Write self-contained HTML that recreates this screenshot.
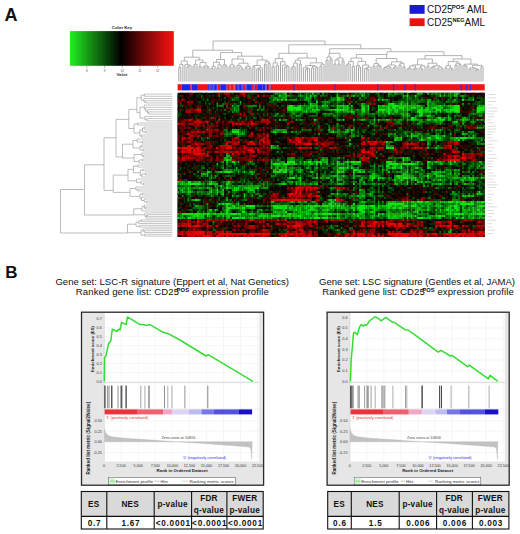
<!DOCTYPE html>
<html><head><meta charset="utf-8"><style>
html,body{margin:0;padding:0;background:#fff;}
body{width:520px;height:534px;position:relative;overflow:hidden;font-family:"Liberation Sans", sans-serif;}
</style></head><body>
<svg width="520" height="534" viewBox="0 0 520 534" style="position:absolute;left:0;top:0">
<defs>
<filter id="blur1" x="-2%" y="-2%" width="104%" height="104%" color-interpolation-filters="sRGB"><feGaussianBlur stdDeviation="0.7"/></filter>
<filter id="blur2" x="-1%" y="-20%" width="102%" height="140%" color-interpolation-filters="sRGB"><feGaussianBlur stdDeviation="0.6 0.3"/></filter>
<linearGradient id="ckey" x1="0" x2="1" y1="0" y2="0">
<stop offset="0" stop-color="#22ee22"/><stop offset="0.49" stop-color="#000"/><stop offset="1" stop-color="#ff1010"/>
</linearGradient>
</defs>
<text x="4.6" y="20.6" font-family='"Liberation Sans", sans-serif' font-weight="bold" font-size="18" fill="#111">A</text>
<rect x="70" y="31.1" width="103.8" height="34.7" fill="url(#ckey)"/>
<text x="122" y="28.6" font-family='"Liberation Sans", sans-serif' font-size="4.3" font-weight="bold" text-anchor="middle" fill="#222">Color Key</text>
<line x1="86.9" y1="66" x2="86.9" y2="68" stroke="#555" stroke-width="0.4"/>
<text x="86.9" y="72.2" font-family='"Liberation Sans", sans-serif' font-size="3.0" text-anchor="middle" fill="#555">8</text>
<line x1="104.6" y1="66" x2="104.6" y2="68" stroke="#555" stroke-width="0.4"/>
<text x="104.6" y="72.2" font-family='"Liberation Sans", sans-serif' font-size="3.0" text-anchor="middle" fill="#555">9</text>
<line x1="122.2" y1="66" x2="122.2" y2="68" stroke="#555" stroke-width="0.4"/>
<text x="122.2" y="72.2" font-family='"Liberation Sans", sans-serif' font-size="3.0" text-anchor="middle" fill="#555">10</text>
<line x1="139.9" y1="66" x2="139.9" y2="68" stroke="#555" stroke-width="0.4"/>
<text x="139.9" y="72.2" font-family='"Liberation Sans", sans-serif' font-size="3.0" text-anchor="middle" fill="#555">11</text>
<line x1="157.6" y1="66" x2="157.6" y2="68" stroke="#555" stroke-width="0.4"/>
<text x="157.6" y="72.2" font-family='"Liberation Sans", sans-serif' font-size="3.0" text-anchor="middle" fill="#555">12</text>
<text x="122" y="76.4" font-family='"Liberation Sans", sans-serif' font-size="4.2" font-weight="bold" text-anchor="middle" fill="#333">Value</text>
<path d="M178.8 67.5V81.6M180.8 67.5V81.6M182.9 64.4V81.6M186.9 66.9V81.6M189.0 66.9V81.6M191.0 65.7V81.6M184.9 64.7V81.6M193.0 66.3V81.6M195.0 66.3V81.6M197.0 64.4V81.6M199.0 66.6V81.6M201.0 66.6V81.6M203.0 66.9V81.6M205.0 66.9V81.6M207.0 67.3V81.6M209.0 67.3V81.6M211.0 68.2V81.6M213.0 68.2V81.6M215.0 66.4V81.6M217.0 67.8V81.6M219.0 67.8V81.6M221.0 64.8V81.6M225.0 65.8V81.6M227.0 65.8V81.6M223.0 64.8V81.6M229.0 67.1V81.6M231.0 67.1V81.6M233.0 66.7V81.6M235.0 66.7V81.6M241.0 68.8V81.6M243.0 68.8V81.6M239.0 67.0V81.6M237.0 65.5V81.6M245.0 67.9V81.6M247.0 67.9V81.6M249.0 68.2V81.6M251.0 68.2V81.6M252.9 66.5V81.6M254.8 66.5V81.6M258.6 69.7V81.6M260.6 69.7V81.6M256.8 68.8V81.6M262.4 67.9V81.6M264.4 64.5V81.6M266.2 64.5V81.6M268.1 63.3V81.6M270.1 63.3V81.6M272.1 66.7V81.6M274.2 66.7V81.6M276.3 65.6V81.6M278.4 65.6V81.6M284.7 67.5V81.6M286.8 67.5V81.6M288.9 66.4V81.6M282.6 65.1V81.6M280.5 61.7V81.6M291.0 67.9V81.6M293.1 67.9V81.6M295.1 66.7V81.6M297.2 63.0V81.6M299.3 64.2V81.6M301.3 64.2V81.6M305.4 69.5V81.6M307.5 69.5V81.6M309.6 68.6V81.6M303.4 67.7V81.6M311.6 68.0V81.6M313.7 68.0V81.6M315.7 67.7V81.6M317.8 67.7V81.6M319.9 66.3V81.6M321.9 66.3V81.6M324.0 64.2V81.6M326.0 60.5V81.6M328.0 60.5V81.6M330.0 59.2V81.6M332.0 59.2V81.6M334.0 64.1V81.6M336.0 64.1V81.6M338.0 64.0V81.6M340.0 64.0V81.6M342.0 60.8V81.6M344.0 60.8V81.6M346.0 65.3V81.6M348.1 65.3V81.6M350.2 64.0V81.6M352.3 66.2V81.6M354.3 66.2V81.6M358.5 67.0V81.6M360.6 67.0V81.6M356.4 65.5V81.6M366.8 69.5V81.6M368.9 69.5V81.6M364.7 68.6V81.6M371.0 67.2V81.6M362.7 65.0V81.6M373.0 66.2V81.6M375.0 66.2V81.6M379.0 66.2V81.6M381.0 66.2V81.6M377.0 65.3V81.6M383.0 68.8V81.6M385.0 68.8V81.6M387.0 67.5V81.6M389.0 67.7V81.6M391.0 67.7V81.6M393.0 67.9V81.6M395.0 67.9V81.6M397.0 66.9V81.6M399.0 65.0V81.6M401.0 65.0V81.6M403.0 67.0V81.6M405.0 67.0V81.6M407.0 69.0V81.6M409.0 69.0V81.6M411.0 68.0V81.6M413.0 69.1V81.6M415.0 69.1V81.6M417.0 68.2V81.6M421.0 69.4V81.6M423.0 69.4V81.6M419.0 67.9V81.6M425.0 65.9V81.6M427.0 66.4V81.6M429.0 66.4V81.6M431.0 67.6V81.6M433.0 67.6V81.6M435.0 66.7V81.6M437.0 68.9V81.6M439.0 68.9V81.6M441.0 68.8V81.6M443.0 68.8V81.6M445.0 68.0V81.6M447.0 68.0V81.6M451.0 69.0V81.6M453.0 69.0V81.6M449.0 68.0V81.6M455.0 65.1V81.6M457.0 65.1V81.6M459.0 64.5V81.6M461.0 64.5V81.6M465.0 66.2V81.6M467.0 66.2V81.6M463.0 65.2V81.6M469.0 68.9V81.6M471.0 68.9V81.6M475.0 70.5V81.6M477.0 70.5V81.6M479.0 69.6V81.6M473.0 68.7V81.6M481.0 66.7V81.6M483.0 66.7V81.6" stroke="#a6a6a6" stroke-width="1.0" fill="none"/>
<path d="M178.8 67.5H180.8M179.8 64.4H182.9M179.8 64.4V67.5M186.9 66.9H189.0M187.9 65.7H191.0M187.9 65.7V66.9M184.9 64.7H189.5M189.5 64.7V65.7M181.3 61.0H187.2M181.3 61.0V64.4M187.2 61.0V64.7M193.0 66.3H195.0M194.0 64.4H197.0M194.0 64.4V66.3M199.0 66.6H201.0M203.0 66.9H205.0M207.0 67.3H209.0M204.0 66.0H208.0M204.0 66.0V66.9M208.0 66.0V67.3M200.0 62.5H206.0M200.0 62.5V66.6M206.0 62.5V66.0M195.5 60.0H203.0M195.5 60.0V64.4M203.0 60.0V62.5M184.3 57.2H199.2M184.3 57.2V61.0M199.2 57.2V60.0M211.0 68.2H213.0M212.0 66.4H215.0M212.0 66.4V68.2M217.0 67.8H219.0M218.0 64.8H221.0M218.0 64.8V67.8M213.5 62.3H219.5M213.5 62.3V66.4M219.5 62.3V64.8M225.0 65.8H227.0M223.0 64.8H226.0M226.0 64.8V65.8M216.5 59.5H224.5M216.5 59.5V62.3M224.5 59.5V64.8M229.0 67.1H231.0M233.0 66.7H235.0M230.0 64.9H234.0M230.0 64.9V67.1M234.0 64.9V66.7M241.0 68.8H243.0M239.0 67.0H242.0M242.0 67.0V68.8M237.0 65.5H240.5M240.5 65.5V67.0M245.0 67.9H247.0M249.0 68.2H251.0M246.0 66.3H250.0M246.0 66.3V67.9M250.0 66.3V68.2M238.8 63.2H248.0M238.8 63.2V65.5M248.0 63.2V66.3M232.0 59.0H243.4M232.0 59.0V64.9M243.4 59.0V63.2M252.9 66.5H254.8M258.6 69.7H260.6M256.8 68.8H259.6M259.6 68.8V69.7M258.2 67.9H262.4M258.2 67.9V68.8M253.9 65.5H260.3M253.9 65.5V66.5M260.3 65.5V67.9M264.4 64.5H266.2M268.1 63.3H270.1M265.3 61.7H269.1M265.3 61.7V64.5M269.1 61.7V63.3M257.1 60.0H267.2M257.1 60.0V65.5M267.2 60.0V61.7M237.7 56.2H262.2M237.7 56.2V59.0M262.2 56.2V60.0M220.5 52.6H241.7M220.5 52.6V59.5M241.7 52.6V56.2M192.8 50.2H232.6M192.8 50.2V57.2M232.6 50.2V52.6M272.1 66.7H274.2M276.3 65.6H278.4M273.1 62.9H277.3M273.1 62.9V66.7M277.3 62.9V65.6M284.7 67.5H286.8M285.8 66.4H288.9M285.8 66.4V67.5M282.6 65.1H287.4M287.4 65.1V66.4M280.5 61.7H285.0M285.0 61.7V65.1M275.2 58.5H282.7M275.2 58.5V62.9M282.7 58.5V61.7M291.0 67.9H293.1M292.1 66.7H295.1M292.1 66.7V67.9M293.6 63.0H297.2M293.6 63.0V66.7M299.3 64.2H301.3M295.4 60.1H300.3M295.4 60.1V63.0M300.3 60.1V64.2M305.4 69.5H307.5M306.5 68.6H309.6M306.5 68.6V69.5M303.4 67.7H308.0M308.0 67.7V68.6M311.6 68.0H313.7M315.7 67.7H317.8M312.6 66.4H316.8M312.6 66.4V68.0M316.8 66.4V67.7M305.7 65.5H314.7M305.7 65.5V67.7M314.7 65.5V66.4M319.9 66.3H321.9M320.9 64.2H324.0M320.9 64.2V66.3M310.2 62.8H322.4M310.2 62.8V65.5M322.4 62.8V64.2M297.8 58.0H316.3M297.8 58.0V60.1M316.3 58.0V62.8M279.0 53.3H307.1M279.0 53.3V58.5M307.1 53.3V58.0M326.0 60.5H328.0M330.0 59.2H332.0M327.0 57.0H331.0M327.0 57.0V60.5M331.0 57.0V59.2M334.0 64.1H336.0M338.0 64.0H340.0M335.0 60.0H339.0M335.0 60.0V64.1M339.0 60.0V64.0M342.0 60.8H344.0M337.0 58.0H343.0M337.0 58.0V60.0M343.0 58.0V60.8M329.0 53.3H340.0M329.0 53.3V57.0M340.0 53.3V58.0M346.0 65.3H348.1M347.1 64.0H350.2M347.1 64.0V65.3M352.3 66.2H354.3M348.6 61.6H353.3M348.6 61.6V64.0M353.3 61.6V66.2M358.5 67.0H360.6M356.4 65.5H359.5M359.5 65.5V67.0M366.8 69.5H368.9M364.7 68.6H367.8M367.8 68.6V69.5M366.3 67.2H371.0M366.3 67.2V68.6M362.7 65.0H368.6M368.6 65.0V67.2M358.0 61.4H365.6M358.0 61.4V65.5M365.6 61.4V65.0M351.0 58.0H361.8M351.0 58.0V61.6M361.8 58.0V61.4M373.0 66.2H375.0M379.0 66.2H381.0M377.0 65.3H380.0M380.0 65.3V66.2M374.0 63.6H378.5M374.0 63.6V66.2M378.5 63.6V65.3M383.0 68.8H385.0M384.0 67.5H387.0M384.0 67.5V68.8M389.0 67.7H391.0M385.5 66.6H390.0M385.5 66.6V67.5M390.0 66.6V67.7M393.0 67.9H395.0M394.0 66.9H397.0M394.0 66.9V67.9M387.8 65.0H395.5M387.8 65.0V66.6M395.5 65.0V66.9M399.0 65.0H401.0M403.0 67.0H405.0M400.0 63.3H404.0M400.0 63.3V65.0M404.0 63.3V67.0M391.6 61.8H402.0M391.6 61.8V65.0M402.0 61.8V63.3M376.2 58.5H396.8M376.2 58.5V63.6M396.8 58.5V61.8M356.4 54.5H387.0M356.4 54.5V58.0M386.5 54.5V58.5M407.0 69.0H409.0M408.0 68.0H411.0M408.0 68.0V69.0M413.0 69.1H415.0M414.0 68.2H417.0M414.0 68.2V69.1M409.5 65.9H415.5M409.5 65.9V68.0M415.5 65.9V68.2M421.0 69.4H423.0M419.0 67.9H422.0M422.0 67.9V69.4M420.5 65.9H425.0M420.5 65.9V67.9M412.5 64.9H422.8M412.5 64.9V65.9M422.8 64.9V65.9M427.0 66.4H429.0M431.0 67.6H433.0M432.0 66.7H435.0M432.0 66.7V67.6M437.0 68.9H439.0M441.0 68.8H443.0M438.0 67.2H442.0M438.0 67.2V68.9M442.0 67.2V68.8M433.5 65.8H440.0M433.5 65.8V66.7M440.0 65.8V67.2M428.0 63.2H436.8M428.0 63.2V66.4M436.8 63.2V65.8M417.6 59.0H432.4M417.6 59.0V64.9M432.4 59.0V63.2M445.0 68.0H447.0M451.0 69.0H453.0M449.0 68.0H452.0M452.0 68.0V69.0M446.0 65.7H450.5M446.0 65.7V68.0M450.5 65.7V68.0M455.0 65.1H457.0M459.0 64.5H461.0M456.0 63.2H460.0M456.0 63.2V65.1M460.0 63.2V64.5M448.2 61.6H458.0M448.2 61.6V65.7M458.0 61.6V63.2M465.0 66.2H467.0M463.0 65.2H466.0M466.0 65.2V66.2M469.0 68.9H471.0M475.0 70.5H477.0M476.0 69.6H479.0M476.0 69.6V70.5M473.0 68.7H477.5M477.5 68.7V69.6M470.0 67.8H475.2M470.0 67.8V68.9M475.2 67.8V68.7M481.0 66.7H483.0M472.6 65.3H482.0M472.6 65.3V67.8M482.0 65.3V66.7M464.5 64.1H477.3M464.5 64.1V65.2M477.3 64.1V65.3M453.1 59.0H470.9M453.1 59.0V61.6M470.9 59.0V64.1M425.0 55.6H462.0M425.0 55.6V59.0M462.0 55.6V59.0M387.0 51.7H444.0M387.0 51.7V54.5M444.0 51.7V55.6M329.7 48.7H390.9M329.7 48.7V53.3M390.9 48.7V51.7M288.8 44.8H360.8M288.8 44.8V53.3M360.8 44.8V48.7M213.0 41.0H325.0M213.0 41.0V50.2M325.0 41.0V44.8" stroke="#9c9c9c" stroke-width="0.75" fill="none"/>
<path d="M144.3 94.1H172.3M144.3 96.3H172.3M145.2 100.7H172.3M145.2 102.9H172.3M143.9 98.5H172.3M148.6 111.9H172.3M148.6 114.1H172.3M147.6 109.6H172.3M145.7 107.4H172.3M144.3 105.1H172.3M146.8 118.6H172.3M146.8 120.9H172.3M144.9 116.4H172.3M137.5 123.0H172.3M137.5 125.0H172.3M144.1 127.0H172.3M144.1 129.0H172.3M145.3 131.0H172.3M145.3 133.0H172.3M141.3 135.0H172.3M141.3 137.0H172.3M142.3 141.0H172.3M142.3 143.0H172.3M137.2 139.0H172.3M141.7 145.0H172.3M141.7 147.0H172.3M142.9 149.0H172.3M142.9 151.0H172.3M143.6 155.0H172.3M143.6 157.0H172.3M141.8 153.0H172.3M142.3 159.0H172.3M142.3 161.0H172.3M139.0 163.0H172.3M137.8 165.0H172.3M137.8 167.0H172.3M142.6 169.0H172.3M142.6 171.0H172.3M145.3 173.0H172.3M145.3 175.0H172.3M141.8 177.0H172.3M143.6 183.0H172.3M143.6 185.0H172.3M141.0 181.0H172.3M136.6 179.0H172.3M138.1 189.0H172.3M138.1 191.0H172.3M135.9 187.0H172.3M142.1 193.0H172.3M142.1 195.0H172.3M146.6 201.0H172.3M146.6 203.0H172.3M144.2 199.0H172.3M141.6 197.0H172.3M145.3 207.0H172.3M145.3 209.0H172.3M144.3 205.0H172.3M142.0 211.0H172.3M147.4 214.6H172.3M147.4 216.4H172.3M146.4 218.1H172.3M145.0 212.9H172.3M141.2 219.9H172.3M141.2 221.7H172.3M138.8 223.5H172.3M139.6 225.3H172.3M139.6 227.1H172.3M144.5 230.7H172.3M144.5 232.5H172.3M143.1 228.9H172.3M144.5 234.3H172.3M144.5 236.1H172.3" stroke="#b8b8b8" stroke-width="0.8" fill="none"/>
<path d="M144.3 94.1V96.3M145.2 100.7V102.9M143.9 98.5V101.8M143.9 101.8H145.2M141.2 95.2V100.2M141.2 95.2H144.3M141.2 100.2H143.9M148.6 111.9V114.1M147.6 109.6V113.0M147.6 113.0H148.6M145.7 107.4V111.3M145.7 111.3H147.6M144.3 105.1V109.3M144.3 109.3H145.7M146.8 118.6V120.9M144.9 116.4V119.8M144.9 119.8H146.8M140.0 107.2V118.1M140.0 107.2H144.3M140.0 118.1H144.9M136.9 97.7V112.6M136.9 97.7H141.2M136.9 112.6H140.0M137.5 123.0V125.0M144.1 127.0V129.0M145.3 131.0V133.0M142.5 128.0V132.0M142.5 128.0H144.1M142.5 132.0H145.3M141.3 135.0V137.0M139.8 130.0V136.0M139.8 130.0H142.5M139.8 136.0H141.3M134.0 124.0V133.0M134.0 124.0H137.5M134.0 133.0H139.8M128.8 109.4V128.5M128.8 109.4H136.9M128.8 128.5H134.0M142.3 141.0V143.0M137.2 139.0V142.0M137.2 142.0H142.3M141.7 145.0V147.0M142.9 149.0V151.0M140.1 146.0V150.0M140.1 146.0H141.7M140.1 150.0H142.9M133.0 140.5V148.0M133.0 140.5H137.2M133.0 148.0H140.1M143.6 155.0V157.0M141.8 153.0V156.0M141.8 156.0H143.6M142.3 159.0V161.0M139.0 160.0V163.0M139.0 160.0H142.3M134.0 154.5V161.5M134.0 154.5H141.8M134.0 161.5H139.0M122.5 144.2V158.0M122.5 144.2H133.0M122.5 158.0H134.0M116.0 119.4V157.0M116.0 119.4H128.8M116.0 157.0H122.5M137.8 165.0V167.0M142.6 169.0V171.0M145.3 173.0V175.0M141.8 174.0V177.0M141.8 174.0H145.3M140.3 170.0V175.5M140.3 170.0H142.6M140.3 175.5H141.8M133.4 166.0V172.8M133.4 166.0H137.8M133.4 172.8H140.3M143.6 183.0V185.0M141.0 181.0V184.0M141.0 184.0H143.6M136.6 179.0V182.5M136.6 182.5H141.0M128.0 169.4V180.8M128.0 169.4H133.4M128.0 180.8H136.6M138.1 189.0V191.0M135.9 187.0V190.0M135.9 190.0H138.1M142.1 193.0V195.0M146.6 201.0V203.0M144.2 199.0V202.0M144.2 202.0H146.6M141.6 197.0V200.5M141.6 200.5H144.2M140.0 194.0V198.8M140.0 194.0H142.1M140.0 198.8H141.6M130.0 188.5V196.4M130.0 188.5H135.9M130.0 196.4H140.0M113.2 175.1V192.4M113.2 175.1H128.0M113.2 192.4H130.0M104.0 137.8V190.4M104.0 137.8H116.0M104.0 190.4H113.2M145.3 207.0V209.0M144.3 205.0V208.0M144.3 208.0H145.3M142.0 206.5V211.0M142.0 206.5H144.3M147.4 214.6V216.4M146.4 215.5V218.1M146.4 215.5H147.4M145.0 212.9V216.8M145.0 216.8H146.4M133.7 208.8V215.0M133.7 208.8H142.0M133.7 214.8H145.0M84.5 164.8V215.0M84.5 164.8H104.0M84.5 215.0H133.7M141.2 219.9V221.7M138.8 220.8V223.5M138.8 220.8H141.2M139.6 225.3V227.1M136.0 222.2V226.2M136.0 222.2H138.8M136.0 226.2H139.6M144.5 230.7V232.5M143.1 228.9V231.6M143.1 231.6H144.5M144.5 234.3V236.1M141.0 230.2V235.2M141.0 230.2H143.1M141.0 235.2H144.5M127.5 224.2V233.0M127.5 224.2H136.0M127.5 232.7H141.0M60.5 189.5V233.0M60.5 189.5H84.5M60.5 233.0H127.5" stroke="#a0a0a0" stroke-width="0.7" fill="none"/>
<g filter="url(#blur2)">
<rect x="177.60" y="84.2" width="4.10" height="6.2" fill="#f21414"/>
<rect x="181.60" y="84.2" width="8.70" height="6.2" fill="#2224e6"/>
<rect x="190.20" y="84.2" width="1.40" height="6.2" fill="#e0142e"/>
<rect x="191.55" y="84.2" width="0.50" height="6.2" fill="#2224e6"/>
<rect x="192.00" y="84.2" width="5.90" height="6.2" fill="#2224e6"/>
<rect x="197.80" y="84.2" width="10.40" height="6.2" fill="#f21414"/>
<rect x="208.10" y="84.2" width="1.40" height="6.2" fill="#2224e6"/>
<rect x="209.45" y="84.2" width="1.40" height="6.2" fill="#2224e6"/>
<rect x="210.80" y="84.2" width="1.40" height="6.2" fill="#e0142e"/>
<rect x="212.15" y="84.2" width="1.40" height="6.2" fill="#2224e6"/>
<rect x="213.50" y="84.2" width="1.40" height="6.2" fill="#2224e6"/>
<rect x="214.85" y="84.2" width="1.40" height="6.2" fill="#2224e6"/>
<rect x="216.20" y="84.2" width="1.40" height="6.2" fill="#2224e6"/>
<rect x="217.55" y="84.2" width="0.20" height="6.2" fill="#e0142e"/>
<rect x="217.70" y="84.2" width="2.70" height="6.2" fill="#f21414"/>
<rect x="220.30" y="84.2" width="6.30" height="6.2" fill="#2224e6"/>
<rect x="226.50" y="84.2" width="1.40" height="6.2" fill="#e0142e"/>
<rect x="227.85" y="84.2" width="1.40" height="6.2" fill="#e0142e"/>
<rect x="229.20" y="84.2" width="1.40" height="6.2" fill="#e0142e"/>
<rect x="230.55" y="84.2" width="1.40" height="6.2" fill="#e0142e"/>
<rect x="231.90" y="84.2" width="0.15" height="6.2" fill="#2224e6"/>
<rect x="232.00" y="84.2" width="1.40" height="6.2" fill="#e0142e"/>
<rect x="233.35" y="84.2" width="1.20" height="6.2" fill="#e0142e"/>
<rect x="234.50" y="84.2" width="1.40" height="6.2" fill="#e0142e"/>
<rect x="235.85" y="84.2" width="1.40" height="6.2" fill="#2224e6"/>
<rect x="237.20" y="84.2" width="1.40" height="6.2" fill="#2224e6"/>
<rect x="238.55" y="84.2" width="1.40" height="6.2" fill="#2224e6"/>
<rect x="239.90" y="84.2" width="1.15" height="6.2" fill="#2224e6"/>
<rect x="241.00" y="84.2" width="1.40" height="6.2" fill="#e0142e"/>
<rect x="242.35" y="84.2" width="1.40" height="6.2" fill="#2224e6"/>
<rect x="243.70" y="84.2" width="0.35" height="6.2" fill="#2224e6"/>
<rect x="244.00" y="84.2" width="1.40" height="6.2" fill="#e0142e"/>
<rect x="245.35" y="84.2" width="1.20" height="6.2" fill="#2224e6"/>
<rect x="246.50" y="84.2" width="5.40" height="6.2" fill="#2224e6"/>
<rect x="251.80" y="84.2" width="1.40" height="6.2" fill="#e0142e"/>
<rect x="253.15" y="84.2" width="1.40" height="6.2" fill="#e0142e"/>
<rect x="254.50" y="84.2" width="1.40" height="6.2" fill="#2224e6"/>
<rect x="255.85" y="84.2" width="1.40" height="6.2" fill="#e0142e"/>
<rect x="257.20" y="84.2" width="0.85" height="6.2" fill="#2224e6"/>
<rect x="258.00" y="84.2" width="4.70" height="6.2" fill="#2224e6"/>
<rect x="262.60" y="84.2" width="1.40" height="6.2" fill="#2224e6"/>
<rect x="263.95" y="84.2" width="1.40" height="6.2" fill="#2224e6"/>
<rect x="265.30" y="84.2" width="1.40" height="6.2" fill="#e0142e"/>
<rect x="266.65" y="84.2" width="1.40" height="6.2" fill="#2224e6"/>
<rect x="268.00" y="84.2" width="1.40" height="6.2" fill="#e0142e"/>
<rect x="269.35" y="84.2" width="1.40" height="6.2" fill="#e0142e"/>
<rect x="270.70" y="84.2" width="0.35" height="6.2" fill="#2224e6"/>
<rect x="271.00" y="84.2" width="213.70" height="6.2" fill="#f21414"/>
<rect x="293.20" y="84.2" width="1.40" height="6.2" fill="#4a2ad8"/>
<rect x="334.30" y="84.2" width="1.40" height="6.2" fill="#4a2ad8"/>
<rect x="377.00" y="84.2" width="1.40" height="6.2" fill="#4a2ad8"/>
<rect x="392.85" y="84.2" width="1.40" height="6.2" fill="#4a2ad8"/>
<rect x="404.20" y="84.2" width="1.40" height="6.2" fill="#4a2ad8"/>
<rect x="414.75" y="84.2" width="1.40" height="6.2" fill="#4a2ad8"/>
<rect x="460.50" y="84.2" width="1.40" height="6.2" fill="#4a2ad8"/>
<rect x="465.95" y="84.2" width="1.40" height="6.2" fill="#4a2ad8"/>
<rect x="469.55" y="84.2" width="1.40" height="6.2" fill="#4a2ad8"/>
</g>
<g filter="url(#blur1)">
<rect x="177.60" y="92.80" width="307.00" height="144.20" fill="#000"/>
<path fill="#14e414" d="M278.7 94.8h2.2v2.1h-2.2zM309.6 94.8h2.2v2.1h-2.2zM361.1 94.8h2.2v2.1h-2.2zM406.4 94.8h2.2v2.1h-2.2zM414.6 94.8h2.2v2.1h-2.2zM336.4 96.8h4.2v2.1h-4.2zM276.7 98.8h2.2v2.1h-2.2zM280.8 98.8h2.2v2.1h-2.2zM284.9 98.8h2.2v2.1h-2.2zM336.4 98.8h4.2v2.1h-4.2zM342.6 98.8h2.2v2.1h-2.2zM377.6 98.8h2.2v2.1h-2.2zM381.7 98.8h2.2v2.1h-2.2zM462.0 98.8h2.2v2.1h-2.2zM315.8 100.8h2.2v2.1h-2.2zM309.6 102.8h2.2v2.1h-2.2zM389.9 102.8h4.2v2.1h-4.2zM400.2 102.8h2.2v2.1h-2.2zM406.4 102.8h2.2v2.1h-2.2zM289.0 104.8h4.2v2.1h-4.2zM299.3 104.8h2.2v2.1h-2.2zM309.6 104.8h2.2v2.1h-2.2zM322.0 104.8h2.2v2.1h-2.2zM336.4 104.8h2.2v2.1h-2.2zM346.7 104.8h2.2v2.1h-2.2zM361.1 104.8h2.2v2.1h-2.2zM367.3 104.8h2.2v2.1h-2.2zM377.6 104.8h2.2v2.1h-2.2zM381.7 104.8h2.2v2.1h-2.2zM387.8 104.8h2.2v2.1h-2.2zM392.0 104.8h6.3v2.1h-6.3zM400.2 104.8h2.2v2.1h-2.2zM406.4 104.8h2.2v2.1h-2.2zM416.7 104.8h2.2v2.1h-2.2zM439.3 104.8h2.2v2.1h-2.2zM453.7 104.8h6.3v2.1h-6.3zM478.4 104.8h2.2v2.1h-2.2zM287.0 106.8h14.5v2.1h-14.5zM336.4 106.8h2.2v2.1h-2.2zM342.6 106.8h2.2v2.1h-2.2zM346.7 106.8h2.2v2.1h-2.2zM361.1 106.8h4.2v2.1h-4.2zM367.3 106.8h2.2v2.1h-2.2zM387.8 106.8h2.2v2.1h-2.2zM392.0 106.8h4.2v2.1h-4.2zM398.1 106.8h6.3v2.1h-6.3zM406.4 106.8h2.2v2.1h-2.2zM410.5 106.8h6.3v2.1h-6.3zM420.8 106.8h2.2v2.1h-2.2zM433.1 106.8h4.2v2.1h-4.2zM441.4 106.8h2.2v2.1h-2.2zM453.7 106.8h6.3v2.1h-6.3zM476.4 106.8h8.3v2.1h-8.3zM289.0 108.8h4.2v2.1h-4.2zM295.2 108.8h6.3v2.1h-6.3zM311.7 108.8h2.2v2.1h-2.2zM315.8 108.8h2.2v2.1h-2.2zM330.2 108.8h2.2v2.1h-2.2zM334.3 108.8h10.4v2.1h-10.4zM361.1 108.8h4.2v2.1h-4.2zM377.6 108.8h8.3v2.1h-8.3zM387.8 108.8h2.2v2.1h-2.2zM396.1 108.8h2.2v2.1h-2.2zM402.3 108.8h2.2v2.1h-2.2zM406.4 108.8h2.2v2.1h-2.2zM418.7 108.8h4.2v2.1h-4.2zM427.0 108.8h2.2v2.1h-2.2zM435.2 108.8h6.3v2.1h-6.3zM445.5 108.8h2.2v2.1h-2.2zM449.6 108.8h10.4v2.1h-10.4zM476.4 108.8h8.3v2.1h-8.3zM305.5 110.8h2.2v2.1h-2.2zM336.4 110.8h2.2v2.1h-2.2zM350.8 110.8h2.2v2.1h-2.2zM363.1 110.8h2.2v2.1h-2.2zM381.7 110.8h2.2v2.1h-2.2zM387.8 110.8h2.2v2.1h-2.2zM416.7 110.8h6.3v2.1h-6.3zM429.0 110.8h2.2v2.1h-2.2zM435.2 110.8h2.2v2.1h-2.2zM439.3 110.8h2.2v2.1h-2.2zM449.6 110.8h2.2v2.1h-2.2zM453.7 110.8h6.3v2.1h-6.3zM476.4 110.8h4.2v2.1h-4.2zM387.8 112.8h2.2v2.1h-2.2zM406.4 112.8h2.2v2.1h-2.2zM420.8 112.8h2.2v2.1h-2.2zM406.4 114.8h2.2v2.1h-2.2zM418.7 114.8h4.2v2.1h-4.2zM427.0 114.8h2.2v2.1h-2.2zM410.5 116.8h4.2v2.1h-4.2zM437.3 116.8h4.2v2.1h-4.2zM313.7 118.8h2.2v2.1h-2.2zM342.6 118.8h2.2v2.1h-2.2zM373.4 118.8h2.2v2.1h-2.2zM377.6 118.8h2.2v2.1h-2.2zM410.5 118.8h4.2v2.1h-4.2zM427.0 118.8h2.2v2.1h-2.2zM439.3 118.8h6.3v2.1h-6.3zM462.0 118.8h2.2v2.1h-2.2zM476.4 118.8h2.2v2.1h-2.2zM480.5 118.8h2.2v2.1h-2.2zM455.8 120.8h2.2v2.1h-2.2zM237.6 128.8h2.0v2.1h-2.0zM231.8 130.9h7.8v2.1h-7.8zM332.3 130.9h2.2v2.1h-2.2zM410.5 132.9h2.2v2.1h-2.2zM410.5 134.9h2.2v2.1h-2.2zM435.2 134.9h2.2v2.1h-2.2zM443.4 134.9h2.2v2.1h-2.2zM400.2 136.9h2.2v2.1h-2.2zM429.0 136.9h2.2v2.1h-2.2zM435.2 136.9h4.2v2.1h-4.2zM455.8 136.9h2.2v2.1h-2.2zM459.9 136.9h6.3v2.1h-6.3zM470.2 136.9h2.2v2.1h-2.2zM394.0 138.9h2.2v2.1h-2.2zM420.8 138.9h2.2v2.1h-2.2zM457.8 138.9h2.2v2.1h-2.2zM270.5 144.9h2.2v2.1h-2.2zM385.8 146.9h4.2v2.1h-4.2zM392.0 146.9h2.2v2.1h-2.2zM435.2 146.9h2.2v2.1h-2.2zM402.3 156.9h2.2v2.1h-2.2zM406.4 156.9h2.2v2.1h-2.2zM226.0 158.9h2.0v2.1h-2.0zM402.3 158.9h2.2v2.1h-2.2zM287.0 160.9h8.3v2.1h-8.3zM303.4 160.9h2.2v2.1h-2.2zM307.6 160.9h4.2v2.1h-4.2zM315.8 160.9h2.2v2.1h-2.2zM319.9 160.9h2.2v2.1h-2.2zM336.4 160.9h2.2v2.1h-2.2zM346.7 160.9h2.2v2.1h-2.2zM350.8 160.9h4.2v2.1h-4.2zM357.0 160.9h4.2v2.1h-4.2zM385.8 160.9h4.2v2.1h-4.2zM427.0 160.9h2.2v2.1h-2.2zM435.2 160.9h2.2v2.1h-2.2zM453.7 160.9h2.2v2.1h-2.2zM272.6 162.9h8.3v2.1h-8.3zM282.9 162.9h6.3v2.1h-6.3zM293.1 162.9h2.2v2.1h-2.2zM309.6 162.9h2.2v2.1h-2.2zM315.8 162.9h2.2v2.1h-2.2zM336.4 162.9h2.2v2.1h-2.2zM387.8 162.9h10.4v2.1h-10.4zM402.3 162.9h12.5v2.1h-12.5zM449.6 162.9h2.2v2.1h-2.2zM385.8 164.9h2.2v2.1h-2.2zM400.2 164.9h2.2v2.1h-2.2zM338.4 166.9h6.3v2.1h-6.3zM346.7 166.9h2.2v2.1h-2.2zM350.8 166.9h2.2v2.1h-2.2zM392.0 166.9h2.2v2.1h-2.2zM400.2 166.9h2.2v2.1h-2.2zM278.7 168.9h4.2v2.1h-4.2zM284.9 168.9h2.2v2.1h-2.2zM336.4 168.9h2.2v2.1h-2.2zM352.8 168.9h4.2v2.1h-4.2zM220.2 170.9h2.0v2.1h-2.0zM224.1 170.9h7.8v2.1h-7.8zM272.6 170.9h2.2v2.1h-2.2zM276.7 170.9h4.2v2.1h-4.2zM282.9 170.9h4.2v2.1h-4.2zM336.4 170.9h4.2v2.1h-4.2zM359.0 170.9h2.2v2.1h-2.2zM406.4 170.9h2.2v2.1h-2.2zM402.3 172.9h2.2v2.1h-2.2zM435.2 172.9h2.2v2.1h-2.2zM336.4 174.9h2.2v2.1h-2.2zM342.6 174.9h2.2v2.1h-2.2zM369.3 174.9h2.2v2.1h-2.2zM373.4 174.9h2.2v2.1h-2.2zM396.1 174.9h4.2v2.1h-4.2zM402.3 174.9h2.2v2.1h-2.2zM406.4 174.9h2.2v2.1h-2.2zM427.0 174.9h2.2v2.1h-2.2zM439.3 174.9h2.2v2.1h-2.2zM291.1 176.9h4.2v2.1h-4.2zM299.3 176.9h2.2v2.1h-2.2zM315.8 176.9h2.2v2.1h-2.2zM336.4 176.9h2.2v2.1h-2.2zM371.4 176.9h4.2v2.1h-4.2zM377.6 176.9h2.2v2.1h-2.2zM398.1 176.9h2.2v2.1h-2.2zM402.3 176.9h6.3v2.1h-6.3zM410.5 176.9h2.2v2.1h-2.2zM414.6 176.9h2.2v2.1h-2.2zM464.0 176.9h2.2v2.1h-2.2zM468.1 176.9h2.2v2.1h-2.2zM472.2 176.9h2.2v2.1h-2.2zM480.5 176.9h2.2v2.1h-2.2zM299.3 178.9h2.2v2.1h-2.2zM336.4 178.9h2.2v2.1h-2.2zM371.4 178.9h2.2v2.1h-2.2zM400.2 178.9h2.2v2.1h-2.2zM414.6 178.9h2.2v2.1h-2.2zM439.3 178.9h2.2v2.1h-2.2zM472.2 178.9h2.2v2.1h-2.2zM181.5 180.9h2.0v2.1h-2.0zM187.3 180.9h4.0v2.1h-4.0zM210.5 180.9h2.0v2.1h-2.0zM227.9 180.9h2.0v2.1h-2.0zM406.4 180.9h2.2v2.1h-2.2zM181.5 182.9h2.0v2.1h-2.0zM187.3 182.9h13.6v2.1h-13.6zM208.6 182.9h4.0v2.1h-4.0zM226.0 182.9h2.0v2.1h-2.0zM282.9 182.9h2.2v2.1h-2.2zM406.4 182.9h2.2v2.1h-2.2zM439.3 182.9h2.2v2.1h-2.2zM220.2 184.9h2.0v2.1h-2.0zM187.3 186.9h2.0v2.1h-2.0zM226.0 186.9h2.0v2.1h-2.0zM233.7 186.9h2.0v2.1h-2.0zM237.6 186.9h2.0v2.1h-2.0zM245.3 186.9h2.0v2.1h-2.0zM257.0 186.9h2.0v2.1h-2.0zM216.3 188.9h2.0v2.1h-2.0zM235.7 188.9h2.0v2.1h-2.0zM251.1 188.9h2.0v2.1h-2.0zM181.5 190.9h2.0v2.1h-2.0zM210.5 190.9h2.0v2.1h-2.0zM478.4 190.9h2.2v2.1h-2.2zM336.4 192.9h2.2v2.1h-2.2zM476.4 192.9h2.2v2.1h-2.2zM243.4 194.9h2.0v2.1h-2.0zM468.1 194.9h2.2v2.1h-2.2zM472.2 194.9h2.2v2.1h-2.2zM195.0 198.9h2.0v2.1h-2.0zM330.2 198.9h2.2v2.1h-2.2zM334.3 198.9h2.2v2.1h-2.2zM330.2 200.9h2.2v2.1h-2.2zM402.3 200.9h2.2v2.1h-2.2zM406.4 200.9h2.2v2.1h-2.2zM412.5 200.9h2.2v2.1h-2.2zM416.7 200.9h6.3v2.1h-6.3zM439.3 200.9h2.2v2.1h-2.2zM447.5 200.9h6.3v2.1h-6.3zM455.8 200.9h2.2v2.1h-2.2zM462.0 200.9h2.2v2.1h-2.2zM470.2 200.9h2.2v2.1h-2.2zM476.4 200.9h2.2v2.1h-2.2zM480.5 200.9h4.2v2.1h-4.2zM218.2 203.0h2.0v2.1h-2.0zM222.1 203.0h2.0v2.1h-2.0zM226.0 203.0h4.0v2.1h-4.0zM328.1 203.0h4.2v2.1h-4.2zM334.3 203.0h2.2v2.1h-2.2zM352.8 203.0h2.2v2.1h-2.2zM387.8 203.0h16.6v2.1h-16.6zM414.6 203.0h2.2v2.1h-2.2zM459.9 203.0h14.5v2.1h-14.5zM226.0 205.0h2.0v2.1h-2.0zM245.3 205.0h9.8v2.1h-9.8zM272.6 205.0h6.3v2.1h-6.3zM284.9 205.0h2.2v2.1h-2.2zM307.6 205.0h2.2v2.1h-2.2zM313.7 205.0h4.2v2.1h-4.2zM322.0 205.0h6.3v2.1h-6.3zM330.2 205.0h4.2v2.1h-4.2zM336.4 205.0h4.2v2.1h-4.2zM342.6 205.0h2.2v2.1h-2.2zM359.0 205.0h6.3v2.1h-6.3zM369.3 205.0h6.3v2.1h-6.3zM377.6 205.0h2.2v2.1h-2.2zM387.8 205.0h2.2v2.1h-2.2zM402.3 205.0h6.3v2.1h-6.3zM410.5 205.0h6.3v2.1h-6.3zM439.3 205.0h2.2v2.1h-2.2zM449.6 205.0h2.2v2.1h-2.2zM453.7 205.0h4.2v2.1h-4.2zM478.4 205.0h6.3v2.1h-6.3zM226.0 207.0h4.0v2.1h-4.0zM233.7 207.0h2.0v2.1h-2.0zM237.6 207.0h2.0v2.1h-2.0zM241.5 207.0h4.0v2.1h-4.0zM274.6 207.0h8.3v2.1h-8.3zM284.9 207.0h2.2v2.1h-2.2zM289.0 207.0h2.2v2.1h-2.2zM299.3 207.0h2.2v2.1h-2.2zM305.5 207.0h2.2v2.1h-2.2zM309.6 207.0h4.2v2.1h-4.2zM330.2 207.0h2.2v2.1h-2.2zM336.4 207.0h2.2v2.1h-2.2zM340.5 207.0h2.2v2.1h-2.2zM357.0 207.0h8.3v2.1h-8.3zM373.4 207.0h2.2v2.1h-2.2zM377.6 207.0h2.2v2.1h-2.2zM387.8 207.0h2.2v2.1h-2.2zM394.0 207.0h2.2v2.1h-2.2zM398.1 207.0h4.2v2.1h-4.2zM447.5 207.0h2.2v2.1h-2.2zM453.7 207.0h4.2v2.1h-4.2zM472.2 207.0h2.2v2.1h-2.2zM480.5 207.0h2.2v2.1h-2.2zM226.0 209.0h2.0v2.1h-2.0zM295.2 209.0h2.2v2.1h-2.2zM299.3 209.0h2.2v2.1h-2.2zM326.1 209.0h2.2v2.1h-2.2zM352.8 209.0h2.2v2.1h-2.2zM359.0 209.0h4.2v2.1h-4.2zM373.4 209.0h2.2v2.1h-2.2zM439.3 209.0h2.2v2.1h-2.2zM445.5 209.0h4.2v2.1h-4.2zM451.7 209.0h2.2v2.1h-2.2zM455.8 209.0h2.2v2.1h-2.2zM476.4 209.0h4.2v2.1h-4.2zM226.0 211.0h2.0v2.1h-2.0zM241.5 211.0h4.0v2.1h-4.0zM274.6 211.0h2.2v2.1h-2.2zM284.9 211.0h2.2v2.1h-2.2zM361.1 211.0h4.2v2.1h-4.2zM406.4 211.0h2.2v2.1h-2.2zM416.7 211.0h2.2v2.1h-2.2zM449.6 211.0h2.2v2.1h-2.2zM472.2 211.0h2.2v2.1h-2.2zM480.5 211.0h2.2v2.1h-2.2zM181.5 213.0h11.7v2.1h-11.7zM195.0 213.0h5.9v2.1h-5.9zM202.8 213.0h2.0v2.1h-2.0zM206.6 213.0h4.0v2.1h-4.0zM220.2 213.0h2.0v2.1h-2.0zM226.0 213.0h2.0v2.1h-2.0zM229.9 213.0h7.8v2.1h-7.8zM249.2 213.0h2.0v2.1h-2.0zM289.0 213.0h2.2v2.1h-2.2zM305.5 213.0h2.2v2.1h-2.2zM313.7 213.0h4.2v2.1h-4.2zM322.0 213.0h10.4v2.1h-10.4zM336.4 213.0h2.2v2.1h-2.2zM352.8 213.0h2.2v2.1h-2.2zM377.6 213.0h2.2v2.1h-2.2zM381.7 213.0h2.2v2.1h-2.2zM404.3 213.0h2.2v2.1h-2.2zM449.6 213.0h2.2v2.1h-2.2zM453.7 213.0h6.3v2.1h-6.3zM462.0 213.0h2.2v2.1h-2.2zM470.2 213.0h2.2v2.1h-2.2zM476.4 213.0h8.3v2.1h-8.3zM193.1 215.0h2.0v2.1h-2.0zM197.0 215.0h2.0v2.1h-2.0zM200.8 215.0h2.0v2.1h-2.0zM206.6 215.0h2.0v2.1h-2.0zM227.9 215.0h2.0v2.1h-2.0zM258.9 215.0h2.0v2.1h-2.0zM266.6 215.0h2.0v2.1h-2.0zM270.5 215.0h10.4v2.1h-10.4zM282.9 215.0h2.2v2.1h-2.2zM293.1 215.0h2.2v2.1h-2.2zM297.3 215.0h4.2v2.1h-4.2zM315.8 215.0h2.2v2.1h-2.2zM357.0 215.0h2.2v2.1h-2.2zM377.6 215.0h2.2v2.1h-2.2zM387.8 215.0h2.2v2.1h-2.2zM394.0 215.0h2.2v2.1h-2.2zM400.2 215.0h2.2v2.1h-2.2zM406.4 215.0h2.2v2.1h-2.2zM410.5 215.0h2.2v2.1h-2.2zM414.6 215.0h2.2v2.1h-2.2zM437.3 215.0h4.2v2.1h-4.2zM443.4 215.0h2.2v2.1h-2.2zM187.3 217.0h4.0v2.1h-4.0zM231.8 217.0h7.8v2.1h-7.8zM241.5 217.0h4.0v2.1h-4.0zM299.3 217.0h2.2v2.1h-2.2zM303.4 217.0h2.2v2.1h-2.2zM309.6 217.0h2.2v2.1h-2.2zM313.7 217.0h6.3v2.1h-6.3zM322.0 217.0h6.3v2.1h-6.3zM336.4 217.0h2.2v2.1h-2.2zM406.4 217.0h2.2v2.1h-2.2zM416.7 217.0h6.3v2.1h-6.3zM455.8 217.0h2.2v2.1h-2.2zM462.0 217.0h2.2v2.1h-2.2zM472.2 217.0h2.2v2.1h-2.2z"/>
<path fill="#12cd12" d="M311.7 92.8h2.2v2.1h-2.2zM455.8 92.8h2.2v2.1h-2.2zM313.7 94.8h2.2v2.1h-2.2zM336.4 94.8h2.2v2.1h-2.2zM352.8 94.8h2.2v2.1h-2.2zM439.3 94.8h2.2v2.1h-2.2zM453.7 94.8h2.2v2.1h-2.2zM305.5 96.8h2.2v2.1h-2.2zM453.7 98.8h2.2v2.1h-2.2zM472.2 98.8h2.2v2.1h-2.2zM239.5 100.8h2.0v2.1h-2.0zM427.0 100.8h2.2v2.1h-2.2zM387.8 102.8h2.2v2.1h-2.2zM427.0 102.8h2.2v2.1h-2.2zM297.3 104.8h2.2v2.1h-2.2zM311.7 104.8h2.2v2.1h-2.2zM315.8 104.8h2.2v2.1h-2.2zM326.1 104.8h2.2v2.1h-2.2zM338.4 104.8h6.3v2.1h-6.3zM350.8 104.8h2.2v2.1h-2.2zM398.1 104.8h2.2v2.1h-2.2zM402.3 104.8h4.2v2.1h-4.2zM410.5 104.8h2.2v2.1h-2.2zM418.7 104.8h2.2v2.1h-2.2zM437.3 104.8h2.2v2.1h-2.2zM449.6 104.8h2.2v2.1h-2.2zM482.5 104.8h2.2v2.1h-2.2zM377.6 106.8h2.2v2.1h-2.2zM427.0 106.8h2.2v2.1h-2.2zM431.1 106.8h2.2v2.1h-2.2zM439.3 106.8h2.2v2.1h-2.2zM451.7 106.8h2.2v2.1h-2.2zM287.0 108.8h2.2v2.1h-2.2zM293.1 108.8h2.2v2.1h-2.2zM332.3 108.8h2.2v2.1h-2.2zM344.6 108.8h4.2v2.1h-4.2zM367.3 108.8h2.2v2.1h-2.2zM389.9 108.8h2.2v2.1h-2.2zM394.0 108.8h2.2v2.1h-2.2zM408.4 108.8h2.2v2.1h-2.2zM416.7 108.8h2.2v2.1h-2.2zM424.9 108.8h2.2v2.1h-2.2zM443.4 108.8h2.2v2.1h-2.2zM313.7 110.8h2.2v2.1h-2.2zM377.6 110.8h2.2v2.1h-2.2zM385.8 110.8h2.2v2.1h-2.2zM394.0 110.8h4.2v2.1h-4.2zM424.9 110.8h2.2v2.1h-2.2zM445.5 110.8h4.2v2.1h-4.2zM480.5 110.8h2.2v2.1h-2.2zM418.7 112.8h2.2v2.1h-2.2zM402.3 114.8h2.2v2.1h-2.2zM429.0 114.8h2.2v2.1h-2.2zM447.5 116.8h2.2v2.1h-2.2zM278.7 118.8h2.2v2.1h-2.2zM363.1 118.8h2.2v2.1h-2.2zM385.8 118.8h2.2v2.1h-2.2zM414.6 118.8h2.2v2.1h-2.2zM429.0 118.8h2.2v2.1h-2.2zM433.1 118.8h4.2v2.1h-4.2zM453.7 120.8h2.2v2.1h-2.2zM328.1 128.8h2.2v2.1h-2.2zM346.7 128.8h2.2v2.1h-2.2zM350.8 128.8h2.2v2.1h-2.2zM272.6 130.9h4.2v2.1h-4.2zM282.9 130.9h2.2v2.1h-2.2zM330.2 130.9h2.2v2.1h-2.2zM346.7 130.9h2.2v2.1h-2.2zM237.6 132.9h2.0v2.1h-2.0zM241.5 132.9h2.0v2.1h-2.0zM462.0 132.9h2.2v2.1h-2.2zM406.4 134.9h2.2v2.1h-2.2zM437.3 134.9h2.2v2.1h-2.2zM472.2 134.9h2.2v2.1h-2.2zM396.1 136.9h2.2v2.1h-2.2zM410.5 136.9h2.2v2.1h-2.2zM427.0 136.9h2.2v2.1h-2.2zM439.3 136.9h2.2v2.1h-2.2zM466.1 136.9h2.2v2.1h-2.2zM472.2 136.9h2.2v2.1h-2.2zM348.7 138.9h2.2v2.1h-2.2zM385.8 140.9h2.2v2.1h-2.2zM348.7 142.9h2.2v2.1h-2.2zM270.5 146.9h2.2v2.1h-2.2zM389.9 146.9h2.2v2.1h-2.2zM229.9 156.9h2.0v2.1h-2.0zM227.9 158.9h2.0v2.1h-2.0zM322.0 158.9h2.2v2.1h-2.2zM226.0 160.9h2.0v2.1h-2.0zM231.8 160.9h4.0v2.1h-4.0zM270.5 160.9h2.2v2.1h-2.2zM299.3 160.9h2.2v2.1h-2.2zM354.9 160.9h2.2v2.1h-2.2zM389.9 160.9h2.2v2.1h-2.2zM416.7 160.9h2.2v2.1h-2.2zM439.3 160.9h2.2v2.1h-2.2zM449.6 160.9h2.2v2.1h-2.2zM289.0 162.9h2.2v2.1h-2.2zM338.4 162.9h2.2v2.1h-2.2zM342.6 162.9h2.2v2.1h-2.2zM400.2 162.9h2.2v2.1h-2.2zM414.6 162.9h2.2v2.1h-2.2zM336.4 164.9h2.2v2.1h-2.2zM387.8 164.9h2.2v2.1h-2.2zM394.0 164.9h2.2v2.1h-2.2zM478.4 164.9h2.2v2.1h-2.2zM235.7 166.9h2.0v2.1h-2.0zM270.5 166.9h2.2v2.1h-2.2zM276.7 166.9h2.2v2.1h-2.2zM394.0 166.9h2.2v2.1h-2.2zM414.6 166.9h4.2v2.1h-4.2zM427.0 166.9h2.2v2.1h-2.2zM274.6 168.9h2.2v2.1h-2.2zM342.6 168.9h2.2v2.1h-2.2zM206.6 170.9h4.0v2.1h-4.0zM243.4 170.9h2.0v2.1h-2.0zM274.6 170.9h2.2v2.1h-2.2zM291.1 170.9h2.2v2.1h-2.2zM299.3 170.9h2.2v2.1h-2.2zM340.5 170.9h4.2v2.1h-4.2zM352.8 170.9h2.2v2.1h-2.2zM363.1 170.9h2.2v2.1h-2.2zM387.8 170.9h2.2v2.1h-2.2zM435.2 170.9h2.2v2.1h-2.2zM439.3 170.9h2.2v2.1h-2.2zM443.4 170.9h2.2v2.1h-2.2zM202.8 172.9h2.0v2.1h-2.0zM206.6 172.9h2.0v2.1h-2.0zM336.4 172.9h2.2v2.1h-2.2zM404.3 172.9h2.2v2.1h-2.2zM449.6 172.9h2.2v2.1h-2.2zM371.4 174.9h2.2v2.1h-2.2zM400.2 174.9h2.2v2.1h-2.2zM404.3 174.9h2.2v2.1h-2.2zM435.2 174.9h4.2v2.1h-4.2zM441.4 174.9h2.2v2.1h-2.2zM289.0 176.9h2.2v2.1h-2.2zM369.3 176.9h2.2v2.1h-2.2zM381.7 176.9h2.2v2.1h-2.2zM400.2 176.9h2.2v2.1h-2.2zM412.5 176.9h2.2v2.1h-2.2zM453.7 176.9h2.2v2.1h-2.2zM394.0 178.9h2.2v2.1h-2.2zM410.5 178.9h2.2v2.1h-2.2zM462.0 178.9h2.2v2.1h-2.2zM470.2 178.9h2.2v2.1h-2.2zM177.6 180.9h2.0v2.1h-2.0zM198.9 180.9h2.0v2.1h-2.0zM416.7 180.9h2.2v2.1h-2.2zM420.8 180.9h2.2v2.1h-2.2zM179.5 182.9h2.0v2.1h-2.0zM295.2 182.9h2.2v2.1h-2.2zM299.3 182.9h2.2v2.1h-2.2zM309.6 182.9h2.2v2.1h-2.2zM315.8 182.9h2.2v2.1h-2.2zM352.8 182.9h2.2v2.1h-2.2zM449.6 182.9h2.2v2.1h-2.2zM464.0 182.9h2.2v2.1h-2.2zM206.6 186.9h2.0v2.1h-2.0zM235.7 186.9h2.0v2.1h-2.0zM247.3 186.9h4.0v2.1h-4.0zM181.5 188.9h2.0v2.1h-2.0zM187.3 188.9h2.0v2.1h-2.0zM210.5 188.9h2.0v2.1h-2.0zM222.1 188.9h2.0v2.1h-2.0zM233.7 188.9h2.0v2.1h-2.0zM249.2 188.9h2.0v2.1h-2.0zM187.3 190.9h4.0v2.1h-4.0zM216.3 190.9h2.0v2.1h-2.0zM216.3 192.9h2.0v2.1h-2.0zM222.1 192.9h2.0v2.1h-2.0zM369.3 192.9h2.2v2.1h-2.2zM363.1 194.9h2.2v2.1h-2.2zM462.0 194.9h2.2v2.1h-2.2zM197.0 198.9h2.0v2.1h-2.0zM328.1 198.9h2.2v2.1h-2.2zM332.3 200.9h2.2v2.1h-2.2zM361.1 200.9h2.2v2.1h-2.2zM410.5 200.9h2.2v2.1h-2.2zM424.9 200.9h4.2v2.1h-4.2zM443.4 200.9h2.2v2.1h-2.2zM457.8 200.9h2.2v2.1h-2.2zM464.0 200.9h2.2v2.1h-2.2zM472.2 200.9h2.2v2.1h-2.2zM478.4 200.9h2.2v2.1h-2.2zM237.6 203.0h2.0v2.1h-2.0zM338.4 203.0h2.2v2.1h-2.2zM406.4 203.0h2.2v2.1h-2.2zM455.8 203.0h2.2v2.1h-2.2zM231.8 205.0h4.0v2.1h-4.0zM278.7 205.0h6.3v2.1h-6.3zM291.1 205.0h2.2v2.1h-2.2zM297.3 205.0h2.2v2.1h-2.2zM305.5 205.0h2.2v2.1h-2.2zM309.6 205.0h4.2v2.1h-4.2zM317.8 205.0h2.2v2.1h-2.2zM328.1 205.0h2.2v2.1h-2.2zM365.2 205.0h2.2v2.1h-2.2zM381.7 205.0h2.2v2.1h-2.2zM385.8 205.0h2.2v2.1h-2.2zM389.9 205.0h2.2v2.1h-2.2zM394.0 205.0h2.2v2.1h-2.2zM400.2 205.0h2.2v2.1h-2.2zM435.2 205.0h2.2v2.1h-2.2zM476.4 205.0h2.2v2.1h-2.2zM229.9 207.0h4.0v2.1h-4.0zM235.7 207.0h2.0v2.1h-2.0zM249.2 207.0h2.0v2.1h-2.0zM272.6 207.0h2.2v2.1h-2.2zM282.9 207.0h2.2v2.1h-2.2zM295.2 207.0h2.2v2.1h-2.2zM350.8 207.0h4.2v2.1h-4.2zM365.2 207.0h2.2v2.1h-2.2zM371.4 207.0h2.2v2.1h-2.2zM392.0 207.0h2.2v2.1h-2.2zM402.3 207.0h2.2v2.1h-2.2zM418.7 207.0h2.2v2.1h-2.2zM449.6 207.0h2.2v2.1h-2.2zM462.0 207.0h2.2v2.1h-2.2zM208.6 209.0h4.0v2.1h-4.0zM214.4 209.0h2.0v2.1h-2.0zM227.9 209.0h2.0v2.1h-2.0zM282.9 209.0h2.2v2.1h-2.2zM307.6 209.0h8.3v2.1h-8.3zM322.0 209.0h2.2v2.1h-2.2zM416.7 209.0h2.2v2.1h-2.2zM427.0 209.0h2.2v2.1h-2.2zM435.2 209.0h2.2v2.1h-2.2zM449.6 209.0h2.2v2.1h-2.2zM468.1 209.0h2.2v2.1h-2.2zM472.2 209.0h2.2v2.1h-2.2zM301.4 211.0h2.2v2.1h-2.2zM369.3 211.0h6.3v2.1h-6.3zM414.6 211.0h2.2v2.1h-2.2zM478.4 211.0h2.2v2.1h-2.2zM193.1 213.0h2.0v2.1h-2.0zM200.8 213.0h2.0v2.1h-2.0zM204.7 213.0h2.0v2.1h-2.0zM212.4 213.0h4.0v2.1h-4.0zM222.1 213.0h2.0v2.1h-2.0zM227.9 213.0h2.0v2.1h-2.0zM237.6 213.0h4.0v2.1h-4.0zM251.1 213.0h2.0v2.1h-2.0zM260.8 213.0h2.0v2.1h-2.0zM266.6 213.0h2.0v2.1h-2.0zM276.7 213.0h2.2v2.1h-2.2zM287.0 213.0h2.2v2.1h-2.2zM299.3 213.0h2.2v2.1h-2.2zM307.6 213.0h2.2v2.1h-2.2zM338.4 213.0h2.2v2.1h-2.2zM373.4 213.0h2.2v2.1h-2.2zM387.8 213.0h2.2v2.1h-2.2zM400.2 213.0h4.2v2.1h-4.2zM406.4 213.0h2.2v2.1h-2.2zM447.5 213.0h2.2v2.1h-2.2zM459.9 213.0h2.2v2.1h-2.2zM472.2 213.0h4.2v2.1h-4.2zM181.5 215.0h2.0v2.1h-2.0zM195.0 215.0h2.0v2.1h-2.0zM222.1 215.0h2.0v2.1h-2.0zM260.8 215.0h5.9v2.1h-5.9zM287.0 215.0h4.2v2.1h-4.2zM295.2 215.0h2.2v2.1h-2.2zM336.4 215.0h2.2v2.1h-2.2zM402.3 215.0h2.2v2.1h-2.2zM435.2 215.0h2.2v2.1h-2.2zM441.4 215.0h2.2v2.1h-2.2zM468.1 215.0h2.2v2.1h-2.2zM177.6 217.0h2.0v2.1h-2.0zM181.5 217.0h2.0v2.1h-2.0zM239.5 217.0h2.0v2.1h-2.0zM251.1 217.0h2.0v2.1h-2.0zM262.8 217.0h2.0v2.1h-2.0zM338.4 217.0h2.2v2.1h-2.2zM359.0 217.0h2.2v2.1h-2.2zM371.4 217.0h2.2v2.1h-2.2zM387.8 217.0h2.2v2.1h-2.2zM392.0 217.0h2.2v2.1h-2.2zM396.1 217.0h2.2v2.1h-2.2zM410.5 217.0h2.2v2.1h-2.2zM429.0 217.0h2.2v2.1h-2.2zM449.6 229.0h2.2v2.1h-2.2zM449.6 231.0h2.2v2.1h-2.2z"/>
<path fill="#10b610" d="M284.9 92.8h2.2v2.1h-2.2zM416.7 92.8h2.2v2.1h-2.2zM427.0 92.8h2.2v2.1h-2.2zM453.7 92.8h2.2v2.1h-2.2zM284.9 94.8h2.2v2.1h-2.2zM299.3 94.8h2.2v2.1h-2.2zM305.5 94.8h2.2v2.1h-2.2zM346.7 94.8h2.2v2.1h-2.2zM402.3 94.8h2.2v2.1h-2.2zM443.4 94.8h2.2v2.1h-2.2zM455.8 94.8h2.2v2.1h-2.2zM274.6 96.8h2.2v2.1h-2.2zM309.6 96.8h2.2v2.1h-2.2zM406.4 96.8h2.2v2.1h-2.2zM272.6 98.8h2.2v2.1h-2.2zM307.6 98.8h2.2v2.1h-2.2zM332.3 98.8h2.2v2.1h-2.2zM340.5 98.8h2.2v2.1h-2.2zM326.1 100.8h2.2v2.1h-2.2zM406.4 100.8h2.2v2.1h-2.2zM361.1 102.8h2.2v2.1h-2.2zM431.1 102.8h2.2v2.1h-2.2zM231.8 104.8h2.0v2.1h-2.0zM287.0 104.8h2.2v2.1h-2.2zM313.7 104.8h2.2v2.1h-2.2zM344.6 104.8h2.2v2.1h-2.2zM363.1 104.8h2.2v2.1h-2.2zM383.7 104.8h2.2v2.1h-2.2zM389.9 104.8h2.2v2.1h-2.2zM408.4 104.8h2.2v2.1h-2.2zM412.5 104.8h4.2v2.1h-4.2zM427.0 104.8h2.2v2.1h-2.2zM435.2 104.8h2.2v2.1h-2.2zM447.5 104.8h2.2v2.1h-2.2zM451.7 104.8h2.2v2.1h-2.2zM480.5 104.8h2.2v2.1h-2.2zM301.4 106.8h2.2v2.1h-2.2zM307.6 106.8h4.2v2.1h-4.2zM315.8 106.8h2.2v2.1h-2.2zM344.6 106.8h2.2v2.1h-2.2zM385.8 106.8h2.2v2.1h-2.2zM404.3 106.8h2.2v2.1h-2.2zM437.3 106.8h2.2v2.1h-2.2zM449.6 106.8h2.2v2.1h-2.2zM233.7 108.8h2.0v2.1h-2.0zM301.4 108.8h2.2v2.1h-2.2zM305.5 108.8h2.2v2.1h-2.2zM313.7 108.8h2.2v2.1h-2.2zM317.8 108.8h2.2v2.1h-2.2zM350.8 108.8h2.2v2.1h-2.2zM385.8 108.8h2.2v2.1h-2.2zM422.8 108.8h2.2v2.1h-2.2zM431.1 108.8h2.2v2.1h-2.2zM447.5 108.8h2.2v2.1h-2.2zM291.1 110.8h2.2v2.1h-2.2zM303.4 110.8h2.2v2.1h-2.2zM309.6 110.8h2.2v2.1h-2.2zM342.6 110.8h2.2v2.1h-2.2zM346.7 110.8h4.2v2.1h-4.2zM352.8 110.8h2.2v2.1h-2.2zM361.1 110.8h2.2v2.1h-2.2zM406.4 110.8h2.2v2.1h-2.2zM422.8 110.8h2.2v2.1h-2.2zM427.0 110.8h2.2v2.1h-2.2zM451.7 110.8h2.2v2.1h-2.2zM276.7 112.8h2.2v2.1h-2.2zM293.1 112.8h2.2v2.1h-2.2zM400.2 112.8h4.2v2.1h-4.2zM274.6 114.8h2.2v2.1h-2.2zM295.2 114.8h2.2v2.1h-2.2zM447.5 114.8h2.2v2.1h-2.2zM480.5 114.8h2.2v2.1h-2.2zM414.6 116.8h2.2v2.1h-2.2zM443.4 116.8h2.2v2.1h-2.2zM464.0 116.8h2.2v2.1h-2.2zM295.2 118.8h2.2v2.1h-2.2zM338.4 118.8h2.2v2.1h-2.2zM352.8 118.8h2.2v2.1h-2.2zM361.1 118.8h2.2v2.1h-2.2zM387.8 118.8h2.2v2.1h-2.2zM400.2 118.8h2.2v2.1h-2.2zM406.4 118.8h2.2v2.1h-2.2zM416.7 118.8h2.2v2.1h-2.2zM437.3 118.8h2.2v2.1h-2.2zM447.5 118.8h4.2v2.1h-4.2zM464.0 118.8h4.2v2.1h-4.2zM418.7 120.8h2.2v2.1h-2.2zM435.2 120.8h2.2v2.1h-2.2zM472.2 120.8h2.2v2.1h-2.2zM416.7 122.8h2.2v2.1h-2.2zM439.3 122.8h2.2v2.1h-2.2zM367.3 124.8h2.2v2.1h-2.2zM476.4 126.8h2.2v2.1h-2.2zM231.8 128.8h5.9v2.1h-5.9zM276.7 128.8h2.2v2.1h-2.2zM439.3 128.8h2.2v2.1h-2.2zM284.9 130.9h2.2v2.1h-2.2zM336.4 130.9h2.2v2.1h-2.2zM344.6 130.9h2.2v2.1h-2.2zM449.6 132.9h2.2v2.1h-2.2zM412.5 134.9h6.3v2.1h-6.3zM394.0 136.9h2.2v2.1h-2.2zM420.8 136.9h2.2v2.1h-2.2zM453.7 136.9h2.2v2.1h-2.2zM468.1 136.9h2.2v2.1h-2.2zM396.1 138.9h2.2v2.1h-2.2zM400.2 138.9h2.2v2.1h-2.2zM453.7 138.9h2.2v2.1h-2.2zM480.5 138.9h2.2v2.1h-2.2zM427.0 142.9h2.2v2.1h-2.2zM276.7 144.9h2.2v2.1h-2.2zM385.8 144.9h2.2v2.1h-2.2zM437.3 144.9h2.2v2.1h-2.2zM427.0 146.9h2.2v2.1h-2.2zM226.0 154.9h4.0v2.1h-4.0zM224.1 156.9h4.0v2.1h-4.0zM224.1 158.9h2.0v2.1h-2.0zM229.9 158.9h2.0v2.1h-2.0zM326.1 158.9h2.2v2.1h-2.2zM406.4 158.9h2.2v2.1h-2.2zM237.6 160.9h2.0v2.1h-2.0zM313.7 160.9h2.2v2.1h-2.2zM317.8 160.9h2.2v2.1h-2.2zM324.0 160.9h4.2v2.1h-4.2zM338.4 160.9h2.2v2.1h-2.2zM344.6 160.9h2.2v2.1h-2.2zM394.0 160.9h2.2v2.1h-2.2zM402.3 160.9h2.2v2.1h-2.2zM410.5 160.9h2.2v2.1h-2.2zM429.0 160.9h2.2v2.1h-2.2zM478.4 160.9h4.2v2.1h-4.2zM216.3 162.9h2.0v2.1h-2.0zM233.7 162.9h2.0v2.1h-2.0zM270.5 162.9h2.2v2.1h-2.2zM291.1 162.9h2.2v2.1h-2.2zM295.2 162.9h2.2v2.1h-2.2zM303.4 162.9h2.2v2.1h-2.2zM311.7 162.9h2.2v2.1h-2.2zM319.9 162.9h2.2v2.1h-2.2zM326.1 162.9h2.2v2.1h-2.2zM332.3 162.9h2.2v2.1h-2.2zM340.5 162.9h2.2v2.1h-2.2zM346.7 162.9h2.2v2.1h-2.2zM352.8 162.9h4.2v2.1h-4.2zM398.1 162.9h2.2v2.1h-2.2zM416.7 162.9h2.2v2.1h-2.2zM427.0 162.9h2.2v2.1h-2.2zM431.1 162.9h2.2v2.1h-2.2zM439.3 162.9h4.2v2.1h-4.2zM480.5 162.9h2.2v2.1h-2.2zM276.7 164.9h2.2v2.1h-2.2zM284.9 164.9h2.2v2.1h-2.2zM346.7 164.9h2.2v2.1h-2.2zM373.4 164.9h2.2v2.1h-2.2zM406.4 164.9h2.2v2.1h-2.2zM427.0 164.9h2.2v2.1h-2.2zM284.9 166.9h2.2v2.1h-2.2zM315.8 166.9h2.2v2.1h-2.2zM344.6 166.9h2.2v2.1h-2.2zM387.8 166.9h2.2v2.1h-2.2zM398.1 166.9h2.2v2.1h-2.2zM429.0 166.9h2.2v2.1h-2.2zM476.4 166.9h2.2v2.1h-2.2zM272.6 168.9h2.2v2.1h-2.2zM282.9 168.9h2.2v2.1h-2.2zM299.3 168.9h2.2v2.1h-2.2zM357.0 168.9h4.2v2.1h-4.2zM381.7 168.9h2.2v2.1h-2.2zM406.4 168.9h2.2v2.1h-2.2zM410.5 168.9h2.2v2.1h-2.2zM453.7 168.9h2.2v2.1h-2.2zM237.6 170.9h2.0v2.1h-2.0zM249.2 170.9h4.0v2.1h-4.0zM289.0 170.9h2.2v2.1h-2.2zM309.6 170.9h4.2v2.1h-4.2zM357.0 170.9h2.2v2.1h-2.2zM361.1 170.9h2.2v2.1h-2.2zM400.2 170.9h2.2v2.1h-2.2zM437.3 170.9h2.2v2.1h-2.2zM200.8 172.9h2.0v2.1h-2.0zM251.1 172.9h2.0v2.1h-2.0zM352.8 172.9h2.2v2.1h-2.2zM371.4 172.9h4.2v2.1h-4.2zM406.4 172.9h2.2v2.1h-2.2zM433.1 172.9h2.2v2.1h-2.2zM453.7 172.9h2.2v2.1h-2.2zM206.6 174.9h2.0v2.1h-2.0zM332.3 174.9h4.2v2.1h-4.2zM352.8 174.9h2.2v2.1h-2.2zM377.6 174.9h2.2v2.1h-2.2zM408.4 174.9h2.2v2.1h-2.2zM443.4 174.9h2.2v2.1h-2.2zM297.3 176.9h2.2v2.1h-2.2zM326.1 176.9h4.2v2.1h-4.2zM352.8 176.9h2.2v2.1h-2.2zM361.1 176.9h2.2v2.1h-2.2zM379.6 176.9h2.2v2.1h-2.2zM396.1 176.9h2.2v2.1h-2.2zM408.4 176.9h2.2v2.1h-2.2zM427.0 176.9h2.2v2.1h-2.2zM455.8 176.9h2.2v2.1h-2.2zM470.2 176.9h2.2v2.1h-2.2zM338.4 178.9h2.2v2.1h-2.2zM377.6 178.9h2.2v2.1h-2.2zM402.3 178.9h2.2v2.1h-2.2zM406.4 178.9h2.2v2.1h-2.2zM433.1 178.9h2.2v2.1h-2.2zM437.3 178.9h2.2v2.1h-2.2zM208.6 180.9h2.0v2.1h-2.0zM291.1 180.9h2.2v2.1h-2.2zM295.2 180.9h2.2v2.1h-2.2zM299.3 180.9h2.2v2.1h-2.2zM363.1 180.9h2.2v2.1h-2.2zM424.9 180.9h2.2v2.1h-2.2zM183.4 182.9h4.0v2.1h-4.0zM202.8 182.9h2.0v2.1h-2.0zM212.4 182.9h5.9v2.1h-5.9zM227.9 182.9h2.0v2.1h-2.0zM280.8 182.9h2.2v2.1h-2.2zM303.4 182.9h2.2v2.1h-2.2zM336.4 182.9h6.3v2.1h-6.3zM363.1 182.9h2.2v2.1h-2.2zM373.4 182.9h2.2v2.1h-2.2zM394.0 182.9h4.2v2.1h-4.2zM414.6 182.9h2.2v2.1h-2.2zM435.2 182.9h2.2v2.1h-2.2zM472.2 182.9h2.2v2.1h-2.2zM214.4 184.9h2.0v2.1h-2.0zM226.0 184.9h2.0v2.1h-2.0zM247.3 184.9h2.0v2.1h-2.0zM251.1 184.9h2.0v2.1h-2.0zM183.4 186.9h2.0v2.1h-2.0zM198.9 186.9h2.0v2.1h-2.0zM208.6 186.9h2.0v2.1h-2.0zM216.3 186.9h2.0v2.1h-2.0zM227.9 186.9h2.0v2.1h-2.0zM243.4 186.9h2.0v2.1h-2.0zM251.1 186.9h5.9v2.1h-5.9zM264.7 186.9h2.0v2.1h-2.0zM330.2 186.9h2.2v2.1h-2.2zM179.5 188.9h2.0v2.1h-2.0zM231.8 188.9h2.0v2.1h-2.0zM237.6 188.9h2.0v2.1h-2.0zM241.5 188.9h2.0v2.1h-2.0zM247.3 188.9h2.0v2.1h-2.0zM253.1 188.9h2.0v2.1h-2.0zM359.0 188.9h2.2v2.1h-2.2zM208.6 190.9h2.0v2.1h-2.0zM247.3 190.9h2.0v2.1h-2.0zM253.1 190.9h2.0v2.1h-2.0zM451.7 190.9h2.2v2.1h-2.2zM187.3 192.9h2.0v2.1h-2.0zM243.4 192.9h2.0v2.1h-2.0zM478.4 192.9h4.2v2.1h-4.2zM231.8 194.9h2.0v2.1h-2.0zM357.0 194.9h2.2v2.1h-2.2zM361.1 194.9h2.2v2.1h-2.2zM464.0 194.9h2.2v2.1h-2.2zM226.0 198.9h2.0v2.1h-2.0zM270.5 200.9h4.2v2.1h-4.2zM291.1 200.9h2.2v2.1h-2.2zM363.1 200.9h2.2v2.1h-2.2zM377.6 200.9h2.2v2.1h-2.2zM387.8 200.9h2.2v2.1h-2.2zM392.0 200.9h4.2v2.1h-4.2zM435.2 200.9h2.2v2.1h-2.2zM441.4 200.9h2.2v2.1h-2.2zM445.5 200.9h2.2v2.1h-2.2zM453.7 200.9h2.2v2.1h-2.2zM459.9 200.9h2.2v2.1h-2.2zM224.1 203.0h2.0v2.1h-2.0zM229.9 203.0h2.0v2.1h-2.0zM342.6 203.0h2.2v2.1h-2.2zM412.5 203.0h2.2v2.1h-2.2zM429.0 203.0h2.2v2.1h-2.2zM476.4 203.0h2.2v2.1h-2.2zM480.5 203.0h2.2v2.1h-2.2zM195.0 205.0h2.0v2.1h-2.0zM237.6 205.0h2.0v2.1h-2.0zM241.5 205.0h2.0v2.1h-2.0zM295.2 205.0h2.2v2.1h-2.2zM303.4 205.0h2.2v2.1h-2.2zM334.3 205.0h2.2v2.1h-2.2zM340.5 205.0h2.2v2.1h-2.2zM346.7 205.0h2.2v2.1h-2.2zM350.8 205.0h2.2v2.1h-2.2zM357.0 205.0h2.2v2.1h-2.2zM367.3 205.0h2.2v2.1h-2.2zM383.7 205.0h2.2v2.1h-2.2zM396.1 205.0h2.2v2.1h-2.2zM420.8 205.0h2.2v2.1h-2.2zM427.0 205.0h2.2v2.1h-2.2zM437.3 205.0h2.2v2.1h-2.2zM447.5 205.0h2.2v2.1h-2.2zM451.7 205.0h2.2v2.1h-2.2zM462.0 205.0h2.2v2.1h-2.2zM239.5 207.0h2.0v2.1h-2.0zM251.1 207.0h4.0v2.1h-4.0zM291.1 207.0h2.2v2.1h-2.2zM303.4 207.0h2.2v2.1h-2.2zM313.7 207.0h2.2v2.1h-2.2zM326.1 207.0h2.2v2.1h-2.2zM332.3 207.0h2.2v2.1h-2.2zM342.6 207.0h4.2v2.1h-4.2zM367.3 207.0h2.2v2.1h-2.2zM385.8 207.0h2.2v2.1h-2.2zM406.4 207.0h2.2v2.1h-2.2zM416.7 207.0h2.2v2.1h-2.2zM427.0 207.0h2.2v2.1h-2.2zM437.3 207.0h2.2v2.1h-2.2zM445.5 207.0h2.2v2.1h-2.2zM457.8 207.0h2.2v2.1h-2.2zM468.1 207.0h2.2v2.1h-2.2zM476.4 207.0h4.2v2.1h-4.2zM241.5 209.0h2.0v2.1h-2.0zM260.8 209.0h2.0v2.1h-2.0zM293.1 209.0h2.2v2.1h-2.2zM305.5 209.0h2.2v2.1h-2.2zM315.8 209.0h2.2v2.1h-2.2zM324.0 209.0h2.2v2.1h-2.2zM328.1 209.0h2.2v2.1h-2.2zM344.6 209.0h4.2v2.1h-4.2zM363.1 209.0h2.2v2.1h-2.2zM375.5 209.0h2.2v2.1h-2.2zM400.2 209.0h2.2v2.1h-2.2zM414.6 209.0h2.2v2.1h-2.2zM418.7 209.0h2.2v2.1h-2.2zM443.4 209.0h2.2v2.1h-2.2zM457.8 209.0h2.2v2.1h-2.2zM462.0 209.0h4.2v2.1h-4.2zM482.5 209.0h2.2v2.1h-2.2zM272.6 211.0h2.2v2.1h-2.2zM278.7 211.0h2.2v2.1h-2.2zM282.9 211.0h2.2v2.1h-2.2zM293.1 211.0h2.2v2.1h-2.2zM297.3 211.0h4.2v2.1h-4.2zM303.4 211.0h6.3v2.1h-6.3zM315.8 211.0h2.2v2.1h-2.2zM359.0 211.0h2.2v2.1h-2.2zM387.8 211.0h2.2v2.1h-2.2zM400.2 211.0h2.2v2.1h-2.2zM412.5 211.0h2.2v2.1h-2.2zM439.3 211.0h2.2v2.1h-2.2zM447.5 211.0h2.2v2.1h-2.2zM464.0 211.0h2.2v2.1h-2.2zM474.3 211.0h2.2v2.1h-2.2zM210.5 213.0h2.0v2.1h-2.0zM216.3 213.0h4.0v2.1h-4.0zM224.1 213.0h2.0v2.1h-2.0zM245.3 213.0h2.0v2.1h-2.0zM253.1 213.0h2.0v2.1h-2.0zM262.8 213.0h2.0v2.1h-2.0zM270.5 213.0h2.2v2.1h-2.2zM278.7 213.0h2.2v2.1h-2.2zM282.9 213.0h2.2v2.1h-2.2zM291.1 213.0h6.3v2.1h-6.3zM301.4 213.0h2.2v2.1h-2.2zM309.6 213.0h2.2v2.1h-2.2zM317.8 213.0h4.2v2.1h-4.2zM332.3 213.0h4.2v2.1h-4.2zM357.0 213.0h6.3v2.1h-6.3zM392.0 213.0h2.2v2.1h-2.2zM396.1 213.0h2.2v2.1h-2.2zM416.7 213.0h2.2v2.1h-2.2zM435.2 213.0h2.2v2.1h-2.2zM445.5 213.0h2.2v2.1h-2.2zM191.1 215.0h2.0v2.1h-2.0zM198.9 215.0h2.0v2.1h-2.0zM202.8 215.0h2.0v2.1h-2.0zM208.6 215.0h2.0v2.1h-2.0zM216.3 215.0h4.0v2.1h-4.0zM226.0 215.0h2.0v2.1h-2.0zM239.5 215.0h2.0v2.1h-2.0zM284.9 215.0h2.2v2.1h-2.2zM301.4 215.0h2.2v2.1h-2.2zM307.6 215.0h2.2v2.1h-2.2zM326.1 215.0h2.2v2.1h-2.2zM363.1 215.0h2.2v2.1h-2.2zM371.4 215.0h4.2v2.1h-4.2zM392.0 215.0h2.2v2.1h-2.2zM396.1 215.0h4.2v2.1h-4.2zM408.4 215.0h2.2v2.1h-2.2zM431.1 215.0h2.2v2.1h-2.2zM449.6 215.0h2.2v2.1h-2.2zM472.2 215.0h2.2v2.1h-2.2zM179.5 217.0h2.0v2.1h-2.0zM191.1 217.0h4.0v2.1h-4.0zM197.0 217.0h7.8v2.1h-7.8zM226.0 217.0h4.0v2.1h-4.0zM249.2 217.0h2.0v2.1h-2.0zM266.6 217.0h2.0v2.1h-2.0zM270.5 217.0h2.2v2.1h-2.2zM289.0 217.0h2.2v2.1h-2.2zM305.5 217.0h2.2v2.1h-2.2zM330.2 217.0h2.2v2.1h-2.2zM389.9 217.0h2.2v2.1h-2.2zM394.0 217.0h2.2v2.1h-2.2zM400.2 217.0h2.2v2.1h-2.2zM422.8 217.0h2.2v2.1h-2.2zM427.0 217.0h2.2v2.1h-2.2zM437.3 217.0h4.2v2.1h-4.2zM449.6 217.0h2.2v2.1h-2.2zM468.1 217.0h2.2v2.1h-2.2zM478.4 217.0h2.2v2.1h-2.2zM482.5 217.0h2.2v2.1h-2.2z"/>
<path fill="#0e9f0e" d="M274.6 92.8h2.2v2.1h-2.2zM282.9 92.8h2.2v2.1h-2.2zM322.0 92.8h2.2v2.1h-2.2zM336.4 92.8h2.2v2.1h-2.2zM363.1 92.8h2.2v2.1h-2.2zM387.8 92.8h2.2v2.1h-2.2zM394.0 92.8h2.2v2.1h-2.2zM406.4 92.8h2.2v2.1h-2.2zM418.7 92.8h4.2v2.1h-4.2zM435.2 92.8h2.2v2.1h-2.2zM439.3 92.8h2.2v2.1h-2.2zM443.4 92.8h2.2v2.1h-2.2zM449.6 92.8h2.2v2.1h-2.2zM287.0 94.8h2.2v2.1h-2.2zM301.4 94.8h2.2v2.1h-2.2zM363.1 94.8h2.2v2.1h-2.2zM462.0 94.8h2.2v2.1h-2.2zM282.9 96.8h4.2v2.1h-4.2zM307.6 96.8h2.2v2.1h-2.2zM340.5 96.8h4.2v2.1h-4.2zM449.6 96.8h2.2v2.1h-2.2zM231.8 98.8h2.0v2.1h-2.0zM291.1 98.8h6.3v2.1h-6.3zM303.4 98.8h4.2v2.1h-4.2zM385.8 98.8h2.2v2.1h-2.2zM406.4 98.8h2.2v2.1h-2.2zM427.0 98.8h4.2v2.1h-4.2zM336.4 100.8h2.2v2.1h-2.2zM400.2 100.8h4.2v2.1h-4.2zM429.0 100.8h2.2v2.1h-2.2zM445.5 100.8h2.2v2.1h-2.2zM216.3 102.8h2.0v2.1h-2.0zM315.8 102.8h2.2v2.1h-2.2zM324.0 102.8h2.2v2.1h-2.2zM348.7 102.8h2.2v2.1h-2.2zM363.1 102.8h2.2v2.1h-2.2zM394.0 102.8h2.2v2.1h-2.2zM462.0 102.8h2.2v2.1h-2.2zM216.3 104.8h2.0v2.1h-2.0zM220.2 104.8h2.0v2.1h-2.0zM293.1 104.8h2.2v2.1h-2.2zM303.4 104.8h2.2v2.1h-2.2zM324.0 104.8h2.2v2.1h-2.2zM332.3 104.8h2.2v2.1h-2.2zM379.6 104.8h2.2v2.1h-2.2zM385.8 104.8h2.2v2.1h-2.2zM433.1 104.8h2.2v2.1h-2.2zM441.4 104.8h4.2v2.1h-4.2zM233.7 106.8h2.0v2.1h-2.0zM305.5 106.8h2.2v2.1h-2.2zM311.7 106.8h2.2v2.1h-2.2zM338.4 106.8h2.2v2.1h-2.2zM379.6 106.8h6.3v2.1h-6.3zM389.9 106.8h2.2v2.1h-2.2zM396.1 106.8h2.2v2.1h-2.2zM408.4 106.8h2.2v2.1h-2.2zM416.7 106.8h4.2v2.1h-4.2zM424.9 106.8h2.2v2.1h-2.2zM237.6 108.8h2.0v2.1h-2.0zM307.6 108.8h2.2v2.1h-2.2zM326.1 108.8h4.2v2.1h-4.2zM357.0 108.8h2.2v2.1h-2.2zM392.0 108.8h2.2v2.1h-2.2zM398.1 108.8h4.2v2.1h-4.2zM404.3 108.8h2.2v2.1h-2.2zM410.5 108.8h2.2v2.1h-2.2zM429.0 108.8h2.2v2.1h-2.2zM301.4 110.8h2.2v2.1h-2.2zM311.7 110.8h2.2v2.1h-2.2zM338.4 110.8h2.2v2.1h-2.2zM344.6 110.8h2.2v2.1h-2.2zM367.3 110.8h2.2v2.1h-2.2zM389.9 110.8h2.2v2.1h-2.2zM402.3 110.8h2.2v2.1h-2.2zM431.1 110.8h4.2v2.1h-4.2zM482.5 110.8h2.2v2.1h-2.2zM324.0 112.8h2.2v2.1h-2.2zM330.2 112.8h2.2v2.1h-2.2zM336.4 112.8h2.2v2.1h-2.2zM361.1 112.8h2.2v2.1h-2.2zM377.6 112.8h2.2v2.1h-2.2zM392.0 112.8h2.2v2.1h-2.2zM404.3 112.8h2.2v2.1h-2.2zM472.2 112.8h2.2v2.1h-2.2zM408.4 114.8h2.2v2.1h-2.2zM478.4 114.8h2.2v2.1h-2.2zM406.4 116.8h2.2v2.1h-2.2zM449.6 116.8h2.2v2.1h-2.2zM462.0 116.8h2.2v2.1h-2.2zM284.9 118.8h2.2v2.1h-2.2zM299.3 118.8h2.2v2.1h-2.2zM336.4 118.8h2.2v2.1h-2.2zM381.7 118.8h2.2v2.1h-2.2zM398.1 118.8h2.2v2.1h-2.2zM420.8 118.8h2.2v2.1h-2.2zM373.4 120.8h2.2v2.1h-2.2zM420.8 120.8h2.2v2.1h-2.2zM439.3 120.8h4.2v2.1h-4.2zM462.0 120.8h2.2v2.1h-2.2zM470.2 120.8h2.2v2.1h-2.2zM371.4 122.8h2.2v2.1h-2.2zM462.0 122.8h2.2v2.1h-2.2zM336.4 124.8h2.2v2.1h-2.2zM478.4 126.8h4.2v2.1h-4.2zM274.6 128.8h2.2v2.1h-2.2zM278.7 128.8h2.2v2.1h-2.2zM282.9 128.8h2.2v2.1h-2.2zM332.3 128.8h2.2v2.1h-2.2zM352.8 128.8h2.2v2.1h-2.2zM435.2 128.8h2.2v2.1h-2.2zM241.5 130.9h2.0v2.1h-2.0zM291.1 130.9h2.2v2.1h-2.2zM404.3 130.9h2.2v2.1h-2.2zM468.1 130.9h2.2v2.1h-2.2zM239.5 132.9h2.0v2.1h-2.0zM243.4 132.9h2.0v2.1h-2.0zM394.0 132.9h2.2v2.1h-2.2zM404.3 132.9h2.2v2.1h-2.2zM416.7 132.9h4.2v2.1h-4.2zM464.0 132.9h2.2v2.1h-2.2zM237.6 134.9h2.0v2.1h-2.0zM352.8 134.9h2.2v2.1h-2.2zM387.8 134.9h2.2v2.1h-2.2zM420.8 134.9h2.2v2.1h-2.2zM431.1 134.9h4.2v2.1h-4.2zM441.4 134.9h2.2v2.1h-2.2zM398.1 136.9h2.2v2.1h-2.2zM449.6 136.9h4.2v2.1h-4.2zM457.8 136.9h2.2v2.1h-2.2zM398.1 138.9h2.2v2.1h-2.2zM418.7 138.9h2.2v2.1h-2.2zM422.8 138.9h2.2v2.1h-2.2zM429.0 138.9h2.2v2.1h-2.2zM437.3 138.9h4.2v2.1h-4.2zM462.0 138.9h2.2v2.1h-2.2zM427.0 140.9h2.2v2.1h-2.2zM476.4 142.9h2.2v2.1h-2.2zM480.5 142.9h2.2v2.1h-2.2zM272.6 144.9h2.2v2.1h-2.2zM272.6 146.9h4.2v2.1h-4.2zM226.0 152.9h2.0v2.1h-2.0zM291.1 156.9h2.2v2.1h-2.2zM322.0 156.9h2.2v2.1h-2.2zM338.4 156.9h2.2v2.1h-2.2zM404.3 156.9h2.2v2.1h-2.2zM276.7 158.9h2.2v2.1h-2.2zM289.0 158.9h4.2v2.1h-4.2zM324.0 158.9h2.2v2.1h-2.2zM404.3 158.9h2.2v2.1h-2.2zM408.4 158.9h2.2v2.1h-2.2zM222.1 160.9h2.0v2.1h-2.0zM249.2 160.9h2.0v2.1h-2.0zM280.8 160.9h4.2v2.1h-4.2zM305.5 160.9h2.2v2.1h-2.2zM348.7 160.9h2.2v2.1h-2.2zM437.3 160.9h2.2v2.1h-2.2zM447.5 160.9h2.2v2.1h-2.2zM226.0 162.9h2.0v2.1h-2.0zM280.8 162.9h2.2v2.1h-2.2zM299.3 162.9h2.2v2.1h-2.2zM307.6 162.9h2.2v2.1h-2.2zM357.0 162.9h2.2v2.1h-2.2zM385.8 162.9h2.2v2.1h-2.2zM420.8 162.9h2.2v2.1h-2.2zM270.5 164.9h2.2v2.1h-2.2zM274.6 164.9h2.2v2.1h-2.2zM278.7 164.9h2.2v2.1h-2.2zM282.9 164.9h2.2v2.1h-2.2zM307.6 164.9h2.2v2.1h-2.2zM392.0 164.9h2.2v2.1h-2.2zM396.1 164.9h2.2v2.1h-2.2zM202.8 166.9h2.0v2.1h-2.0zM222.1 166.9h2.0v2.1h-2.0zM274.6 166.9h2.2v2.1h-2.2zM280.8 166.9h2.2v2.1h-2.2zM291.1 166.9h2.2v2.1h-2.2zM299.3 166.9h2.2v2.1h-2.2zM305.5 166.9h4.2v2.1h-4.2zM336.4 166.9h2.2v2.1h-2.2zM357.0 166.9h2.2v2.1h-2.2zM385.8 166.9h2.2v2.1h-2.2zM389.9 166.9h2.2v2.1h-2.2zM396.1 166.9h2.2v2.1h-2.2zM402.3 166.9h2.2v2.1h-2.2zM406.4 166.9h2.2v2.1h-2.2zM482.5 166.9h2.2v2.1h-2.2zM226.0 168.9h2.0v2.1h-2.0zM229.9 168.9h2.0v2.1h-2.0zM233.7 168.9h2.0v2.1h-2.0zM237.6 168.9h2.0v2.1h-2.0zM291.1 168.9h2.2v2.1h-2.2zM297.3 168.9h2.2v2.1h-2.2zM301.4 168.9h2.2v2.1h-2.2zM338.4 168.9h4.2v2.1h-4.2zM385.8 168.9h2.2v2.1h-2.2zM420.8 168.9h2.2v2.1h-2.2zM445.5 168.9h2.2v2.1h-2.2zM457.8 168.9h2.2v2.1h-2.2zM216.3 170.9h4.0v2.1h-4.0zM222.1 170.9h2.0v2.1h-2.0zM231.8 170.9h2.0v2.1h-2.0zM280.8 170.9h2.2v2.1h-2.2zM297.3 170.9h2.2v2.1h-2.2zM330.2 170.9h2.2v2.1h-2.2zM373.4 170.9h2.2v2.1h-2.2zM381.7 170.9h2.2v2.1h-2.2zM396.1 170.9h2.2v2.1h-2.2zM404.3 170.9h2.2v2.1h-2.2zM410.5 170.9h2.2v2.1h-2.2zM414.6 170.9h4.2v2.1h-4.2zM431.1 170.9h4.2v2.1h-4.2zM441.4 170.9h2.2v2.1h-2.2zM449.6 170.9h2.2v2.1h-2.2zM204.7 172.9h2.0v2.1h-2.0zM274.6 172.9h2.2v2.1h-2.2zM291.1 172.9h2.2v2.1h-2.2zM315.8 172.9h2.2v2.1h-2.2zM420.8 172.9h2.2v2.1h-2.2zM427.0 172.9h2.2v2.1h-2.2zM439.3 172.9h2.2v2.1h-2.2zM447.5 172.9h2.2v2.1h-2.2zM457.8 172.9h2.2v2.1h-2.2zM200.8 174.9h2.0v2.1h-2.0zM210.5 174.9h2.0v2.1h-2.0zM214.4 174.9h2.0v2.1h-2.0zM295.2 174.9h2.2v2.1h-2.2zM322.0 174.9h2.2v2.1h-2.2zM330.2 174.9h2.2v2.1h-2.2zM340.5 174.9h2.2v2.1h-2.2zM357.0 174.9h2.2v2.1h-2.2zM375.5 174.9h2.2v2.1h-2.2zM410.5 174.9h4.2v2.1h-4.2zM455.8 174.9h2.2v2.1h-2.2zM210.5 176.9h2.0v2.1h-2.0zM319.9 176.9h2.2v2.1h-2.2zM338.4 176.9h2.2v2.1h-2.2zM394.0 176.9h2.2v2.1h-2.2zM420.8 176.9h2.2v2.1h-2.2zM435.2 176.9h2.2v2.1h-2.2zM447.5 176.9h2.2v2.1h-2.2zM451.7 176.9h2.2v2.1h-2.2zM457.8 176.9h2.2v2.1h-2.2zM462.0 176.9h2.2v2.1h-2.2zM474.3 176.9h4.2v2.1h-4.2zM482.5 176.9h2.2v2.1h-2.2zM330.2 178.9h2.2v2.1h-2.2zM340.5 178.9h2.2v2.1h-2.2zM359.0 178.9h4.2v2.1h-4.2zM412.5 178.9h2.2v2.1h-2.2zM416.7 178.9h2.2v2.1h-2.2zM443.4 178.9h2.2v2.1h-2.2zM449.6 178.9h2.2v2.1h-2.2zM459.9 178.9h2.2v2.1h-2.2zM468.1 178.9h2.2v2.1h-2.2zM179.5 180.9h2.0v2.1h-2.0zM183.4 180.9h2.0v2.1h-2.0zM193.1 180.9h5.9v2.1h-5.9zM212.4 180.9h2.0v2.1h-2.0zM226.0 180.9h2.0v2.1h-2.0zM289.0 180.9h2.2v2.1h-2.2zM336.4 180.9h2.2v2.1h-2.2zM342.6 180.9h2.2v2.1h-2.2zM394.0 180.9h2.2v2.1h-2.2zM418.7 180.9h2.2v2.1h-2.2zM462.0 180.9h2.2v2.1h-2.2zM200.8 182.9h2.0v2.1h-2.0zM206.6 182.9h2.0v2.1h-2.0zM262.8 182.9h2.0v2.1h-2.0zM278.7 182.9h2.2v2.1h-2.2zM284.9 182.9h2.2v2.1h-2.2zM313.7 182.9h2.2v2.1h-2.2zM342.6 182.9h2.2v2.1h-2.2zM371.4 182.9h2.2v2.1h-2.2zM377.6 182.9h2.2v2.1h-2.2zM431.1 182.9h2.2v2.1h-2.2zM437.3 182.9h2.2v2.1h-2.2zM455.8 182.9h2.2v2.1h-2.2zM185.3 184.9h2.0v2.1h-2.0zM231.8 184.9h2.0v2.1h-2.0zM237.6 184.9h4.0v2.1h-4.0zM249.2 184.9h2.0v2.1h-2.0zM255.0 184.9h5.9v2.1h-5.9zM422.8 184.9h2.2v2.1h-2.2zM181.5 186.9h2.0v2.1h-2.0zM189.2 186.9h2.0v2.1h-2.0zM193.1 186.9h2.0v2.1h-2.0zM200.8 186.9h2.0v2.1h-2.0zM210.5 186.9h2.0v2.1h-2.0zM220.2 186.9h2.0v2.1h-2.0zM229.9 186.9h2.0v2.1h-2.0zM241.5 186.9h2.0v2.1h-2.0zM262.8 186.9h2.0v2.1h-2.0zM266.6 186.9h2.0v2.1h-2.0zM435.2 186.9h2.2v2.1h-2.2zM189.2 188.9h2.0v2.1h-2.0zM208.6 188.9h2.0v2.1h-2.0zM336.4 188.9h2.2v2.1h-2.2zM361.1 188.9h2.2v2.1h-2.2zM177.6 190.9h2.0v2.1h-2.0zM183.4 190.9h2.0v2.1h-2.0zM191.1 190.9h2.0v2.1h-2.0zM197.0 190.9h2.0v2.1h-2.0zM200.8 190.9h2.0v2.1h-2.0zM220.2 190.9h4.0v2.1h-4.0zM227.9 190.9h2.0v2.1h-2.0zM363.1 190.9h2.2v2.1h-2.2zM371.4 190.9h2.2v2.1h-2.2zM206.6 192.9h4.0v2.1h-4.0zM220.2 192.9h2.0v2.1h-2.0zM330.2 192.9h4.2v2.1h-4.2zM361.1 192.9h2.2v2.1h-2.2zM371.4 192.9h2.2v2.1h-2.2zM453.7 192.9h2.2v2.1h-2.2zM468.1 192.9h2.2v2.1h-2.2zM210.5 194.9h2.0v2.1h-2.0zM251.1 194.9h2.0v2.1h-2.0zM258.9 194.9h2.0v2.1h-2.0zM359.0 194.9h2.2v2.1h-2.2zM466.1 194.9h2.2v2.1h-2.2zM470.2 194.9h2.2v2.1h-2.2zM226.0 196.9h2.0v2.1h-2.0zM359.0 196.9h2.2v2.1h-2.2zM373.4 196.9h2.2v2.1h-2.2zM187.3 198.9h2.0v2.1h-2.0zM191.1 198.9h4.0v2.1h-4.0zM198.9 198.9h2.0v2.1h-2.0zM245.3 198.9h2.0v2.1h-2.0zM297.3 200.9h4.2v2.1h-4.2zM303.4 200.9h4.2v2.1h-4.2zM311.7 200.9h4.2v2.1h-4.2zM381.7 200.9h2.2v2.1h-2.2zM389.9 200.9h2.2v2.1h-2.2zM404.3 200.9h2.2v2.1h-2.2zM414.6 200.9h2.2v2.1h-2.2zM429.0 200.9h2.2v2.1h-2.2zM206.6 203.0h2.0v2.1h-2.0zM220.2 203.0h2.0v2.1h-2.0zM235.7 203.0h2.0v2.1h-2.0zM315.8 203.0h2.2v2.1h-2.2zM322.0 203.0h2.2v2.1h-2.2zM332.3 203.0h2.2v2.1h-2.2zM336.4 203.0h2.2v2.1h-2.2zM363.1 203.0h2.2v2.1h-2.2zM385.8 203.0h2.2v2.1h-2.2zM404.3 203.0h2.2v2.1h-2.2zM410.5 203.0h2.2v2.1h-2.2zM418.7 203.0h4.2v2.1h-4.2zM424.9 203.0h4.2v2.1h-4.2zM435.2 203.0h4.2v2.1h-4.2zM449.6 203.0h2.2v2.1h-2.2zM453.7 203.0h2.2v2.1h-2.2zM478.4 203.0h2.2v2.1h-2.2zM197.0 205.0h2.0v2.1h-2.0zM229.9 205.0h2.0v2.1h-2.0zM239.5 205.0h2.0v2.1h-2.0zM243.4 205.0h2.0v2.1h-2.0zM270.5 205.0h2.2v2.1h-2.2zM287.0 205.0h4.2v2.1h-4.2zM299.3 205.0h4.2v2.1h-4.2zM319.9 205.0h2.2v2.1h-2.2zM352.8 205.0h2.2v2.1h-2.2zM379.6 205.0h2.2v2.1h-2.2zM392.0 205.0h2.2v2.1h-2.2zM398.1 205.0h2.2v2.1h-2.2zM416.7 205.0h2.2v2.1h-2.2zM422.8 205.0h2.2v2.1h-2.2zM441.4 205.0h2.2v2.1h-2.2zM457.8 205.0h2.2v2.1h-2.2zM464.0 205.0h2.2v2.1h-2.2zM470.2 205.0h2.2v2.1h-2.2zM247.3 207.0h2.0v2.1h-2.0zM293.1 207.0h2.2v2.1h-2.2zM297.3 207.0h2.2v2.1h-2.2zM319.9 207.0h2.2v2.1h-2.2zM324.0 207.0h2.2v2.1h-2.2zM328.1 207.0h2.2v2.1h-2.2zM338.4 207.0h2.2v2.1h-2.2zM346.7 207.0h2.2v2.1h-2.2zM369.3 207.0h2.2v2.1h-2.2zM375.5 207.0h2.2v2.1h-2.2zM379.6 207.0h2.2v2.1h-2.2zM383.7 207.0h2.2v2.1h-2.2zM389.9 207.0h2.2v2.1h-2.2zM396.1 207.0h2.2v2.1h-2.2zM404.3 207.0h2.2v2.1h-2.2zM414.6 207.0h2.2v2.1h-2.2zM474.3 207.0h2.2v2.1h-2.2zM216.3 209.0h2.0v2.1h-2.0zM239.5 209.0h2.0v2.1h-2.0zM243.4 209.0h2.0v2.1h-2.0zM272.6 209.0h2.2v2.1h-2.2zM289.0 209.0h4.2v2.1h-4.2zM297.3 209.0h2.2v2.1h-2.2zM332.3 209.0h2.2v2.1h-2.2zM357.0 209.0h2.2v2.1h-2.2zM367.3 209.0h2.2v2.1h-2.2zM385.8 209.0h4.2v2.1h-4.2zM410.5 209.0h2.2v2.1h-2.2zM420.8 209.0h4.2v2.1h-4.2zM466.1 209.0h2.2v2.1h-2.2zM474.3 209.0h2.2v2.1h-2.2zM480.5 209.0h2.2v2.1h-2.2zM197.0 211.0h2.0v2.1h-2.0zM257.0 211.0h2.0v2.1h-2.0zM276.7 211.0h2.2v2.1h-2.2zM280.8 211.0h2.2v2.1h-2.2zM309.6 211.0h2.2v2.1h-2.2zM324.0 211.0h4.2v2.1h-4.2zM420.8 211.0h2.2v2.1h-2.2zM443.4 211.0h2.2v2.1h-2.2zM453.7 211.0h4.2v2.1h-4.2zM462.0 211.0h2.2v2.1h-2.2zM466.1 211.0h2.2v2.1h-2.2zM476.4 211.0h2.2v2.1h-2.2zM177.6 213.0h2.0v2.1h-2.0zM247.3 213.0h2.0v2.1h-2.0zM264.7 213.0h2.0v2.1h-2.0zM272.6 213.0h2.2v2.1h-2.2zM297.3 213.0h2.2v2.1h-2.2zM303.4 213.0h2.2v2.1h-2.2zM340.5 213.0h2.2v2.1h-2.2zM346.7 213.0h4.2v2.1h-4.2zM363.1 213.0h2.2v2.1h-2.2zM379.6 213.0h2.2v2.1h-2.2zM385.8 213.0h2.2v2.1h-2.2zM389.9 213.0h2.2v2.1h-2.2zM394.0 213.0h2.2v2.1h-2.2zM398.1 213.0h2.2v2.1h-2.2zM408.4 213.0h4.2v2.1h-4.2zM451.7 213.0h2.2v2.1h-2.2zM464.0 213.0h6.3v2.1h-6.3zM189.2 215.0h2.0v2.1h-2.0zM210.5 215.0h2.0v2.1h-2.0zM237.6 215.0h2.0v2.1h-2.0zM251.1 215.0h2.0v2.1h-2.0zM268.6 215.0h2.0v2.1h-2.0zM280.8 215.0h2.2v2.1h-2.2zM291.1 215.0h2.2v2.1h-2.2zM311.7 215.0h4.2v2.1h-4.2zM338.4 215.0h2.2v2.1h-2.2zM344.6 215.0h2.2v2.1h-2.2zM352.8 215.0h4.2v2.1h-4.2zM361.1 215.0h2.2v2.1h-2.2zM369.3 215.0h2.2v2.1h-2.2zM385.8 215.0h2.2v2.1h-2.2zM389.9 215.0h2.2v2.1h-2.2zM404.3 215.0h2.2v2.1h-2.2zM412.5 215.0h2.2v2.1h-2.2zM427.0 215.0h4.2v2.1h-4.2zM453.7 215.0h2.2v2.1h-2.2zM457.8 215.0h2.2v2.1h-2.2zM462.0 215.0h2.2v2.1h-2.2zM478.4 215.0h4.2v2.1h-4.2zM183.4 217.0h2.0v2.1h-2.0zM247.3 217.0h2.0v2.1h-2.0zM253.1 217.0h7.8v2.1h-7.8zM268.6 217.0h2.0v2.1h-2.0zM293.1 217.0h4.2v2.1h-4.2zM301.4 217.0h2.2v2.1h-2.2zM307.6 217.0h2.2v2.1h-2.2zM311.7 217.0h2.2v2.1h-2.2zM332.3 217.0h2.2v2.1h-2.2zM344.6 217.0h2.2v2.1h-2.2zM352.8 217.0h2.2v2.1h-2.2zM361.1 217.0h4.2v2.1h-4.2zM398.1 217.0h2.2v2.1h-2.2zM424.9 217.0h2.2v2.1h-2.2zM435.2 217.0h2.2v2.1h-2.2zM470.2 217.0h2.2v2.1h-2.2zM476.4 217.0h2.2v2.1h-2.2zM480.5 217.0h2.2v2.1h-2.2zM330.2 225.0h2.2v2.1h-2.2zM336.4 229.0h2.2v2.1h-2.2zM447.5 231.0h2.2v2.1h-2.2z"/>
<path fill="#0c880c" d="M278.7 92.8h2.2v2.1h-2.2zM299.3 92.8h2.2v2.1h-2.2zM305.5 92.8h2.2v2.1h-2.2zM359.0 92.8h4.2v2.1h-4.2zM396.1 92.8h2.2v2.1h-2.2zM400.2 92.8h2.2v2.1h-2.2zM431.1 92.8h2.2v2.1h-2.2zM457.8 92.8h2.2v2.1h-2.2zM218.2 94.8h2.0v2.1h-2.0zM270.5 94.8h2.2v2.1h-2.2zM280.8 94.8h4.2v2.1h-4.2zM350.8 94.8h2.2v2.1h-2.2zM357.0 94.8h2.2v2.1h-2.2zM377.6 94.8h2.2v2.1h-2.2zM387.8 94.8h2.2v2.1h-2.2zM404.3 94.8h2.2v2.1h-2.2zM447.5 94.8h4.2v2.1h-4.2zM459.9 94.8h2.2v2.1h-2.2zM235.7 96.8h2.0v2.1h-2.0zM272.6 96.8h2.2v2.1h-2.2zM280.8 96.8h2.2v2.1h-2.2zM359.0 96.8h2.2v2.1h-2.2zM402.3 96.8h2.2v2.1h-2.2zM414.6 96.8h2.2v2.1h-2.2zM472.2 96.8h2.2v2.1h-2.2zM206.6 98.8h2.0v2.1h-2.0zM274.6 98.8h2.2v2.1h-2.2zM278.7 98.8h2.2v2.1h-2.2zM282.9 98.8h2.2v2.1h-2.2zM289.0 98.8h2.2v2.1h-2.2zM330.2 98.8h2.2v2.1h-2.2zM334.3 98.8h2.2v2.1h-2.2zM383.7 98.8h2.2v2.1h-2.2zM420.8 98.8h2.2v2.1h-2.2zM447.5 98.8h2.2v2.1h-2.2zM468.1 98.8h2.2v2.1h-2.2zM307.6 100.8h2.2v2.1h-2.2zM322.0 100.8h4.2v2.1h-4.2zM328.1 100.8h2.2v2.1h-2.2zM338.4 100.8h2.2v2.1h-2.2zM410.5 100.8h2.2v2.1h-2.2zM416.7 100.8h4.2v2.1h-4.2zM433.1 100.8h2.2v2.1h-2.2zM437.3 100.8h2.2v2.1h-2.2zM451.7 100.8h4.2v2.1h-4.2zM233.7 102.8h2.0v2.1h-2.0zM239.5 102.8h2.0v2.1h-2.0zM311.7 102.8h4.2v2.1h-4.2zM336.4 102.8h2.2v2.1h-2.2zM342.6 102.8h2.2v2.1h-2.2zM398.1 102.8h2.2v2.1h-2.2zM402.3 102.8h4.2v2.1h-4.2zM410.5 102.8h6.3v2.1h-6.3zM433.1 102.8h2.2v2.1h-2.2zM443.4 102.8h2.2v2.1h-2.2zM235.7 104.8h4.0v2.1h-4.0zM247.3 104.8h7.8v2.1h-7.8zM258.9 104.8h2.0v2.1h-2.0zM301.4 104.8h2.2v2.1h-2.2zM305.5 104.8h4.2v2.1h-4.2zM365.2 104.8h2.2v2.1h-2.2zM420.8 104.8h2.2v2.1h-2.2zM429.0 104.8h4.2v2.1h-4.2zM445.5 104.8h2.2v2.1h-2.2zM237.6 106.8h2.0v2.1h-2.0zM324.0 106.8h2.2v2.1h-2.2zM350.8 106.8h2.2v2.1h-2.2zM429.0 106.8h2.2v2.1h-2.2zM447.5 106.8h2.2v2.1h-2.2zM208.6 108.8h2.0v2.1h-2.0zM235.7 108.8h2.0v2.1h-2.0zM257.0 108.8h2.0v2.1h-2.0zM260.8 108.8h2.0v2.1h-2.0zM303.4 108.8h2.2v2.1h-2.2zM309.6 108.8h2.2v2.1h-2.2zM365.2 108.8h2.2v2.1h-2.2zM441.4 108.8h2.2v2.1h-2.2zM231.8 110.8h2.0v2.1h-2.0zM235.7 110.8h2.0v2.1h-2.0zM293.1 110.8h4.2v2.1h-4.2zM379.6 110.8h2.2v2.1h-2.2zM383.7 110.8h2.2v2.1h-2.2zM400.2 110.8h2.2v2.1h-2.2zM410.5 110.8h2.2v2.1h-2.2zM443.4 110.8h2.2v2.1h-2.2zM299.3 112.8h2.2v2.1h-2.2zM315.8 112.8h2.2v2.1h-2.2zM326.1 112.8h4.2v2.1h-4.2zM352.8 112.8h2.2v2.1h-2.2zM367.3 112.8h2.2v2.1h-2.2zM371.4 112.8h4.2v2.1h-4.2zM381.7 112.8h4.2v2.1h-4.2zM389.9 112.8h2.2v2.1h-2.2zM396.1 112.8h2.2v2.1h-2.2zM429.0 112.8h2.2v2.1h-2.2zM435.2 112.8h2.2v2.1h-2.2zM474.3 112.8h2.2v2.1h-2.2zM480.5 112.8h2.2v2.1h-2.2zM297.3 114.8h4.2v2.1h-4.2zM332.3 114.8h4.2v2.1h-4.2zM377.6 114.8h2.2v2.1h-2.2zM383.7 114.8h2.2v2.1h-2.2zM404.3 114.8h2.2v2.1h-2.2zM414.6 114.8h4.2v2.1h-4.2zM424.9 114.8h2.2v2.1h-2.2zM453.7 114.8h2.2v2.1h-2.2zM402.3 116.8h2.2v2.1h-2.2zM431.1 116.8h2.2v2.1h-2.2zM435.2 116.8h2.2v2.1h-2.2zM218.2 118.8h2.0v2.1h-2.0zM282.9 118.8h2.2v2.1h-2.2zM315.8 118.8h2.2v2.1h-2.2zM359.0 118.8h2.2v2.1h-2.2zM379.6 118.8h2.2v2.1h-2.2zM383.7 118.8h2.2v2.1h-2.2zM394.0 118.8h2.2v2.1h-2.2zM408.4 118.8h2.2v2.1h-2.2zM418.7 118.8h2.2v2.1h-2.2zM431.1 118.8h2.2v2.1h-2.2zM459.9 118.8h2.2v2.1h-2.2zM468.1 118.8h2.2v2.1h-2.2zM472.2 118.8h2.2v2.1h-2.2zM369.3 120.8h2.2v2.1h-2.2zM396.1 120.8h4.2v2.1h-4.2zM437.3 120.8h2.2v2.1h-2.2zM451.7 120.8h2.2v2.1h-2.2zM336.4 122.8h2.2v2.1h-2.2zM373.4 122.8h2.2v2.1h-2.2zM418.7 122.8h2.2v2.1h-2.2zM453.7 122.8h2.2v2.1h-2.2zM472.2 122.8h2.2v2.1h-2.2zM373.4 124.8h2.2v2.1h-2.2zM328.1 126.8h2.2v2.1h-2.2zM352.8 126.8h2.2v2.1h-2.2zM280.8 128.8h2.2v2.1h-2.2zM284.9 128.8h2.2v2.1h-2.2zM301.4 128.8h2.2v2.1h-2.2zM336.4 128.8h4.2v2.1h-4.2zM344.6 128.8h2.2v2.1h-2.2zM373.4 128.8h2.2v2.1h-2.2zM239.5 130.9h2.0v2.1h-2.0zM243.4 130.9h2.0v2.1h-2.0zM270.5 130.9h2.2v2.1h-2.2zM276.7 130.9h2.2v2.1h-2.2zM280.8 130.9h2.2v2.1h-2.2zM295.2 130.9h2.2v2.1h-2.2zM334.3 130.9h2.2v2.1h-2.2zM338.4 130.9h2.2v2.1h-2.2zM342.6 130.9h2.2v2.1h-2.2zM350.8 130.9h2.2v2.1h-2.2zM462.0 130.9h2.2v2.1h-2.2zM470.2 130.9h4.2v2.1h-4.2zM226.0 132.9h2.0v2.1h-2.0zM229.9 132.9h2.0v2.1h-2.0zM235.7 132.9h2.0v2.1h-2.0zM317.8 132.9h2.2v2.1h-2.2zM338.4 132.9h2.2v2.1h-2.2zM350.8 132.9h2.2v2.1h-2.2zM387.8 132.9h4.2v2.1h-4.2zM412.5 132.9h2.2v2.1h-2.2zM427.0 132.9h2.2v2.1h-2.2zM437.3 132.9h2.2v2.1h-2.2zM466.1 132.9h2.2v2.1h-2.2zM350.8 134.9h2.2v2.1h-2.2zM357.0 134.9h2.2v2.1h-2.2zM394.0 134.9h2.2v2.1h-2.2zM439.3 134.9h2.2v2.1h-2.2zM468.1 134.9h2.2v2.1h-2.2zM206.6 136.9h2.0v2.1h-2.0zM416.7 136.9h2.2v2.1h-2.2zM433.1 136.9h2.2v2.1h-2.2zM441.4 136.9h2.2v2.1h-2.2zM474.3 136.9h2.2v2.1h-2.2zM480.5 136.9h2.2v2.1h-2.2zM427.0 138.9h2.2v2.1h-2.2zM435.2 138.9h2.2v2.1h-2.2zM441.4 138.9h2.2v2.1h-2.2zM455.8 138.9h2.2v2.1h-2.2zM387.8 140.9h4.2v2.1h-4.2zM435.2 140.9h2.2v2.1h-2.2zM476.4 140.9h2.2v2.1h-2.2zM482.5 142.9h2.2v2.1h-2.2zM389.9 144.9h2.2v2.1h-2.2zM276.7 146.9h2.2v2.1h-2.2zM437.3 146.9h2.2v2.1h-2.2zM276.7 150.9h2.2v2.1h-2.2zM289.0 156.9h2.2v2.1h-2.2zM293.1 156.9h2.2v2.1h-2.2zM326.1 156.9h2.2v2.1h-2.2zM336.4 156.9h2.2v2.1h-2.2zM375.5 156.9h2.2v2.1h-2.2zM387.8 156.9h4.2v2.1h-4.2zM400.2 156.9h2.2v2.1h-2.2zM408.4 156.9h2.2v2.1h-2.2zM270.5 158.9h2.2v2.1h-2.2zM287.0 158.9h2.2v2.1h-2.2zM293.1 158.9h2.2v2.1h-2.2zM309.6 158.9h2.2v2.1h-2.2zM274.6 160.9h2.2v2.1h-2.2zM278.7 160.9h2.2v2.1h-2.2zM311.7 160.9h2.2v2.1h-2.2zM322.0 160.9h2.2v2.1h-2.2zM342.6 160.9h2.2v2.1h-2.2zM392.0 160.9h2.2v2.1h-2.2zM418.7 160.9h2.2v2.1h-2.2zM431.1 160.9h4.2v2.1h-4.2zM441.4 160.9h2.2v2.1h-2.2zM305.5 162.9h2.2v2.1h-2.2zM350.8 162.9h2.2v2.1h-2.2zM359.0 162.9h2.2v2.1h-2.2zM437.3 162.9h2.2v2.1h-2.2zM462.0 162.9h2.2v2.1h-2.2zM472.2 162.9h2.2v2.1h-2.2zM476.4 162.9h2.2v2.1h-2.2zM280.8 164.9h2.2v2.1h-2.2zM315.8 164.9h2.2v2.1h-2.2zM342.6 164.9h2.2v2.1h-2.2zM350.8 164.9h2.2v2.1h-2.2zM377.6 164.9h2.2v2.1h-2.2zM398.1 164.9h2.2v2.1h-2.2zM470.2 164.9h2.2v2.1h-2.2zM476.4 164.9h2.2v2.1h-2.2zM482.5 164.9h2.2v2.1h-2.2zM282.9 166.9h2.2v2.1h-2.2zM289.0 166.9h2.2v2.1h-2.2zM293.1 166.9h2.2v2.1h-2.2zM313.7 166.9h2.2v2.1h-2.2zM322.0 166.9h2.2v2.1h-2.2zM352.8 166.9h2.2v2.1h-2.2zM373.4 166.9h2.2v2.1h-2.2zM381.7 166.9h2.2v2.1h-2.2zM410.5 166.9h2.2v2.1h-2.2zM468.1 166.9h2.2v2.1h-2.2zM480.5 166.9h2.2v2.1h-2.2zM224.1 168.9h2.0v2.1h-2.0zM235.7 168.9h2.0v2.1h-2.0zM287.0 168.9h4.2v2.1h-4.2zM295.2 168.9h2.2v2.1h-2.2zM344.6 168.9h2.2v2.1h-2.2zM361.1 168.9h4.2v2.1h-4.2zM373.4 168.9h2.2v2.1h-2.2zM400.2 168.9h2.2v2.1h-2.2zM447.5 168.9h4.2v2.1h-4.2zM455.8 168.9h2.2v2.1h-2.2zM197.0 170.9h2.0v2.1h-2.0zM253.1 170.9h2.0v2.1h-2.0zM398.1 170.9h2.2v2.1h-2.2zM453.7 170.9h2.2v2.1h-2.2zM468.1 170.9h2.2v2.1h-2.2zM472.2 170.9h2.2v2.1h-2.2zM410.5 172.9h2.2v2.1h-2.2zM418.7 172.9h2.2v2.1h-2.2zM429.0 172.9h2.2v2.1h-2.2zM437.3 172.9h2.2v2.1h-2.2zM445.5 172.9h2.2v2.1h-2.2zM480.5 172.9h2.2v2.1h-2.2zM272.6 174.9h2.2v2.1h-2.2zM299.3 174.9h2.2v2.1h-2.2zM309.6 174.9h2.2v2.1h-2.2zM315.8 174.9h2.2v2.1h-2.2zM338.4 174.9h2.2v2.1h-2.2zM344.6 174.9h2.2v2.1h-2.2zM359.0 174.9h2.2v2.1h-2.2zM394.0 174.9h2.2v2.1h-2.2zM418.7 174.9h2.2v2.1h-2.2zM422.8 174.9h4.2v2.1h-4.2zM429.0 174.9h4.2v2.1h-4.2zM453.7 174.9h2.2v2.1h-2.2zM462.0 174.9h2.2v2.1h-2.2zM472.2 174.9h2.2v2.1h-2.2zM287.0 176.9h2.2v2.1h-2.2zM311.7 176.9h4.2v2.1h-4.2zM322.0 176.9h2.2v2.1h-2.2zM340.5 176.9h2.2v2.1h-2.2zM383.7 176.9h2.2v2.1h-2.2zM387.8 176.9h2.2v2.1h-2.2zM439.3 176.9h2.2v2.1h-2.2zM443.4 176.9h2.2v2.1h-2.2zM449.6 176.9h2.2v2.1h-2.2zM459.9 176.9h2.2v2.1h-2.2zM396.1 178.9h4.2v2.1h-4.2zM420.8 178.9h2.2v2.1h-2.2zM435.2 178.9h2.2v2.1h-2.2zM441.4 178.9h2.2v2.1h-2.2zM464.0 178.9h4.2v2.1h-4.2zM474.3 178.9h2.2v2.1h-2.2zM214.4 180.9h2.0v2.1h-2.0zM231.8 180.9h2.0v2.1h-2.0zM237.6 180.9h2.0v2.1h-2.0zM243.4 180.9h2.0v2.1h-2.0zM266.6 180.9h2.0v2.1h-2.0zM287.0 180.9h2.2v2.1h-2.2zM297.3 180.9h2.2v2.1h-2.2zM313.7 180.9h2.2v2.1h-2.2zM330.2 180.9h2.2v2.1h-2.2zM352.8 180.9h2.2v2.1h-2.2zM359.0 180.9h2.2v2.1h-2.2zM398.1 180.9h4.2v2.1h-4.2zM427.0 180.9h4.2v2.1h-4.2zM441.4 180.9h2.2v2.1h-2.2zM449.6 180.9h2.2v2.1h-2.2zM455.8 180.9h2.2v2.1h-2.2zM470.2 180.9h2.2v2.1h-2.2zM177.6 182.9h2.0v2.1h-2.0zM229.9 182.9h2.0v2.1h-2.0zM251.1 182.9h2.0v2.1h-2.0zM266.6 182.9h2.0v2.1h-2.0zM301.4 182.9h2.2v2.1h-2.2zM383.7 182.9h2.2v2.1h-2.2zM410.5 182.9h2.2v2.1h-2.2zM422.8 182.9h2.2v2.1h-2.2zM433.1 182.9h2.2v2.1h-2.2zM441.4 182.9h2.2v2.1h-2.2zM466.1 182.9h4.2v2.1h-4.2zM189.2 184.9h2.0v2.1h-2.0zM216.3 184.9h2.0v2.1h-2.0zM227.9 184.9h2.0v2.1h-2.0zM241.5 184.9h5.9v2.1h-5.9zM253.1 184.9h2.0v2.1h-2.0zM262.8 184.9h2.0v2.1h-2.0zM266.6 184.9h2.0v2.1h-2.0zM381.7 184.9h2.2v2.1h-2.2zM177.6 186.9h4.0v2.1h-4.0zM195.0 186.9h4.0v2.1h-4.0zM202.8 186.9h2.0v2.1h-2.0zM231.8 186.9h2.0v2.1h-2.0zM239.5 186.9h2.0v2.1h-2.0zM260.8 186.9h2.0v2.1h-2.0zM332.3 186.9h2.2v2.1h-2.2zM371.4 186.9h2.2v2.1h-2.2zM447.5 186.9h2.2v2.1h-2.2zM470.2 186.9h4.2v2.1h-4.2zM183.4 188.9h2.0v2.1h-2.0zM214.4 188.9h2.0v2.1h-2.0zM245.3 188.9h2.0v2.1h-2.0zM185.3 190.9h2.0v2.1h-2.0zM214.4 190.9h2.0v2.1h-2.0zM218.2 190.9h2.0v2.1h-2.0zM233.7 190.9h2.0v2.1h-2.0zM336.4 190.9h2.2v2.1h-2.2zM359.0 190.9h2.2v2.1h-2.2zM377.6 190.9h2.2v2.1h-2.2zM476.4 190.9h2.2v2.1h-2.2zM189.2 192.9h2.0v2.1h-2.0zM200.8 192.9h2.0v2.1h-2.0zM210.5 192.9h2.0v2.1h-2.0zM338.4 192.9h2.2v2.1h-2.2zM342.6 192.9h4.2v2.1h-4.2zM352.8 192.9h2.2v2.1h-2.2zM359.0 192.9h2.2v2.1h-2.2zM363.1 192.9h2.2v2.1h-2.2zM367.3 192.9h2.2v2.1h-2.2zM451.7 192.9h2.2v2.1h-2.2zM455.8 192.9h2.2v2.1h-2.2zM181.5 194.9h2.0v2.1h-2.0zM235.7 194.9h4.0v2.1h-4.0zM260.8 194.9h2.0v2.1h-2.0zM328.1 194.9h2.2v2.1h-2.2zM336.4 194.9h2.2v2.1h-2.2zM350.8 194.9h2.2v2.1h-2.2zM369.3 194.9h4.2v2.1h-4.2zM243.4 196.9h2.0v2.1h-2.0zM332.3 198.9h2.2v2.1h-2.2zM367.3 198.9h2.2v2.1h-2.2zM373.4 198.9h2.2v2.1h-2.2zM451.7 198.9h6.3v2.1h-6.3zM289.0 200.9h2.2v2.1h-2.2zM293.1 200.9h2.2v2.1h-2.2zM324.0 200.9h2.2v2.1h-2.2zM336.4 200.9h2.2v2.1h-2.2zM359.0 200.9h2.2v2.1h-2.2zM365.2 200.9h2.2v2.1h-2.2zM373.4 200.9h2.2v2.1h-2.2zM396.1 200.9h6.3v2.1h-6.3zM408.4 200.9h2.2v2.1h-2.2zM422.8 200.9h2.2v2.1h-2.2zM431.1 200.9h4.2v2.1h-4.2zM437.3 200.9h2.2v2.1h-2.2zM466.1 200.9h4.2v2.1h-4.2zM231.8 203.0h2.0v2.1h-2.0zM307.6 203.0h2.2v2.1h-2.2zM324.0 203.0h2.2v2.1h-2.2zM344.6 203.0h2.2v2.1h-2.2zM359.0 203.0h2.2v2.1h-2.2zM377.6 203.0h2.2v2.1h-2.2zM422.8 203.0h2.2v2.1h-2.2zM431.1 203.0h2.2v2.1h-2.2zM439.3 203.0h2.2v2.1h-2.2zM443.4 203.0h2.2v2.1h-2.2zM447.5 203.0h2.2v2.1h-2.2zM474.3 203.0h2.2v2.1h-2.2zM216.3 205.0h2.0v2.1h-2.0zM257.0 205.0h2.0v2.1h-2.0zM260.8 205.0h2.0v2.1h-2.0zM266.6 205.0h2.0v2.1h-2.0zM354.9 205.0h2.2v2.1h-2.2zM408.4 205.0h2.2v2.1h-2.2zM431.1 205.0h2.2v2.1h-2.2zM445.5 205.0h2.2v2.1h-2.2zM468.1 205.0h2.2v2.1h-2.2zM472.2 205.0h2.2v2.1h-2.2zM198.9 207.0h2.0v2.1h-2.0zM245.3 207.0h2.0v2.1h-2.0zM287.0 207.0h2.2v2.1h-2.2zM301.4 207.0h2.2v2.1h-2.2zM315.8 207.0h2.2v2.1h-2.2zM334.3 207.0h2.2v2.1h-2.2zM348.7 207.0h2.2v2.1h-2.2zM381.7 207.0h2.2v2.1h-2.2zM410.5 207.0h4.2v2.1h-4.2zM420.8 207.0h2.2v2.1h-2.2zM429.0 207.0h2.2v2.1h-2.2zM439.3 207.0h2.2v2.1h-2.2zM443.4 207.0h2.2v2.1h-2.2zM470.2 207.0h2.2v2.1h-2.2zM198.9 209.0h2.0v2.1h-2.0zM224.1 209.0h2.0v2.1h-2.0zM257.0 209.0h4.0v2.1h-4.0zM270.5 209.0h2.2v2.1h-2.2zM274.6 209.0h4.2v2.1h-4.2zM280.8 209.0h2.2v2.1h-2.2zM303.4 209.0h2.2v2.1h-2.2zM330.2 209.0h2.2v2.1h-2.2zM336.4 209.0h2.2v2.1h-2.2zM371.4 209.0h2.2v2.1h-2.2zM377.6 209.0h2.2v2.1h-2.2zM392.0 209.0h2.2v2.1h-2.2zM398.1 209.0h2.2v2.1h-2.2zM406.4 209.0h2.2v2.1h-2.2zM424.9 209.0h2.2v2.1h-2.2zM429.0 209.0h2.2v2.1h-2.2zM453.7 209.0h2.2v2.1h-2.2zM470.2 209.0h2.2v2.1h-2.2zM202.8 211.0h2.0v2.1h-2.0zM206.6 211.0h5.9v2.1h-5.9zM220.2 211.0h2.0v2.1h-2.0zM224.1 211.0h2.0v2.1h-2.0zM227.9 211.0h2.0v2.1h-2.0zM245.3 211.0h2.0v2.1h-2.0zM251.1 211.0h2.0v2.1h-2.0zM313.7 211.0h2.2v2.1h-2.2zM322.0 211.0h2.2v2.1h-2.2zM367.3 211.0h2.2v2.1h-2.2zM385.8 211.0h2.2v2.1h-2.2zM389.9 211.0h2.2v2.1h-2.2zM396.1 211.0h2.2v2.1h-2.2zM402.3 211.0h4.2v2.1h-4.2zM408.4 211.0h2.2v2.1h-2.2zM451.7 211.0h2.2v2.1h-2.2zM457.8 211.0h2.2v2.1h-2.2zM482.5 211.0h2.2v2.1h-2.2zM179.5 213.0h2.0v2.1h-2.0zM241.5 213.0h4.0v2.1h-4.0zM257.0 213.0h4.0v2.1h-4.0zM274.6 213.0h2.2v2.1h-2.2zM280.8 213.0h2.2v2.1h-2.2zM284.9 213.0h2.2v2.1h-2.2zM311.7 213.0h2.2v2.1h-2.2zM342.6 213.0h4.2v2.1h-4.2zM350.8 213.0h2.2v2.1h-2.2zM354.9 213.0h2.2v2.1h-2.2zM367.3 213.0h2.2v2.1h-2.2zM418.7 213.0h6.3v2.1h-6.3zM427.0 213.0h2.2v2.1h-2.2zM179.5 215.0h2.0v2.1h-2.0zM187.3 215.0h2.0v2.1h-2.0zM233.7 215.0h2.0v2.1h-2.0zM241.5 215.0h5.9v2.1h-5.9zM249.2 215.0h2.0v2.1h-2.0zM257.0 215.0h2.0v2.1h-2.0zM303.4 215.0h4.2v2.1h-4.2zM324.0 215.0h2.2v2.1h-2.2zM330.2 215.0h2.2v2.1h-2.2zM346.7 215.0h2.2v2.1h-2.2zM350.8 215.0h2.2v2.1h-2.2zM359.0 215.0h2.2v2.1h-2.2zM375.5 215.0h2.2v2.1h-2.2zM381.7 215.0h2.2v2.1h-2.2zM433.1 215.0h2.2v2.1h-2.2zM470.2 215.0h2.2v2.1h-2.2zM195.0 217.0h2.0v2.1h-2.0zM208.6 217.0h2.0v2.1h-2.0zM222.1 217.0h2.0v2.1h-2.0zM245.3 217.0h2.0v2.1h-2.0zM264.7 217.0h2.0v2.1h-2.0zM284.9 217.0h2.2v2.1h-2.2zM319.9 217.0h2.2v2.1h-2.2zM328.1 217.0h2.2v2.1h-2.2zM334.3 217.0h2.2v2.1h-2.2zM369.3 217.0h2.2v2.1h-2.2zM373.4 217.0h2.2v2.1h-2.2zM402.3 217.0h2.2v2.1h-2.2zM457.8 217.0h4.2v2.1h-4.2zM212.4 221.0h2.0v2.1h-2.0zM336.4 225.0h2.2v2.1h-2.2z"/>
<path fill="#0a720a" d="M276.7 92.8h2.2v2.1h-2.2zM280.8 92.8h2.2v2.1h-2.2zM354.9 92.8h2.2v2.1h-2.2zM367.3 92.8h2.2v2.1h-2.2zM377.6 92.8h2.2v2.1h-2.2zM389.9 92.8h2.2v2.1h-2.2zM402.3 92.8h2.2v2.1h-2.2zM433.1 92.8h2.2v2.1h-2.2zM437.3 92.8h2.2v2.1h-2.2zM447.5 92.8h2.2v2.1h-2.2zM200.8 94.8h2.0v2.1h-2.0zM272.6 94.8h2.2v2.1h-2.2zM289.0 94.8h2.2v2.1h-2.2zM297.3 94.8h2.2v2.1h-2.2zM311.7 94.8h2.2v2.1h-2.2zM315.8 94.8h2.2v2.1h-2.2zM319.9 94.8h2.2v2.1h-2.2zM342.6 94.8h2.2v2.1h-2.2zM392.0 94.8h2.2v2.1h-2.2zM437.3 94.8h2.2v2.1h-2.2zM441.4 94.8h2.2v2.1h-2.2zM451.7 94.8h2.2v2.1h-2.2zM464.0 94.8h2.2v2.1h-2.2zM276.7 96.8h4.2v2.1h-4.2zM303.4 96.8h2.2v2.1h-2.2zM313.7 96.8h2.2v2.1h-2.2zM330.2 96.8h6.3v2.1h-6.3zM408.4 96.8h4.2v2.1h-4.2zM462.0 96.8h2.2v2.1h-2.2zM468.1 96.8h2.2v2.1h-2.2zM233.7 98.8h2.0v2.1h-2.0zM253.1 98.8h2.0v2.1h-2.0zM287.0 98.8h2.2v2.1h-2.2zM299.3 98.8h2.2v2.1h-2.2zM309.6 98.8h2.2v2.1h-2.2zM315.8 98.8h2.2v2.1h-2.2zM359.0 98.8h2.2v2.1h-2.2zM410.5 98.8h2.2v2.1h-2.2zM416.7 98.8h2.2v2.1h-2.2zM437.3 98.8h2.2v2.1h-2.2zM470.2 98.8h2.2v2.1h-2.2zM309.6 100.8h2.2v2.1h-2.2zM350.8 100.8h2.2v2.1h-2.2zM354.9 100.8h2.2v2.1h-2.2zM398.1 100.8h2.2v2.1h-2.2zM412.5 100.8h2.2v2.1h-2.2zM431.1 100.8h2.2v2.1h-2.2zM447.5 100.8h2.2v2.1h-2.2zM478.4 100.8h2.2v2.1h-2.2zM208.6 102.8h2.0v2.1h-2.0zM222.1 102.8h2.0v2.1h-2.0zM303.4 102.8h2.2v2.1h-2.2zM435.2 102.8h2.2v2.1h-2.2zM468.1 102.8h2.2v2.1h-2.2zM181.5 104.8h2.0v2.1h-2.0zM218.2 104.8h2.0v2.1h-2.0zM222.1 104.8h2.0v2.1h-2.0zM226.0 104.8h2.0v2.1h-2.0zM255.0 104.8h2.0v2.1h-2.0zM295.2 104.8h2.2v2.1h-2.2zM330.2 104.8h2.2v2.1h-2.2zM422.8 104.8h2.2v2.1h-2.2zM476.4 104.8h2.2v2.1h-2.2zM235.7 106.8h2.0v2.1h-2.0zM258.9 106.8h2.0v2.1h-2.0zM262.8 106.8h2.0v2.1h-2.0zM303.4 106.8h2.2v2.1h-2.2zM313.7 106.8h2.2v2.1h-2.2zM319.9 106.8h4.2v2.1h-4.2zM326.1 106.8h2.2v2.1h-2.2zM340.5 106.8h2.2v2.1h-2.2zM348.7 106.8h2.2v2.1h-2.2zM365.2 106.8h2.2v2.1h-2.2zM445.5 106.8h2.2v2.1h-2.2zM224.1 108.8h2.0v2.1h-2.0zM262.8 108.8h2.0v2.1h-2.0zM324.0 108.8h2.2v2.1h-2.2zM348.7 108.8h2.2v2.1h-2.2zM354.9 108.8h2.2v2.1h-2.2zM412.5 108.8h4.2v2.1h-4.2zM472.2 108.8h2.2v2.1h-2.2zM237.6 110.8h2.0v2.1h-2.0zM287.0 110.8h4.2v2.1h-4.2zM297.3 110.8h2.2v2.1h-2.2zM307.6 110.8h2.2v2.1h-2.2zM315.8 110.8h2.2v2.1h-2.2zM334.3 110.8h2.2v2.1h-2.2zM365.2 110.8h2.2v2.1h-2.2zM375.5 110.8h2.2v2.1h-2.2zM392.0 110.8h2.2v2.1h-2.2zM398.1 110.8h2.2v2.1h-2.2zM404.3 110.8h2.2v2.1h-2.2zM414.6 110.8h2.2v2.1h-2.2zM437.3 110.8h2.2v2.1h-2.2zM441.4 110.8h2.2v2.1h-2.2zM266.6 112.8h2.0v2.1h-2.0zM274.6 112.8h2.2v2.1h-2.2zM291.1 112.8h2.2v2.1h-2.2zM301.4 112.8h2.2v2.1h-2.2zM322.0 112.8h2.2v2.1h-2.2zM332.3 112.8h2.2v2.1h-2.2zM350.8 112.8h2.2v2.1h-2.2zM359.0 112.8h2.2v2.1h-2.2zM363.1 112.8h2.2v2.1h-2.2zM369.3 112.8h2.2v2.1h-2.2zM379.6 112.8h2.2v2.1h-2.2zM394.0 112.8h2.2v2.1h-2.2zM398.1 112.8h2.2v2.1h-2.2zM408.4 112.8h2.2v2.1h-2.2zM422.8 112.8h4.2v2.1h-4.2zM470.2 112.8h2.2v2.1h-2.2zM476.4 112.8h4.2v2.1h-4.2zM280.8 114.8h2.2v2.1h-2.2zM291.1 114.8h2.2v2.1h-2.2zM311.7 114.8h2.2v2.1h-2.2zM324.0 114.8h2.2v2.1h-2.2zM328.1 114.8h2.2v2.1h-2.2zM336.4 114.8h2.2v2.1h-2.2zM361.1 114.8h2.2v2.1h-2.2zM371.4 114.8h2.2v2.1h-2.2zM431.1 114.8h4.2v2.1h-4.2zM457.8 114.8h2.2v2.1h-2.2zM468.1 114.8h2.2v2.1h-2.2zM210.5 116.8h2.0v2.1h-2.0zM239.5 116.8h2.0v2.1h-2.0zM253.1 116.8h2.0v2.1h-2.0zM336.4 116.8h2.2v2.1h-2.2zM373.4 116.8h2.2v2.1h-2.2zM427.0 116.8h2.2v2.1h-2.2zM441.4 116.8h2.2v2.1h-2.2zM445.5 116.8h2.2v2.1h-2.2zM466.1 116.8h2.2v2.1h-2.2zM237.6 118.8h2.0v2.1h-2.0zM274.6 118.8h2.2v2.1h-2.2zM301.4 118.8h2.2v2.1h-2.2zM340.5 118.8h2.2v2.1h-2.2zM365.2 118.8h2.2v2.1h-2.2zM402.3 118.8h2.2v2.1h-2.2zM424.9 118.8h2.2v2.1h-2.2zM455.8 118.8h2.2v2.1h-2.2zM478.4 118.8h2.2v2.1h-2.2zM482.5 118.8h2.2v2.1h-2.2zM377.6 120.8h2.2v2.1h-2.2zM406.4 120.8h2.2v2.1h-2.2zM412.5 120.8h2.2v2.1h-2.2zM431.1 120.8h4.2v2.1h-4.2zM464.0 120.8h2.2v2.1h-2.2zM474.3 120.8h2.2v2.1h-2.2zM210.5 122.8h2.0v2.1h-2.0zM398.1 122.8h4.2v2.1h-4.2zM451.7 122.8h2.2v2.1h-2.2zM455.8 122.8h2.2v2.1h-2.2zM247.3 124.8h2.0v2.1h-2.0zM317.8 124.8h2.2v2.1h-2.2zM328.1 124.8h2.2v2.1h-2.2zM340.5 124.8h2.2v2.1h-2.2zM375.5 124.8h2.2v2.1h-2.2zM455.8 124.8h2.2v2.1h-2.2zM482.5 124.8h2.2v2.1h-2.2zM317.8 126.8h2.2v2.1h-2.2zM336.4 126.8h2.2v2.1h-2.2zM348.7 126.8h2.2v2.1h-2.2zM400.2 126.8h2.2v2.1h-2.2zM441.4 126.8h2.2v2.1h-2.2zM482.5 126.8h2.2v2.1h-2.2zM224.1 128.8h4.0v2.1h-4.0zM243.4 128.8h2.0v2.1h-2.0zM272.6 128.8h2.2v2.1h-2.2zM307.6 128.8h4.2v2.1h-4.2zM348.7 128.8h2.2v2.1h-2.2zM394.0 128.8h2.2v2.1h-2.2zM431.1 128.8h2.2v2.1h-2.2zM437.3 128.8h2.2v2.1h-2.2zM455.8 128.8h2.2v2.1h-2.2zM226.0 130.9h2.0v2.1h-2.0zM229.9 130.9h2.0v2.1h-2.0zM278.7 130.9h2.2v2.1h-2.2zM299.3 130.9h2.2v2.1h-2.2zM328.1 130.9h2.2v2.1h-2.2zM340.5 130.9h2.2v2.1h-2.2zM357.0 130.9h2.2v2.1h-2.2zM363.1 130.9h2.2v2.1h-2.2zM406.4 130.9h2.2v2.1h-2.2zM414.6 130.9h2.2v2.1h-2.2zM435.2 130.9h2.2v2.1h-2.2zM439.3 130.9h2.2v2.1h-2.2zM224.1 132.9h2.0v2.1h-2.0zM227.9 132.9h2.0v2.1h-2.0zM233.7 132.9h2.0v2.1h-2.0zM336.4 132.9h2.2v2.1h-2.2zM352.8 132.9h2.2v2.1h-2.2zM373.4 132.9h2.2v2.1h-2.2zM406.4 132.9h2.2v2.1h-2.2zM414.6 132.9h2.2v2.1h-2.2zM435.2 132.9h2.2v2.1h-2.2zM470.2 132.9h2.2v2.1h-2.2zM226.0 134.9h2.0v2.1h-2.0zM336.4 134.9h2.2v2.1h-2.2zM361.1 134.9h2.2v2.1h-2.2zM396.1 134.9h2.2v2.1h-2.2zM400.2 134.9h2.2v2.1h-2.2zM429.0 134.9h2.2v2.1h-2.2zM474.3 134.9h2.2v2.1h-2.2zM200.8 136.9h2.0v2.1h-2.0zM344.6 136.9h2.2v2.1h-2.2zM424.9 136.9h2.2v2.1h-2.2zM431.1 136.9h2.2v2.1h-2.2zM476.4 136.9h4.2v2.1h-4.2zM408.4 138.9h2.2v2.1h-2.2zM424.9 138.9h2.2v2.1h-2.2zM431.1 138.9h2.2v2.1h-2.2zM449.6 138.9h4.2v2.1h-4.2zM478.4 140.9h2.2v2.1h-2.2zM385.8 142.9h4.2v2.1h-4.2zM429.0 142.9h2.2v2.1h-2.2zM478.4 142.9h2.2v2.1h-2.2zM348.7 144.9h2.2v2.1h-2.2zM387.8 144.9h2.2v2.1h-2.2zM392.0 144.9h2.2v2.1h-2.2zM427.0 144.9h2.2v2.1h-2.2zM315.8 146.9h2.2v2.1h-2.2zM439.3 146.9h4.2v2.1h-4.2zM476.4 146.9h2.2v2.1h-2.2zM375.5 150.9h2.2v2.1h-2.2zM379.6 152.9h2.2v2.1h-2.2zM287.0 156.9h2.2v2.1h-2.2zM301.4 156.9h2.2v2.1h-2.2zM324.0 156.9h2.2v2.1h-2.2zM342.6 156.9h2.2v2.1h-2.2zM394.0 156.9h2.2v2.1h-2.2zM398.1 156.9h2.2v2.1h-2.2zM278.7 158.9h2.2v2.1h-2.2zM299.3 158.9h2.2v2.1h-2.2zM307.6 158.9h2.2v2.1h-2.2zM315.8 158.9h2.2v2.1h-2.2zM319.9 158.9h2.2v2.1h-2.2zM332.3 158.9h2.2v2.1h-2.2zM336.4 158.9h2.2v2.1h-2.2zM346.7 158.9h2.2v2.1h-2.2zM394.0 158.9h2.2v2.1h-2.2zM229.9 160.9h2.0v2.1h-2.0zM251.1 160.9h2.0v2.1h-2.0zM276.7 160.9h2.2v2.1h-2.2zM332.3 160.9h2.2v2.1h-2.2zM406.4 160.9h2.2v2.1h-2.2zM414.6 160.9h2.2v2.1h-2.2zM443.4 160.9h2.2v2.1h-2.2zM472.2 160.9h2.2v2.1h-2.2zM247.3 162.9h2.0v2.1h-2.0zM251.1 162.9h4.0v2.1h-4.0zM297.3 162.9h2.2v2.1h-2.2zM301.4 162.9h2.2v2.1h-2.2zM313.7 162.9h2.2v2.1h-2.2zM330.2 162.9h2.2v2.1h-2.2zM373.4 162.9h2.2v2.1h-2.2zM447.5 162.9h2.2v2.1h-2.2zM451.7 162.9h2.2v2.1h-2.2zM455.8 162.9h2.2v2.1h-2.2zM464.0 162.9h2.2v2.1h-2.2zM478.4 162.9h2.2v2.1h-2.2zM222.1 164.9h2.0v2.1h-2.0zM243.4 164.9h2.0v2.1h-2.0zM291.1 164.9h2.2v2.1h-2.2zM338.4 164.9h4.2v2.1h-4.2zM348.7 164.9h2.2v2.1h-2.2zM359.0 164.9h2.2v2.1h-2.2zM369.3 164.9h2.2v2.1h-2.2zM379.6 164.9h4.2v2.1h-4.2zM410.5 164.9h8.3v2.1h-8.3zM429.0 164.9h2.2v2.1h-2.2zM472.2 164.9h2.2v2.1h-2.2zM241.5 166.9h2.0v2.1h-2.0zM309.6 166.9h2.2v2.1h-2.2zM332.3 166.9h4.2v2.1h-4.2zM412.5 166.9h2.2v2.1h-2.2zM418.7 166.9h4.2v2.1h-4.2zM445.5 166.9h2.2v2.1h-2.2zM206.6 168.9h2.0v2.1h-2.0zM227.9 168.9h2.0v2.1h-2.0zM276.7 168.9h2.2v2.1h-2.2zM309.6 168.9h2.2v2.1h-2.2zM313.7 168.9h2.2v2.1h-2.2zM377.6 168.9h2.2v2.1h-2.2zM402.3 168.9h4.2v2.1h-4.2zM412.5 168.9h2.2v2.1h-2.2zM435.2 168.9h2.2v2.1h-2.2zM439.3 168.9h2.2v2.1h-2.2zM468.1 168.9h2.2v2.1h-2.2zM210.5 170.9h2.0v2.1h-2.0zM214.4 170.9h2.0v2.1h-2.0zM233.7 170.9h2.0v2.1h-2.0zM241.5 170.9h2.0v2.1h-2.0zM245.3 170.9h2.0v2.1h-2.0zM324.0 170.9h2.2v2.1h-2.2zM332.3 170.9h2.2v2.1h-2.2zM367.3 170.9h6.3v2.1h-6.3zM392.0 170.9h2.2v2.1h-2.2zM402.3 170.9h2.2v2.1h-2.2zM412.5 170.9h2.2v2.1h-2.2zM447.5 170.9h2.2v2.1h-2.2zM462.0 170.9h2.2v2.1h-2.2zM289.0 172.9h2.2v2.1h-2.2zM311.7 172.9h2.2v2.1h-2.2zM375.5 172.9h2.2v2.1h-2.2zM381.7 172.9h2.2v2.1h-2.2zM408.4 172.9h2.2v2.1h-2.2zM431.1 172.9h2.2v2.1h-2.2zM455.8 172.9h2.2v2.1h-2.2zM204.7 174.9h2.0v2.1h-2.0zM216.3 174.9h2.0v2.1h-2.0zM226.0 174.9h2.0v2.1h-2.0zM270.5 174.9h2.2v2.1h-2.2zM274.6 174.9h2.2v2.1h-2.2zM289.0 174.9h2.2v2.1h-2.2zM307.6 174.9h2.2v2.1h-2.2zM324.0 174.9h2.2v2.1h-2.2zM328.1 174.9h2.2v2.1h-2.2zM354.9 174.9h2.2v2.1h-2.2zM363.1 174.9h2.2v2.1h-2.2zM420.8 174.9h2.2v2.1h-2.2zM445.5 174.9h8.3v2.1h-8.3zM466.1 174.9h4.2v2.1h-4.2zM480.5 174.9h2.2v2.1h-2.2zM208.6 176.9h2.0v2.1h-2.0zM214.4 176.9h2.0v2.1h-2.0zM295.2 176.9h2.2v2.1h-2.2zM324.0 176.9h2.2v2.1h-2.2zM332.3 176.9h2.2v2.1h-2.2zM342.6 176.9h2.2v2.1h-2.2zM363.1 176.9h4.2v2.1h-4.2zM375.5 176.9h2.2v2.1h-2.2zM418.7 176.9h2.2v2.1h-2.2zM429.0 176.9h2.2v2.1h-2.2zM437.3 176.9h2.2v2.1h-2.2zM466.1 176.9h2.2v2.1h-2.2zM243.4 178.9h2.0v2.1h-2.0zM297.3 178.9h2.2v2.1h-2.2zM342.6 178.9h2.2v2.1h-2.2zM367.3 178.9h4.2v2.1h-4.2zM381.7 178.9h2.2v2.1h-2.2zM387.8 178.9h2.2v2.1h-2.2zM392.0 178.9h2.2v2.1h-2.2zM431.1 178.9h2.2v2.1h-2.2zM445.5 178.9h2.2v2.1h-2.2zM453.7 178.9h2.2v2.1h-2.2zM185.3 180.9h2.0v2.1h-2.0zM191.1 180.9h2.0v2.1h-2.0zM202.8 180.9h2.0v2.1h-2.0zM206.6 180.9h2.0v2.1h-2.0zM222.1 180.9h2.0v2.1h-2.0zM229.9 180.9h2.0v2.1h-2.0zM239.5 180.9h2.0v2.1h-2.0zM247.3 180.9h2.0v2.1h-2.0zM258.9 180.9h2.0v2.1h-2.0zM262.8 180.9h2.0v2.1h-2.0zM282.9 180.9h2.2v2.1h-2.2zM315.8 180.9h2.2v2.1h-2.2zM332.3 180.9h2.2v2.1h-2.2zM354.9 180.9h2.2v2.1h-2.2zM361.1 180.9h2.2v2.1h-2.2zM410.5 180.9h2.2v2.1h-2.2zM437.3 180.9h2.2v2.1h-2.2zM443.4 180.9h2.2v2.1h-2.2zM453.7 180.9h2.2v2.1h-2.2zM241.5 182.9h2.0v2.1h-2.0zM249.2 182.9h2.0v2.1h-2.0zM260.8 182.9h2.0v2.1h-2.0zM276.7 182.9h2.2v2.1h-2.2zM289.0 182.9h4.2v2.1h-4.2zM297.3 182.9h2.2v2.1h-2.2zM305.5 182.9h4.2v2.1h-4.2zM311.7 182.9h2.2v2.1h-2.2zM330.2 182.9h2.2v2.1h-2.2zM334.3 182.9h2.2v2.1h-2.2zM359.0 182.9h2.2v2.1h-2.2zM365.2 182.9h2.2v2.1h-2.2zM369.3 182.9h2.2v2.1h-2.2zM379.6 182.9h2.2v2.1h-2.2zM400.2 182.9h6.3v2.1h-6.3zM443.4 182.9h2.2v2.1h-2.2zM453.7 182.9h2.2v2.1h-2.2zM462.0 182.9h2.2v2.1h-2.2zM470.2 182.9h2.2v2.1h-2.2zM183.4 184.9h2.0v2.1h-2.0zM187.3 184.9h2.0v2.1h-2.0zM195.0 184.9h4.0v2.1h-4.0zM202.8 184.9h2.0v2.1h-2.0zM218.2 184.9h2.0v2.1h-2.0zM222.1 184.9h2.0v2.1h-2.0zM229.9 184.9h2.0v2.1h-2.0zM233.7 184.9h2.0v2.1h-2.0zM359.0 184.9h2.2v2.1h-2.2zM427.0 184.9h2.2v2.1h-2.2zM431.1 184.9h2.2v2.1h-2.2zM478.4 184.9h2.2v2.1h-2.2zM185.3 186.9h2.0v2.1h-2.0zM191.1 186.9h2.0v2.1h-2.0zM204.7 186.9h2.0v2.1h-2.0zM222.1 186.9h4.0v2.1h-4.0zM334.3 186.9h2.2v2.1h-2.2zM352.8 186.9h2.2v2.1h-2.2zM437.3 186.9h2.2v2.1h-2.2zM480.5 186.9h2.2v2.1h-2.2zM212.4 188.9h2.0v2.1h-2.0zM220.2 188.9h2.0v2.1h-2.0zM226.0 188.9h2.0v2.1h-2.0zM239.5 188.9h2.0v2.1h-2.0zM257.0 188.9h2.0v2.1h-2.0zM330.2 188.9h2.2v2.1h-2.2zM338.4 188.9h2.2v2.1h-2.2zM352.8 188.9h2.2v2.1h-2.2zM363.1 188.9h2.2v2.1h-2.2zM373.4 188.9h2.2v2.1h-2.2zM377.6 188.9h2.2v2.1h-2.2zM198.9 190.9h2.0v2.1h-2.0zM202.8 190.9h2.0v2.1h-2.0zM206.6 190.9h2.0v2.1h-2.0zM212.4 190.9h2.0v2.1h-2.0zM249.2 190.9h4.0v2.1h-4.0zM317.8 190.9h2.2v2.1h-2.2zM361.1 190.9h2.2v2.1h-2.2zM369.3 190.9h2.2v2.1h-2.2zM373.4 190.9h2.2v2.1h-2.2zM381.7 190.9h2.2v2.1h-2.2zM453.7 190.9h2.2v2.1h-2.2zM457.8 190.9h2.2v2.1h-2.2zM197.0 192.9h2.0v2.1h-2.0zM214.4 192.9h2.0v2.1h-2.0zM233.7 192.9h2.0v2.1h-2.0zM251.1 192.9h2.0v2.1h-2.0zM255.0 192.9h4.0v2.1h-4.0zM334.3 192.9h2.2v2.1h-2.2zM406.4 192.9h2.2v2.1h-2.2zM462.0 192.9h2.2v2.1h-2.2zM472.2 192.9h2.2v2.1h-2.2zM189.2 194.9h2.0v2.1h-2.0zM212.4 194.9h2.0v2.1h-2.0zM222.1 194.9h2.0v2.1h-2.0zM334.3 194.9h2.2v2.1h-2.2zM340.5 194.9h2.2v2.1h-2.2zM344.6 194.9h2.2v2.1h-2.2zM352.8 194.9h4.2v2.1h-4.2zM373.4 194.9h2.2v2.1h-2.2zM377.6 194.9h6.3v2.1h-6.3zM453.7 194.9h2.2v2.1h-2.2zM457.8 194.9h2.2v2.1h-2.2zM476.4 194.9h2.2v2.1h-2.2zM187.3 196.9h2.0v2.1h-2.0zM348.7 196.9h2.2v2.1h-2.2zM361.1 196.9h4.2v2.1h-4.2zM412.5 196.9h2.2v2.1h-2.2zM429.0 196.9h2.2v2.1h-2.2zM441.4 196.9h2.2v2.1h-2.2zM453.7 196.9h2.2v2.1h-2.2zM457.8 196.9h2.2v2.1h-2.2zM208.6 198.9h2.0v2.1h-2.0zM229.9 198.9h2.0v2.1h-2.0zM352.8 198.9h2.2v2.1h-2.2zM361.1 198.9h2.2v2.1h-2.2zM416.7 198.9h2.2v2.1h-2.2zM457.8 198.9h2.2v2.1h-2.2zM237.6 200.9h2.0v2.1h-2.0zM301.4 200.9h2.2v2.1h-2.2zM309.6 200.9h2.2v2.1h-2.2zM328.1 200.9h2.2v2.1h-2.2zM334.3 200.9h2.2v2.1h-2.2zM338.4 200.9h2.2v2.1h-2.2zM371.4 200.9h2.2v2.1h-2.2zM385.8 200.9h2.2v2.1h-2.2zM474.3 200.9h2.2v2.1h-2.2zM243.4 203.0h2.0v2.1h-2.0zM270.5 203.0h2.2v2.1h-2.2zM276.7 203.0h4.2v2.1h-4.2zM287.0 203.0h2.2v2.1h-2.2zM299.3 203.0h4.2v2.1h-4.2zM326.1 203.0h2.2v2.1h-2.2zM361.1 203.0h2.2v2.1h-2.2zM373.4 203.0h2.2v2.1h-2.2zM408.4 203.0h2.2v2.1h-2.2zM416.7 203.0h2.2v2.1h-2.2zM445.5 203.0h2.2v2.1h-2.2zM457.8 203.0h2.2v2.1h-2.2zM482.5 203.0h2.2v2.1h-2.2zM198.9 205.0h4.0v2.1h-4.0zM206.6 205.0h2.0v2.1h-2.0zM224.1 205.0h2.0v2.1h-2.0zM227.9 205.0h2.0v2.1h-2.0zM235.7 205.0h2.0v2.1h-2.0zM344.6 205.0h2.2v2.1h-2.2zM418.7 205.0h2.2v2.1h-2.2zM424.9 205.0h2.2v2.1h-2.2zM429.0 205.0h2.2v2.1h-2.2zM433.1 205.0h2.2v2.1h-2.2zM443.4 205.0h2.2v2.1h-2.2zM474.3 205.0h2.2v2.1h-2.2zM193.1 207.0h2.0v2.1h-2.0zM197.0 207.0h2.0v2.1h-2.0zM200.8 207.0h2.0v2.1h-2.0zM206.6 207.0h2.0v2.1h-2.0zM222.1 207.0h2.0v2.1h-2.0zM270.5 207.0h2.2v2.1h-2.2zM307.6 207.0h2.2v2.1h-2.2zM322.0 207.0h2.2v2.1h-2.2zM354.9 207.0h2.2v2.1h-2.2zM408.4 207.0h2.2v2.1h-2.2zM464.0 207.0h4.2v2.1h-4.2zM189.2 209.0h2.0v2.1h-2.0zM206.6 209.0h2.0v2.1h-2.0zM222.1 209.0h2.0v2.1h-2.0zM251.1 209.0h2.0v2.1h-2.0zM278.7 209.0h2.2v2.1h-2.2zM284.9 209.0h4.2v2.1h-4.2zM301.4 209.0h2.2v2.1h-2.2zM317.8 209.0h2.2v2.1h-2.2zM338.4 209.0h4.2v2.1h-4.2zM383.7 209.0h2.2v2.1h-2.2zM394.0 209.0h2.2v2.1h-2.2zM441.4 209.0h2.2v2.1h-2.2zM214.4 211.0h2.0v2.1h-2.0zM229.9 211.0h2.0v2.1h-2.0zM295.2 211.0h2.2v2.1h-2.2zM319.9 211.0h2.2v2.1h-2.2zM336.4 211.0h2.2v2.1h-2.2zM346.7 211.0h2.2v2.1h-2.2zM365.2 211.0h2.2v2.1h-2.2zM394.0 211.0h2.2v2.1h-2.2zM398.1 211.0h2.2v2.1h-2.2zM410.5 211.0h2.2v2.1h-2.2zM435.2 211.0h4.2v2.1h-4.2zM441.4 211.0h2.2v2.1h-2.2zM468.1 211.0h4.2v2.1h-4.2zM255.0 213.0h2.0v2.1h-2.0zM268.6 213.0h2.0v2.1h-2.0zM371.4 213.0h2.2v2.1h-2.2zM383.7 213.0h2.2v2.1h-2.2zM412.5 213.0h2.2v2.1h-2.2zM424.9 213.0h2.2v2.1h-2.2zM441.4 213.0h2.2v2.1h-2.2zM185.3 215.0h2.0v2.1h-2.0zM220.2 215.0h2.0v2.1h-2.0zM224.1 215.0h2.0v2.1h-2.0zM229.9 215.0h4.0v2.1h-4.0zM235.7 215.0h2.0v2.1h-2.0zM247.3 215.0h2.0v2.1h-2.0zM253.1 215.0h2.0v2.1h-2.0zM309.6 215.0h2.2v2.1h-2.2zM319.9 215.0h4.2v2.1h-4.2zM383.7 215.0h2.2v2.1h-2.2zM416.7 215.0h2.2v2.1h-2.2zM420.8 215.0h4.2v2.1h-4.2zM447.5 215.0h2.2v2.1h-2.2zM451.7 215.0h2.2v2.1h-2.2zM464.0 215.0h2.2v2.1h-2.2zM474.3 215.0h2.2v2.1h-2.2zM185.3 217.0h2.0v2.1h-2.0zM206.6 217.0h2.0v2.1h-2.0zM216.3 217.0h2.0v2.1h-2.0zM260.8 217.0h2.0v2.1h-2.0zM297.3 217.0h2.2v2.1h-2.2zM340.5 217.0h4.2v2.1h-4.2zM346.7 217.0h2.2v2.1h-2.2zM350.8 217.0h2.2v2.1h-2.2zM357.0 217.0h2.2v2.1h-2.2zM365.2 217.0h2.2v2.1h-2.2zM379.6 217.0h4.2v2.1h-4.2zM385.8 217.0h2.2v2.1h-2.2zM412.5 217.0h2.2v2.1h-2.2zM433.1 217.0h2.2v2.1h-2.2zM445.5 217.0h4.2v2.1h-4.2zM464.0 217.0h2.2v2.1h-2.2zM474.3 217.0h2.2v2.1h-2.2zM330.2 227.0h4.2v2.1h-4.2zM340.5 227.0h2.2v2.1h-2.2zM348.7 227.0h2.2v2.1h-2.2zM429.0 227.0h2.2v2.1h-2.2zM338.4 229.0h2.2v2.1h-2.2zM439.3 231.0h2.2v2.1h-2.2zM443.4 231.0h2.2v2.1h-2.2z"/>
<path fill="#085b08" d="M289.0 92.8h2.2v2.1h-2.2zM303.4 92.8h2.2v2.1h-2.2zM307.6 92.8h4.2v2.1h-4.2zM315.8 92.8h4.2v2.1h-4.2zM346.7 92.8h2.2v2.1h-2.2zM375.5 92.8h2.2v2.1h-2.2zM398.1 92.8h2.2v2.1h-2.2zM451.7 92.8h2.2v2.1h-2.2zM235.7 94.8h2.0v2.1h-2.0zM247.3 94.8h2.0v2.1h-2.0zM276.7 94.8h2.2v2.1h-2.2zM291.1 94.8h2.2v2.1h-2.2zM303.4 94.8h2.2v2.1h-2.2zM307.6 94.8h2.2v2.1h-2.2zM322.0 94.8h4.2v2.1h-4.2zM344.6 94.8h2.2v2.1h-2.2zM354.9 94.8h2.2v2.1h-2.2zM367.3 94.8h2.2v2.1h-2.2zM408.4 94.8h2.2v2.1h-2.2zM412.5 94.8h2.2v2.1h-2.2zM416.7 94.8h4.2v2.1h-4.2zM435.2 94.8h2.2v2.1h-2.2zM445.5 94.8h2.2v2.1h-2.2zM224.1 96.8h2.0v2.1h-2.0zM233.7 96.8h2.0v2.1h-2.0zM237.6 96.8h2.0v2.1h-2.0zM268.6 96.8h4.1v2.1h-4.1zM295.2 96.8h2.2v2.1h-2.2zM363.1 96.8h4.2v2.1h-4.2zM377.6 96.8h4.2v2.1h-4.2zM416.7 96.8h2.2v2.1h-2.2zM420.8 96.8h2.2v2.1h-2.2zM435.2 96.8h2.2v2.1h-2.2zM455.8 96.8h2.2v2.1h-2.2zM470.2 96.8h2.2v2.1h-2.2zM476.4 96.8h2.2v2.1h-2.2zM480.5 96.8h2.2v2.1h-2.2zM202.8 98.8h2.0v2.1h-2.0zM237.6 98.8h2.0v2.1h-2.0zM270.5 98.8h2.2v2.1h-2.2zM324.0 98.8h2.2v2.1h-2.2zM328.1 98.8h2.2v2.1h-2.2zM361.1 98.8h2.2v2.1h-2.2zM379.6 98.8h2.2v2.1h-2.2zM387.8 98.8h2.2v2.1h-2.2zM404.3 98.8h2.2v2.1h-2.2zM408.4 98.8h2.2v2.1h-2.2zM412.5 98.8h4.2v2.1h-4.2zM418.7 98.8h2.2v2.1h-2.2zM422.8 98.8h2.2v2.1h-2.2zM451.7 98.8h2.2v2.1h-2.2zM455.8 98.8h2.2v2.1h-2.2zM464.0 98.8h4.2v2.1h-4.2zM480.5 98.8h2.2v2.1h-2.2zM268.6 100.8h6.2v2.1h-6.2zM330.2 100.8h4.2v2.1h-4.2zM340.5 100.8h2.2v2.1h-2.2zM385.8 100.8h4.2v2.1h-4.2zM392.0 100.8h2.2v2.1h-2.2zM404.3 100.8h2.2v2.1h-2.2zM414.6 100.8h2.2v2.1h-2.2zM420.8 100.8h4.2v2.1h-4.2zM435.2 100.8h2.2v2.1h-2.2zM439.3 100.8h2.2v2.1h-2.2zM449.6 100.8h2.2v2.1h-2.2zM455.8 100.8h2.2v2.1h-2.2zM476.4 100.8h2.2v2.1h-2.2zM480.5 100.8h2.2v2.1h-2.2zM179.5 102.8h2.0v2.1h-2.0zM204.7 102.8h2.0v2.1h-2.0zM224.1 102.8h2.0v2.1h-2.0zM307.6 102.8h2.2v2.1h-2.2zM322.0 102.8h2.2v2.1h-2.2zM326.1 102.8h4.2v2.1h-4.2zM367.3 102.8h2.2v2.1h-2.2zM396.1 102.8h2.2v2.1h-2.2zM416.7 102.8h2.2v2.1h-2.2zM429.0 102.8h2.2v2.1h-2.2zM476.4 102.8h4.2v2.1h-4.2zM233.7 104.8h2.0v2.1h-2.0zM245.3 104.8h2.0v2.1h-2.0zM276.7 104.8h2.2v2.1h-2.2zM317.8 104.8h4.2v2.1h-4.2zM334.3 104.8h2.2v2.1h-2.2zM197.0 106.8h2.0v2.1h-2.0zM212.4 106.8h2.0v2.1h-2.0zM231.8 106.8h2.0v2.1h-2.0zM317.8 106.8h2.2v2.1h-2.2zM328.1 106.8h2.2v2.1h-2.2zM216.3 108.8h2.0v2.1h-2.0zM229.9 108.8h4.0v2.1h-4.0zM319.9 108.8h4.2v2.1h-4.2zM352.8 108.8h2.2v2.1h-2.2zM359.0 108.8h2.2v2.1h-2.2zM371.4 108.8h2.2v2.1h-2.2zM433.1 108.8h2.2v2.1h-2.2zM227.9 110.8h2.0v2.1h-2.0zM233.7 110.8h2.0v2.1h-2.0zM299.3 110.8h2.2v2.1h-2.2zM317.8 110.8h2.2v2.1h-2.2zM340.5 110.8h2.2v2.1h-2.2zM357.0 110.8h4.2v2.1h-4.2zM472.2 110.8h2.2v2.1h-2.2zM224.1 112.8h2.0v2.1h-2.0zM262.8 112.8h2.0v2.1h-2.0zM305.5 112.8h2.2v2.1h-2.2zM338.4 112.8h4.2v2.1h-4.2zM357.0 112.8h2.2v2.1h-2.2zM365.2 112.8h2.2v2.1h-2.2zM375.5 112.8h2.2v2.1h-2.2zM385.8 112.8h2.2v2.1h-2.2zM416.7 112.8h2.2v2.1h-2.2zM427.0 112.8h2.2v2.1h-2.2zM447.5 112.8h4.2v2.1h-4.2zM455.8 112.8h2.2v2.1h-2.2zM468.1 112.8h2.2v2.1h-2.2zM177.6 114.8h2.0v2.1h-2.0zM272.6 114.8h2.2v2.1h-2.2zM289.0 114.8h2.2v2.1h-2.2zM309.6 114.8h2.2v2.1h-2.2zM313.7 114.8h4.2v2.1h-4.2zM326.1 114.8h2.2v2.1h-2.2zM338.4 114.8h2.2v2.1h-2.2zM342.6 114.8h2.2v2.1h-2.2zM359.0 114.8h2.2v2.1h-2.2zM367.3 114.8h2.2v2.1h-2.2zM373.4 114.8h2.2v2.1h-2.2zM379.6 114.8h2.2v2.1h-2.2zM400.2 114.8h2.2v2.1h-2.2zM422.8 114.8h2.2v2.1h-2.2zM455.8 114.8h2.2v2.1h-2.2zM245.3 116.8h2.0v2.1h-2.0zM291.1 116.8h4.2v2.1h-4.2zM404.3 116.8h2.2v2.1h-2.2zM429.0 116.8h2.2v2.1h-2.2zM453.7 116.8h2.2v2.1h-2.2zM468.1 116.8h2.2v2.1h-2.2zM472.2 116.8h2.2v2.1h-2.2zM245.3 118.8h2.0v2.1h-2.0zM260.8 118.8h2.0v2.1h-2.0zM297.3 118.8h2.2v2.1h-2.2zM357.0 118.8h2.2v2.1h-2.2zM369.3 118.8h4.2v2.1h-4.2zM389.9 118.8h2.2v2.1h-2.2zM396.1 118.8h2.2v2.1h-2.2zM457.8 118.8h2.2v2.1h-2.2zM313.7 120.8h2.2v2.1h-2.2zM400.2 120.8h2.2v2.1h-2.2zM422.8 120.8h8.3v2.1h-8.3zM299.3 122.8h2.2v2.1h-2.2zM326.1 122.8h2.2v2.1h-2.2zM369.3 122.8h2.2v2.1h-2.2zM394.0 122.8h4.2v2.1h-4.2zM420.8 122.8h2.2v2.1h-2.2zM427.0 122.8h2.2v2.1h-2.2zM435.2 122.8h4.2v2.1h-4.2zM457.8 122.8h2.2v2.1h-2.2zM379.6 124.8h2.2v2.1h-2.2zM459.9 124.8h2.2v2.1h-2.2zM464.0 124.8h2.2v2.1h-2.2zM476.4 124.8h2.2v2.1h-2.2zM195.0 126.8h2.0v2.1h-2.0zM208.6 126.8h2.0v2.1h-2.0zM287.0 126.8h2.2v2.1h-2.2zM291.1 126.8h2.2v2.1h-2.2zM342.6 126.8h2.2v2.1h-2.2zM383.7 126.8h2.2v2.1h-2.2zM398.1 126.8h2.2v2.1h-2.2zM420.8 126.8h2.2v2.1h-2.2zM239.5 128.8h2.0v2.1h-2.0zM303.4 128.8h4.2v2.1h-4.2zM319.9 128.8h2.2v2.1h-2.2zM330.2 128.8h2.2v2.1h-2.2zM363.1 128.8h2.2v2.1h-2.2zM400.2 128.8h2.2v2.1h-2.2zM410.5 128.8h2.2v2.1h-2.2zM441.4 128.8h2.2v2.1h-2.2zM453.7 128.8h2.2v2.1h-2.2zM457.8 128.8h2.2v2.1h-2.2zM293.1 130.9h2.2v2.1h-2.2zM396.1 130.9h2.2v2.1h-2.2zM402.3 130.9h2.2v2.1h-2.2zM408.4 130.9h4.2v2.1h-4.2zM416.7 130.9h2.2v2.1h-2.2zM443.4 130.9h2.2v2.1h-2.2zM449.6 130.9h2.2v2.1h-2.2zM453.7 130.9h2.2v2.1h-2.2zM231.8 132.9h2.0v2.1h-2.0zM274.6 132.9h2.2v2.1h-2.2zM297.3 132.9h2.2v2.1h-2.2zM342.6 132.9h4.2v2.1h-4.2zM371.4 132.9h2.2v2.1h-2.2zM392.0 132.9h2.2v2.1h-2.2zM400.2 132.9h2.2v2.1h-2.2zM420.8 132.9h2.2v2.1h-2.2zM424.9 132.9h2.2v2.1h-2.2zM443.4 132.9h2.2v2.1h-2.2zM472.2 132.9h4.2v2.1h-4.2zM224.1 134.9h2.0v2.1h-2.0zM239.5 134.9h2.0v2.1h-2.0zM338.4 134.9h4.2v2.1h-4.2zM348.7 134.9h2.2v2.1h-2.2zM404.3 134.9h2.2v2.1h-2.2zM408.4 134.9h2.2v2.1h-2.2zM418.7 134.9h2.2v2.1h-2.2zM424.9 134.9h4.2v2.1h-4.2zM449.6 134.9h2.2v2.1h-2.2zM464.0 134.9h2.2v2.1h-2.2zM208.6 136.9h2.0v2.1h-2.0zM350.8 136.9h2.2v2.1h-2.2zM418.7 136.9h2.2v2.1h-2.2zM422.8 136.9h2.2v2.1h-2.2zM443.4 136.9h2.2v2.1h-2.2zM202.8 138.9h2.0v2.1h-2.0zM224.1 138.9h2.0v2.1h-2.0zM433.1 138.9h2.2v2.1h-2.2zM474.3 138.9h4.2v2.1h-4.2zM276.7 140.9h2.2v2.1h-2.2zM392.0 140.9h2.2v2.1h-2.2zM429.0 140.9h2.2v2.1h-2.2zM350.8 142.9h2.2v2.1h-2.2zM274.6 144.9h2.2v2.1h-2.2zM278.7 146.9h2.2v2.1h-2.2zM282.9 146.9h2.2v2.1h-2.2zM433.1 146.9h2.2v2.1h-2.2zM455.8 146.9h2.2v2.1h-2.2zM319.9 148.9h2.2v2.1h-2.2zM435.2 148.9h2.2v2.1h-2.2zM478.4 148.9h2.2v2.1h-2.2zM280.8 150.9h2.2v2.1h-2.2zM480.5 150.9h2.2v2.1h-2.2zM227.9 152.9h2.0v2.1h-2.0zM412.5 154.9h2.2v2.1h-2.2zM227.9 156.9h2.0v2.1h-2.0zM332.3 156.9h4.2v2.1h-4.2zM359.0 156.9h2.2v2.1h-2.2zM392.0 156.9h2.2v2.1h-2.2zM396.1 156.9h2.2v2.1h-2.2zM431.1 156.9h2.2v2.1h-2.2zM272.6 158.9h2.2v2.1h-2.2zM295.2 158.9h4.2v2.1h-4.2zM301.4 158.9h2.2v2.1h-2.2zM305.5 158.9h2.2v2.1h-2.2zM313.7 158.9h2.2v2.1h-2.2zM334.3 158.9h2.2v2.1h-2.2zM220.2 160.9h2.0v2.1h-2.0zM235.7 160.9h2.0v2.1h-2.0zM295.2 160.9h2.2v2.1h-2.2zM301.4 160.9h2.2v2.1h-2.2zM330.2 160.9h2.2v2.1h-2.2zM400.2 160.9h2.2v2.1h-2.2zM412.5 160.9h2.2v2.1h-2.2zM451.7 160.9h2.2v2.1h-2.2zM455.8 160.9h4.2v2.1h-4.2zM462.0 160.9h2.2v2.1h-2.2zM470.2 160.9h2.2v2.1h-2.2zM476.4 160.9h2.2v2.1h-2.2zM222.1 162.9h2.0v2.1h-2.0zM322.0 162.9h4.2v2.1h-4.2zM344.6 162.9h2.2v2.1h-2.2zM429.0 162.9h2.2v2.1h-2.2zM445.5 162.9h2.2v2.1h-2.2zM453.7 162.9h2.2v2.1h-2.2zM482.5 162.9h2.2v2.1h-2.2zM216.3 164.9h2.0v2.1h-2.0zM226.0 164.9h5.9v2.1h-5.9zM272.6 164.9h2.2v2.1h-2.2zM303.4 164.9h2.2v2.1h-2.2zM319.9 164.9h2.2v2.1h-2.2zM326.1 164.9h4.2v2.1h-4.2zM334.3 164.9h2.2v2.1h-2.2zM344.6 164.9h2.2v2.1h-2.2zM371.4 164.9h2.2v2.1h-2.2zM389.9 164.9h2.2v2.1h-2.2zM404.3 164.9h2.2v2.1h-2.2zM468.1 164.9h2.2v2.1h-2.2zM179.5 166.9h2.0v2.1h-2.0zM200.8 166.9h2.0v2.1h-2.0zM208.6 166.9h2.0v2.1h-2.0zM220.2 166.9h2.0v2.1h-2.0zM226.0 166.9h2.0v2.1h-2.0zM243.4 166.9h2.0v2.1h-2.0zM287.0 166.9h2.2v2.1h-2.2zM295.2 166.9h4.2v2.1h-4.2zM324.0 166.9h4.2v2.1h-4.2zM348.7 166.9h2.2v2.1h-2.2zM354.9 166.9h2.2v2.1h-2.2zM377.6 166.9h2.2v2.1h-2.2zM462.0 166.9h2.2v2.1h-2.2zM470.2 166.9h2.2v2.1h-2.2zM478.4 166.9h2.2v2.1h-2.2zM222.1 168.9h2.0v2.1h-2.0zM231.8 168.9h2.0v2.1h-2.0zM239.5 168.9h2.0v2.1h-2.0zM243.4 168.9h2.0v2.1h-2.0zM249.2 168.9h2.0v2.1h-2.0zM315.8 168.9h2.2v2.1h-2.2zM332.3 168.9h4.2v2.1h-4.2zM369.3 168.9h4.2v2.1h-4.2zM383.7 168.9h2.2v2.1h-2.2zM392.0 168.9h2.2v2.1h-2.2zM418.7 168.9h2.2v2.1h-2.2zM422.8 168.9h2.2v2.1h-2.2zM443.4 168.9h2.2v2.1h-2.2zM474.3 168.9h2.2v2.1h-2.2zM189.2 170.9h2.0v2.1h-2.0zM202.8 170.9h2.0v2.1h-2.0zM266.6 170.9h2.0v2.1h-2.0zM301.4 170.9h2.2v2.1h-2.2zM313.7 170.9h2.2v2.1h-2.2zM334.3 170.9h2.2v2.1h-2.2zM354.9 170.9h2.2v2.1h-2.2zM385.8 170.9h2.2v2.1h-2.2zM394.0 170.9h2.2v2.1h-2.2zM418.7 170.9h6.3v2.1h-6.3zM445.5 170.9h2.2v2.1h-2.2zM455.8 170.9h4.2v2.1h-4.2zM466.1 170.9h2.2v2.1h-2.2zM183.4 172.9h2.0v2.1h-2.0zM193.1 172.9h2.0v2.1h-2.0zM210.5 172.9h2.0v2.1h-2.0zM216.3 172.9h2.0v2.1h-2.0zM233.7 172.9h2.0v2.1h-2.0zM237.6 172.9h2.0v2.1h-2.0zM247.3 172.9h4.0v2.1h-4.0zM253.1 172.9h2.0v2.1h-2.0zM257.0 172.9h2.0v2.1h-2.0zM276.7 172.9h2.2v2.1h-2.2zM295.2 172.9h2.2v2.1h-2.2zM303.4 172.9h2.2v2.1h-2.2zM322.0 172.9h4.2v2.1h-4.2zM338.4 172.9h2.2v2.1h-2.2zM342.6 172.9h2.2v2.1h-2.2zM377.6 172.9h2.2v2.1h-2.2zM400.2 172.9h2.2v2.1h-2.2zM414.6 172.9h2.2v2.1h-2.2zM441.4 172.9h2.2v2.1h-2.2zM470.2 172.9h2.2v2.1h-2.2zM197.0 174.9h2.0v2.1h-2.0zM202.8 174.9h2.0v2.1h-2.0zM227.9 174.9h4.0v2.1h-4.0zM284.9 174.9h2.2v2.1h-2.2zM293.1 174.9h2.2v2.1h-2.2zM311.7 174.9h2.2v2.1h-2.2zM326.1 174.9h2.2v2.1h-2.2zM361.1 174.9h2.2v2.1h-2.2zM379.6 174.9h2.2v2.1h-2.2zM464.0 174.9h2.2v2.1h-2.2zM482.5 174.9h2.2v2.1h-2.2zM198.9 176.9h2.0v2.1h-2.0zM212.4 176.9h2.0v2.1h-2.0zM344.6 176.9h4.2v2.1h-4.2zM350.8 176.9h2.2v2.1h-2.2zM359.0 176.9h2.2v2.1h-2.2zM389.9 176.9h2.2v2.1h-2.2zM416.7 176.9h2.2v2.1h-2.2zM422.8 176.9h2.2v2.1h-2.2zM431.1 176.9h4.2v2.1h-4.2zM441.4 176.9h2.2v2.1h-2.2zM445.5 176.9h2.2v2.1h-2.2zM478.4 176.9h2.2v2.1h-2.2zM185.3 178.9h2.0v2.1h-2.0zM204.7 178.9h2.0v2.1h-2.0zM208.6 178.9h4.0v2.1h-4.0zM247.3 178.9h2.0v2.1h-2.0zM276.7 178.9h2.2v2.1h-2.2zM287.0 178.9h2.2v2.1h-2.2zM305.5 178.9h2.2v2.1h-2.2zM322.0 178.9h2.2v2.1h-2.2zM418.7 178.9h2.2v2.1h-2.2zM427.0 178.9h2.2v2.1h-2.2zM451.7 178.9h2.2v2.1h-2.2zM478.4 178.9h2.2v2.1h-2.2zM216.3 180.9h2.0v2.1h-2.0zM224.1 180.9h2.0v2.1h-2.0zM233.7 180.9h2.0v2.1h-2.0zM249.2 180.9h2.0v2.1h-2.0zM264.7 180.9h2.0v2.1h-2.0zM280.8 180.9h2.2v2.1h-2.2zM301.4 180.9h4.2v2.1h-4.2zM311.7 180.9h2.2v2.1h-2.2zM319.9 180.9h2.2v2.1h-2.2zM344.6 180.9h2.2v2.1h-2.2zM371.4 180.9h2.2v2.1h-2.2zM385.8 180.9h2.2v2.1h-2.2zM396.1 180.9h2.2v2.1h-2.2zM404.3 180.9h2.2v2.1h-2.2zM412.5 180.9h2.2v2.1h-2.2zM422.8 180.9h2.2v2.1h-2.2zM433.1 180.9h2.2v2.1h-2.2zM457.8 180.9h2.2v2.1h-2.2zM478.4 180.9h4.2v2.1h-4.2zM222.1 182.9h2.0v2.1h-2.0zM245.3 182.9h4.0v2.1h-4.0zM257.0 182.9h4.0v2.1h-4.0zM268.6 182.9h4.1v2.1h-4.1zM274.6 182.9h2.2v2.1h-2.2zM322.0 182.9h2.2v2.1h-2.2zM328.1 182.9h2.2v2.1h-2.2zM346.7 182.9h2.2v2.1h-2.2zM357.0 182.9h2.2v2.1h-2.2zM361.1 182.9h2.2v2.1h-2.2zM367.3 182.9h2.2v2.1h-2.2zM375.5 182.9h2.2v2.1h-2.2zM381.7 182.9h2.2v2.1h-2.2zM398.1 182.9h2.2v2.1h-2.2zM416.7 182.9h2.2v2.1h-2.2zM445.5 182.9h4.2v2.1h-4.2zM478.4 182.9h2.2v2.1h-2.2zM179.5 184.9h4.0v2.1h-4.0zM206.6 184.9h2.0v2.1h-2.0zM235.7 184.9h2.0v2.1h-2.0zM373.4 184.9h2.2v2.1h-2.2zM377.6 184.9h2.2v2.1h-2.2zM476.4 184.9h2.2v2.1h-2.2zM214.4 186.9h2.0v2.1h-2.0zM359.0 186.9h2.2v2.1h-2.2zM369.3 186.9h2.2v2.1h-2.2zM377.6 186.9h2.2v2.1h-2.2zM387.8 186.9h4.2v2.1h-4.2zM408.4 186.9h2.2v2.1h-2.2zM441.4 186.9h2.2v2.1h-2.2zM449.6 186.9h2.2v2.1h-2.2zM462.0 186.9h2.2v2.1h-2.2zM478.4 186.9h2.2v2.1h-2.2zM185.3 188.9h2.0v2.1h-2.0zM191.1 188.9h2.0v2.1h-2.0zM198.9 188.9h2.0v2.1h-2.0zM218.2 188.9h2.0v2.1h-2.0zM243.4 188.9h2.0v2.1h-2.0zM340.5 188.9h2.2v2.1h-2.2zM367.3 188.9h2.2v2.1h-2.2zM179.5 190.9h2.0v2.1h-2.0zM193.1 190.9h2.0v2.1h-2.0zM204.7 190.9h2.0v2.1h-2.0zM231.8 190.9h2.0v2.1h-2.0zM235.7 190.9h2.0v2.1h-2.0zM424.9 190.9h2.2v2.1h-2.2zM179.5 192.9h2.0v2.1h-2.0zM185.3 192.9h2.0v2.1h-2.0zM202.8 192.9h4.0v2.1h-4.0zM212.4 192.9h2.0v2.1h-2.0zM231.8 192.9h2.0v2.1h-2.0zM245.3 192.9h2.0v2.1h-2.0zM249.2 192.9h2.0v2.1h-2.0zM258.9 192.9h2.0v2.1h-2.0zM340.5 192.9h2.2v2.1h-2.2zM346.7 192.9h2.2v2.1h-2.2zM365.2 192.9h2.2v2.1h-2.2zM449.6 192.9h2.2v2.1h-2.2zM482.5 192.9h2.2v2.1h-2.2zM216.3 194.9h2.0v2.1h-2.0zM233.7 194.9h2.0v2.1h-2.0zM245.3 194.9h2.0v2.1h-2.0zM330.2 194.9h2.2v2.1h-2.2zM338.4 194.9h2.2v2.1h-2.2zM348.7 194.9h2.2v2.1h-2.2zM367.3 194.9h2.2v2.1h-2.2zM177.6 196.9h2.0v2.1h-2.0zM218.2 196.9h2.0v2.1h-2.0zM235.7 196.9h2.0v2.1h-2.0zM257.0 196.9h2.0v2.1h-2.0zM319.9 196.9h2.2v2.1h-2.2zM352.8 196.9h2.2v2.1h-2.2zM383.7 196.9h2.2v2.1h-2.2zM427.0 196.9h2.2v2.1h-2.2zM443.4 196.9h2.2v2.1h-2.2zM451.7 196.9h2.2v2.1h-2.2zM464.0 196.9h2.2v2.1h-2.2zM218.2 198.9h2.0v2.1h-2.0zM241.5 198.9h4.0v2.1h-4.0zM354.9 198.9h4.2v2.1h-4.2zM369.3 198.9h2.2v2.1h-2.2zM437.3 198.9h2.2v2.1h-2.2zM472.2 198.9h2.2v2.1h-2.2zM216.3 200.9h2.0v2.1h-2.0zM222.1 200.9h2.0v2.1h-2.0zM231.8 200.9h2.0v2.1h-2.0zM280.8 200.9h2.2v2.1h-2.2zM287.0 200.9h2.2v2.1h-2.2zM315.8 200.9h2.2v2.1h-2.2zM326.1 200.9h2.2v2.1h-2.2zM344.6 200.9h2.2v2.1h-2.2zM367.3 200.9h4.2v2.1h-4.2zM193.1 203.0h2.0v2.1h-2.0zM216.3 203.0h2.0v2.1h-2.0zM233.7 203.0h2.0v2.1h-2.0zM274.6 203.0h2.2v2.1h-2.2zM282.9 203.0h4.2v2.1h-4.2zM309.6 203.0h2.2v2.1h-2.2zM313.7 203.0h2.2v2.1h-2.2zM340.5 203.0h2.2v2.1h-2.2zM357.0 203.0h2.2v2.1h-2.2zM381.7 203.0h2.2v2.1h-2.2zM451.7 203.0h2.2v2.1h-2.2zM189.2 205.0h2.0v2.1h-2.0zM202.8 205.0h2.0v2.1h-2.0zM255.0 205.0h2.0v2.1h-2.0zM258.9 205.0h2.0v2.1h-2.0zM293.1 205.0h2.2v2.1h-2.2zM348.7 205.0h2.2v2.1h-2.2zM375.5 205.0h2.2v2.1h-2.2zM195.0 207.0h2.0v2.1h-2.0zM202.8 207.0h2.0v2.1h-2.0zM224.1 207.0h2.0v2.1h-2.0zM317.8 207.0h2.2v2.1h-2.2zM422.8 207.0h4.2v2.1h-4.2zM431.1 207.0h2.2v2.1h-2.2zM435.2 207.0h2.2v2.1h-2.2zM451.7 207.0h2.2v2.1h-2.2zM482.5 207.0h2.2v2.1h-2.2zM191.1 209.0h2.0v2.1h-2.0zM229.9 209.0h2.0v2.1h-2.0zM237.6 209.0h2.0v2.1h-2.0zM264.7 209.0h4.0v2.1h-4.0zM319.9 209.0h2.2v2.1h-2.2zM342.6 209.0h2.2v2.1h-2.2zM348.7 209.0h2.2v2.1h-2.2zM354.9 209.0h2.2v2.1h-2.2zM365.2 209.0h2.2v2.1h-2.2zM379.6 209.0h4.2v2.1h-4.2zM389.9 209.0h2.2v2.1h-2.2zM402.3 209.0h4.2v2.1h-4.2zM431.1 209.0h2.2v2.1h-2.2zM437.3 209.0h2.2v2.1h-2.2zM198.9 211.0h2.0v2.1h-2.0zM212.4 211.0h2.0v2.1h-2.0zM237.6 211.0h4.0v2.1h-4.0zM249.2 211.0h2.0v2.1h-2.0zM260.8 211.0h2.0v2.1h-2.0zM311.7 211.0h2.2v2.1h-2.2zM328.1 211.0h6.3v2.1h-6.3zM344.6 211.0h2.2v2.1h-2.2zM350.8 211.0h4.2v2.1h-4.2zM392.0 211.0h2.2v2.1h-2.2zM427.0 211.0h2.2v2.1h-2.2zM431.1 211.0h2.2v2.1h-2.2zM445.5 211.0h2.2v2.1h-2.2zM369.3 213.0h2.2v2.1h-2.2zM437.3 213.0h4.2v2.1h-4.2zM443.4 213.0h2.2v2.1h-2.2zM177.6 215.0h2.0v2.1h-2.0zM214.4 215.0h2.0v2.1h-2.0zM340.5 215.0h2.2v2.1h-2.2zM348.7 215.0h2.2v2.1h-2.2zM379.6 215.0h2.2v2.1h-2.2zM445.5 215.0h2.2v2.1h-2.2zM455.8 215.0h2.2v2.1h-2.2zM466.1 215.0h2.2v2.1h-2.2zM476.4 215.0h2.2v2.1h-2.2zM204.7 217.0h2.0v2.1h-2.0zM210.5 217.0h2.0v2.1h-2.0zM214.4 217.0h2.0v2.1h-2.0zM272.6 217.0h6.3v2.1h-6.3zM280.8 217.0h2.2v2.1h-2.2zM287.0 217.0h2.2v2.1h-2.2zM354.9 217.0h2.2v2.1h-2.2zM367.3 217.0h2.2v2.1h-2.2zM377.6 217.0h2.2v2.1h-2.2zM414.6 217.0h2.2v2.1h-2.2zM431.1 217.0h2.2v2.1h-2.2zM453.7 217.0h2.2v2.1h-2.2zM466.1 217.0h2.2v2.1h-2.2zM348.7 219.0h2.2v2.1h-2.2zM350.8 221.0h2.2v2.1h-2.2zM212.4 223.0h2.0v2.1h-2.0zM270.5 225.0h2.2v2.1h-2.2zM334.3 225.0h2.2v2.1h-2.2zM472.2 225.0h2.2v2.1h-2.2zM212.4 227.0h2.0v2.1h-2.0zM328.1 227.0h2.2v2.1h-2.2zM350.8 227.0h2.2v2.1h-2.2zM416.7 227.0h2.2v2.1h-2.2zM424.9 227.0h2.2v2.1h-2.2zM435.2 227.0h2.2v2.1h-2.2zM212.4 229.0h4.0v2.1h-4.0zM326.1 229.0h2.2v2.1h-2.2zM334.3 229.0h2.2v2.1h-2.2zM338.4 231.0h2.2v2.1h-2.2zM342.6 231.0h4.2v2.1h-4.2zM365.2 231.0h2.2v2.1h-2.2zM272.6 233.0h2.2v2.1h-2.2zM334.3 235.0h2.2v2.1h-2.2z"/>
<path fill="#064406" d="M231.8 92.8h2.0v2.1h-2.0zM251.1 92.8h2.0v2.1h-2.0zM272.6 92.8h2.2v2.1h-2.2zM297.3 92.8h2.2v2.1h-2.2zM313.7 92.8h2.2v2.1h-2.2zM326.1 92.8h2.2v2.1h-2.2zM350.8 92.8h4.2v2.1h-4.2zM357.0 92.8h2.2v2.1h-2.2zM365.2 92.8h2.2v2.1h-2.2zM392.0 92.8h2.2v2.1h-2.2zM429.0 92.8h2.2v2.1h-2.2zM445.5 92.8h2.2v2.1h-2.2zM464.0 92.8h2.2v2.1h-2.2zM179.5 94.8h2.0v2.1h-2.0zM208.6 94.8h2.0v2.1h-2.0zM212.4 94.8h2.0v2.1h-2.0zM249.2 94.8h2.0v2.1h-2.0zM293.1 94.8h2.2v2.1h-2.2zM326.1 94.8h2.2v2.1h-2.2zM330.2 94.8h2.2v2.1h-2.2zM338.4 94.8h4.2v2.1h-4.2zM348.7 94.8h2.2v2.1h-2.2zM365.2 94.8h2.2v2.1h-2.2zM389.9 94.8h2.2v2.1h-2.2zM394.0 94.8h2.2v2.1h-2.2zM410.5 94.8h2.2v2.1h-2.2zM431.1 94.8h2.2v2.1h-2.2zM466.1 94.8h2.2v2.1h-2.2zM472.2 94.8h2.2v2.1h-2.2zM200.8 96.8h2.0v2.1h-2.0zM231.8 96.8h2.0v2.1h-2.0zM249.2 96.8h2.0v2.1h-2.0zM255.0 96.8h2.0v2.1h-2.0zM289.0 96.8h2.2v2.1h-2.2zM299.3 96.8h4.2v2.1h-4.2zM381.7 96.8h2.2v2.1h-2.2zM404.3 96.8h2.2v2.1h-2.2zM478.4 96.8h2.2v2.1h-2.2zM229.9 98.8h2.0v2.1h-2.0zM235.7 98.8h2.0v2.1h-2.0zM297.3 98.8h2.2v2.1h-2.2zM301.4 98.8h2.2v2.1h-2.2zM313.7 98.8h2.2v2.1h-2.2zM352.8 98.8h2.2v2.1h-2.2zM363.1 98.8h2.2v2.1h-2.2zM400.2 98.8h4.2v2.1h-4.2zM424.9 98.8h2.2v2.1h-2.2zM433.1 98.8h4.2v2.1h-4.2zM441.4 98.8h2.2v2.1h-2.2zM449.6 98.8h2.2v2.1h-2.2zM482.5 98.8h2.2v2.1h-2.2zM198.9 100.8h2.0v2.1h-2.0zM204.7 100.8h2.0v2.1h-2.0zM224.1 100.8h2.0v2.1h-2.0zM227.9 100.8h2.0v2.1h-2.0zM276.7 100.8h4.2v2.1h-4.2zM319.9 100.8h2.2v2.1h-2.2zM342.6 100.8h2.2v2.1h-2.2zM346.7 100.8h2.2v2.1h-2.2zM369.3 100.8h2.2v2.1h-2.2zM394.0 100.8h4.2v2.1h-4.2zM408.4 100.8h2.2v2.1h-2.2zM441.4 100.8h2.2v2.1h-2.2zM457.8 100.8h2.2v2.1h-2.2zM474.3 100.8h2.2v2.1h-2.2zM482.5 100.8h2.2v2.1h-2.2zM243.4 102.8h2.0v2.1h-2.0zM266.6 102.8h2.0v2.1h-2.0zM272.6 102.8h4.2v2.1h-4.2zM299.3 102.8h2.2v2.1h-2.2zM332.3 102.8h4.2v2.1h-4.2zM357.0 102.8h4.2v2.1h-4.2zM365.2 102.8h2.2v2.1h-2.2zM385.8 102.8h2.2v2.1h-2.2zM408.4 102.8h2.2v2.1h-2.2zM437.3 102.8h6.3v2.1h-6.3zM449.6 102.8h2.2v2.1h-2.2zM455.8 102.8h2.2v2.1h-2.2zM472.2 102.8h4.2v2.1h-4.2zM480.5 102.8h2.2v2.1h-2.2zM179.5 104.8h2.0v2.1h-2.0zM189.2 104.8h2.0v2.1h-2.0zM206.6 104.8h2.0v2.1h-2.0zM262.8 104.8h2.0v2.1h-2.0zM268.6 104.8h2.0v2.1h-2.0zM280.8 104.8h4.2v2.1h-4.2zM328.1 104.8h2.2v2.1h-2.2zM348.7 104.8h2.2v2.1h-2.2zM359.0 104.8h2.2v2.1h-2.2zM462.0 104.8h2.2v2.1h-2.2zM472.2 104.8h2.2v2.1h-2.2zM216.3 106.8h2.0v2.1h-2.0zM247.3 106.8h5.9v2.1h-5.9zM278.7 106.8h2.2v2.1h-2.2zM371.4 106.8h4.2v2.1h-4.2zM422.8 106.8h2.2v2.1h-2.2zM443.4 106.8h2.2v2.1h-2.2zM181.5 108.8h2.0v2.1h-2.0zM220.2 108.8h2.0v2.1h-2.0zM247.3 108.8h2.0v2.1h-2.0zM251.1 108.8h2.0v2.1h-2.0zM258.9 108.8h2.0v2.1h-2.0zM266.6 108.8h2.0v2.1h-2.0zM272.6 108.8h2.2v2.1h-2.2zM474.3 108.8h2.2v2.1h-2.2zM179.5 110.8h2.0v2.1h-2.0zM206.6 110.8h2.0v2.1h-2.0zM214.4 110.8h2.0v2.1h-2.0zM247.3 110.8h4.0v2.1h-4.0zM264.7 110.8h2.0v2.1h-2.0zM330.2 110.8h2.2v2.1h-2.2zM354.9 110.8h2.2v2.1h-2.2zM412.5 110.8h2.2v2.1h-2.2zM470.2 110.8h2.2v2.1h-2.2zM177.6 112.8h4.0v2.1h-4.0zM208.6 112.8h2.0v2.1h-2.0zM253.1 112.8h2.0v2.1h-2.0zM257.0 112.8h2.0v2.1h-2.0zM270.5 112.8h2.2v2.1h-2.2zM282.9 112.8h2.2v2.1h-2.2zM289.0 112.8h2.2v2.1h-2.2zM295.2 112.8h2.2v2.1h-2.2zM334.3 112.8h2.2v2.1h-2.2zM342.6 112.8h6.3v2.1h-6.3zM482.5 112.8h2.2v2.1h-2.2zM251.1 114.8h2.0v2.1h-2.0zM258.9 114.8h2.0v2.1h-2.0zM262.8 114.8h2.0v2.1h-2.0zM276.7 114.8h4.2v2.1h-4.2zM282.9 114.8h2.2v2.1h-2.2zM301.4 114.8h2.2v2.1h-2.2zM307.6 114.8h2.2v2.1h-2.2zM363.1 114.8h2.2v2.1h-2.2zM369.3 114.8h2.2v2.1h-2.2zM381.7 114.8h2.2v2.1h-2.2zM385.8 114.8h4.2v2.1h-4.2zM394.0 114.8h2.2v2.1h-2.2zM437.3 114.8h4.2v2.1h-4.2zM459.9 114.8h2.2v2.1h-2.2zM472.2 114.8h2.2v2.1h-2.2zM476.4 114.8h2.2v2.1h-2.2zM195.0 116.8h2.0v2.1h-2.0zM224.1 116.8h2.0v2.1h-2.0zM255.0 116.8h2.0v2.1h-2.0zM268.6 116.8h2.0v2.1h-2.0zM297.3 116.8h2.2v2.1h-2.2zM334.3 116.8h2.2v2.1h-2.2zM357.0 116.8h2.2v2.1h-2.2zM361.1 116.8h4.2v2.1h-4.2zM381.7 116.8h2.2v2.1h-2.2zM400.2 116.8h2.2v2.1h-2.2zM416.7 116.8h4.2v2.1h-4.2zM433.1 116.8h2.2v2.1h-2.2zM214.4 118.8h2.0v2.1h-2.0zM229.9 118.8h2.0v2.1h-2.0zM280.8 118.8h2.2v2.1h-2.2zM303.4 118.8h2.2v2.1h-2.2zM367.3 118.8h2.2v2.1h-2.2zM375.5 118.8h2.2v2.1h-2.2zM392.0 118.8h2.2v2.1h-2.2zM445.5 118.8h2.2v2.1h-2.2zM453.7 118.8h2.2v2.1h-2.2zM470.2 118.8h2.2v2.1h-2.2zM274.6 120.8h2.2v2.1h-2.2zM301.4 120.8h2.2v2.1h-2.2zM352.8 120.8h2.2v2.1h-2.2zM371.4 120.8h2.2v2.1h-2.2zM394.0 120.8h2.2v2.1h-2.2zM416.7 120.8h2.2v2.1h-2.2zM309.6 122.8h2.2v2.1h-2.2zM361.1 122.8h2.2v2.1h-2.2zM410.5 122.8h6.3v2.1h-6.3zM424.9 122.8h2.2v2.1h-2.2zM441.4 122.8h4.2v2.1h-4.2zM470.2 122.8h2.2v2.1h-2.2zM480.5 122.8h2.2v2.1h-2.2zM274.6 124.8h2.2v2.1h-2.2zM307.6 124.8h2.2v2.1h-2.2zM311.7 124.8h2.2v2.1h-2.2zM332.3 124.8h2.2v2.1h-2.2zM338.4 124.8h2.2v2.1h-2.2zM342.6 124.8h2.2v2.1h-2.2zM352.8 124.8h2.2v2.1h-2.2zM389.9 124.8h2.2v2.1h-2.2zM408.4 124.8h2.2v2.1h-2.2zM418.7 124.8h4.2v2.1h-4.2zM457.8 124.8h2.2v2.1h-2.2zM478.4 124.8h4.2v2.1h-4.2zM239.5 126.8h2.0v2.1h-2.0zM255.0 126.8h2.0v2.1h-2.0zM270.5 126.8h2.2v2.1h-2.2zM274.6 126.8h2.2v2.1h-2.2zM301.4 126.8h2.2v2.1h-2.2zM330.2 126.8h2.2v2.1h-2.2zM334.3 126.8h2.2v2.1h-2.2zM338.4 126.8h2.2v2.1h-2.2zM346.7 126.8h2.2v2.1h-2.2zM404.3 126.8h2.2v2.1h-2.2zM416.7 126.8h2.2v2.1h-2.2zM455.8 126.8h2.2v2.1h-2.2zM464.0 126.8h2.2v2.1h-2.2zM241.5 128.8h2.0v2.1h-2.0zM245.3 128.8h2.0v2.1h-2.0zM270.5 128.8h2.2v2.1h-2.2zM295.2 128.8h2.2v2.1h-2.2zM313.7 128.8h2.2v2.1h-2.2zM322.0 128.8h2.2v2.1h-2.2zM357.0 128.8h2.2v2.1h-2.2zM361.1 128.8h2.2v2.1h-2.2zM365.2 128.8h2.2v2.1h-2.2zM371.4 128.8h2.2v2.1h-2.2zM377.6 128.8h6.3v2.1h-6.3zM387.8 128.8h2.2v2.1h-2.2zM398.1 128.8h2.2v2.1h-2.2zM406.4 128.8h2.2v2.1h-2.2zM427.0 128.8h2.2v2.1h-2.2zM443.4 128.8h2.2v2.1h-2.2zM447.5 128.8h4.2v2.1h-4.2zM224.1 130.9h2.0v2.1h-2.0zM227.9 130.9h2.0v2.1h-2.0zM245.3 130.9h2.0v2.1h-2.0zM297.3 130.9h2.2v2.1h-2.2zM348.7 130.9h2.2v2.1h-2.2zM352.8 130.9h2.2v2.1h-2.2zM361.1 130.9h2.2v2.1h-2.2zM418.7 130.9h4.2v2.1h-4.2zM427.0 130.9h2.2v2.1h-2.2zM431.1 130.9h2.2v2.1h-2.2zM313.7 132.9h2.2v2.1h-2.2zM326.1 132.9h2.2v2.1h-2.2zM340.5 132.9h2.2v2.1h-2.2zM357.0 132.9h4.2v2.1h-4.2zM385.8 132.9h2.2v2.1h-2.2zM398.1 132.9h2.2v2.1h-2.2zM402.3 132.9h2.2v2.1h-2.2zM422.8 132.9h2.2v2.1h-2.2zM429.0 132.9h2.2v2.1h-2.2zM439.3 132.9h2.2v2.1h-2.2zM468.1 132.9h2.2v2.1h-2.2zM476.4 132.9h2.2v2.1h-2.2zM227.9 134.9h4.0v2.1h-4.0zM235.7 134.9h2.0v2.1h-2.0zM344.6 134.9h2.2v2.1h-2.2zM354.9 134.9h2.2v2.1h-2.2zM371.4 134.9h2.2v2.1h-2.2zM392.0 134.9h2.2v2.1h-2.2zM402.3 134.9h2.2v2.1h-2.2zM422.8 134.9h2.2v2.1h-2.2zM445.5 134.9h4.2v2.1h-4.2zM197.0 136.9h2.0v2.1h-2.0zM377.6 136.9h2.2v2.1h-2.2zM445.5 136.9h4.2v2.1h-4.2zM482.5 136.9h2.2v2.1h-2.2zM200.8 138.9h2.0v2.1h-2.0zM239.5 138.9h2.0v2.1h-2.0zM245.3 138.9h2.0v2.1h-2.0zM255.0 138.9h2.0v2.1h-2.0zM365.2 138.9h2.2v2.1h-2.2zM406.4 138.9h2.2v2.1h-2.2zM410.5 138.9h2.2v2.1h-2.2zM414.6 138.9h2.2v2.1h-2.2zM443.4 138.9h4.2v2.1h-4.2zM464.0 138.9h2.2v2.1h-2.2zM472.2 138.9h2.2v2.1h-2.2zM478.4 138.9h2.2v2.1h-2.2zM346.7 140.9h2.2v2.1h-2.2zM474.3 140.9h2.2v2.1h-2.2zM480.5 140.9h2.2v2.1h-2.2zM212.4 142.9h2.0v2.1h-2.0zM224.1 142.9h2.0v2.1h-2.0zM336.4 142.9h2.2v2.1h-2.2zM435.2 142.9h2.2v2.1h-2.2zM472.2 142.9h2.2v2.1h-2.2zM317.8 144.9h2.2v2.1h-2.2zM344.6 144.9h4.2v2.1h-4.2zM352.8 144.9h2.2v2.1h-2.2zM357.0 144.9h2.2v2.1h-2.2zM435.2 144.9h2.2v2.1h-2.2zM439.3 144.9h2.2v2.1h-2.2zM453.7 144.9h2.2v2.1h-2.2zM284.9 146.9h2.2v2.1h-2.2zM313.7 146.9h2.2v2.1h-2.2zM352.8 146.9h2.2v2.1h-2.2zM429.0 146.9h4.2v2.1h-4.2zM478.4 146.9h2.2v2.1h-2.2zM270.5 148.9h2.2v2.1h-2.2zM332.3 148.9h2.2v2.1h-2.2zM336.4 148.9h2.2v2.1h-2.2zM392.0 148.9h2.2v2.1h-2.2zM402.3 148.9h2.2v2.1h-2.2zM410.5 148.9h2.2v2.1h-2.2zM470.2 148.9h2.2v2.1h-2.2zM295.2 150.9h2.2v2.1h-2.2zM301.4 150.9h2.2v2.1h-2.2zM462.0 150.9h2.2v2.1h-2.2zM470.2 150.9h4.2v2.1h-4.2zM482.5 150.9h2.2v2.1h-2.2zM317.8 152.9h2.2v2.1h-2.2zM396.1 152.9h2.2v2.1h-2.2zM229.9 154.9h2.0v2.1h-2.0zM233.7 154.9h2.0v2.1h-2.0zM311.7 154.9h2.2v2.1h-2.2zM392.0 154.9h2.2v2.1h-2.2zM264.7 156.9h2.0v2.1h-2.0zM272.6 156.9h2.2v2.1h-2.2zM276.7 156.9h4.2v2.1h-4.2zM297.3 156.9h4.2v2.1h-4.2zM319.9 156.9h2.2v2.1h-2.2zM330.2 156.9h2.2v2.1h-2.2zM340.5 156.9h2.2v2.1h-2.2zM422.8 156.9h2.2v2.1h-2.2zM427.0 156.9h2.2v2.1h-2.2zM274.6 158.9h2.2v2.1h-2.2zM330.2 158.9h2.2v2.1h-2.2zM342.6 158.9h2.2v2.1h-2.2zM352.8 158.9h2.2v2.1h-2.2zM359.0 158.9h2.2v2.1h-2.2zM387.8 158.9h2.2v2.1h-2.2zM392.0 158.9h2.2v2.1h-2.2zM202.8 160.9h2.0v2.1h-2.0zM208.6 160.9h2.0v2.1h-2.0zM227.9 160.9h2.0v2.1h-2.0zM247.3 160.9h2.0v2.1h-2.0zM264.7 160.9h4.0v2.1h-4.0zM272.6 160.9h2.2v2.1h-2.2zM297.3 160.9h2.2v2.1h-2.2zM334.3 160.9h2.2v2.1h-2.2zM381.7 160.9h2.2v2.1h-2.2zM396.1 160.9h4.2v2.1h-4.2zM404.3 160.9h2.2v2.1h-2.2zM420.8 160.9h2.2v2.1h-2.2zM459.9 160.9h2.2v2.1h-2.2zM466.1 160.9h2.2v2.1h-2.2zM474.3 160.9h2.2v2.1h-2.2zM482.5 160.9h2.2v2.1h-2.2zM206.6 162.9h2.0v2.1h-2.0zM227.9 162.9h2.0v2.1h-2.0zM237.6 162.9h2.0v2.1h-2.0zM249.2 162.9h2.0v2.1h-2.0zM264.7 162.9h2.0v2.1h-2.0zM328.1 162.9h2.2v2.1h-2.2zM334.3 162.9h2.2v2.1h-2.2zM381.7 162.9h2.2v2.1h-2.2zM418.7 162.9h2.2v2.1h-2.2zM433.1 162.9h4.2v2.1h-4.2zM443.4 162.9h2.2v2.1h-2.2zM468.1 162.9h4.2v2.1h-4.2zM474.3 162.9h2.2v2.1h-2.2zM200.8 164.9h4.0v2.1h-4.0zM220.2 164.9h2.0v2.1h-2.0zM233.7 164.9h2.0v2.1h-2.0zM241.5 164.9h2.0v2.1h-2.0zM255.0 164.9h2.0v2.1h-2.0zM287.0 164.9h4.2v2.1h-4.2zM297.3 164.9h2.2v2.1h-2.2zM305.5 164.9h2.2v2.1h-2.2zM309.6 164.9h2.2v2.1h-2.2zM313.7 164.9h2.2v2.1h-2.2zM322.0 164.9h4.2v2.1h-4.2zM330.2 164.9h2.2v2.1h-2.2zM357.0 164.9h2.2v2.1h-2.2zM402.3 164.9h2.2v2.1h-2.2zM408.4 164.9h2.2v2.1h-2.2zM431.1 164.9h2.2v2.1h-2.2zM449.6 164.9h2.2v2.1h-2.2zM455.8 164.9h4.2v2.1h-4.2zM462.0 164.9h2.2v2.1h-2.2zM474.3 164.9h2.2v2.1h-2.2zM216.3 166.9h2.0v2.1h-2.0zM272.6 166.9h2.2v2.1h-2.2zM303.4 166.9h2.2v2.1h-2.2zM319.9 166.9h2.2v2.1h-2.2zM371.4 166.9h2.2v2.1h-2.2zM404.3 166.9h2.2v2.1h-2.2zM431.1 166.9h2.2v2.1h-2.2zM435.2 166.9h2.2v2.1h-2.2zM447.5 166.9h4.2v2.1h-4.2zM472.2 166.9h2.2v2.1h-2.2zM200.8 168.9h2.0v2.1h-2.0zM210.5 168.9h2.0v2.1h-2.0zM241.5 168.9h2.0v2.1h-2.0zM251.1 168.9h5.9v2.1h-5.9zM262.8 168.9h2.0v2.1h-2.0zM293.1 168.9h2.2v2.1h-2.2zM305.5 168.9h2.2v2.1h-2.2zM319.9 168.9h2.2v2.1h-2.2zM346.7 168.9h2.2v2.1h-2.2zM350.8 168.9h2.2v2.1h-2.2zM365.2 168.9h2.2v2.1h-2.2zM379.6 168.9h2.2v2.1h-2.2zM387.8 168.9h2.2v2.1h-2.2zM394.0 168.9h4.2v2.1h-4.2zM414.6 168.9h2.2v2.1h-2.2zM431.1 168.9h2.2v2.1h-2.2zM437.3 168.9h2.2v2.1h-2.2zM451.7 168.9h2.2v2.1h-2.2zM200.8 170.9h2.0v2.1h-2.0zM204.7 170.9h2.0v2.1h-2.0zM235.7 170.9h2.0v2.1h-2.0zM239.5 170.9h2.0v2.1h-2.0zM247.3 170.9h2.0v2.1h-2.0zM287.0 170.9h2.2v2.1h-2.2zM295.2 170.9h2.2v2.1h-2.2zM305.5 170.9h4.2v2.1h-4.2zM315.8 170.9h2.2v2.1h-2.2zM344.6 170.9h4.2v2.1h-4.2zM350.8 170.9h2.2v2.1h-2.2zM377.6 170.9h4.2v2.1h-4.2zM427.0 170.9h2.2v2.1h-2.2zM464.0 170.9h2.2v2.1h-2.2zM476.4 170.9h2.2v2.1h-2.2zM177.6 172.9h2.0v2.1h-2.0zM227.9 172.9h2.0v2.1h-2.0zM243.4 172.9h2.0v2.1h-2.0zM264.7 172.9h2.0v2.1h-2.0zM270.5 172.9h2.2v2.1h-2.2zM278.7 172.9h6.3v2.1h-6.3zM299.3 172.9h4.2v2.1h-4.2zM307.6 172.9h2.2v2.1h-2.2zM319.9 172.9h2.2v2.1h-2.2zM328.1 172.9h4.2v2.1h-4.2zM334.3 172.9h2.2v2.1h-2.2zM340.5 172.9h2.2v2.1h-2.2zM369.3 172.9h2.2v2.1h-2.2zM379.6 172.9h2.2v2.1h-2.2zM412.5 172.9h2.2v2.1h-2.2zM422.8 172.9h4.2v2.1h-4.2zM443.4 172.9h2.2v2.1h-2.2zM472.2 172.9h2.2v2.1h-2.2zM478.4 172.9h2.2v2.1h-2.2zM179.5 174.9h2.0v2.1h-2.0zM208.6 174.9h2.0v2.1h-2.0zM224.1 174.9h2.0v2.1h-2.0zM231.8 174.9h4.0v2.1h-4.0zM245.3 174.9h2.0v2.1h-2.0zM255.0 174.9h2.0v2.1h-2.0zM291.1 174.9h2.2v2.1h-2.2zM301.4 174.9h2.2v2.1h-2.2zM305.5 174.9h2.2v2.1h-2.2zM319.9 174.9h2.2v2.1h-2.2zM346.7 174.9h2.2v2.1h-2.2zM350.8 174.9h2.2v2.1h-2.2zM365.2 174.9h4.2v2.1h-4.2zM387.8 174.9h2.2v2.1h-2.2zM414.6 174.9h4.2v2.1h-4.2zM457.8 174.9h2.2v2.1h-2.2zM476.4 174.9h2.2v2.1h-2.2zM239.5 176.9h2.0v2.1h-2.0zM255.0 176.9h2.0v2.1h-2.0zM270.5 176.9h2.2v2.1h-2.2zM282.9 176.9h2.2v2.1h-2.2zM301.4 176.9h2.2v2.1h-2.2zM330.2 176.9h2.2v2.1h-2.2zM367.3 176.9h2.2v2.1h-2.2zM385.8 176.9h2.2v2.1h-2.2zM183.4 178.9h2.0v2.1h-2.0zM227.9 178.9h2.0v2.1h-2.0zM239.5 178.9h4.0v2.1h-4.0zM260.8 178.9h2.0v2.1h-2.0zM272.6 178.9h2.2v2.1h-2.2zM284.9 178.9h2.2v2.1h-2.2zM289.0 178.9h2.2v2.1h-2.2zM332.3 178.9h2.2v2.1h-2.2zM346.7 178.9h2.2v2.1h-2.2zM352.8 178.9h2.2v2.1h-2.2zM363.1 178.9h2.2v2.1h-2.2zM383.7 178.9h2.2v2.1h-2.2zM389.9 178.9h2.2v2.1h-2.2zM404.3 178.9h2.2v2.1h-2.2zM422.8 178.9h2.2v2.1h-2.2zM455.8 178.9h4.2v2.1h-4.2zM476.4 178.9h2.2v2.1h-2.2zM200.8 180.9h2.0v2.1h-2.0zM204.7 180.9h2.0v2.1h-2.0zM220.2 180.9h2.0v2.1h-2.0zM241.5 180.9h2.0v2.1h-2.0zM251.1 180.9h2.0v2.1h-2.0zM293.1 180.9h2.2v2.1h-2.2zM305.5 180.9h2.2v2.1h-2.2zM309.6 180.9h2.2v2.1h-2.2zM328.1 180.9h2.2v2.1h-2.2zM338.4 180.9h2.2v2.1h-2.2zM350.8 180.9h2.2v2.1h-2.2zM402.3 180.9h2.2v2.1h-2.2zM408.4 180.9h2.2v2.1h-2.2zM431.1 180.9h2.2v2.1h-2.2zM459.9 180.9h2.2v2.1h-2.2zM468.1 180.9h2.2v2.1h-2.2zM472.2 180.9h2.2v2.1h-2.2zM204.7 182.9h2.0v2.1h-2.0zM224.1 182.9h2.0v2.1h-2.0zM235.7 182.9h2.0v2.1h-2.0zM264.7 182.9h2.0v2.1h-2.0zM324.0 182.9h4.2v2.1h-4.2zM332.3 182.9h2.2v2.1h-2.2zM344.6 182.9h2.2v2.1h-2.2zM387.8 182.9h2.2v2.1h-2.2zM427.0 182.9h2.2v2.1h-2.2zM474.3 182.9h2.2v2.1h-2.2zM480.5 182.9h4.2v2.1h-4.2zM177.6 184.9h2.0v2.1h-2.0zM198.9 184.9h4.0v2.1h-4.0zM208.6 184.9h2.0v2.1h-2.0zM224.1 184.9h2.0v2.1h-2.0zM260.8 184.9h2.0v2.1h-2.0zM264.7 184.9h2.0v2.1h-2.0zM268.6 184.9h2.0v2.1h-2.0zM278.7 184.9h2.2v2.1h-2.2zM322.0 184.9h2.2v2.1h-2.2zM354.9 184.9h2.2v2.1h-2.2zM371.4 184.9h2.2v2.1h-2.2zM387.8 184.9h2.2v2.1h-2.2zM396.1 184.9h2.2v2.1h-2.2zM404.3 184.9h2.2v2.1h-2.2zM424.9 184.9h2.2v2.1h-2.2zM437.3 184.9h4.2v2.1h-4.2zM468.1 184.9h6.3v2.1h-6.3zM212.4 186.9h2.0v2.1h-2.0zM258.9 186.9h2.0v2.1h-2.0zM322.0 186.9h2.2v2.1h-2.2zM328.1 186.9h2.2v2.1h-2.2zM354.9 186.9h2.2v2.1h-2.2zM453.7 186.9h2.2v2.1h-2.2zM466.1 186.9h4.2v2.1h-4.2zM197.0 188.9h2.0v2.1h-2.0zM200.8 188.9h4.0v2.1h-4.0zM346.7 188.9h2.2v2.1h-2.2zM369.3 188.9h4.2v2.1h-4.2zM392.0 188.9h2.2v2.1h-2.2zM464.0 188.9h2.2v2.1h-2.2zM478.4 188.9h2.2v2.1h-2.2zM482.5 188.9h2.2v2.1h-2.2zM195.0 190.9h2.0v2.1h-2.0zM257.0 190.9h2.0v2.1h-2.0zM268.6 190.9h2.0v2.1h-2.0zM338.4 190.9h2.2v2.1h-2.2zM387.8 190.9h2.2v2.1h-2.2zM429.0 190.9h2.2v2.1h-2.2zM462.0 190.9h2.2v2.1h-2.2zM466.1 190.9h2.2v2.1h-2.2zM470.2 190.9h2.2v2.1h-2.2zM480.5 190.9h4.2v2.1h-4.2zM177.6 192.9h2.0v2.1h-2.0zM193.1 192.9h2.0v2.1h-2.0zM198.9 192.9h2.0v2.1h-2.0zM226.0 192.9h2.0v2.1h-2.0zM262.8 192.9h4.0v2.1h-4.0zM350.8 192.9h2.2v2.1h-2.2zM457.8 192.9h2.2v2.1h-2.2zM464.0 192.9h2.2v2.1h-2.2zM474.3 192.9h2.2v2.1h-2.2zM187.3 194.9h2.0v2.1h-2.0zM191.1 194.9h2.0v2.1h-2.0zM198.9 194.9h2.0v2.1h-2.0zM206.6 194.9h4.0v2.1h-4.0zM220.2 194.9h2.0v2.1h-2.0zM239.5 194.9h2.0v2.1h-2.0zM249.2 194.9h2.0v2.1h-2.0zM253.1 194.9h2.0v2.1h-2.0zM342.6 194.9h2.2v2.1h-2.2zM365.2 194.9h2.2v2.1h-2.2zM451.7 194.9h2.2v2.1h-2.2zM455.8 194.9h2.2v2.1h-2.2zM478.4 194.9h2.2v2.1h-2.2zM183.4 196.9h2.0v2.1h-2.0zM189.2 196.9h2.0v2.1h-2.0zM245.3 196.9h2.0v2.1h-2.0zM258.9 196.9h2.0v2.1h-2.0zM340.5 196.9h2.2v2.1h-2.2zM344.6 196.9h2.2v2.1h-2.2zM379.6 196.9h2.2v2.1h-2.2zM189.2 198.9h2.0v2.1h-2.0zM202.8 198.9h2.0v2.1h-2.0zM210.5 198.9h2.0v2.1h-2.0zM224.1 198.9h2.0v2.1h-2.0zM227.9 198.9h2.0v2.1h-2.0zM319.9 198.9h2.2v2.1h-2.2zM326.1 198.9h2.2v2.1h-2.2zM359.0 198.9h2.2v2.1h-2.2zM377.6 198.9h2.2v2.1h-2.2zM396.1 198.9h2.2v2.1h-2.2zM410.5 198.9h2.2v2.1h-2.2zM433.1 198.9h4.2v2.1h-4.2zM183.4 200.9h2.0v2.1h-2.0zM187.3 200.9h2.0v2.1h-2.0zM202.8 200.9h2.0v2.1h-2.0zM212.4 200.9h2.0v2.1h-2.0zM220.2 200.9h2.0v2.1h-2.0zM224.1 200.9h7.8v2.1h-7.8zM235.7 200.9h2.0v2.1h-2.0zM262.8 200.9h2.0v2.1h-2.0zM274.6 200.9h2.2v2.1h-2.2zM278.7 200.9h2.2v2.1h-2.2zM282.9 200.9h4.2v2.1h-4.2zM295.2 200.9h2.2v2.1h-2.2zM340.5 200.9h2.2v2.1h-2.2zM346.7 200.9h2.2v2.1h-2.2zM179.5 203.0h2.0v2.1h-2.0zM189.2 203.0h2.0v2.1h-2.0zM204.7 203.0h2.0v2.1h-2.0zM272.6 203.0h2.2v2.1h-2.2zM280.8 203.0h2.2v2.1h-2.2zM305.5 203.0h2.2v2.1h-2.2zM311.7 203.0h2.2v2.1h-2.2zM350.8 203.0h2.2v2.1h-2.2zM367.3 203.0h2.2v2.1h-2.2zM375.5 203.0h2.2v2.1h-2.2zM379.6 203.0h2.2v2.1h-2.2zM193.1 205.0h2.0v2.1h-2.0zM218.2 205.0h2.0v2.1h-2.0zM222.1 205.0h2.0v2.1h-2.0zM262.8 205.0h4.0v2.1h-4.0zM268.6 205.0h2.0v2.1h-2.0zM459.9 205.0h2.2v2.1h-2.2zM179.5 207.0h2.0v2.1h-2.0zM216.3 207.0h2.0v2.1h-2.0zM258.9 207.0h2.0v2.1h-2.0zM433.1 207.0h2.2v2.1h-2.2zM441.4 207.0h2.2v2.1h-2.2zM459.9 207.0h2.2v2.1h-2.2zM181.5 209.0h2.0v2.1h-2.0zM187.3 209.0h2.0v2.1h-2.0zM202.8 209.0h2.0v2.1h-2.0zM212.4 209.0h2.0v2.1h-2.0zM350.8 209.0h2.2v2.1h-2.2zM369.3 209.0h2.2v2.1h-2.2zM396.1 209.0h2.2v2.1h-2.2zM408.4 209.0h2.2v2.1h-2.2zM412.5 209.0h2.2v2.1h-2.2zM433.1 209.0h2.2v2.1h-2.2zM191.1 211.0h2.0v2.1h-2.0zM200.8 211.0h2.0v2.1h-2.0zM222.1 211.0h2.0v2.1h-2.0zM235.7 211.0h2.0v2.1h-2.0zM255.0 211.0h2.0v2.1h-2.0zM258.9 211.0h2.0v2.1h-2.0zM291.1 211.0h2.2v2.1h-2.2zM317.8 211.0h2.2v2.1h-2.2zM338.4 211.0h2.2v2.1h-2.2zM357.0 211.0h2.2v2.1h-2.2zM377.6 211.0h2.2v2.1h-2.2zM433.1 211.0h2.2v2.1h-2.2zM459.9 211.0h2.2v2.1h-2.2zM414.6 213.0h2.2v2.1h-2.2zM183.4 215.0h2.0v2.1h-2.0zM255.0 215.0h2.0v2.1h-2.0zM317.8 215.0h2.2v2.1h-2.2zM328.1 215.0h2.2v2.1h-2.2zM332.3 215.0h2.2v2.1h-2.2zM342.6 215.0h2.2v2.1h-2.2zM365.2 215.0h4.2v2.1h-4.2zM418.7 215.0h2.2v2.1h-2.2zM424.9 215.0h2.2v2.1h-2.2zM482.5 215.0h2.2v2.1h-2.2zM218.2 217.0h4.0v2.1h-4.0zM282.9 217.0h2.2v2.1h-2.2zM291.1 217.0h2.2v2.1h-2.2zM375.5 217.0h2.2v2.1h-2.2zM404.3 217.0h2.2v2.1h-2.2zM408.4 217.0h2.2v2.1h-2.2zM443.4 217.0h2.2v2.1h-2.2zM214.4 221.0h2.0v2.1h-2.0zM348.7 221.0h2.2v2.1h-2.2zM404.3 221.0h2.2v2.1h-2.2zM412.5 221.0h2.2v2.1h-2.2zM459.9 221.0h2.2v2.1h-2.2zM326.1 225.0h2.2v2.1h-2.2zM332.3 225.0h2.2v2.1h-2.2zM354.9 225.0h2.2v2.1h-2.2zM474.3 225.0h2.2v2.1h-2.2zM185.3 227.0h2.0v2.1h-2.0zM224.1 227.0h2.0v2.1h-2.0zM270.5 227.0h2.2v2.1h-2.2zM322.0 227.0h2.2v2.1h-2.2zM422.8 227.0h2.2v2.1h-2.2zM431.1 227.0h2.2v2.1h-2.2zM472.2 227.0h2.2v2.1h-2.2zM278.7 229.0h2.2v2.1h-2.2zM282.9 229.0h4.2v2.1h-4.2zM322.0 229.0h2.2v2.1h-2.2zM332.3 229.0h2.2v2.1h-2.2zM342.6 229.0h4.2v2.1h-4.2zM396.1 229.0h2.2v2.1h-2.2zM431.1 229.0h2.2v2.1h-2.2zM447.5 229.0h2.2v2.1h-2.2zM280.8 231.0h2.2v2.1h-2.2zM284.9 231.0h2.2v2.1h-2.2zM324.0 231.0h2.2v2.1h-2.2zM336.4 231.0h2.2v2.1h-2.2zM340.5 231.0h2.2v2.1h-2.2zM424.9 231.0h2.2v2.1h-2.2z"/>
<path fill="#042d04" d="M198.9 92.8h2.0v2.1h-2.0zM206.6 92.8h2.0v2.1h-2.0zM220.2 92.8h2.0v2.1h-2.0zM247.3 92.8h4.0v2.1h-4.0zM253.1 92.8h2.0v2.1h-2.0zM291.1 92.8h2.2v2.1h-2.2zM301.4 92.8h2.2v2.1h-2.2zM324.0 92.8h2.2v2.1h-2.2zM334.3 92.8h2.2v2.1h-2.2zM338.4 92.8h2.2v2.1h-2.2zM342.6 92.8h2.2v2.1h-2.2zM369.3 92.8h2.2v2.1h-2.2zM373.4 92.8h2.2v2.1h-2.2zM381.7 92.8h2.2v2.1h-2.2zM410.5 92.8h2.2v2.1h-2.2zM414.6 92.8h2.2v2.1h-2.2zM422.8 92.8h2.2v2.1h-2.2zM441.4 92.8h2.2v2.1h-2.2zM177.6 94.8h2.0v2.1h-2.0zM197.0 94.8h2.0v2.1h-2.0zM233.7 94.8h2.0v2.1h-2.0zM274.6 94.8h2.2v2.1h-2.2zM295.2 94.8h2.2v2.1h-2.2zM359.0 94.8h2.2v2.1h-2.2zM379.6 94.8h4.2v2.1h-4.2zM385.8 94.8h2.2v2.1h-2.2zM396.1 94.8h2.2v2.1h-2.2zM400.2 94.8h2.2v2.1h-2.2zM429.0 94.8h2.2v2.1h-2.2zM457.8 94.8h2.2v2.1h-2.2zM468.1 94.8h2.2v2.1h-2.2zM478.4 94.8h2.2v2.1h-2.2zM202.8 96.8h2.0v2.1h-2.0zM206.6 96.8h2.0v2.1h-2.0zM260.8 96.8h2.0v2.1h-2.0zM291.1 96.8h4.2v2.1h-4.2zM315.8 96.8h2.2v2.1h-2.2zM361.1 96.8h2.2v2.1h-2.2zM367.3 96.8h2.2v2.1h-2.2zM387.8 96.8h2.2v2.1h-2.2zM412.5 96.8h2.2v2.1h-2.2zM422.8 96.8h2.2v2.1h-2.2zM427.0 96.8h2.2v2.1h-2.2zM447.5 96.8h2.2v2.1h-2.2zM453.7 96.8h2.2v2.1h-2.2zM464.0 96.8h2.2v2.1h-2.2zM482.5 96.8h2.2v2.1h-2.2zM189.2 98.8h2.0v2.1h-2.0zM218.2 98.8h4.0v2.1h-4.0zM243.4 98.8h2.0v2.1h-2.0zM264.7 98.8h2.0v2.1h-2.0zM268.6 98.8h2.0v2.1h-2.0zM357.0 98.8h2.2v2.1h-2.2zM367.3 98.8h2.2v2.1h-2.2zM392.0 98.8h2.2v2.1h-2.2zM398.1 98.8h2.2v2.1h-2.2zM457.8 98.8h4.2v2.1h-4.2zM197.0 100.8h2.0v2.1h-2.0zM210.5 100.8h2.0v2.1h-2.0zM216.3 100.8h2.0v2.1h-2.0zM237.6 100.8h2.0v2.1h-2.0zM257.0 100.8h2.0v2.1h-2.0zM274.6 100.8h2.2v2.1h-2.2zM293.1 100.8h2.2v2.1h-2.2zM311.7 100.8h2.2v2.1h-2.2zM317.8 100.8h2.2v2.1h-2.2zM334.3 100.8h2.2v2.1h-2.2zM371.4 100.8h2.2v2.1h-2.2zM383.7 100.8h2.2v2.1h-2.2zM424.9 100.8h2.2v2.1h-2.2zM198.9 102.8h2.0v2.1h-2.0zM212.4 102.8h2.0v2.1h-2.0zM231.8 102.8h2.0v2.1h-2.0zM235.7 102.8h4.0v2.1h-4.0zM255.0 102.8h2.0v2.1h-2.0zM270.5 102.8h2.2v2.1h-2.2zM287.0 102.8h2.2v2.1h-2.2zM330.2 102.8h2.2v2.1h-2.2zM338.4 102.8h4.2v2.1h-4.2zM346.7 102.8h2.2v2.1h-2.2zM352.8 102.8h2.2v2.1h-2.2zM466.1 102.8h2.2v2.1h-2.2zM482.5 102.8h2.2v2.1h-2.2zM185.3 104.8h2.0v2.1h-2.0zM229.9 104.8h2.0v2.1h-2.0zM369.3 104.8h2.2v2.1h-2.2zM185.3 106.8h2.0v2.1h-2.0zM189.2 106.8h2.0v2.1h-2.0zM208.6 106.8h2.0v2.1h-2.0zM222.1 106.8h2.0v2.1h-2.0zM334.3 106.8h2.2v2.1h-2.2zM459.9 106.8h2.2v2.1h-2.2zM470.2 106.8h2.2v2.1h-2.2zM206.6 108.8h2.0v2.1h-2.0zM255.0 108.8h2.0v2.1h-2.0zM274.6 108.8h2.2v2.1h-2.2zM373.4 108.8h2.2v2.1h-2.2zM260.8 110.8h2.0v2.1h-2.0zM284.9 110.8h2.2v2.1h-2.2zM462.0 110.8h2.2v2.1h-2.2zM189.2 112.8h2.0v2.1h-2.0zM202.8 112.8h2.0v2.1h-2.0zM210.5 112.8h2.0v2.1h-2.0zM216.3 112.8h2.0v2.1h-2.0zM222.1 112.8h2.0v2.1h-2.0zM237.6 112.8h2.0v2.1h-2.0zM280.8 112.8h2.2v2.1h-2.2zM297.3 112.8h2.2v2.1h-2.2zM410.5 112.8h2.2v2.1h-2.2zM431.1 112.8h2.2v2.1h-2.2zM439.3 112.8h2.2v2.1h-2.2zM443.4 112.8h2.2v2.1h-2.2zM459.9 112.8h2.2v2.1h-2.2zM179.5 114.8h2.0v2.1h-2.0zM195.0 114.8h4.0v2.1h-4.0zM218.2 114.8h2.0v2.1h-2.0zM237.6 114.8h2.0v2.1h-2.0zM247.3 114.8h2.0v2.1h-2.0zM253.1 114.8h2.0v2.1h-2.0zM264.7 114.8h2.0v2.1h-2.0zM270.5 114.8h2.2v2.1h-2.2zM284.9 114.8h2.2v2.1h-2.2zM293.1 114.8h2.2v2.1h-2.2zM322.0 114.8h2.2v2.1h-2.2zM330.2 114.8h2.2v2.1h-2.2zM396.1 114.8h4.2v2.1h-4.2zM410.5 114.8h4.2v2.1h-4.2zM445.5 114.8h2.2v2.1h-2.2zM449.6 114.8h2.2v2.1h-2.2zM470.2 114.8h2.2v2.1h-2.2zM474.3 114.8h2.2v2.1h-2.2zM482.5 114.8h2.2v2.1h-2.2zM177.6 116.8h2.0v2.1h-2.0zM200.8 116.8h4.0v2.1h-4.0zM214.4 116.8h2.0v2.1h-2.0zM231.8 116.8h2.0v2.1h-2.0zM249.2 116.8h2.0v2.1h-2.0zM276.7 116.8h4.2v2.1h-4.2zM295.2 116.8h2.2v2.1h-2.2zM299.3 116.8h2.2v2.1h-2.2zM307.6 116.8h2.2v2.1h-2.2zM324.0 116.8h2.2v2.1h-2.2zM332.3 116.8h2.2v2.1h-2.2zM342.6 116.8h2.2v2.1h-2.2zM352.8 116.8h2.2v2.1h-2.2zM359.0 116.8h2.2v2.1h-2.2zM367.3 116.8h2.2v2.1h-2.2zM383.7 116.8h2.2v2.1h-2.2zM408.4 116.8h2.2v2.1h-2.2zM459.9 116.8h2.2v2.1h-2.2zM204.7 118.8h2.0v2.1h-2.0zM233.7 118.8h2.0v2.1h-2.0zM239.5 118.8h2.0v2.1h-2.0zM287.0 118.8h2.2v2.1h-2.2zM322.0 118.8h2.2v2.1h-2.2zM328.1 118.8h4.2v2.1h-4.2zM354.9 118.8h2.2v2.1h-2.2zM404.3 118.8h2.2v2.1h-2.2zM422.8 118.8h2.2v2.1h-2.2zM474.3 118.8h2.2v2.1h-2.2zM208.6 120.8h2.0v2.1h-2.0zM284.9 120.8h2.2v2.1h-2.2zM317.8 120.8h2.2v2.1h-2.2zM328.1 120.8h2.2v2.1h-2.2zM367.3 120.8h2.2v2.1h-2.2zM383.7 120.8h2.2v2.1h-2.2zM410.5 120.8h2.2v2.1h-2.2zM414.6 120.8h2.2v2.1h-2.2zM457.8 120.8h2.2v2.1h-2.2zM468.1 120.8h2.2v2.1h-2.2zM480.5 120.8h2.2v2.1h-2.2zM289.0 122.8h2.2v2.1h-2.2zM301.4 122.8h4.2v2.1h-4.2zM311.7 122.8h2.2v2.1h-2.2zM315.8 122.8h4.2v2.1h-4.2zM324.0 122.8h2.2v2.1h-2.2zM352.8 122.8h2.2v2.1h-2.2zM402.3 122.8h2.2v2.1h-2.2zM429.0 122.8h6.3v2.1h-6.3zM447.5 122.8h2.2v2.1h-2.2zM464.0 122.8h2.2v2.1h-2.2zM468.1 122.8h2.2v2.1h-2.2zM476.4 122.8h2.2v2.1h-2.2zM245.3 124.8h2.0v2.1h-2.0zM264.7 124.8h2.0v2.1h-2.0zM278.7 124.8h2.2v2.1h-2.2zM287.0 124.8h2.2v2.1h-2.2zM315.8 124.8h2.2v2.1h-2.2zM334.3 124.8h2.2v2.1h-2.2zM359.0 124.8h2.2v2.1h-2.2zM377.6 124.8h2.2v2.1h-2.2zM406.4 124.8h2.2v2.1h-2.2zM414.6 124.8h4.2v2.1h-4.2zM433.1 124.8h2.2v2.1h-2.2zM451.7 124.8h2.2v2.1h-2.2zM202.8 126.8h4.0v2.1h-4.0zM257.0 126.8h2.0v2.1h-2.0zM309.6 126.8h2.2v2.1h-2.2zM313.7 126.8h4.2v2.1h-4.2zM324.0 126.8h2.2v2.1h-2.2zM357.0 126.8h4.2v2.1h-4.2zM365.2 126.8h4.2v2.1h-4.2zM373.4 126.8h2.2v2.1h-2.2zM410.5 126.8h2.2v2.1h-2.2zM418.7 126.8h2.2v2.1h-2.2zM445.5 126.8h4.2v2.1h-4.2zM466.1 126.8h2.2v2.1h-2.2zM179.5 128.8h2.0v2.1h-2.0zM229.9 128.8h2.0v2.1h-2.0zM255.0 128.8h2.0v2.1h-2.0zM299.3 128.8h2.2v2.1h-2.2zM326.1 128.8h2.2v2.1h-2.2zM334.3 128.8h2.2v2.1h-2.2zM340.5 128.8h4.2v2.1h-4.2zM375.5 128.8h2.2v2.1h-2.2zM389.9 128.8h4.2v2.1h-4.2zM402.3 128.8h2.2v2.1h-2.2zM433.1 128.8h2.2v2.1h-2.2zM472.2 128.8h2.2v2.1h-2.2zM476.4 128.8h2.2v2.1h-2.2zM480.5 128.8h2.2v2.1h-2.2zM247.3 130.9h2.0v2.1h-2.0zM287.0 130.9h4.2v2.1h-4.2zM301.4 130.9h2.2v2.1h-2.2zM309.6 130.9h2.2v2.1h-2.2zM354.9 130.9h2.2v2.1h-2.2zM367.3 130.9h8.3v2.1h-8.3zM387.8 130.9h2.2v2.1h-2.2zM394.0 130.9h2.2v2.1h-2.2zM398.1 130.9h4.2v2.1h-4.2zM412.5 130.9h2.2v2.1h-2.2zM437.3 130.9h2.2v2.1h-2.2zM455.8 130.9h6.3v2.1h-6.3zM464.0 130.9h4.2v2.1h-4.2zM474.3 130.9h2.2v2.1h-2.2zM200.8 132.9h4.0v2.1h-4.0zM245.3 132.9h2.0v2.1h-2.0zM284.9 132.9h2.2v2.1h-2.2zM295.2 132.9h2.2v2.1h-2.2zM322.0 132.9h2.2v2.1h-2.2zM332.3 132.9h2.2v2.1h-2.2zM354.9 132.9h2.2v2.1h-2.2zM369.3 132.9h2.2v2.1h-2.2zM381.7 132.9h2.2v2.1h-2.2zM447.5 132.9h2.2v2.1h-2.2zM459.9 132.9h2.2v2.1h-2.2zM231.8 134.9h2.0v2.1h-2.0zM241.5 134.9h5.9v2.1h-5.9zM282.9 134.9h2.2v2.1h-2.2zM295.2 134.9h2.2v2.1h-2.2zM311.7 134.9h2.2v2.1h-2.2zM342.6 134.9h2.2v2.1h-2.2zM379.6 134.9h2.2v2.1h-2.2zM389.9 134.9h2.2v2.1h-2.2zM398.1 134.9h2.2v2.1h-2.2zM457.8 134.9h2.2v2.1h-2.2zM462.0 134.9h2.2v2.1h-2.2zM470.2 134.9h2.2v2.1h-2.2zM202.8 136.9h4.0v2.1h-4.0zM212.4 136.9h2.0v2.1h-2.0zM278.7 136.9h2.2v2.1h-2.2zM338.4 136.9h4.2v2.1h-4.2zM346.7 136.9h2.2v2.1h-2.2zM369.3 136.9h2.2v2.1h-2.2zM389.9 136.9h2.2v2.1h-2.2zM406.4 136.9h4.2v2.1h-4.2zM414.6 136.9h2.2v2.1h-2.2zM206.6 138.9h2.0v2.1h-2.0zM210.5 138.9h2.0v2.1h-2.0zM220.2 138.9h2.0v2.1h-2.0zM241.5 138.9h2.0v2.1h-2.0zM412.5 138.9h2.2v2.1h-2.2zM416.7 138.9h2.2v2.1h-2.2zM447.5 138.9h2.2v2.1h-2.2zM459.9 138.9h2.2v2.1h-2.2zM216.3 140.9h2.0v2.1h-2.0zM274.6 140.9h2.2v2.1h-2.2zM344.6 140.9h2.2v2.1h-2.2zM348.7 140.9h2.2v2.1h-2.2zM394.0 140.9h2.2v2.1h-2.2zM431.1 140.9h2.2v2.1h-2.2zM441.4 140.9h2.2v2.1h-2.2zM468.1 140.9h2.2v2.1h-2.2zM472.2 140.9h2.2v2.1h-2.2zM482.5 140.9h2.2v2.1h-2.2zM179.5 142.9h2.0v2.1h-2.0zM183.4 142.9h2.0v2.1h-2.0zM204.7 142.9h2.0v2.1h-2.0zM222.1 142.9h2.0v2.1h-2.0zM287.0 142.9h2.2v2.1h-2.2zM354.9 142.9h2.2v2.1h-2.2zM396.1 142.9h2.2v2.1h-2.2zM439.3 142.9h4.2v2.1h-4.2zM268.6 144.9h2.0v2.1h-2.0zM340.5 144.9h2.2v2.1h-2.2zM365.2 144.9h2.2v2.1h-2.2zM429.0 144.9h2.2v2.1h-2.2zM433.1 144.9h2.2v2.1h-2.2zM441.4 144.9h2.2v2.1h-2.2zM468.1 144.9h2.2v2.1h-2.2zM474.3 144.9h2.2v2.1h-2.2zM287.0 146.9h4.2v2.1h-4.2zM317.8 146.9h2.2v2.1h-2.2zM346.7 146.9h2.2v2.1h-2.2zM204.7 148.9h2.0v2.1h-2.0zM276.7 148.9h2.2v2.1h-2.2zM305.5 148.9h2.2v2.1h-2.2zM322.0 148.9h2.2v2.1h-2.2zM389.9 148.9h2.2v2.1h-2.2zM422.8 148.9h2.2v2.1h-2.2zM443.4 148.9h2.2v2.1h-2.2zM464.0 148.9h4.2v2.1h-4.2zM204.7 150.9h2.0v2.1h-2.0zM274.6 150.9h2.2v2.1h-2.2zM319.9 150.9h2.2v2.1h-2.2zM332.3 150.9h2.2v2.1h-2.2zM340.5 150.9h2.2v2.1h-2.2zM346.7 150.9h4.2v2.1h-4.2zM357.0 150.9h2.2v2.1h-2.2zM383.7 150.9h2.2v2.1h-2.2zM389.9 150.9h4.2v2.1h-4.2zM402.3 150.9h2.2v2.1h-2.2zM408.4 150.9h2.2v2.1h-2.2zM418.7 150.9h2.2v2.1h-2.2zM435.2 150.9h4.2v2.1h-4.2zM274.6 152.9h2.2v2.1h-2.2zM278.7 152.9h2.2v2.1h-2.2zM322.0 152.9h2.2v2.1h-2.2zM375.5 152.9h2.2v2.1h-2.2zM404.3 152.9h2.2v2.1h-2.2zM418.7 152.9h2.2v2.1h-2.2zM424.9 152.9h2.2v2.1h-2.2zM280.8 154.9h2.2v2.1h-2.2zM299.3 154.9h2.2v2.1h-2.2zM315.8 154.9h6.3v2.1h-6.3zM330.2 154.9h2.2v2.1h-2.2zM204.7 156.9h2.0v2.1h-2.0zM280.8 156.9h4.2v2.1h-4.2zM309.6 156.9h2.2v2.1h-2.2zM313.7 156.9h2.2v2.1h-2.2zM350.8 156.9h4.2v2.1h-4.2zM412.5 156.9h2.2v2.1h-2.2zM478.4 156.9h2.2v2.1h-2.2zM282.9 158.9h2.2v2.1h-2.2zM350.8 158.9h2.2v2.1h-2.2zM371.4 158.9h2.2v2.1h-2.2zM385.8 158.9h2.2v2.1h-2.2zM396.1 158.9h2.2v2.1h-2.2zM412.5 158.9h2.2v2.1h-2.2zM431.1 158.9h2.2v2.1h-2.2zM459.9 158.9h2.2v2.1h-2.2zM476.4 158.9h2.2v2.1h-2.2zM177.6 160.9h2.0v2.1h-2.0zM210.5 160.9h2.0v2.1h-2.0zM216.3 160.9h4.0v2.1h-4.0zM245.3 160.9h2.0v2.1h-2.0zM253.1 160.9h2.0v2.1h-2.0zM257.0 160.9h2.0v2.1h-2.0zM340.5 160.9h2.2v2.1h-2.2zM369.3 160.9h2.2v2.1h-2.2zM373.4 160.9h2.2v2.1h-2.2zM445.5 160.9h2.2v2.1h-2.2zM468.1 160.9h2.2v2.1h-2.2zM185.3 162.9h2.0v2.1h-2.0zM193.1 162.9h2.0v2.1h-2.0zM220.2 162.9h2.0v2.1h-2.0zM229.9 162.9h4.0v2.1h-4.0zM235.7 162.9h2.0v2.1h-2.0zM317.8 162.9h2.2v2.1h-2.2zM369.3 162.9h2.2v2.1h-2.2zM379.6 162.9h2.2v2.1h-2.2zM383.7 162.9h2.2v2.1h-2.2zM422.8 162.9h2.2v2.1h-2.2zM457.8 162.9h2.2v2.1h-2.2zM187.3 164.9h2.0v2.1h-2.0zM195.0 164.9h4.0v2.1h-4.0zM206.6 164.9h2.0v2.1h-2.0zM212.4 164.9h4.0v2.1h-4.0zM218.2 164.9h2.0v2.1h-2.0zM237.6 164.9h4.0v2.1h-4.0zM245.3 164.9h2.0v2.1h-2.0zM293.1 164.9h2.2v2.1h-2.2zM299.3 164.9h2.2v2.1h-2.2zM332.3 164.9h2.2v2.1h-2.2zM352.8 164.9h2.2v2.1h-2.2zM418.7 164.9h4.2v2.1h-4.2zM433.1 164.9h4.2v2.1h-4.2zM447.5 164.9h2.2v2.1h-2.2zM453.7 164.9h2.2v2.1h-2.2zM480.5 164.9h2.2v2.1h-2.2zM183.4 166.9h2.0v2.1h-2.0zM191.1 166.9h4.0v2.1h-4.0zM227.9 166.9h4.0v2.1h-4.0zM233.7 166.9h2.0v2.1h-2.0zM239.5 166.9h2.0v2.1h-2.0zM249.2 166.9h2.0v2.1h-2.0zM278.7 166.9h2.2v2.1h-2.2zM317.8 166.9h2.2v2.1h-2.2zM330.2 166.9h2.2v2.1h-2.2zM375.5 166.9h2.2v2.1h-2.2zM383.7 166.9h2.2v2.1h-2.2zM408.4 166.9h2.2v2.1h-2.2zM433.1 166.9h2.2v2.1h-2.2zM439.3 166.9h2.2v2.1h-2.2zM466.1 166.9h2.2v2.1h-2.2zM474.3 166.9h2.2v2.1h-2.2zM179.5 168.9h2.0v2.1h-2.0zM187.3 168.9h2.0v2.1h-2.0zM197.0 168.9h4.0v2.1h-4.0zM214.4 168.9h2.0v2.1h-2.0zM247.3 168.9h2.0v2.1h-2.0zM270.5 168.9h2.2v2.1h-2.2zM303.4 168.9h2.2v2.1h-2.2zM307.6 168.9h2.2v2.1h-2.2zM311.7 168.9h2.2v2.1h-2.2zM324.0 168.9h6.3v2.1h-6.3zM348.7 168.9h2.2v2.1h-2.2zM367.3 168.9h2.2v2.1h-2.2zM375.5 168.9h2.2v2.1h-2.2zM416.7 168.9h2.2v2.1h-2.2zM462.0 168.9h2.2v2.1h-2.2zM260.8 170.9h2.0v2.1h-2.0zM270.5 170.9h2.2v2.1h-2.2zM293.1 170.9h2.2v2.1h-2.2zM319.9 170.9h2.2v2.1h-2.2zM365.2 170.9h2.2v2.1h-2.2zM389.9 170.9h2.2v2.1h-2.2zM408.4 170.9h2.2v2.1h-2.2zM474.3 170.9h2.2v2.1h-2.2zM482.5 170.9h2.2v2.1h-2.2zM195.0 172.9h2.0v2.1h-2.0zM208.6 172.9h2.0v2.1h-2.0zM218.2 172.9h2.0v2.1h-2.0zM222.1 172.9h2.0v2.1h-2.0zM231.8 172.9h2.0v2.1h-2.0zM239.5 172.9h2.0v2.1h-2.0zM245.3 172.9h2.0v2.1h-2.0zM272.6 172.9h2.2v2.1h-2.2zM284.9 172.9h4.2v2.1h-4.2zM305.5 172.9h2.2v2.1h-2.2zM326.1 172.9h2.2v2.1h-2.2zM387.8 172.9h2.2v2.1h-2.2zM394.0 172.9h4.2v2.1h-4.2zM451.7 172.9h2.2v2.1h-2.2zM464.0 172.9h2.2v2.1h-2.2zM468.1 172.9h2.2v2.1h-2.2zM195.0 174.9h2.0v2.1h-2.0zM222.1 174.9h2.0v2.1h-2.0zM243.4 174.9h2.0v2.1h-2.0zM249.2 174.9h2.0v2.1h-2.0zM264.7 174.9h2.0v2.1h-2.0zM276.7 174.9h6.3v2.1h-6.3zM297.3 174.9h2.2v2.1h-2.2zM313.7 174.9h2.2v2.1h-2.2zM348.7 174.9h2.2v2.1h-2.2zM381.7 174.9h2.2v2.1h-2.2zM433.1 174.9h2.2v2.1h-2.2zM478.4 174.9h2.2v2.1h-2.2zM202.8 176.9h2.0v2.1h-2.0zM241.5 176.9h5.9v2.1h-5.9zM249.2 176.9h2.0v2.1h-2.0zM257.0 176.9h2.0v2.1h-2.0zM272.6 176.9h2.2v2.1h-2.2zM276.7 176.9h2.2v2.1h-2.2zM280.8 176.9h2.2v2.1h-2.2zM284.9 176.9h2.2v2.1h-2.2zM305.5 176.9h2.2v2.1h-2.2zM317.8 176.9h2.2v2.1h-2.2zM334.3 176.9h2.2v2.1h-2.2zM348.7 176.9h2.2v2.1h-2.2zM354.9 176.9h4.2v2.1h-4.2zM181.5 178.9h2.0v2.1h-2.0zM206.6 178.9h2.0v2.1h-2.0zM218.2 178.9h2.0v2.1h-2.0zM226.0 178.9h2.0v2.1h-2.0zM231.8 178.9h2.0v2.1h-2.0zM278.7 178.9h2.2v2.1h-2.2zM282.9 178.9h2.2v2.1h-2.2zM307.6 178.9h2.2v2.1h-2.2zM315.8 178.9h4.2v2.1h-4.2zM324.0 178.9h2.2v2.1h-2.2zM344.6 178.9h2.2v2.1h-2.2zM408.4 178.9h2.2v2.1h-2.2zM424.9 178.9h2.2v2.1h-2.2zM447.5 178.9h2.2v2.1h-2.2zM480.5 178.9h2.2v2.1h-2.2zM235.7 180.9h2.0v2.1h-2.0zM245.3 180.9h2.0v2.1h-2.0zM253.1 180.9h2.0v2.1h-2.0zM268.6 180.9h4.1v2.1h-4.1zM284.9 180.9h2.2v2.1h-2.2zM307.6 180.9h2.2v2.1h-2.2zM334.3 180.9h2.2v2.1h-2.2zM340.5 180.9h2.2v2.1h-2.2zM346.7 180.9h4.2v2.1h-4.2zM367.3 180.9h4.2v2.1h-4.2zM373.4 180.9h2.2v2.1h-2.2zM377.6 180.9h2.2v2.1h-2.2zM435.2 180.9h2.2v2.1h-2.2zM439.3 180.9h2.2v2.1h-2.2zM447.5 180.9h2.2v2.1h-2.2zM451.7 180.9h2.2v2.1h-2.2zM464.0 180.9h2.2v2.1h-2.2zM476.4 180.9h2.2v2.1h-2.2zM220.2 182.9h2.0v2.1h-2.0zM231.8 182.9h2.0v2.1h-2.0zM255.0 182.9h2.0v2.1h-2.0zM272.6 182.9h2.2v2.1h-2.2zM350.8 182.9h2.2v2.1h-2.2zM389.9 182.9h2.2v2.1h-2.2zM412.5 182.9h2.2v2.1h-2.2zM418.7 182.9h4.2v2.1h-4.2zM459.9 182.9h2.2v2.1h-2.2zM193.1 184.9h2.0v2.1h-2.0zM204.7 184.9h2.0v2.1h-2.0zM210.5 184.9h2.0v2.1h-2.0zM272.6 184.9h2.2v2.1h-2.2zM317.8 184.9h2.2v2.1h-2.2zM340.5 184.9h2.2v2.1h-2.2zM375.5 184.9h2.2v2.1h-2.2zM385.8 184.9h2.2v2.1h-2.2zM398.1 184.9h2.2v2.1h-2.2zM441.4 184.9h4.2v2.1h-4.2zM480.5 184.9h4.2v2.1h-4.2zM319.9 186.9h2.2v2.1h-2.2zM357.0 186.9h2.2v2.1h-2.2zM381.7 186.9h2.2v2.1h-2.2zM392.0 186.9h2.2v2.1h-2.2zM406.4 186.9h2.2v2.1h-2.2zM422.8 186.9h2.2v2.1h-2.2zM429.0 186.9h2.2v2.1h-2.2zM439.3 186.9h2.2v2.1h-2.2zM443.4 186.9h2.2v2.1h-2.2zM193.1 188.9h2.0v2.1h-2.0zM266.6 188.9h2.0v2.1h-2.0zM332.3 188.9h2.2v2.1h-2.2zM342.6 188.9h2.2v2.1h-2.2zM350.8 188.9h2.2v2.1h-2.2zM381.7 188.9h2.2v2.1h-2.2zM389.9 188.9h2.2v2.1h-2.2zM402.3 188.9h2.2v2.1h-2.2zM431.1 188.9h2.2v2.1h-2.2zM437.3 188.9h2.2v2.1h-2.2zM455.8 188.9h2.2v2.1h-2.2zM462.0 188.9h2.2v2.1h-2.2zM468.1 188.9h4.2v2.1h-4.2zM480.5 188.9h2.2v2.1h-2.2zM229.9 190.9h2.0v2.1h-2.0zM237.6 190.9h2.0v2.1h-2.0zM245.3 190.9h2.0v2.1h-2.0zM270.5 190.9h2.2v2.1h-2.2zM278.7 190.9h2.2v2.1h-2.2zM311.7 190.9h2.2v2.1h-2.2zM330.2 190.9h2.2v2.1h-2.2zM375.5 190.9h2.2v2.1h-2.2zM379.6 190.9h2.2v2.1h-2.2zM389.9 190.9h2.2v2.1h-2.2zM398.1 190.9h2.2v2.1h-2.2zM441.4 190.9h2.2v2.1h-2.2zM464.0 190.9h2.2v2.1h-2.2zM468.1 190.9h2.2v2.1h-2.2zM472.2 190.9h2.2v2.1h-2.2zM181.5 192.9h4.0v2.1h-4.0zM195.0 192.9h2.0v2.1h-2.0zM237.6 192.9h4.0v2.1h-4.0zM253.1 192.9h2.0v2.1h-2.0zM354.9 192.9h4.2v2.1h-4.2zM377.6 192.9h6.3v2.1h-6.3zM392.0 192.9h2.2v2.1h-2.2zM433.1 192.9h2.2v2.1h-2.2zM437.3 192.9h2.2v2.1h-2.2zM459.9 192.9h2.2v2.1h-2.2zM470.2 192.9h2.2v2.1h-2.2zM185.3 194.9h2.0v2.1h-2.0zM197.0 194.9h2.0v2.1h-2.0zM200.8 194.9h2.0v2.1h-2.0zM204.7 194.9h2.0v2.1h-2.0zM214.4 194.9h2.0v2.1h-2.0zM226.0 194.9h2.0v2.1h-2.0zM247.3 194.9h2.0v2.1h-2.0zM257.0 194.9h2.0v2.1h-2.0zM262.8 194.9h2.0v2.1h-2.0zM266.6 194.9h2.0v2.1h-2.0zM280.8 194.9h4.2v2.1h-4.2zM319.9 194.9h2.2v2.1h-2.2zM326.1 194.9h2.2v2.1h-2.2zM346.7 194.9h2.2v2.1h-2.2zM375.5 194.9h2.2v2.1h-2.2zM385.8 194.9h2.2v2.1h-2.2zM408.4 194.9h2.2v2.1h-2.2zM429.0 194.9h2.2v2.1h-2.2zM441.4 194.9h2.2v2.1h-2.2zM459.9 194.9h2.2v2.1h-2.2zM474.3 194.9h2.2v2.1h-2.2zM480.5 194.9h4.2v2.1h-4.2zM210.5 196.9h2.0v2.1h-2.0zM231.8 196.9h2.0v2.1h-2.0zM251.1 196.9h2.0v2.1h-2.0zM303.4 196.9h2.2v2.1h-2.2zM322.0 196.9h2.2v2.1h-2.2zM330.2 196.9h2.2v2.1h-2.2zM334.3 196.9h2.2v2.1h-2.2zM357.0 196.9h2.2v2.1h-2.2zM371.4 196.9h2.2v2.1h-2.2zM389.9 196.9h2.2v2.1h-2.2zM433.1 196.9h2.2v2.1h-2.2zM462.0 196.9h2.2v2.1h-2.2zM466.1 196.9h2.2v2.1h-2.2zM470.2 196.9h2.2v2.1h-2.2zM474.3 196.9h2.2v2.1h-2.2zM478.4 196.9h2.2v2.1h-2.2zM482.5 196.9h2.2v2.1h-2.2zM183.4 198.9h2.0v2.1h-2.0zM222.1 198.9h2.0v2.1h-2.0zM239.5 198.9h2.0v2.1h-2.0zM322.0 198.9h2.2v2.1h-2.2zM350.8 198.9h2.2v2.1h-2.2zM363.1 198.9h2.2v2.1h-2.2zM371.4 198.9h2.2v2.1h-2.2zM400.2 198.9h2.2v2.1h-2.2zM443.4 198.9h2.2v2.1h-2.2zM447.5 198.9h2.2v2.1h-2.2zM476.4 198.9h4.2v2.1h-4.2zM482.5 198.9h2.2v2.1h-2.2zM177.6 200.9h2.0v2.1h-2.0zM189.2 200.9h2.0v2.1h-2.0zM197.0 200.9h2.0v2.1h-2.0zM210.5 200.9h2.0v2.1h-2.0zM251.1 200.9h2.0v2.1h-2.0zM276.7 200.9h2.2v2.1h-2.2zM322.0 200.9h2.2v2.1h-2.2zM342.6 200.9h2.2v2.1h-2.2zM352.8 200.9h2.2v2.1h-2.2zM181.5 203.0h2.0v2.1h-2.0zM195.0 203.0h4.0v2.1h-4.0zM247.3 203.0h2.0v2.1h-2.0zM257.0 203.0h2.0v2.1h-2.0zM289.0 203.0h2.2v2.1h-2.2zM293.1 203.0h2.2v2.1h-2.2zM303.4 203.0h2.2v2.1h-2.2zM317.8 203.0h2.2v2.1h-2.2zM346.7 203.0h2.2v2.1h-2.2zM369.3 203.0h4.2v2.1h-4.2zM383.7 203.0h2.2v2.1h-2.2zM433.1 203.0h2.2v2.1h-2.2zM441.4 203.0h2.2v2.1h-2.2zM204.7 205.0h2.0v2.1h-2.0zM210.5 205.0h2.0v2.1h-2.0zM466.1 205.0h2.2v2.1h-2.2zM177.6 207.0h2.0v2.1h-2.0zM191.1 207.0h2.0v2.1h-2.0zM204.7 207.0h2.0v2.1h-2.0zM266.6 207.0h2.0v2.1h-2.0zM185.3 209.0h2.0v2.1h-2.0zM195.0 209.0h4.0v2.1h-4.0zM200.8 209.0h2.0v2.1h-2.0zM231.8 209.0h5.9v2.1h-5.9zM245.3 209.0h2.0v2.1h-2.0zM262.8 209.0h2.0v2.1h-2.0zM268.6 209.0h2.0v2.1h-2.0zM459.9 209.0h2.2v2.1h-2.2zM189.2 211.0h2.0v2.1h-2.0zM247.3 211.0h2.0v2.1h-2.0zM253.1 211.0h2.0v2.1h-2.0zM262.8 211.0h2.0v2.1h-2.0zM270.5 211.0h2.2v2.1h-2.2zM287.0 211.0h4.2v2.1h-4.2zM334.3 211.0h2.2v2.1h-2.2zM340.5 211.0h2.2v2.1h-2.2zM375.5 211.0h2.2v2.1h-2.2zM418.7 211.0h2.2v2.1h-2.2zM422.8 211.0h4.2v2.1h-4.2zM429.0 211.0h2.2v2.1h-2.2zM365.2 213.0h2.2v2.1h-2.2zM375.5 213.0h2.2v2.1h-2.2zM429.0 213.0h2.2v2.1h-2.2zM204.7 215.0h2.0v2.1h-2.0zM334.3 215.0h2.2v2.1h-2.2zM459.9 215.0h2.2v2.1h-2.2zM212.4 217.0h2.0v2.1h-2.0zM224.1 217.0h2.0v2.1h-2.0zM229.9 217.0h2.0v2.1h-2.0zM348.7 217.0h2.2v2.1h-2.2zM383.7 217.0h2.2v2.1h-2.2zM441.4 217.0h2.2v2.1h-2.2zM451.7 217.0h2.2v2.1h-2.2zM289.0 219.0h2.2v2.1h-2.2zM429.0 219.0h2.2v2.1h-2.2zM443.4 219.0h2.2v2.1h-2.2zM336.4 221.0h2.2v2.1h-2.2zM354.9 221.0h2.2v2.1h-2.2zM422.8 221.0h2.2v2.1h-2.2zM433.1 221.0h2.2v2.1h-2.2zM227.9 223.0h2.0v2.1h-2.0zM332.3 223.0h2.2v2.1h-2.2zM340.5 223.0h2.2v2.1h-2.2zM429.0 223.0h6.3v2.1h-6.3zM274.6 225.0h2.2v2.1h-2.2zM328.1 225.0h2.2v2.1h-2.2zM468.1 225.0h2.2v2.1h-2.2zM278.7 227.0h2.2v2.1h-2.2zM313.7 227.0h2.2v2.1h-2.2zM317.8 227.0h2.2v2.1h-2.2zM375.5 227.0h2.2v2.1h-2.2zM441.4 227.0h2.2v2.1h-2.2zM459.9 227.0h2.2v2.1h-2.2zM224.1 229.0h2.0v2.1h-2.0zM324.0 229.0h2.2v2.1h-2.2zM365.2 229.0h2.2v2.1h-2.2zM427.0 229.0h4.2v2.1h-4.2zM443.4 229.0h4.2v2.1h-4.2zM451.7 229.0h4.2v2.1h-4.2zM274.6 231.0h2.2v2.1h-2.2zM326.1 231.0h2.2v2.1h-2.2zM334.3 231.0h2.2v2.1h-2.2zM346.7 231.0h2.2v2.1h-2.2zM350.8 231.0h2.2v2.1h-2.2zM406.4 231.0h2.2v2.1h-2.2zM455.8 231.0h2.2v2.1h-2.2zM270.5 233.0h2.2v2.1h-2.2zM326.1 233.0h2.2v2.1h-2.2zM340.5 233.0h2.2v2.1h-2.2zM274.6 235.0h2.2v2.1h-2.2z"/>
<path fill="#021602" d="M195.0 92.8h4.0v2.1h-4.0zM200.8 92.8h2.0v2.1h-2.0zM204.7 92.8h2.0v2.1h-2.0zM212.4 92.8h2.0v2.1h-2.0zM262.8 92.8h4.0v2.1h-4.0zM268.6 92.8h2.0v2.1h-2.0zM319.9 92.8h2.2v2.1h-2.2zM332.3 92.8h2.2v2.1h-2.2zM385.8 92.8h2.2v2.1h-2.2zM404.3 92.8h2.2v2.1h-2.2zM412.5 92.8h2.2v2.1h-2.2zM459.9 92.8h2.2v2.1h-2.2zM478.4 92.8h2.2v2.1h-2.2zM191.1 94.8h2.0v2.1h-2.0zM195.0 94.8h2.0v2.1h-2.0zM198.9 94.8h2.0v2.1h-2.0zM206.6 94.8h2.0v2.1h-2.0zM253.1 94.8h2.0v2.1h-2.0zM328.1 94.8h2.2v2.1h-2.2zM373.4 94.8h2.2v2.1h-2.2zM420.8 94.8h2.2v2.1h-2.2zM474.3 94.8h2.2v2.1h-2.2zM191.1 96.8h2.0v2.1h-2.0zM195.0 96.8h4.0v2.1h-4.0zM208.6 96.8h4.0v2.1h-4.0zM220.2 96.8h2.0v2.1h-2.0zM239.5 96.8h2.0v2.1h-2.0zM257.0 96.8h2.0v2.1h-2.0zM311.7 96.8h2.2v2.1h-2.2zM324.0 96.8h2.2v2.1h-2.2zM328.1 96.8h2.2v2.1h-2.2zM352.8 96.8h6.3v2.1h-6.3zM375.5 96.8h2.2v2.1h-2.2zM389.9 96.8h4.2v2.1h-4.2zM398.1 96.8h4.2v2.1h-4.2zM418.7 96.8h2.2v2.1h-2.2zM437.3 96.8h2.2v2.1h-2.2zM443.4 96.8h4.2v2.1h-4.2zM195.0 98.8h2.0v2.1h-2.0zM200.8 98.8h2.0v2.1h-2.0zM204.7 98.8h2.0v2.1h-2.0zM216.3 98.8h2.0v2.1h-2.0zM226.0 98.8h2.0v2.1h-2.0zM241.5 98.8h2.0v2.1h-2.0zM311.7 98.8h2.2v2.1h-2.2zM317.8 98.8h2.2v2.1h-2.2zM322.0 98.8h2.2v2.1h-2.2zM326.1 98.8h2.2v2.1h-2.2zM439.3 98.8h2.2v2.1h-2.2zM443.4 98.8h2.2v2.1h-2.2zM474.3 98.8h2.2v2.1h-2.2zM206.6 100.8h4.0v2.1h-4.0zM220.2 100.8h2.0v2.1h-2.0zM233.7 100.8h4.0v2.1h-4.0zM243.4 100.8h2.0v2.1h-2.0zM266.6 100.8h2.0v2.1h-2.0zM282.9 100.8h2.2v2.1h-2.2zM289.0 100.8h4.2v2.1h-4.2zM344.6 100.8h2.2v2.1h-2.2zM375.5 100.8h2.2v2.1h-2.2zM381.7 100.8h2.2v2.1h-2.2zM389.9 100.8h2.2v2.1h-2.2zM443.4 100.8h2.2v2.1h-2.2zM472.2 100.8h2.2v2.1h-2.2zM245.3 102.8h4.0v2.1h-4.0zM251.1 102.8h2.0v2.1h-2.0zM262.8 102.8h4.0v2.1h-4.0zM282.9 102.8h2.2v2.1h-2.2zM305.5 102.8h2.2v2.1h-2.2zM317.8 102.8h4.2v2.1h-4.2zM354.9 102.8h2.2v2.1h-2.2zM377.6 102.8h2.2v2.1h-2.2zM381.7 102.8h2.2v2.1h-2.2zM418.7 102.8h2.2v2.1h-2.2zM464.0 102.8h2.2v2.1h-2.2zM208.6 104.8h2.0v2.1h-2.0zM212.4 104.8h2.0v2.1h-2.0zM241.5 104.8h2.0v2.1h-2.0zM260.8 104.8h2.0v2.1h-2.0zM284.9 104.8h2.2v2.1h-2.2zM352.8 104.8h2.2v2.1h-2.2zM371.4 104.8h6.3v2.1h-6.3zM424.9 104.8h2.2v2.1h-2.2zM464.0 104.8h2.2v2.1h-2.2zM468.1 104.8h2.2v2.1h-2.2zM179.5 106.8h2.0v2.1h-2.0zM195.0 106.8h2.0v2.1h-2.0zM210.5 106.8h2.0v2.1h-2.0zM214.4 106.8h2.0v2.1h-2.0zM241.5 106.8h2.0v2.1h-2.0zM274.6 106.8h2.2v2.1h-2.2zM280.8 106.8h4.2v2.1h-4.2zM354.9 106.8h6.3v2.1h-6.3zM464.0 106.8h6.3v2.1h-6.3zM200.8 108.8h2.0v2.1h-2.0zM239.5 108.8h2.0v2.1h-2.0zM243.4 108.8h2.0v2.1h-2.0zM253.1 108.8h2.0v2.1h-2.0zM464.0 108.8h2.2v2.1h-2.2zM204.7 110.8h2.0v2.1h-2.0zM253.1 110.8h2.0v2.1h-2.0zM257.0 110.8h2.0v2.1h-2.0zM266.6 110.8h2.0v2.1h-2.0zM272.6 110.8h2.2v2.1h-2.2zM332.3 110.8h2.2v2.1h-2.2zM181.5 112.8h2.0v2.1h-2.0zM193.1 112.8h4.0v2.1h-4.0zM200.8 112.8h2.0v2.1h-2.0zM204.7 112.8h2.0v2.1h-2.0zM212.4 112.8h2.0v2.1h-2.0zM218.2 112.8h2.0v2.1h-2.0zM226.0 112.8h4.0v2.1h-4.0zM272.6 112.8h2.2v2.1h-2.2zM278.7 112.8h2.2v2.1h-2.2zM287.0 112.8h2.2v2.1h-2.2zM303.4 112.8h2.2v2.1h-2.2zM307.6 112.8h4.2v2.1h-4.2zM313.7 112.8h2.2v2.1h-2.2zM412.5 112.8h2.2v2.1h-2.2zM433.1 112.8h2.2v2.1h-2.2zM437.3 112.8h2.2v2.1h-2.2zM451.7 112.8h4.2v2.1h-4.2zM464.0 112.8h2.2v2.1h-2.2zM183.4 114.8h4.0v2.1h-4.0zM193.1 114.8h2.0v2.1h-2.0zM198.9 114.8h4.0v2.1h-4.0zM212.4 114.8h2.0v2.1h-2.0zM220.2 114.8h2.0v2.1h-2.0zM224.1 114.8h2.0v2.1h-2.0zM227.9 114.8h4.0v2.1h-4.0zM249.2 114.8h2.0v2.1h-2.0zM287.0 114.8h2.2v2.1h-2.2zM319.9 114.8h2.2v2.1h-2.2zM340.5 114.8h2.2v2.1h-2.2zM352.8 114.8h2.2v2.1h-2.2zM451.7 114.8h2.2v2.1h-2.2zM179.5 116.8h2.0v2.1h-2.0zM198.9 116.8h2.0v2.1h-2.0zM235.7 116.8h2.0v2.1h-2.0zM243.4 116.8h2.0v2.1h-2.0zM272.6 116.8h4.2v2.1h-4.2zM315.8 116.8h2.2v2.1h-2.2zM338.4 116.8h4.2v2.1h-4.2zM371.4 116.8h2.2v2.1h-2.2zM377.6 116.8h2.2v2.1h-2.2zM385.8 116.8h4.2v2.1h-4.2zM420.8 116.8h2.2v2.1h-2.2zM451.7 116.8h2.2v2.1h-2.2zM455.8 116.8h2.2v2.1h-2.2zM470.2 116.8h2.2v2.1h-2.2zM478.4 116.8h2.2v2.1h-2.2zM241.5 118.8h2.0v2.1h-2.0zM253.1 118.8h4.0v2.1h-4.0zM270.5 118.8h2.2v2.1h-2.2zM307.6 118.8h2.2v2.1h-2.2zM319.9 118.8h2.2v2.1h-2.2zM344.6 118.8h2.2v2.1h-2.2zM348.7 118.8h2.2v2.1h-2.2zM451.7 118.8h2.2v2.1h-2.2zM210.5 120.8h2.0v2.1h-2.0zM295.2 120.8h4.2v2.1h-4.2zM309.6 120.8h2.2v2.1h-2.2zM319.9 120.8h4.2v2.1h-4.2zM332.3 120.8h2.2v2.1h-2.2zM340.5 120.8h2.2v2.1h-2.2zM346.7 120.8h2.2v2.1h-2.2zM350.8 120.8h2.2v2.1h-2.2zM363.1 120.8h4.2v2.1h-4.2zM375.5 120.8h2.2v2.1h-2.2zM408.4 120.8h2.2v2.1h-2.2zM443.4 120.8h2.2v2.1h-2.2zM466.1 120.8h2.2v2.1h-2.2zM476.4 120.8h2.2v2.1h-2.2zM278.7 122.8h2.2v2.1h-2.2zM282.9 122.8h2.2v2.1h-2.2zM322.0 122.8h2.2v2.1h-2.2zM363.1 122.8h2.2v2.1h-2.2zM381.7 122.8h2.2v2.1h-2.2zM404.3 122.8h2.2v2.1h-2.2zM445.5 122.8h2.2v2.1h-2.2zM449.6 122.8h2.2v2.1h-2.2zM466.1 122.8h2.2v2.1h-2.2zM482.5 122.8h2.2v2.1h-2.2zM191.1 124.8h2.0v2.1h-2.0zM224.1 124.8h2.0v2.1h-2.0zM239.5 124.8h2.0v2.1h-2.0zM249.2 124.8h2.0v2.1h-2.0zM255.0 124.8h2.0v2.1h-2.0zM262.8 124.8h2.0v2.1h-2.0zM270.5 124.8h2.2v2.1h-2.2zM284.9 124.8h2.2v2.1h-2.2zM291.1 124.8h2.2v2.1h-2.2zM303.4 124.8h2.2v2.1h-2.2zM324.0 124.8h2.2v2.1h-2.2zM330.2 124.8h2.2v2.1h-2.2zM354.9 124.8h2.2v2.1h-2.2zM369.3 124.8h4.2v2.1h-4.2zM427.0 124.8h2.2v2.1h-2.2zM453.7 124.8h2.2v2.1h-2.2zM197.0 126.8h4.0v2.1h-4.0zM224.1 126.8h2.0v2.1h-2.0zM233.7 126.8h2.0v2.1h-2.0zM241.5 126.8h4.0v2.1h-4.0zM272.6 126.8h2.2v2.1h-2.2zM305.5 126.8h2.2v2.1h-2.2zM363.1 126.8h2.2v2.1h-2.2zM435.2 126.8h2.2v2.1h-2.2zM439.3 126.8h2.2v2.1h-2.2zM287.0 128.8h2.2v2.1h-2.2zM291.1 128.8h2.2v2.1h-2.2zM354.9 128.8h2.2v2.1h-2.2zM359.0 128.8h2.2v2.1h-2.2zM369.3 128.8h2.2v2.1h-2.2zM385.8 128.8h2.2v2.1h-2.2zM396.1 128.8h2.2v2.1h-2.2zM404.3 128.8h2.2v2.1h-2.2zM416.7 128.8h2.2v2.1h-2.2zM420.8 128.8h2.2v2.1h-2.2zM459.9 128.8h2.2v2.1h-2.2zM464.0 128.8h2.2v2.1h-2.2zM470.2 128.8h2.2v2.1h-2.2zM185.3 130.9h2.0v2.1h-2.0zM305.5 130.9h2.2v2.1h-2.2zM324.0 130.9h2.2v2.1h-2.2zM359.0 130.9h2.2v2.1h-2.2zM377.6 130.9h8.3v2.1h-8.3zM392.0 130.9h2.2v2.1h-2.2zM441.4 130.9h2.2v2.1h-2.2zM451.7 130.9h2.2v2.1h-2.2zM478.4 130.9h2.2v2.1h-2.2zM214.4 132.9h2.0v2.1h-2.0zM255.0 132.9h2.0v2.1h-2.0zM272.6 132.9h2.2v2.1h-2.2zM307.6 132.9h4.2v2.1h-4.2zM328.1 132.9h2.2v2.1h-2.2zM346.7 132.9h2.2v2.1h-2.2zM363.1 132.9h2.2v2.1h-2.2zM377.6 132.9h2.2v2.1h-2.2zM396.1 132.9h2.2v2.1h-2.2zM408.4 132.9h2.2v2.1h-2.2zM431.1 132.9h2.2v2.1h-2.2zM445.5 132.9h2.2v2.1h-2.2zM482.5 132.9h2.2v2.1h-2.2zM202.8 134.9h2.0v2.1h-2.0zM270.5 134.9h2.2v2.1h-2.2zM274.6 134.9h2.2v2.1h-2.2zM291.1 134.9h4.2v2.1h-4.2zM299.3 134.9h2.2v2.1h-2.2zM305.5 134.9h2.2v2.1h-2.2zM309.6 134.9h2.2v2.1h-2.2zM324.0 134.9h2.2v2.1h-2.2zM346.7 134.9h2.2v2.1h-2.2zM365.2 134.9h2.2v2.1h-2.2zM373.4 134.9h2.2v2.1h-2.2zM451.7 134.9h2.2v2.1h-2.2zM459.9 134.9h2.2v2.1h-2.2zM480.5 134.9h4.2v2.1h-4.2zM224.1 136.9h4.0v2.1h-4.0zM229.9 136.9h2.0v2.1h-2.0zM243.4 136.9h2.0v2.1h-2.0zM270.5 136.9h2.2v2.1h-2.2zM276.7 136.9h2.2v2.1h-2.2zM280.8 136.9h2.2v2.1h-2.2zM284.9 136.9h2.2v2.1h-2.2zM352.8 136.9h2.2v2.1h-2.2zM371.4 136.9h2.2v2.1h-2.2zM381.7 136.9h2.2v2.1h-2.2zM385.8 136.9h2.2v2.1h-2.2zM392.0 136.9h2.2v2.1h-2.2zM412.5 136.9h2.2v2.1h-2.2zM197.0 138.9h2.0v2.1h-2.0zM208.6 138.9h2.0v2.1h-2.0zM216.3 138.9h2.0v2.1h-2.0zM227.9 138.9h2.0v2.1h-2.0zM251.1 138.9h2.0v2.1h-2.0zM280.8 138.9h2.2v2.1h-2.2zM344.6 138.9h2.2v2.1h-2.2zM354.9 138.9h6.3v2.1h-6.3zM377.6 138.9h2.2v2.1h-2.2zM402.3 138.9h2.2v2.1h-2.2zM466.1 138.9h2.2v2.1h-2.2zM470.2 138.9h2.2v2.1h-2.2zM220.2 140.9h4.0v2.1h-4.0zM278.7 140.9h2.2v2.1h-2.2zM338.4 140.9h2.2v2.1h-2.2zM352.8 140.9h2.2v2.1h-2.2zM396.1 140.9h4.2v2.1h-4.2zM439.3 140.9h2.2v2.1h-2.2zM459.9 140.9h2.2v2.1h-2.2zM470.2 140.9h2.2v2.1h-2.2zM177.6 142.9h2.0v2.1h-2.0zM216.3 142.9h2.0v2.1h-2.0zM220.2 142.9h2.0v2.1h-2.0zM227.9 142.9h2.0v2.1h-2.0zM280.8 142.9h2.2v2.1h-2.2zM398.1 142.9h2.2v2.1h-2.2zM185.3 144.9h2.0v2.1h-2.0zM284.9 144.9h2.2v2.1h-2.2zM291.1 144.9h4.2v2.1h-4.2zM303.4 144.9h2.2v2.1h-2.2zM338.4 144.9h2.2v2.1h-2.2zM359.0 144.9h2.2v2.1h-2.2zM451.7 144.9h2.2v2.1h-2.2zM455.8 144.9h2.2v2.1h-2.2zM470.2 144.9h2.2v2.1h-2.2zM280.8 146.9h2.2v2.1h-2.2zM293.1 146.9h2.2v2.1h-2.2zM350.8 146.9h2.2v2.1h-2.2zM357.0 146.9h2.2v2.1h-2.2zM398.1 146.9h2.2v2.1h-2.2zM451.7 146.9h2.2v2.1h-2.2zM468.1 146.9h2.2v2.1h-2.2zM474.3 146.9h2.2v2.1h-2.2zM280.8 148.9h2.2v2.1h-2.2zM287.0 148.9h2.2v2.1h-2.2zM293.1 148.9h2.2v2.1h-2.2zM297.3 148.9h2.2v2.1h-2.2zM303.4 148.9h2.2v2.1h-2.2zM315.8 148.9h2.2v2.1h-2.2zM324.0 148.9h2.2v2.1h-2.2zM330.2 148.9h2.2v2.1h-2.2zM338.4 148.9h6.3v2.1h-6.3zM346.7 148.9h6.3v2.1h-6.3zM354.9 148.9h2.2v2.1h-2.2zM398.1 148.9h2.2v2.1h-2.2zM406.4 148.9h4.2v2.1h-4.2zM414.6 148.9h2.2v2.1h-2.2zM445.5 148.9h2.2v2.1h-2.2zM482.5 148.9h2.2v2.1h-2.2zM278.7 150.9h2.2v2.1h-2.2zM284.9 150.9h4.2v2.1h-4.2zM293.1 150.9h2.2v2.1h-2.2zM297.3 150.9h2.2v2.1h-2.2zM313.7 150.9h2.2v2.1h-2.2zM317.8 150.9h2.2v2.1h-2.2zM326.1 150.9h4.2v2.1h-4.2zM350.8 150.9h2.2v2.1h-2.2zM385.8 150.9h2.2v2.1h-2.2zM412.5 150.9h2.2v2.1h-2.2zM468.1 150.9h2.2v2.1h-2.2zM218.2 152.9h2.0v2.1h-2.0zM224.1 152.9h2.0v2.1h-2.0zM280.8 152.9h2.2v2.1h-2.2zM284.9 152.9h2.2v2.1h-2.2zM299.3 152.9h2.2v2.1h-2.2zM311.7 152.9h4.2v2.1h-4.2zM385.8 152.9h2.2v2.1h-2.2zM408.4 152.9h4.2v2.1h-4.2zM416.7 152.9h2.2v2.1h-2.2zM420.8 152.9h2.2v2.1h-2.2zM437.3 152.9h4.2v2.1h-4.2zM179.5 154.9h2.0v2.1h-2.0zM214.4 154.9h2.0v2.1h-2.0zM224.1 154.9h2.0v2.1h-2.0zM241.5 154.9h2.0v2.1h-2.0zM260.8 154.9h2.0v2.1h-2.0zM264.7 154.9h2.0v2.1h-2.0zM270.5 154.9h2.2v2.1h-2.2zM301.4 154.9h2.2v2.1h-2.2zM313.7 154.9h2.2v2.1h-2.2zM328.1 154.9h2.2v2.1h-2.2zM387.8 154.9h2.2v2.1h-2.2zM408.4 154.9h2.2v2.1h-2.2zM422.8 154.9h2.2v2.1h-2.2zM429.0 154.9h2.2v2.1h-2.2zM437.3 154.9h2.2v2.1h-2.2zM270.5 156.9h2.2v2.1h-2.2zM303.4 156.9h2.2v2.1h-2.2zM315.8 156.9h2.2v2.1h-2.2zM354.9 156.9h4.2v2.1h-4.2zM476.4 156.9h2.2v2.1h-2.2zM280.8 158.9h2.2v2.1h-2.2zM284.9 158.9h2.2v2.1h-2.2zM338.4 158.9h4.2v2.1h-4.2zM381.7 158.9h2.2v2.1h-2.2zM429.0 158.9h2.2v2.1h-2.2zM480.5 158.9h2.2v2.1h-2.2zM187.3 160.9h2.0v2.1h-2.0zM195.0 160.9h2.0v2.1h-2.0zM198.9 160.9h4.0v2.1h-4.0zM204.7 160.9h4.0v2.1h-4.0zM224.1 160.9h2.0v2.1h-2.0zM255.0 160.9h2.0v2.1h-2.0zM258.9 160.9h2.0v2.1h-2.0zM328.1 160.9h2.2v2.1h-2.2zM464.0 160.9h2.2v2.1h-2.2zM218.2 162.9h2.0v2.1h-2.0zM224.1 162.9h2.0v2.1h-2.0zM239.5 162.9h2.0v2.1h-2.0zM255.0 162.9h4.0v2.1h-4.0zM268.6 162.9h2.0v2.1h-2.0zM365.2 162.9h4.2v2.1h-4.2zM377.6 162.9h2.2v2.1h-2.2zM466.1 162.9h2.2v2.1h-2.2zM198.9 164.9h2.0v2.1h-2.0zM251.1 164.9h4.0v2.1h-4.0zM257.0 164.9h2.0v2.1h-2.0zM264.7 164.9h2.0v2.1h-2.0zM301.4 164.9h2.2v2.1h-2.2zM311.7 164.9h2.2v2.1h-2.2zM365.2 164.9h2.2v2.1h-2.2zM437.3 164.9h4.2v2.1h-4.2zM464.0 164.9h4.2v2.1h-4.2zM181.5 166.9h2.0v2.1h-2.0zM185.3 166.9h4.0v2.1h-4.0zM197.0 166.9h2.0v2.1h-2.0zM204.7 166.9h2.0v2.1h-2.0zM218.2 166.9h2.0v2.1h-2.0zM224.1 166.9h2.0v2.1h-2.0zM231.8 166.9h2.0v2.1h-2.0zM237.6 166.9h2.0v2.1h-2.0zM245.3 166.9h2.0v2.1h-2.0zM257.0 166.9h2.0v2.1h-2.0zM266.6 166.9h2.0v2.1h-2.0zM311.7 166.9h2.2v2.1h-2.2zM359.0 166.9h4.2v2.1h-4.2zM367.3 166.9h4.2v2.1h-4.2zM424.9 166.9h2.2v2.1h-2.2zM441.4 166.9h2.2v2.1h-2.2zM453.7 166.9h2.2v2.1h-2.2zM464.0 166.9h2.2v2.1h-2.2zM181.5 168.9h2.0v2.1h-2.0zM193.1 168.9h4.0v2.1h-4.0zM208.6 168.9h2.0v2.1h-2.0zM220.2 168.9h2.0v2.1h-2.0zM245.3 168.9h2.0v2.1h-2.0zM257.0 168.9h2.0v2.1h-2.0zM322.0 168.9h2.2v2.1h-2.2zM389.9 168.9h2.2v2.1h-2.2zM398.1 168.9h2.2v2.1h-2.2zM427.0 168.9h2.2v2.1h-2.2zM472.2 168.9h2.2v2.1h-2.2zM478.4 168.9h2.2v2.1h-2.2zM177.6 170.9h2.0v2.1h-2.0zM181.5 170.9h2.0v2.1h-2.0zM212.4 170.9h2.0v2.1h-2.0zM255.0 170.9h2.0v2.1h-2.0zM262.8 170.9h4.0v2.1h-4.0zM322.0 170.9h2.2v2.1h-2.2zM326.1 170.9h4.2v2.1h-4.2zM375.5 170.9h2.2v2.1h-2.2zM383.7 170.9h2.2v2.1h-2.2zM429.0 170.9h2.2v2.1h-2.2zM181.5 172.9h2.0v2.1h-2.0zM197.0 172.9h4.0v2.1h-4.0zM226.0 172.9h2.0v2.1h-2.0zM235.7 172.9h2.0v2.1h-2.0zM293.1 172.9h2.2v2.1h-2.2zM297.3 172.9h2.2v2.1h-2.2zM309.6 172.9h2.2v2.1h-2.2zM313.7 172.9h2.2v2.1h-2.2zM332.3 172.9h2.2v2.1h-2.2zM350.8 172.9h2.2v2.1h-2.2zM354.9 172.9h8.3v2.1h-8.3zM383.7 172.9h2.2v2.1h-2.2zM398.1 172.9h2.2v2.1h-2.2zM466.1 172.9h2.2v2.1h-2.2zM177.6 174.9h2.0v2.1h-2.0zM187.3 174.9h2.0v2.1h-2.0zM247.3 174.9h2.0v2.1h-2.0zM251.1 174.9h2.0v2.1h-2.0zM282.9 174.9h2.2v2.1h-2.2zM303.4 174.9h2.2v2.1h-2.2zM389.9 174.9h2.2v2.1h-2.2zM189.2 176.9h2.0v2.1h-2.0zM195.0 176.9h2.0v2.1h-2.0zM206.6 176.9h2.0v2.1h-2.0zM247.3 176.9h2.0v2.1h-2.0zM260.8 176.9h2.0v2.1h-2.0zM278.7 176.9h2.2v2.1h-2.2zM193.1 178.9h2.0v2.1h-2.0zM197.0 178.9h2.0v2.1h-2.0zM220.2 178.9h4.0v2.1h-4.0zM251.1 178.9h2.0v2.1h-2.0zM255.0 178.9h2.0v2.1h-2.0zM291.1 178.9h6.3v2.1h-6.3zM301.4 178.9h2.2v2.1h-2.2zM326.1 178.9h2.2v2.1h-2.2zM334.3 178.9h2.2v2.1h-2.2zM350.8 178.9h2.2v2.1h-2.2zM357.0 178.9h2.2v2.1h-2.2zM373.4 178.9h2.2v2.1h-2.2zM379.6 178.9h2.2v2.1h-2.2zM385.8 178.9h2.2v2.1h-2.2zM255.0 180.9h4.0v2.1h-4.0zM260.8 180.9h2.0v2.1h-2.0zM276.7 180.9h2.2v2.1h-2.2zM324.0 180.9h4.2v2.1h-4.2zM381.7 180.9h4.2v2.1h-4.2zM392.0 180.9h2.2v2.1h-2.2zM466.1 180.9h2.2v2.1h-2.2zM233.7 182.9h2.0v2.1h-2.0zM237.6 182.9h4.0v2.1h-4.0zM243.4 182.9h2.0v2.1h-2.0zM253.1 182.9h2.0v2.1h-2.0zM287.0 182.9h2.2v2.1h-2.2zM293.1 182.9h2.2v2.1h-2.2zM348.7 182.9h2.2v2.1h-2.2zM354.9 182.9h2.2v2.1h-2.2zM385.8 182.9h2.2v2.1h-2.2zM408.4 182.9h2.2v2.1h-2.2zM429.0 182.9h2.2v2.1h-2.2zM476.4 182.9h2.2v2.1h-2.2zM191.1 184.9h2.0v2.1h-2.0zM276.7 184.9h2.2v2.1h-2.2zM330.2 184.9h2.2v2.1h-2.2zM348.7 184.9h2.2v2.1h-2.2zM352.8 184.9h2.2v2.1h-2.2zM369.3 184.9h2.2v2.1h-2.2zM453.7 184.9h4.2v2.1h-4.2zM462.0 184.9h2.2v2.1h-2.2zM466.1 184.9h2.2v2.1h-2.2zM474.3 184.9h2.2v2.1h-2.2zM268.6 186.9h2.0v2.1h-2.0zM272.6 186.9h2.2v2.1h-2.2zM348.7 186.9h2.2v2.1h-2.2zM367.3 186.9h2.2v2.1h-2.2zM373.4 186.9h2.2v2.1h-2.2zM396.1 186.9h2.2v2.1h-2.2zM414.6 186.9h4.2v2.1h-4.2zM424.9 186.9h4.2v2.1h-4.2zM445.5 186.9h2.2v2.1h-2.2zM457.8 186.9h4.2v2.1h-4.2zM464.0 186.9h2.2v2.1h-2.2zM195.0 188.9h2.0v2.1h-2.0zM206.6 188.9h2.0v2.1h-2.0zM224.1 188.9h2.0v2.1h-2.0zM255.0 188.9h2.0v2.1h-2.0zM258.9 188.9h7.8v2.1h-7.8zM268.6 188.9h2.0v2.1h-2.0zM274.6 188.9h2.2v2.1h-2.2zM278.7 188.9h2.2v2.1h-2.2zM387.8 188.9h2.2v2.1h-2.2zM400.2 188.9h2.2v2.1h-2.2zM408.4 188.9h2.2v2.1h-2.2zM439.3 188.9h2.2v2.1h-2.2zM453.7 188.9h2.2v2.1h-2.2zM466.1 188.9h2.2v2.1h-2.2zM472.2 188.9h2.2v2.1h-2.2zM476.4 188.9h2.2v2.1h-2.2zM226.0 190.9h2.0v2.1h-2.0zM258.9 190.9h7.8v2.1h-7.8zM274.6 190.9h2.2v2.1h-2.2zM328.1 190.9h2.2v2.1h-2.2zM344.6 190.9h2.2v2.1h-2.2zM352.8 190.9h2.2v2.1h-2.2zM365.2 190.9h4.2v2.1h-4.2zM383.7 190.9h2.2v2.1h-2.2zM394.0 190.9h2.2v2.1h-2.2zM418.7 190.9h2.2v2.1h-2.2zM427.0 190.9h2.2v2.1h-2.2zM431.1 190.9h2.2v2.1h-2.2zM443.4 190.9h2.2v2.1h-2.2zM447.5 190.9h2.2v2.1h-2.2zM455.8 190.9h2.2v2.1h-2.2zM474.3 190.9h2.2v2.1h-2.2zM191.1 192.9h2.0v2.1h-2.0zM235.7 192.9h2.0v2.1h-2.0zM241.5 192.9h2.0v2.1h-2.0zM260.8 192.9h2.0v2.1h-2.0zM266.6 192.9h2.0v2.1h-2.0zM319.9 192.9h2.2v2.1h-2.2zM348.7 192.9h2.2v2.1h-2.2zM373.4 192.9h2.2v2.1h-2.2zM385.8 192.9h2.2v2.1h-2.2zM412.5 192.9h2.2v2.1h-2.2zM416.7 192.9h2.2v2.1h-2.2zM422.8 192.9h2.2v2.1h-2.2zM429.0 192.9h2.2v2.1h-2.2zM439.3 192.9h2.2v2.1h-2.2zM443.4 192.9h4.2v2.1h-4.2zM466.1 192.9h2.2v2.1h-2.2zM218.2 194.9h2.0v2.1h-2.0zM227.9 194.9h2.0v2.1h-2.0zM241.5 194.9h2.0v2.1h-2.0zM255.0 194.9h2.0v2.1h-2.0zM268.6 194.9h2.0v2.1h-2.0zM383.7 194.9h2.2v2.1h-2.2zM402.3 194.9h2.2v2.1h-2.2zM416.7 194.9h2.2v2.1h-2.2zM422.8 194.9h2.2v2.1h-2.2zM427.0 194.9h2.2v2.1h-2.2zM197.0 196.9h2.0v2.1h-2.0zM202.8 196.9h2.0v2.1h-2.0zM216.3 196.9h2.0v2.1h-2.0zM220.2 196.9h2.0v2.1h-2.0zM227.9 196.9h2.0v2.1h-2.0zM239.5 196.9h4.0v2.1h-4.0zM249.2 196.9h2.0v2.1h-2.0zM260.8 196.9h4.0v2.1h-4.0zM328.1 196.9h2.2v2.1h-2.2zM385.8 196.9h4.2v2.1h-4.2zM394.0 196.9h2.2v2.1h-2.2zM410.5 196.9h2.2v2.1h-2.2zM455.8 196.9h2.2v2.1h-2.2zM185.3 198.9h2.0v2.1h-2.0zM200.8 198.9h2.0v2.1h-2.0zM212.4 198.9h2.0v2.1h-2.0zM235.7 198.9h2.0v2.1h-2.0zM247.3 198.9h4.0v2.1h-4.0zM260.8 198.9h2.0v2.1h-2.0zM264.7 198.9h2.0v2.1h-2.0zM385.8 198.9h2.2v2.1h-2.2zM394.0 198.9h2.2v2.1h-2.2zM441.4 198.9h2.2v2.1h-2.2zM470.2 198.9h2.2v2.1h-2.2zM185.3 200.9h2.0v2.1h-2.0zM195.0 200.9h2.0v2.1h-2.0zM200.8 200.9h2.0v2.1h-2.0zM214.4 200.9h2.0v2.1h-2.0zM239.5 200.9h5.9v2.1h-5.9zM258.9 200.9h2.0v2.1h-2.0zM264.7 200.9h2.0v2.1h-2.0zM307.6 200.9h2.2v2.1h-2.2zM350.8 200.9h2.2v2.1h-2.2zM354.9 200.9h4.2v2.1h-4.2zM375.5 200.9h2.2v2.1h-2.2zM379.6 200.9h2.2v2.1h-2.2zM383.7 200.9h2.2v2.1h-2.2zM185.3 203.0h2.0v2.1h-2.0zM191.1 203.0h2.0v2.1h-2.0zM212.4 203.0h4.0v2.1h-4.0zM239.5 203.0h4.0v2.1h-4.0zM251.1 203.0h4.0v2.1h-4.0zM258.9 203.0h2.0v2.1h-2.0zM268.6 203.0h2.0v2.1h-2.0zM291.1 203.0h2.2v2.1h-2.2zM297.3 203.0h2.2v2.1h-2.2zM354.9 203.0h2.2v2.1h-2.2zM365.2 203.0h2.2v2.1h-2.2zM257.0 207.0h2.0v2.1h-2.0zM262.8 207.0h2.0v2.1h-2.0zM177.6 209.0h2.0v2.1h-2.0zM183.4 209.0h2.0v2.1h-2.0zM193.1 209.0h2.0v2.1h-2.0zM204.7 209.0h2.0v2.1h-2.0zM247.3 209.0h4.0v2.1h-4.0zM253.1 209.0h4.0v2.1h-4.0zM195.0 211.0h2.0v2.1h-2.0zM218.2 211.0h2.0v2.1h-2.0zM231.8 211.0h2.0v2.1h-2.0zM342.6 211.0h2.2v2.1h-2.2zM354.9 211.0h2.2v2.1h-2.2zM431.1 213.0h4.2v2.1h-4.2zM212.4 215.0h2.0v2.1h-2.0zM278.7 217.0h2.2v2.1h-2.2zM287.0 219.0h2.2v2.1h-2.2zM375.5 219.0h2.2v2.1h-2.2zM418.7 219.0h2.2v2.1h-2.2zM422.8 219.0h4.2v2.1h-4.2zM433.1 219.0h2.2v2.1h-2.2zM437.3 219.0h2.2v2.1h-2.2zM441.4 219.0h2.2v2.1h-2.2zM227.9 221.0h2.0v2.1h-2.0zM317.8 221.0h2.2v2.1h-2.2zM342.6 221.0h4.2v2.1h-4.2zM408.4 221.0h2.2v2.1h-2.2zM453.7 221.0h2.2v2.1h-2.2zM470.2 221.0h4.2v2.1h-4.2zM208.6 223.0h2.0v2.1h-2.0zM224.1 223.0h2.0v2.1h-2.0zM229.9 223.0h2.0v2.1h-2.0zM247.3 223.0h2.0v2.1h-2.0zM330.2 223.0h2.2v2.1h-2.2zM342.6 223.0h2.2v2.1h-2.2zM348.7 223.0h2.2v2.1h-2.2zM414.6 223.0h2.2v2.1h-2.2zM468.1 223.0h4.2v2.1h-4.2zM218.2 225.0h2.0v2.1h-2.0zM317.8 225.0h4.2v2.1h-4.2zM340.5 225.0h2.2v2.1h-2.2zM431.1 225.0h2.2v2.1h-2.2zM470.2 225.0h2.2v2.1h-2.2zM177.6 227.0h2.0v2.1h-2.0zM200.8 227.0h2.0v2.1h-2.0zM204.7 227.0h2.0v2.1h-2.0zM214.4 227.0h4.0v2.1h-4.0zM220.2 227.0h2.0v2.1h-2.0zM227.9 227.0h4.0v2.1h-4.0zM239.5 227.0h2.0v2.1h-2.0zM260.8 227.0h2.0v2.1h-2.0zM334.3 227.0h2.2v2.1h-2.2zM338.4 227.0h2.2v2.1h-2.2zM354.9 227.0h4.2v2.1h-4.2zM367.3 227.0h2.2v2.1h-2.2zM414.6 227.0h2.2v2.1h-2.2zM418.7 227.0h4.2v2.1h-4.2zM451.7 227.0h2.2v2.1h-2.2zM185.3 229.0h2.0v2.1h-2.0zM280.8 229.0h2.2v2.1h-2.2zM317.8 229.0h2.2v2.1h-2.2zM330.2 229.0h2.2v2.1h-2.2zM398.1 229.0h2.2v2.1h-2.2zM402.3 229.0h2.2v2.1h-2.2zM435.2 229.0h2.2v2.1h-2.2zM455.8 229.0h2.2v2.1h-2.2zM270.5 231.0h2.2v2.1h-2.2zM278.7 231.0h2.2v2.1h-2.2zM282.9 231.0h2.2v2.1h-2.2zM322.0 231.0h2.2v2.1h-2.2zM328.1 231.0h2.2v2.1h-2.2zM404.3 231.0h2.2v2.1h-2.2zM435.2 231.0h2.2v2.1h-2.2zM445.5 231.0h2.2v2.1h-2.2zM330.2 235.0h2.2v2.1h-2.2z"/>
<path fill="#170000" d="M179.5 92.8h4.0v2.1h-4.0zM187.3 92.8h2.0v2.1h-2.0zM214.4 92.8h2.0v2.1h-2.0zM233.7 92.8h2.0v2.1h-2.0zM237.6 92.8h2.0v2.1h-2.0zM257.0 92.8h4.0v2.1h-4.0zM266.6 92.8h2.0v2.1h-2.0zM270.5 92.8h2.2v2.1h-2.2zM293.1 92.8h2.2v2.1h-2.2zM379.6 92.8h2.2v2.1h-2.2zM470.2 92.8h2.2v2.1h-2.2zM185.3 94.8h4.0v2.1h-4.0zM202.8 94.8h2.0v2.1h-2.0zM214.4 94.8h2.0v2.1h-2.0zM229.9 94.8h2.0v2.1h-2.0zM332.3 94.8h2.2v2.1h-2.2zM422.8 94.8h6.3v2.1h-6.3zM482.5 94.8h2.2v2.1h-2.2zM179.5 96.8h2.0v2.1h-2.0zM183.4 96.8h2.0v2.1h-2.0zM189.2 96.8h2.0v2.1h-2.0zM222.1 96.8h2.0v2.1h-2.0zM226.0 96.8h2.0v2.1h-2.0zM245.3 96.8h2.0v2.1h-2.0zM262.8 96.8h5.9v2.1h-5.9zM287.0 96.8h2.2v2.1h-2.2zM322.0 96.8h2.2v2.1h-2.2zM394.0 96.8h4.2v2.1h-4.2zM451.7 96.8h2.2v2.1h-2.2zM474.3 96.8h2.2v2.1h-2.2zM179.5 98.8h2.0v2.1h-2.0zM187.3 98.8h2.0v2.1h-2.0zM197.0 98.8h2.0v2.1h-2.0zM239.5 98.8h2.0v2.1h-2.0zM245.3 98.8h2.0v2.1h-2.0zM257.0 98.8h2.0v2.1h-2.0zM350.8 98.8h2.2v2.1h-2.2zM354.9 98.8h2.2v2.1h-2.2zM195.0 100.8h2.0v2.1h-2.0zM202.8 100.8h2.0v2.1h-2.0zM218.2 100.8h2.0v2.1h-2.0zM222.1 100.8h2.0v2.1h-2.0zM226.0 100.8h2.0v2.1h-2.0zM241.5 100.8h2.0v2.1h-2.0zM284.9 100.8h4.2v2.1h-4.2zM303.4 100.8h2.2v2.1h-2.2zM313.7 100.8h2.2v2.1h-2.2zM352.8 100.8h2.2v2.1h-2.2zM459.9 100.8h2.2v2.1h-2.2zM464.0 100.8h2.2v2.1h-2.2zM185.3 102.8h2.0v2.1h-2.0zM202.8 102.8h2.0v2.1h-2.0zM214.4 102.8h2.0v2.1h-2.0zM257.0 102.8h2.0v2.1h-2.0zM260.8 102.8h2.0v2.1h-2.0zM291.1 102.8h6.3v2.1h-6.3zM301.4 102.8h2.2v2.1h-2.2zM344.6 102.8h2.2v2.1h-2.2zM350.8 102.8h2.2v2.1h-2.2zM379.6 102.8h2.2v2.1h-2.2zM445.5 102.8h2.2v2.1h-2.2zM457.8 102.8h2.2v2.1h-2.2zM193.1 104.8h2.0v2.1h-2.0zM202.8 104.8h4.0v2.1h-4.0zM210.5 104.8h2.0v2.1h-2.0zM214.4 104.8h2.0v2.1h-2.0zM224.1 104.8h2.0v2.1h-2.0zM278.7 104.8h2.2v2.1h-2.2zM459.9 104.8h2.2v2.1h-2.2zM177.6 106.8h2.0v2.1h-2.0zM181.5 106.8h2.0v2.1h-2.0zM187.3 106.8h2.0v2.1h-2.0zM218.2 106.8h2.0v2.1h-2.0zM239.5 106.8h2.0v2.1h-2.0zM257.0 106.8h2.0v2.1h-2.0zM264.7 106.8h2.0v2.1h-2.0zM268.6 106.8h2.0v2.1h-2.0zM276.7 106.8h2.2v2.1h-2.2zM330.2 106.8h2.2v2.1h-2.2zM177.6 108.8h2.0v2.1h-2.0zM183.4 108.8h2.0v2.1h-2.0zM214.4 108.8h2.0v2.1h-2.0zM218.2 108.8h2.0v2.1h-2.0zM227.9 108.8h2.0v2.1h-2.0zM268.6 108.8h4.1v2.1h-4.1zM278.7 108.8h2.2v2.1h-2.2zM284.9 108.8h2.2v2.1h-2.2zM369.3 108.8h2.2v2.1h-2.2zM466.1 108.8h2.2v2.1h-2.2zM181.5 110.8h4.0v2.1h-4.0zM200.8 110.8h4.0v2.1h-4.0zM222.1 110.8h2.0v2.1h-2.0zM239.5 110.8h2.0v2.1h-2.0zM255.0 110.8h2.0v2.1h-2.0zM258.9 110.8h2.0v2.1h-2.0zM280.8 110.8h2.2v2.1h-2.2zM319.9 110.8h2.2v2.1h-2.2zM369.3 110.8h2.2v2.1h-2.2zM408.4 110.8h2.2v2.1h-2.2zM198.9 112.8h2.0v2.1h-2.0zM229.9 112.8h2.0v2.1h-2.0zM260.8 112.8h2.0v2.1h-2.0zM268.6 112.8h2.0v2.1h-2.0zM284.9 112.8h2.2v2.1h-2.2zM317.8 112.8h2.2v2.1h-2.2zM348.7 112.8h2.2v2.1h-2.2zM445.5 112.8h2.2v2.1h-2.2zM462.0 112.8h2.2v2.1h-2.2zM466.1 112.8h2.2v2.1h-2.2zM303.4 114.8h2.2v2.1h-2.2zM375.5 114.8h2.2v2.1h-2.2zM466.1 114.8h2.2v2.1h-2.2zM183.4 116.8h2.0v2.1h-2.0zM193.1 116.8h2.0v2.1h-2.0zM197.0 116.8h2.0v2.1h-2.0zM206.6 116.8h2.0v2.1h-2.0zM222.1 116.8h2.0v2.1h-2.0zM233.7 116.8h2.0v2.1h-2.0zM266.6 116.8h2.0v2.1h-2.0zM284.9 116.8h2.2v2.1h-2.2zM301.4 116.8h2.2v2.1h-2.2zM328.1 116.8h4.2v2.1h-4.2zM379.6 116.8h2.2v2.1h-2.2zM216.3 118.8h2.0v2.1h-2.0zM222.1 118.8h2.0v2.1h-2.0zM276.7 118.8h2.2v2.1h-2.2zM293.1 118.8h2.2v2.1h-2.2zM317.8 118.8h2.2v2.1h-2.2zM326.1 118.8h2.2v2.1h-2.2zM253.1 120.8h2.0v2.1h-2.0zM270.5 120.8h4.2v2.1h-4.2zM307.6 120.8h2.2v2.1h-2.2zM326.1 120.8h2.2v2.1h-2.2zM334.3 120.8h2.2v2.1h-2.2zM342.6 120.8h2.2v2.1h-2.2zM348.7 120.8h2.2v2.1h-2.2zM359.0 120.8h2.2v2.1h-2.2zM381.7 120.8h2.2v2.1h-2.2zM208.6 122.8h2.0v2.1h-2.0zM214.4 122.8h2.0v2.1h-2.0zM218.2 122.8h4.0v2.1h-4.0zM260.8 122.8h4.0v2.1h-4.0zM270.5 122.8h2.2v2.1h-2.2zM280.8 122.8h2.2v2.1h-2.2zM284.9 122.8h2.2v2.1h-2.2zM291.1 122.8h2.2v2.1h-2.2zM297.3 122.8h2.2v2.1h-2.2zM330.2 122.8h2.2v2.1h-2.2zM340.5 122.8h2.2v2.1h-2.2zM346.7 122.8h4.2v2.1h-4.2zM385.8 122.8h2.2v2.1h-2.2zM179.5 124.8h2.0v2.1h-2.0zM218.2 124.8h2.0v2.1h-2.0zM241.5 124.8h4.0v2.1h-4.0zM253.1 124.8h2.0v2.1h-2.0zM268.6 124.8h2.0v2.1h-2.0zM272.6 124.8h2.2v2.1h-2.2zM282.9 124.8h2.2v2.1h-2.2zM289.0 124.8h2.2v2.1h-2.2zM297.3 124.8h4.2v2.1h-4.2zM309.6 124.8h2.2v2.1h-2.2zM313.7 124.8h2.2v2.1h-2.2zM344.6 124.8h2.2v2.1h-2.2zM361.1 124.8h6.3v2.1h-6.3zM381.7 124.8h4.2v2.1h-4.2zM387.8 124.8h2.2v2.1h-2.2zM394.0 124.8h2.2v2.1h-2.2zM398.1 124.8h2.2v2.1h-2.2zM404.3 124.8h2.2v2.1h-2.2zM410.5 124.8h2.2v2.1h-2.2zM424.9 124.8h2.2v2.1h-2.2zM181.5 126.8h2.0v2.1h-2.0zM191.1 126.8h2.0v2.1h-2.0zM214.4 126.8h4.0v2.1h-4.0zM227.9 126.8h4.0v2.1h-4.0zM235.7 126.8h4.0v2.1h-4.0zM251.1 126.8h4.0v2.1h-4.0zM264.7 126.8h2.0v2.1h-2.0zM278.7 126.8h6.3v2.1h-6.3zM311.7 126.8h2.2v2.1h-2.2zM326.1 126.8h2.2v2.1h-2.2zM350.8 126.8h2.2v2.1h-2.2zM369.3 126.8h2.2v2.1h-2.2zM392.0 126.8h4.2v2.1h-4.2zM402.3 126.8h2.2v2.1h-2.2zM422.8 126.8h2.2v2.1h-2.2zM453.7 126.8h2.2v2.1h-2.2zM177.6 128.8h2.0v2.1h-2.0zM187.3 128.8h2.0v2.1h-2.0zM220.2 128.8h2.0v2.1h-2.0zM227.9 128.8h2.0v2.1h-2.0zM249.2 128.8h4.0v2.1h-4.0zM266.6 128.8h2.0v2.1h-2.0zM311.7 128.8h2.2v2.1h-2.2zM367.3 128.8h2.2v2.1h-2.2zM451.7 128.8h2.2v2.1h-2.2zM466.1 128.8h4.2v2.1h-4.2zM482.5 128.8h2.2v2.1h-2.2zM249.2 130.9h2.0v2.1h-2.0zM264.7 130.9h2.0v2.1h-2.0zM268.6 130.9h2.0v2.1h-2.0zM311.7 130.9h2.2v2.1h-2.2zM322.0 130.9h2.2v2.1h-2.2zM385.8 130.9h2.2v2.1h-2.2zM422.8 130.9h2.2v2.1h-2.2zM447.5 130.9h2.2v2.1h-2.2zM206.6 132.9h2.0v2.1h-2.0zM212.4 132.9h2.0v2.1h-2.0zM218.2 132.9h2.0v2.1h-2.0zM247.3 132.9h2.0v2.1h-2.0zM253.1 132.9h2.0v2.1h-2.0zM270.5 132.9h2.2v2.1h-2.2zM278.7 132.9h2.2v2.1h-2.2zM287.0 132.9h6.3v2.1h-6.3zM301.4 132.9h2.2v2.1h-2.2zM311.7 132.9h2.2v2.1h-2.2zM348.7 132.9h2.2v2.1h-2.2zM375.5 132.9h2.2v2.1h-2.2zM451.7 132.9h2.2v2.1h-2.2zM455.8 132.9h2.2v2.1h-2.2zM480.5 132.9h2.2v2.1h-2.2zM185.3 134.9h2.0v2.1h-2.0zM272.6 134.9h2.2v2.1h-2.2zM280.8 134.9h2.2v2.1h-2.2zM289.0 134.9h2.2v2.1h-2.2zM313.7 134.9h4.2v2.1h-4.2zM319.9 134.9h2.2v2.1h-2.2zM326.1 134.9h4.2v2.1h-4.2zM332.3 134.9h2.2v2.1h-2.2zM367.3 134.9h2.2v2.1h-2.2zM375.5 134.9h2.2v2.1h-2.2zM385.8 134.9h2.2v2.1h-2.2zM193.1 136.9h2.0v2.1h-2.0zM198.9 136.9h2.0v2.1h-2.0zM210.5 136.9h2.0v2.1h-2.0zM214.4 136.9h4.0v2.1h-4.0zM239.5 136.9h2.0v2.1h-2.0zM245.3 136.9h2.0v2.1h-2.0zM253.1 136.9h2.0v2.1h-2.0zM268.6 136.9h2.0v2.1h-2.0zM272.6 136.9h4.2v2.1h-4.2zM324.0 136.9h4.2v2.1h-4.2zM354.9 136.9h2.2v2.1h-2.2zM365.2 136.9h2.2v2.1h-2.2zM383.7 136.9h2.2v2.1h-2.2zM179.5 138.9h2.0v2.1h-2.0zM193.1 138.9h2.0v2.1h-2.0zM198.9 138.9h2.0v2.1h-2.0zM204.7 138.9h2.0v2.1h-2.0zM212.4 138.9h4.0v2.1h-4.0zM218.2 138.9h2.0v2.1h-2.0zM257.0 138.9h2.0v2.1h-2.0zM276.7 138.9h2.2v2.1h-2.2zM319.9 138.9h2.2v2.1h-2.2zM324.0 138.9h2.2v2.1h-2.2zM328.1 138.9h2.2v2.1h-2.2zM336.4 138.9h2.2v2.1h-2.2zM350.8 138.9h4.2v2.1h-4.2zM363.1 138.9h2.2v2.1h-2.2zM369.3 138.9h2.2v2.1h-2.2zM387.8 138.9h2.2v2.1h-2.2zM392.0 138.9h2.2v2.1h-2.2zM468.1 138.9h2.2v2.1h-2.2zM200.8 140.9h2.0v2.1h-2.0zM218.2 140.9h2.0v2.1h-2.0zM239.5 140.9h2.0v2.1h-2.0zM311.7 140.9h2.2v2.1h-2.2zM334.3 140.9h2.2v2.1h-2.2zM357.0 140.9h2.2v2.1h-2.2zM400.2 140.9h2.2v2.1h-2.2zM422.8 140.9h2.2v2.1h-2.2zM437.3 140.9h2.2v2.1h-2.2zM239.5 142.9h2.0v2.1h-2.0zM243.4 142.9h2.0v2.1h-2.0zM272.6 142.9h4.2v2.1h-4.2zM284.9 142.9h2.2v2.1h-2.2zM293.1 142.9h2.2v2.1h-2.2zM346.7 142.9h2.2v2.1h-2.2zM352.8 142.9h2.2v2.1h-2.2zM400.2 142.9h2.2v2.1h-2.2zM424.9 142.9h2.2v2.1h-2.2zM431.1 142.9h4.2v2.1h-4.2zM437.3 142.9h2.2v2.1h-2.2zM459.9 142.9h6.3v2.1h-6.3zM468.1 142.9h2.2v2.1h-2.2zM179.5 144.9h2.0v2.1h-2.0zM253.1 144.9h2.0v2.1h-2.0zM278.7 144.9h2.2v2.1h-2.2zM289.0 144.9h2.2v2.1h-2.2zM297.3 144.9h2.2v2.1h-2.2zM301.4 144.9h2.2v2.1h-2.2zM307.6 144.9h2.2v2.1h-2.2zM350.8 144.9h2.2v2.1h-2.2zM363.1 144.9h2.2v2.1h-2.2zM367.3 144.9h2.2v2.1h-2.2zM379.6 144.9h2.2v2.1h-2.2zM400.2 144.9h2.2v2.1h-2.2zM408.4 144.9h2.2v2.1h-2.2zM422.8 144.9h4.2v2.1h-4.2zM457.8 144.9h2.2v2.1h-2.2zM462.0 144.9h2.2v2.1h-2.2zM476.4 144.9h2.2v2.1h-2.2zM324.0 146.9h2.2v2.1h-2.2zM342.6 146.9h2.2v2.1h-2.2zM365.2 146.9h4.2v2.1h-4.2zM457.8 146.9h4.2v2.1h-4.2zM255.0 148.9h2.0v2.1h-2.0zM274.6 148.9h2.2v2.1h-2.2zM307.6 148.9h4.2v2.1h-4.2zM313.7 148.9h2.2v2.1h-2.2zM328.1 148.9h2.2v2.1h-2.2zM344.6 148.9h2.2v2.1h-2.2zM352.8 148.9h2.2v2.1h-2.2zM357.0 148.9h2.2v2.1h-2.2zM404.3 148.9h2.2v2.1h-2.2zM427.0 148.9h8.3v2.1h-8.3zM457.8 148.9h2.2v2.1h-2.2zM474.3 148.9h2.2v2.1h-2.2zM255.0 150.9h2.0v2.1h-2.0zM270.5 150.9h2.2v2.1h-2.2zM289.0 150.9h2.2v2.1h-2.2zM303.4 150.9h2.2v2.1h-2.2zM307.6 150.9h2.2v2.1h-2.2zM324.0 150.9h2.2v2.1h-2.2zM338.4 150.9h2.2v2.1h-2.2zM342.6 150.9h4.2v2.1h-4.2zM354.9 150.9h2.2v2.1h-2.2zM379.6 150.9h4.2v2.1h-4.2zM404.3 150.9h2.2v2.1h-2.2zM416.7 150.9h2.2v2.1h-2.2zM429.0 150.9h2.2v2.1h-2.2zM441.4 150.9h2.2v2.1h-2.2zM459.9 150.9h2.2v2.1h-2.2zM464.0 150.9h2.2v2.1h-2.2zM474.3 150.9h2.2v2.1h-2.2zM177.6 152.9h2.0v2.1h-2.0zM208.6 152.9h7.8v2.1h-7.8zM229.9 152.9h2.0v2.1h-2.0zM241.5 152.9h2.0v2.1h-2.0zM245.3 152.9h2.0v2.1h-2.0zM253.1 152.9h2.0v2.1h-2.0zM260.8 152.9h2.0v2.1h-2.0zM268.6 152.9h2.0v2.1h-2.0zM272.6 152.9h2.2v2.1h-2.2zM276.7 152.9h2.2v2.1h-2.2zM295.2 152.9h4.2v2.1h-4.2zM326.1 152.9h2.2v2.1h-2.2zM334.3 152.9h2.2v2.1h-2.2zM338.4 152.9h2.2v2.1h-2.2zM350.8 152.9h2.2v2.1h-2.2zM354.9 152.9h2.2v2.1h-2.2zM377.6 152.9h2.2v2.1h-2.2zM414.6 152.9h2.2v2.1h-2.2zM429.0 152.9h2.2v2.1h-2.2zM441.4 152.9h2.2v2.1h-2.2zM239.5 154.9h2.0v2.1h-2.0zM258.9 154.9h2.0v2.1h-2.0zM262.8 154.9h2.0v2.1h-2.0zM284.9 154.9h4.2v2.1h-4.2zM309.6 154.9h2.2v2.1h-2.2zM322.0 154.9h2.2v2.1h-2.2zM332.3 154.9h4.2v2.1h-4.2zM340.5 154.9h2.2v2.1h-2.2zM350.8 154.9h2.2v2.1h-2.2zM354.9 154.9h2.2v2.1h-2.2zM375.5 154.9h2.2v2.1h-2.2zM379.6 154.9h2.2v2.1h-2.2zM394.0 154.9h2.2v2.1h-2.2zM398.1 154.9h2.2v2.1h-2.2zM402.3 154.9h2.2v2.1h-2.2zM410.5 154.9h2.2v2.1h-2.2zM418.7 154.9h2.2v2.1h-2.2zM427.0 154.9h2.2v2.1h-2.2zM433.1 154.9h4.2v2.1h-4.2zM459.9 154.9h2.2v2.1h-2.2zM476.4 154.9h2.2v2.1h-2.2zM482.5 154.9h2.2v2.1h-2.2zM214.4 156.9h2.0v2.1h-2.0zM220.2 156.9h2.0v2.1h-2.0zM257.0 156.9h2.0v2.1h-2.0zM328.1 156.9h2.2v2.1h-2.2zM369.3 156.9h2.2v2.1h-2.2zM379.6 156.9h8.3v2.1h-8.3zM410.5 156.9h2.2v2.1h-2.2zM414.6 156.9h4.2v2.1h-4.2zM424.9 156.9h2.2v2.1h-2.2zM433.1 156.9h2.2v2.1h-2.2zM480.5 156.9h4.2v2.1h-4.2zM193.1 158.9h2.0v2.1h-2.0zM212.4 158.9h2.0v2.1h-2.0zM235.7 158.9h2.0v2.1h-2.0zM255.0 158.9h2.0v2.1h-2.0zM373.4 158.9h2.2v2.1h-2.2zM414.6 158.9h6.3v2.1h-6.3zM466.1 158.9h4.2v2.1h-4.2zM482.5 158.9h2.2v2.1h-2.2zM191.1 160.9h2.0v2.1h-2.0zM212.4 160.9h2.0v2.1h-2.0zM260.8 160.9h2.0v2.1h-2.0zM268.6 160.9h2.0v2.1h-2.0zM371.4 160.9h2.2v2.1h-2.2zM375.5 160.9h2.2v2.1h-2.2zM383.7 160.9h2.2v2.1h-2.2zM408.4 160.9h2.2v2.1h-2.2zM424.9 160.9h2.2v2.1h-2.2zM177.6 162.9h2.0v2.1h-2.0zM198.9 162.9h2.0v2.1h-2.0zM214.4 162.9h2.0v2.1h-2.0zM262.8 162.9h2.0v2.1h-2.0zM371.4 162.9h2.2v2.1h-2.2zM424.9 162.9h2.2v2.1h-2.2zM208.6 164.9h2.0v2.1h-2.0zM224.1 164.9h2.0v2.1h-2.0zM235.7 164.9h2.0v2.1h-2.0zM317.8 164.9h2.2v2.1h-2.2zM367.3 164.9h2.2v2.1h-2.2zM375.5 164.9h2.2v2.1h-2.2zM422.8 164.9h4.2v2.1h-4.2zM214.4 166.9h2.0v2.1h-2.0zM251.1 166.9h2.0v2.1h-2.0zM260.8 166.9h4.0v2.1h-4.0zM301.4 166.9h2.2v2.1h-2.2zM328.1 166.9h2.2v2.1h-2.2zM363.1 166.9h2.2v2.1h-2.2zM379.6 166.9h2.2v2.1h-2.2zM422.8 166.9h2.2v2.1h-2.2zM437.3 166.9h2.2v2.1h-2.2zM185.3 168.9h2.0v2.1h-2.0zM191.1 168.9h2.0v2.1h-2.0zM204.7 168.9h2.0v2.1h-2.0zM216.3 168.9h2.0v2.1h-2.0zM258.9 168.9h2.0v2.1h-2.0zM268.6 168.9h2.0v2.1h-2.0zM433.1 168.9h2.2v2.1h-2.2zM441.4 168.9h2.2v2.1h-2.2zM476.4 168.9h2.2v2.1h-2.2zM185.3 170.9h2.0v2.1h-2.0zM195.0 170.9h2.0v2.1h-2.0zM257.0 170.9h2.0v2.1h-2.0zM348.7 170.9h2.2v2.1h-2.2zM363.1 172.9h2.2v2.1h-2.2zM462.0 172.9h2.2v2.1h-2.2zM482.5 172.9h2.2v2.1h-2.2zM183.4 174.9h4.0v2.1h-4.0zM235.7 174.9h4.0v2.1h-4.0zM257.0 174.9h4.0v2.1h-4.0zM385.8 174.9h2.2v2.1h-2.2zM181.5 176.9h2.0v2.1h-2.0zM187.3 176.9h2.0v2.1h-2.0zM216.3 176.9h2.0v2.1h-2.0zM220.2 176.9h2.0v2.1h-2.0zM226.0 176.9h2.0v2.1h-2.0zM231.8 176.9h2.0v2.1h-2.0zM235.7 176.9h2.0v2.1h-2.0zM262.8 176.9h2.0v2.1h-2.0zM191.1 178.9h2.0v2.1h-2.0zM202.8 178.9h2.0v2.1h-2.0zM212.4 178.9h4.0v2.1h-4.0zM233.7 178.9h2.0v2.1h-2.0zM249.2 178.9h2.0v2.1h-2.0zM253.1 178.9h2.0v2.1h-2.0zM270.5 178.9h2.2v2.1h-2.2zM274.6 178.9h2.2v2.1h-2.2zM280.8 178.9h2.2v2.1h-2.2zM354.9 178.9h2.2v2.1h-2.2zM365.2 178.9h2.2v2.1h-2.2zM218.2 180.9h2.0v2.1h-2.0zM414.6 180.9h2.2v2.1h-2.2zM482.5 180.9h2.2v2.1h-2.2zM274.6 184.9h2.2v2.1h-2.2zM282.9 184.9h2.2v2.1h-2.2zM338.4 184.9h2.2v2.1h-2.2zM342.6 184.9h4.2v2.1h-4.2zM361.1 184.9h6.3v2.1h-6.3zM379.6 184.9h2.2v2.1h-2.2zM383.7 184.9h2.2v2.1h-2.2zM392.0 184.9h4.2v2.1h-4.2zM412.5 184.9h6.3v2.1h-6.3zM435.2 184.9h2.2v2.1h-2.2zM218.2 186.9h2.0v2.1h-2.0zM270.5 186.9h2.2v2.1h-2.2zM278.7 186.9h2.2v2.1h-2.2zM284.9 186.9h2.2v2.1h-2.2zM350.8 186.9h2.2v2.1h-2.2zM383.7 186.9h2.2v2.1h-2.2zM402.3 186.9h2.2v2.1h-2.2zM433.1 186.9h2.2v2.1h-2.2zM482.5 186.9h2.2v2.1h-2.2zM227.9 188.9h2.0v2.1h-2.0zM270.5 188.9h4.2v2.1h-4.2zM319.9 188.9h4.2v2.1h-4.2zM344.6 188.9h2.2v2.1h-2.2zM379.6 188.9h2.2v2.1h-2.2zM404.3 188.9h2.2v2.1h-2.2zM416.7 188.9h6.3v2.1h-6.3zM427.0 188.9h4.2v2.1h-4.2zM435.2 188.9h2.2v2.1h-2.2zM441.4 188.9h2.2v2.1h-2.2zM447.5 188.9h2.2v2.1h-2.2zM239.5 190.9h2.0v2.1h-2.0zM243.4 190.9h2.0v2.1h-2.0zM266.6 190.9h2.0v2.1h-2.0zM280.8 190.9h2.2v2.1h-2.2zM284.9 190.9h6.3v2.1h-6.3zM319.9 190.9h2.2v2.1h-2.2zM334.3 190.9h2.2v2.1h-2.2zM392.0 190.9h2.2v2.1h-2.2zM396.1 190.9h2.2v2.1h-2.2zM404.3 190.9h2.2v2.1h-2.2zM420.8 190.9h2.2v2.1h-2.2zM439.3 190.9h2.2v2.1h-2.2zM449.6 190.9h2.2v2.1h-2.2zM459.9 190.9h2.2v2.1h-2.2zM218.2 192.9h2.0v2.1h-2.0zM282.9 192.9h4.2v2.1h-4.2zM317.8 192.9h2.2v2.1h-2.2zM328.1 192.9h2.2v2.1h-2.2zM389.9 192.9h2.2v2.1h-2.2zM398.1 192.9h2.2v2.1h-2.2zM408.4 192.9h2.2v2.1h-2.2zM420.8 192.9h2.2v2.1h-2.2zM441.4 192.9h2.2v2.1h-2.2zM179.5 194.9h2.0v2.1h-2.0zM224.1 194.9h2.0v2.1h-2.0zM332.3 194.9h2.2v2.1h-2.2zM400.2 194.9h2.2v2.1h-2.2zM404.3 194.9h2.2v2.1h-2.2zM410.5 194.9h2.2v2.1h-2.2zM433.1 194.9h2.2v2.1h-2.2zM437.3 194.9h2.2v2.1h-2.2zM443.4 194.9h2.2v2.1h-2.2zM200.8 196.9h2.0v2.1h-2.0zM206.6 196.9h4.0v2.1h-4.0zM233.7 196.9h2.0v2.1h-2.0zM266.6 196.9h2.0v2.1h-2.0zM313.7 196.9h2.2v2.1h-2.2zM324.0 196.9h2.2v2.1h-2.2zM332.3 196.9h2.2v2.1h-2.2zM342.6 196.9h2.2v2.1h-2.2zM381.7 196.9h2.2v2.1h-2.2zM396.1 196.9h2.2v2.1h-2.2zM414.6 196.9h6.3v2.1h-6.3zM431.1 196.9h2.2v2.1h-2.2zM439.3 196.9h2.2v2.1h-2.2zM449.6 196.9h2.2v2.1h-2.2zM476.4 196.9h2.2v2.1h-2.2zM181.5 198.9h2.0v2.1h-2.0zM220.2 198.9h2.0v2.1h-2.0zM255.0 198.9h4.0v2.1h-4.0zM268.6 198.9h2.0v2.1h-2.0zM311.7 198.9h2.2v2.1h-2.2zM324.0 198.9h2.2v2.1h-2.2zM344.6 198.9h4.2v2.1h-4.2zM379.6 198.9h2.2v2.1h-2.2zM387.8 198.9h4.2v2.1h-4.2zM424.9 198.9h2.2v2.1h-2.2zM466.1 198.9h4.2v2.1h-4.2zM480.5 198.9h2.2v2.1h-2.2zM181.5 200.9h2.0v2.1h-2.0zM257.0 200.9h2.0v2.1h-2.0zM260.8 200.9h2.0v2.1h-2.0zM319.9 200.9h2.2v2.1h-2.2zM348.7 200.9h2.2v2.1h-2.2zM255.0 203.0h2.0v2.1h-2.0zM177.6 205.0h2.0v2.1h-2.0zM183.4 205.0h2.0v2.1h-2.0zM212.4 205.0h2.0v2.1h-2.0zM220.2 205.0h2.0v2.1h-2.0zM185.3 207.0h4.0v2.1h-4.0zM210.5 207.0h4.0v2.1h-4.0zM218.2 207.0h2.0v2.1h-2.0zM260.8 207.0h2.0v2.1h-2.0zM268.6 207.0h2.0v2.1h-2.0zM179.5 209.0h2.0v2.1h-2.0zM220.2 209.0h2.0v2.1h-2.0zM181.5 211.0h2.0v2.1h-2.0zM187.3 211.0h2.0v2.1h-2.0zM193.1 211.0h2.0v2.1h-2.0zM216.3 211.0h2.0v2.1h-2.0zM266.6 211.0h2.0v2.1h-2.0zM381.7 211.0h2.2v2.1h-2.2zM177.6 219.0h2.0v2.1h-2.0zM191.1 219.0h2.0v2.1h-2.0zM195.0 219.0h2.0v2.1h-2.0zM235.7 219.0h2.0v2.1h-2.0zM301.4 219.0h2.2v2.1h-2.2zM344.6 219.0h2.2v2.1h-2.2zM365.2 219.0h2.2v2.1h-2.2zM377.6 219.0h4.2v2.1h-4.2zM224.1 221.0h2.0v2.1h-2.0zM229.9 221.0h2.0v2.1h-2.0zM253.1 221.0h2.0v2.1h-2.0zM272.6 221.0h2.2v2.1h-2.2zM340.5 221.0h2.2v2.1h-2.2zM352.8 221.0h2.2v2.1h-2.2zM394.0 221.0h2.2v2.1h-2.2zM455.8 221.0h4.2v2.1h-4.2zM466.1 221.0h4.2v2.1h-4.2zM474.3 221.0h2.2v2.1h-2.2zM191.1 223.0h2.0v2.1h-2.0zM253.1 223.0h4.0v2.1h-4.0zM264.7 223.0h2.0v2.1h-2.0zM272.6 223.0h2.2v2.1h-2.2zM311.7 223.0h2.2v2.1h-2.2zM319.9 223.0h6.3v2.1h-6.3zM344.6 223.0h2.2v2.1h-2.2zM350.8 223.0h2.2v2.1h-2.2zM422.8 223.0h2.2v2.1h-2.2zM445.5 223.0h2.2v2.1h-2.2zM455.8 223.0h2.2v2.1h-2.2zM464.0 223.0h4.2v2.1h-4.2zM229.9 225.0h2.0v2.1h-2.0zM241.5 225.0h2.0v2.1h-2.0zM350.8 225.0h2.2v2.1h-2.2zM357.0 225.0h2.2v2.1h-2.2zM433.1 225.0h2.2v2.1h-2.2zM459.9 225.0h2.2v2.1h-2.2zM241.5 227.0h2.0v2.1h-2.0zM268.6 227.0h2.0v2.1h-2.0zM276.7 227.0h2.2v2.1h-2.2zM280.8 227.0h2.2v2.1h-2.2zM303.4 227.0h2.2v2.1h-2.2zM307.6 227.0h4.2v2.1h-4.2zM324.0 227.0h2.2v2.1h-2.2zM346.7 227.0h2.2v2.1h-2.2zM387.8 227.0h2.2v2.1h-2.2zM410.5 227.0h4.2v2.1h-4.2zM443.4 227.0h2.2v2.1h-2.2zM464.0 227.0h2.2v2.1h-2.2zM470.2 227.0h2.2v2.1h-2.2zM239.5 229.0h2.0v2.1h-2.0zM311.7 229.0h4.2v2.1h-4.2zM354.9 229.0h4.2v2.1h-4.2zM375.5 229.0h2.2v2.1h-2.2zM379.6 229.0h2.2v2.1h-2.2zM389.9 229.0h4.2v2.1h-4.2zM404.3 229.0h4.2v2.1h-4.2zM474.3 229.0h2.2v2.1h-2.2zM231.8 231.0h2.0v2.1h-2.0zM235.7 231.0h4.0v2.1h-4.0zM241.5 231.0h2.0v2.1h-2.0zM247.3 231.0h2.0v2.1h-2.0zM276.7 231.0h2.2v2.1h-2.2zM317.8 231.0h2.2v2.1h-2.2zM330.2 231.0h2.2v2.1h-2.2zM379.6 231.0h4.2v2.1h-4.2zM427.0 231.0h4.2v2.1h-4.2zM441.4 231.0h2.2v2.1h-2.2zM451.7 231.0h2.2v2.1h-2.2zM319.9 233.0h2.2v2.1h-2.2zM272.6 235.0h2.2v2.1h-2.2zM276.7 235.0h2.2v2.1h-2.2zM317.8 235.0h6.3v2.1h-6.3zM326.1 235.0h2.2v2.1h-2.2z"/>
<path fill="#2f0101" d="M185.3 92.8h2.0v2.1h-2.0zM235.7 92.8h2.0v2.1h-2.0zM287.0 92.8h2.2v2.1h-2.2zM328.1 92.8h2.2v2.1h-2.2zM462.0 92.8h2.2v2.1h-2.2zM466.1 92.8h2.2v2.1h-2.2zM474.3 92.8h2.2v2.1h-2.2zM480.5 92.8h4.2v2.1h-4.2zM204.7 94.8h2.0v2.1h-2.0zM210.5 94.8h2.0v2.1h-2.0zM220.2 94.8h2.0v2.1h-2.0zM231.8 94.8h2.0v2.1h-2.0zM239.5 94.8h2.0v2.1h-2.0zM251.1 94.8h2.0v2.1h-2.0zM260.8 94.8h2.0v2.1h-2.0zM371.4 94.8h2.2v2.1h-2.2zM433.1 94.8h2.2v2.1h-2.2zM470.2 94.8h2.2v2.1h-2.2zM476.4 94.8h2.2v2.1h-2.2zM480.5 94.8h2.2v2.1h-2.2zM177.6 96.8h2.0v2.1h-2.0zM198.9 96.8h2.0v2.1h-2.0zM212.4 96.8h2.0v2.1h-2.0zM218.2 96.8h2.0v2.1h-2.0zM243.4 96.8h2.0v2.1h-2.0zM317.8 96.8h2.2v2.1h-2.2zM383.7 96.8h2.2v2.1h-2.2zM193.1 98.8h2.0v2.1h-2.0zM210.5 98.8h2.0v2.1h-2.0zM224.1 98.8h2.0v2.1h-2.0zM227.9 98.8h2.0v2.1h-2.0zM249.2 98.8h4.0v2.1h-4.0zM255.0 98.8h2.0v2.1h-2.0zM260.8 98.8h4.0v2.1h-4.0zM319.9 98.8h2.2v2.1h-2.2zM346.7 98.8h2.2v2.1h-2.2zM389.9 98.8h2.2v2.1h-2.2zM183.4 100.8h2.0v2.1h-2.0zM231.8 100.8h2.0v2.1h-2.0zM247.3 100.8h4.0v2.1h-4.0zM253.1 100.8h2.0v2.1h-2.0zM262.8 100.8h4.0v2.1h-4.0zM297.3 100.8h2.2v2.1h-2.2zM357.0 100.8h6.3v2.1h-6.3zM377.6 100.8h2.2v2.1h-2.2zM468.1 100.8h2.2v2.1h-2.2zM177.6 102.8h2.0v2.1h-2.0zM183.4 102.8h2.0v2.1h-2.0zM193.1 102.8h2.0v2.1h-2.0zM197.0 102.8h2.0v2.1h-2.0zM200.8 102.8h2.0v2.1h-2.0zM241.5 102.8h2.0v2.1h-2.0zM249.2 102.8h2.0v2.1h-2.0zM297.3 102.8h2.2v2.1h-2.2zM375.5 102.8h2.2v2.1h-2.2zM453.7 102.8h2.2v2.1h-2.2zM459.9 102.8h2.2v2.1h-2.2zM200.8 104.8h2.0v2.1h-2.0zM257.0 104.8h2.0v2.1h-2.0zM466.1 104.8h2.2v2.1h-2.2zM245.3 106.8h2.0v2.1h-2.0zM266.6 106.8h2.0v2.1h-2.0zM270.5 106.8h4.2v2.1h-4.2zM369.3 106.8h2.2v2.1h-2.2zM375.5 106.8h2.2v2.1h-2.2zM474.3 106.8h2.2v2.1h-2.2zM204.7 108.8h2.0v2.1h-2.0zM212.4 108.8h2.0v2.1h-2.0zM222.1 108.8h2.0v2.1h-2.0zM226.0 108.8h2.0v2.1h-2.0zM264.7 108.8h2.0v2.1h-2.0zM276.7 108.8h2.2v2.1h-2.2zM280.8 108.8h2.2v2.1h-2.2zM468.1 108.8h2.2v2.1h-2.2zM210.5 110.8h2.0v2.1h-2.0zM218.2 110.8h4.0v2.1h-4.0zM226.0 110.8h2.0v2.1h-2.0zM229.9 110.8h2.0v2.1h-2.0zM241.5 110.8h5.9v2.1h-5.9zM262.8 110.8h2.0v2.1h-2.0zM274.6 110.8h2.2v2.1h-2.2zM278.7 110.8h2.2v2.1h-2.2zM326.1 110.8h2.2v2.1h-2.2zM459.9 110.8h2.2v2.1h-2.2zM464.0 110.8h2.2v2.1h-2.2zM187.3 112.8h2.0v2.1h-2.0zM206.6 112.8h2.0v2.1h-2.0zM255.0 112.8h2.0v2.1h-2.0zM258.9 112.8h2.0v2.1h-2.0zM264.7 112.8h2.0v2.1h-2.0zM311.7 112.8h2.2v2.1h-2.2zM441.4 112.8h2.2v2.1h-2.2zM187.3 114.8h2.0v2.1h-2.0zM202.8 114.8h2.0v2.1h-2.0zM206.6 114.8h4.0v2.1h-4.0zM235.7 114.8h2.0v2.1h-2.0zM255.0 114.8h2.0v2.1h-2.0zM268.6 114.8h2.0v2.1h-2.0zM346.7 114.8h2.2v2.1h-2.2zM350.8 114.8h2.2v2.1h-2.2zM365.2 114.8h2.2v2.1h-2.2zM441.4 114.8h2.2v2.1h-2.2zM181.5 116.8h2.0v2.1h-2.0zM187.3 116.8h2.0v2.1h-2.0zM229.9 116.8h2.0v2.1h-2.0zM262.8 116.8h2.0v2.1h-2.0zM287.0 116.8h2.2v2.1h-2.2zM322.0 116.8h2.2v2.1h-2.2zM326.1 116.8h2.2v2.1h-2.2zM344.6 116.8h2.2v2.1h-2.2zM392.0 116.8h2.2v2.1h-2.2zM422.8 116.8h4.2v2.1h-4.2zM476.4 116.8h2.2v2.1h-2.2zM480.5 116.8h2.2v2.1h-2.2zM177.6 118.8h2.0v2.1h-2.0zM212.4 118.8h2.0v2.1h-2.0zM224.1 118.8h4.0v2.1h-4.0zM258.9 118.8h2.0v2.1h-2.0zM185.3 120.8h2.0v2.1h-2.0zM220.2 120.8h2.0v2.1h-2.0zM224.1 120.8h4.0v2.1h-4.0zM239.5 120.8h2.0v2.1h-2.0zM305.5 120.8h2.2v2.1h-2.2zM354.9 120.8h4.2v2.1h-4.2zM402.3 120.8h4.2v2.1h-4.2zM224.1 122.8h2.0v2.1h-2.0zM258.9 122.8h2.0v2.1h-2.0zM264.7 122.8h2.0v2.1h-2.0zM274.6 122.8h4.2v2.1h-4.2zM295.2 122.8h2.2v2.1h-2.2zM305.5 122.8h4.2v2.1h-4.2zM357.0 122.8h2.2v2.1h-2.2zM377.6 122.8h2.2v2.1h-2.2zM389.9 122.8h2.2v2.1h-2.2zM177.6 124.8h2.0v2.1h-2.0zM214.4 124.8h2.0v2.1h-2.0zM226.0 124.8h2.0v2.1h-2.0zM280.8 124.8h2.2v2.1h-2.2zM293.1 124.8h4.2v2.1h-4.2zM305.5 124.8h2.2v2.1h-2.2zM319.9 124.8h4.2v2.1h-4.2zM402.3 124.8h2.2v2.1h-2.2zM422.8 124.8h2.2v2.1h-2.2zM431.1 124.8h2.2v2.1h-2.2zM439.3 124.8h4.2v2.1h-4.2zM468.1 124.8h2.2v2.1h-2.2zM220.2 126.8h2.0v2.1h-2.0zM258.9 126.8h2.0v2.1h-2.0zM276.7 126.8h2.2v2.1h-2.2zM289.0 126.8h2.2v2.1h-2.2zM295.2 126.8h4.2v2.1h-4.2zM307.6 126.8h2.2v2.1h-2.2zM344.6 126.8h2.2v2.1h-2.2zM354.9 126.8h2.2v2.1h-2.2zM361.1 126.8h2.2v2.1h-2.2zM387.8 126.8h4.2v2.1h-4.2zM406.4 126.8h4.2v2.1h-4.2zM424.9 126.8h2.2v2.1h-2.2zM449.6 126.8h4.2v2.1h-4.2zM189.2 128.8h2.0v2.1h-2.0zM200.8 128.8h2.0v2.1h-2.0zM297.3 128.8h2.2v2.1h-2.2zM414.6 128.8h2.2v2.1h-2.2zM418.7 128.8h2.2v2.1h-2.2zM478.4 128.8h2.2v2.1h-2.2zM177.6 130.9h2.0v2.1h-2.0zM218.2 130.9h2.0v2.1h-2.0zM253.1 130.9h2.0v2.1h-2.0zM258.9 130.9h2.0v2.1h-2.0zM266.6 130.9h2.0v2.1h-2.0zM313.7 130.9h2.2v2.1h-2.2zM424.9 130.9h2.2v2.1h-2.2zM429.0 130.9h2.2v2.1h-2.2zM433.1 130.9h2.2v2.1h-2.2zM197.0 132.9h4.0v2.1h-4.0zM280.8 132.9h2.2v2.1h-2.2zM324.0 132.9h2.2v2.1h-2.2zM334.3 132.9h2.2v2.1h-2.2zM365.2 132.9h2.2v2.1h-2.2zM183.4 134.9h2.0v2.1h-2.0zM187.3 134.9h2.0v2.1h-2.0zM206.6 134.9h2.0v2.1h-2.0zM220.2 134.9h4.0v2.1h-4.0zM253.1 134.9h4.0v2.1h-4.0zM284.9 134.9h4.2v2.1h-4.2zM303.4 134.9h2.2v2.1h-2.2zM478.4 134.9h2.2v2.1h-2.2zM179.5 136.9h2.0v2.1h-2.0zM220.2 136.9h2.0v2.1h-2.0zM249.2 136.9h2.0v2.1h-2.0zM291.1 136.9h2.2v2.1h-2.2zM387.8 136.9h2.2v2.1h-2.2zM183.4 138.9h2.0v2.1h-2.0zM195.0 138.9h2.0v2.1h-2.0zM226.0 138.9h2.0v2.1h-2.0zM235.7 138.9h2.0v2.1h-2.0zM247.3 138.9h2.0v2.1h-2.0zM253.1 138.9h2.0v2.1h-2.0zM264.7 138.9h2.0v2.1h-2.0zM317.8 138.9h2.2v2.1h-2.2zM332.3 138.9h2.2v2.1h-2.2zM404.3 138.9h2.2v2.1h-2.2zM272.6 140.9h2.2v2.1h-2.2zM336.4 140.9h2.2v2.1h-2.2zM340.5 140.9h4.2v2.1h-4.2zM424.9 140.9h2.2v2.1h-2.2zM433.1 140.9h2.2v2.1h-2.2zM462.0 140.9h2.2v2.1h-2.2zM189.2 142.9h2.0v2.1h-2.0zM210.5 142.9h2.0v2.1h-2.0zM214.4 142.9h2.0v2.1h-2.0zM229.9 142.9h2.0v2.1h-2.0zM241.5 142.9h2.0v2.1h-2.0zM245.3 142.9h2.0v2.1h-2.0zM282.9 142.9h2.2v2.1h-2.2zM338.4 142.9h2.2v2.1h-2.2zM357.0 142.9h4.2v2.1h-4.2zM377.6 142.9h2.2v2.1h-2.2zM394.0 142.9h2.2v2.1h-2.2zM445.5 142.9h2.2v2.1h-2.2zM474.3 142.9h2.2v2.1h-2.2zM195.0 144.9h2.0v2.1h-2.0zM214.4 144.9h2.0v2.1h-2.0zM247.3 144.9h2.0v2.1h-2.0zM251.1 144.9h2.0v2.1h-2.0zM264.7 144.9h2.0v2.1h-2.0zM319.9 144.9h2.2v2.1h-2.2zM342.6 144.9h2.2v2.1h-2.2zM369.3 144.9h2.2v2.1h-2.2zM375.5 144.9h2.2v2.1h-2.2zM394.0 144.9h2.2v2.1h-2.2zM398.1 144.9h2.2v2.1h-2.2zM410.5 144.9h2.2v2.1h-2.2zM418.7 144.9h2.2v2.1h-2.2zM464.0 144.9h4.2v2.1h-4.2zM482.5 144.9h2.2v2.1h-2.2zM214.4 146.9h2.0v2.1h-2.0zM235.7 146.9h2.0v2.1h-2.0zM340.5 146.9h2.2v2.1h-2.2zM344.6 146.9h2.2v2.1h-2.2zM348.7 146.9h2.2v2.1h-2.2zM359.0 146.9h2.2v2.1h-2.2zM408.4 146.9h2.2v2.1h-2.2zM464.0 146.9h4.2v2.1h-4.2zM470.2 146.9h4.2v2.1h-4.2zM482.5 146.9h2.2v2.1h-2.2zM179.5 148.9h2.0v2.1h-2.0zM206.6 148.9h2.0v2.1h-2.0zM212.4 148.9h4.0v2.1h-4.0zM264.7 148.9h2.0v2.1h-2.0zM291.1 148.9h2.2v2.1h-2.2zM326.1 148.9h2.2v2.1h-2.2zM365.2 148.9h2.2v2.1h-2.2zM379.6 148.9h2.2v2.1h-2.2zM383.7 148.9h2.2v2.1h-2.2zM412.5 148.9h2.2v2.1h-2.2zM437.3 148.9h4.2v2.1h-4.2zM472.2 148.9h2.2v2.1h-2.2zM212.4 150.9h2.0v2.1h-2.0zM245.3 150.9h2.0v2.1h-2.0zM282.9 150.9h2.2v2.1h-2.2zM359.0 150.9h2.2v2.1h-2.2zM406.4 150.9h2.2v2.1h-2.2zM422.8 150.9h6.3v2.1h-6.3zM433.1 150.9h2.2v2.1h-2.2zM443.4 150.9h8.3v2.1h-8.3zM183.4 152.9h2.0v2.1h-2.0zM216.3 152.9h2.0v2.1h-2.0zM222.1 152.9h2.0v2.1h-2.0zM255.0 152.9h2.0v2.1h-2.0zM264.7 152.9h2.0v2.1h-2.0zM270.5 152.9h2.2v2.1h-2.2zM301.4 152.9h2.2v2.1h-2.2zM319.9 152.9h2.2v2.1h-2.2zM332.3 152.9h2.2v2.1h-2.2zM336.4 152.9h2.2v2.1h-2.2zM344.6 152.9h2.2v2.1h-2.2zM392.0 152.9h2.2v2.1h-2.2zM398.1 152.9h4.2v2.1h-4.2zM433.1 152.9h2.2v2.1h-2.2zM445.5 152.9h2.2v2.1h-2.2zM453.7 152.9h2.2v2.1h-2.2zM459.9 152.9h2.2v2.1h-2.2zM218.2 154.9h2.0v2.1h-2.0zM243.4 154.9h2.0v2.1h-2.0zM247.3 154.9h2.0v2.1h-2.0zM257.0 154.9h2.0v2.1h-2.0zM276.7 154.9h2.2v2.1h-2.2zM289.0 154.9h2.2v2.1h-2.2zM293.1 154.9h6.3v2.1h-6.3zM303.4 154.9h2.2v2.1h-2.2zM336.4 154.9h2.2v2.1h-2.2zM400.2 154.9h2.2v2.1h-2.2zM439.3 154.9h2.2v2.1h-2.2zM206.6 156.9h4.0v2.1h-4.0zM212.4 156.9h2.0v2.1h-2.0zM260.8 156.9h2.0v2.1h-2.0zM268.6 156.9h2.0v2.1h-2.0zM348.7 156.9h2.2v2.1h-2.2zM435.2 156.9h4.2v2.1h-4.2zM441.4 156.9h2.2v2.1h-2.2zM445.5 156.9h2.2v2.1h-2.2zM451.7 156.9h2.2v2.1h-2.2zM204.7 158.9h2.0v2.1h-2.0zM303.4 158.9h2.2v2.1h-2.2zM344.6 158.9h2.2v2.1h-2.2zM348.7 158.9h2.2v2.1h-2.2zM354.9 158.9h2.2v2.1h-2.2zM369.3 158.9h2.2v2.1h-2.2zM375.5 158.9h2.2v2.1h-2.2zM422.8 158.9h2.2v2.1h-2.2zM427.0 158.9h2.2v2.1h-2.2zM433.1 158.9h4.2v2.1h-4.2zM478.4 158.9h2.2v2.1h-2.2zM181.5 160.9h2.0v2.1h-2.0zM185.3 160.9h2.0v2.1h-2.0zM189.2 160.9h2.0v2.1h-2.0zM214.4 160.9h2.0v2.1h-2.0zM239.5 160.9h4.0v2.1h-4.0zM262.8 160.9h2.0v2.1h-2.0zM363.1 160.9h2.2v2.1h-2.2zM379.6 160.9h2.2v2.1h-2.2zM422.8 160.9h2.2v2.1h-2.2zM189.2 162.9h2.0v2.1h-2.0zM197.0 162.9h2.0v2.1h-2.0zM200.8 162.9h2.0v2.1h-2.0zM204.7 162.9h2.0v2.1h-2.0zM241.5 162.9h4.0v2.1h-4.0zM258.9 162.9h2.0v2.1h-2.0zM459.9 162.9h2.2v2.1h-2.2zM179.5 164.9h2.0v2.1h-2.0zM183.4 164.9h2.0v2.1h-2.0zM260.8 164.9h2.0v2.1h-2.0zM295.2 164.9h2.2v2.1h-2.2zM361.1 164.9h2.2v2.1h-2.2zM441.4 164.9h4.2v2.1h-4.2zM177.6 166.9h2.0v2.1h-2.0zM210.5 166.9h2.0v2.1h-2.0zM253.1 166.9h2.0v2.1h-2.0zM451.7 166.9h2.2v2.1h-2.2zM457.8 166.9h2.2v2.1h-2.2zM189.2 168.9h2.0v2.1h-2.0zM317.8 168.9h2.2v2.1h-2.2zM459.9 168.9h2.2v2.1h-2.2zM482.5 168.9h2.2v2.1h-2.2zM183.4 170.9h2.0v2.1h-2.0zM478.4 170.9h2.2v2.1h-2.2zM185.3 172.9h2.0v2.1h-2.0zM189.2 172.9h2.0v2.1h-2.0zM214.4 172.9h2.0v2.1h-2.0zM220.2 172.9h2.0v2.1h-2.0zM224.1 172.9h2.0v2.1h-2.0zM241.5 172.9h2.0v2.1h-2.0zM260.8 172.9h2.0v2.1h-2.0zM459.9 172.9h2.2v2.1h-2.2zM476.4 172.9h2.2v2.1h-2.2zM189.2 174.9h4.0v2.1h-4.0zM239.5 174.9h2.0v2.1h-2.0zM253.1 174.9h2.0v2.1h-2.0zM260.8 174.9h2.0v2.1h-2.0zM197.0 176.9h2.0v2.1h-2.0zM204.7 176.9h2.0v2.1h-2.0zM237.6 176.9h2.0v2.1h-2.0zM264.7 176.9h2.0v2.1h-2.0zM268.6 176.9h2.0v2.1h-2.0zM200.8 178.9h2.0v2.1h-2.0zM303.4 178.9h2.2v2.1h-2.2zM309.6 178.9h2.2v2.1h-2.2zM319.9 178.9h2.2v2.1h-2.2zM322.0 180.9h2.2v2.1h-2.2zM287.0 184.9h8.3v2.1h-8.3zM324.0 184.9h2.2v2.1h-2.2zM332.3 184.9h2.2v2.1h-2.2zM350.8 184.9h2.2v2.1h-2.2zM400.2 184.9h2.2v2.1h-2.2zM420.8 184.9h2.2v2.1h-2.2zM429.0 184.9h2.2v2.1h-2.2zM433.1 184.9h2.2v2.1h-2.2zM445.5 184.9h6.3v2.1h-6.3zM459.9 184.9h2.2v2.1h-2.2zM276.7 186.9h2.2v2.1h-2.2zM293.1 186.9h2.2v2.1h-2.2zM326.1 186.9h2.2v2.1h-2.2zM361.1 186.9h4.2v2.1h-4.2zM418.7 186.9h4.2v2.1h-4.2zM431.1 186.9h2.2v2.1h-2.2zM451.7 186.9h2.2v2.1h-2.2zM455.8 186.9h2.2v2.1h-2.2zM204.7 188.9h2.0v2.1h-2.0zM303.4 188.9h2.2v2.1h-2.2zM375.5 188.9h2.2v2.1h-2.2zM406.4 188.9h2.2v2.1h-2.2zM412.5 188.9h2.2v2.1h-2.2zM424.9 188.9h2.2v2.1h-2.2zM433.1 188.9h2.2v2.1h-2.2zM445.5 188.9h2.2v2.1h-2.2zM457.8 188.9h2.2v2.1h-2.2zM301.4 190.9h4.2v2.1h-4.2zM313.7 190.9h2.2v2.1h-2.2zM322.0 190.9h2.2v2.1h-2.2zM326.1 190.9h2.2v2.1h-2.2zM350.8 190.9h2.2v2.1h-2.2zM357.0 190.9h2.2v2.1h-2.2zM406.4 190.9h4.2v2.1h-4.2zM416.7 190.9h2.2v2.1h-2.2zM433.1 190.9h2.2v2.1h-2.2zM229.9 192.9h2.0v2.1h-2.0zM278.7 192.9h2.2v2.1h-2.2zM324.0 192.9h2.2v2.1h-2.2zM394.0 192.9h4.2v2.1h-4.2zM400.2 192.9h2.2v2.1h-2.2zM396.1 194.9h2.2v2.1h-2.2zM414.6 194.9h2.2v2.1h-2.2zM431.1 194.9h2.2v2.1h-2.2zM445.5 194.9h2.2v2.1h-2.2zM198.9 196.9h2.0v2.1h-2.0zM237.6 196.9h2.0v2.1h-2.0zM278.7 196.9h2.2v2.1h-2.2zM305.5 196.9h2.2v2.1h-2.2zM326.1 196.9h2.2v2.1h-2.2zM346.7 196.9h2.2v2.1h-2.2zM375.5 196.9h4.2v2.1h-4.2zM392.0 196.9h2.2v2.1h-2.2zM424.9 196.9h2.2v2.1h-2.2zM204.7 198.9h4.0v2.1h-4.0zM214.4 198.9h2.0v2.1h-2.0zM266.6 198.9h2.0v2.1h-2.0zM348.7 198.9h2.2v2.1h-2.2zM375.5 198.9h2.2v2.1h-2.2zM381.7 198.9h2.2v2.1h-2.2zM398.1 198.9h2.2v2.1h-2.2zM412.5 198.9h2.2v2.1h-2.2zM422.8 198.9h2.2v2.1h-2.2zM179.5 200.9h2.0v2.1h-2.0zM198.9 200.9h2.0v2.1h-2.0zM233.7 200.9h2.0v2.1h-2.0zM247.3 200.9h2.0v2.1h-2.0zM317.8 200.9h2.2v2.1h-2.2zM177.6 203.0h2.0v2.1h-2.0zM187.3 203.0h2.0v2.1h-2.0zM208.6 203.0h4.0v2.1h-4.0zM249.2 203.0h2.0v2.1h-2.0zM260.8 203.0h4.0v2.1h-4.0zM348.7 203.0h2.2v2.1h-2.2zM183.4 207.0h2.0v2.1h-2.0zM264.7 211.0h2.0v2.1h-2.0zM383.7 211.0h2.2v2.1h-2.2zM231.8 219.0h2.0v2.1h-2.0zM241.5 219.0h2.0v2.1h-2.0zM297.3 219.0h2.2v2.1h-2.2zM311.7 219.0h2.2v2.1h-2.2zM319.9 219.0h4.2v2.1h-4.2zM328.1 219.0h2.2v2.1h-2.2zM350.8 219.0h2.2v2.1h-2.2zM404.3 219.0h2.2v2.1h-2.2zM427.0 219.0h2.2v2.1h-2.2zM445.5 219.0h2.2v2.1h-2.2zM451.7 219.0h2.2v2.1h-2.2zM457.8 219.0h2.2v2.1h-2.2zM476.4 219.0h2.2v2.1h-2.2zM177.6 221.0h2.0v2.1h-2.0zM185.3 221.0h2.0v2.1h-2.0zM202.8 221.0h2.0v2.1h-2.0zM218.2 221.0h2.0v2.1h-2.0zM226.0 221.0h2.0v2.1h-2.0zM231.8 221.0h2.0v2.1h-2.0zM239.5 221.0h5.9v2.1h-5.9zM264.7 221.0h2.0v2.1h-2.0zM268.6 221.0h2.0v2.1h-2.0zM280.8 221.0h4.2v2.1h-4.2zM319.9 221.0h2.2v2.1h-2.2zM330.2 221.0h4.2v2.1h-4.2zM357.0 221.0h4.2v2.1h-4.2zM402.3 221.0h2.2v2.1h-2.2zM414.6 221.0h2.2v2.1h-2.2zM424.9 221.0h2.2v2.1h-2.2zM431.1 221.0h2.2v2.1h-2.2zM464.0 221.0h2.2v2.1h-2.2zM193.1 223.0h2.0v2.1h-2.0zM214.4 223.0h2.0v2.1h-2.0zM222.1 223.0h2.0v2.1h-2.0zM226.0 223.0h2.0v2.1h-2.0zM243.4 223.0h2.0v2.1h-2.0zM268.6 223.0h4.1v2.1h-4.1zM334.3 223.0h4.2v2.1h-4.2zM346.7 223.0h2.2v2.1h-2.2zM352.8 223.0h2.2v2.1h-2.2zM359.0 223.0h2.2v2.1h-2.2zM365.2 223.0h2.2v2.1h-2.2zM453.7 223.0h2.2v2.1h-2.2zM459.9 223.0h4.2v2.1h-4.2zM472.2 223.0h2.2v2.1h-2.2zM231.8 225.0h2.0v2.1h-2.0zM258.9 225.0h2.0v2.1h-2.0zM278.7 225.0h2.2v2.1h-2.2zM284.9 225.0h2.2v2.1h-2.2zM305.5 225.0h2.2v2.1h-2.2zM324.0 225.0h2.2v2.1h-2.2zM338.4 225.0h2.2v2.1h-2.2zM383.7 225.0h2.2v2.1h-2.2zM187.3 227.0h2.0v2.1h-2.0zM202.8 227.0h2.0v2.1h-2.0zM210.5 227.0h2.0v2.1h-2.0zM231.8 227.0h2.0v2.1h-2.0zM235.7 227.0h2.0v2.1h-2.0zM258.9 227.0h2.0v2.1h-2.0zM274.6 227.0h2.2v2.1h-2.2zM282.9 227.0h2.2v2.1h-2.2zM311.7 227.0h2.2v2.1h-2.2zM336.4 227.0h2.2v2.1h-2.2zM359.0 227.0h2.2v2.1h-2.2zM365.2 227.0h2.2v2.1h-2.2zM377.6 227.0h2.2v2.1h-2.2zM381.7 227.0h2.2v2.1h-2.2zM392.0 227.0h2.2v2.1h-2.2zM400.2 227.0h2.2v2.1h-2.2zM404.3 227.0h2.2v2.1h-2.2zM408.4 227.0h2.2v2.1h-2.2zM427.0 227.0h2.2v2.1h-2.2zM433.1 227.0h2.2v2.1h-2.2zM462.0 227.0h2.2v2.1h-2.2zM202.8 229.0h2.0v2.1h-2.0zM208.6 229.0h2.0v2.1h-2.0zM226.0 229.0h4.0v2.1h-4.0zM245.3 229.0h2.0v2.1h-2.0zM249.2 229.0h2.0v2.1h-2.0zM258.9 229.0h2.0v2.1h-2.0zM303.4 229.0h2.2v2.1h-2.2zM315.8 229.0h2.2v2.1h-2.2zM328.1 229.0h2.2v2.1h-2.2zM340.5 229.0h2.2v2.1h-2.2zM367.3 229.0h2.2v2.1h-2.2zM377.6 229.0h2.2v2.1h-2.2zM381.7 229.0h2.2v2.1h-2.2zM387.8 229.0h2.2v2.1h-2.2zM394.0 229.0h2.2v2.1h-2.2zM408.4 229.0h2.2v2.1h-2.2zM437.3 229.0h2.2v2.1h-2.2zM457.8 229.0h2.2v2.1h-2.2zM470.2 229.0h2.2v2.1h-2.2zM482.5 229.0h2.2v2.1h-2.2zM255.0 231.0h2.0v2.1h-2.0zM311.7 231.0h2.2v2.1h-2.2zM332.3 231.0h2.2v2.1h-2.2zM348.7 231.0h2.2v2.1h-2.2zM377.6 231.0h2.2v2.1h-2.2zM402.3 231.0h2.2v2.1h-2.2zM416.7 231.0h2.2v2.1h-2.2zM422.8 231.0h2.2v2.1h-2.2zM431.1 231.0h2.2v2.1h-2.2zM453.7 231.0h2.2v2.1h-2.2zM459.9 231.0h2.2v2.1h-2.2zM311.7 233.0h2.2v2.1h-2.2zM322.0 233.0h4.2v2.1h-4.2zM330.2 233.0h6.3v2.1h-6.3zM379.6 233.0h2.2v2.1h-2.2zM177.6 235.0h2.0v2.1h-2.0zM241.5 235.0h2.0v2.1h-2.0zM332.3 235.0h2.2v2.1h-2.2zM342.6 235.0h2.2v2.1h-2.2zM482.5 235.0h2.2v2.1h-2.2z"/>
<path fill="#460101" d="M216.3 92.8h2.0v2.1h-2.0zM222.1 92.8h2.0v2.1h-2.0zM229.9 92.8h2.0v2.1h-2.0zM245.3 92.8h2.0v2.1h-2.0zM255.0 92.8h2.0v2.1h-2.0zM348.7 92.8h2.2v2.1h-2.2zM472.2 92.8h2.2v2.1h-2.2zM216.3 94.8h2.0v2.1h-2.0zM241.5 94.8h2.0v2.1h-2.0zM245.3 94.8h2.0v2.1h-2.0zM258.9 94.8h2.0v2.1h-2.0zM375.5 94.8h2.2v2.1h-2.2zM181.5 96.8h2.0v2.1h-2.0zM187.3 96.8h2.0v2.1h-2.0zM227.9 96.8h2.0v2.1h-2.0zM251.1 96.8h4.0v2.1h-4.0zM319.9 96.8h2.2v2.1h-2.2zM326.1 96.8h2.2v2.1h-2.2zM344.6 96.8h2.2v2.1h-2.2zM424.9 96.8h2.2v2.1h-2.2zM214.4 98.8h2.0v2.1h-2.0zM344.6 98.8h2.2v2.1h-2.2zM348.7 98.8h2.2v2.1h-2.2zM369.3 98.8h2.2v2.1h-2.2zM185.3 100.8h2.0v2.1h-2.0zM260.8 100.8h2.0v2.1h-2.0zM280.8 100.8h2.2v2.1h-2.2zM365.2 100.8h2.2v2.1h-2.2zM379.6 100.8h2.2v2.1h-2.2zM210.5 102.8h2.0v2.1h-2.0zM218.2 102.8h2.0v2.1h-2.0zM227.9 102.8h2.0v2.1h-2.0zM289.0 102.8h2.2v2.1h-2.2zM451.7 102.8h2.2v2.1h-2.2zM183.4 104.8h2.0v2.1h-2.0zM187.3 104.8h2.0v2.1h-2.0zM195.0 104.8h2.0v2.1h-2.0zM266.6 104.8h2.0v2.1h-2.0zM270.5 104.8h6.3v2.1h-6.3zM470.2 104.8h2.2v2.1h-2.2zM284.9 106.8h2.2v2.1h-2.2zM352.8 106.8h2.2v2.1h-2.2zM202.8 108.8h2.0v2.1h-2.0zM210.5 108.8h2.0v2.1h-2.0zM245.3 108.8h2.0v2.1h-2.0zM375.5 108.8h2.2v2.1h-2.2zM470.2 108.8h2.2v2.1h-2.2zM282.9 110.8h2.2v2.1h-2.2zM466.1 110.8h4.2v2.1h-4.2zM197.0 112.8h2.0v2.1h-2.0zM214.4 112.8h2.0v2.1h-2.0zM233.7 112.8h4.0v2.1h-4.0zM189.2 114.8h2.0v2.1h-2.0zM204.7 114.8h2.0v2.1h-2.0zM214.4 114.8h4.0v2.1h-4.0zM239.5 114.8h4.0v2.1h-4.0zM389.9 114.8h2.2v2.1h-2.2zM258.9 116.8h2.0v2.1h-2.0zM289.0 116.8h2.2v2.1h-2.2zM303.4 116.8h2.2v2.1h-2.2zM311.7 116.8h2.2v2.1h-2.2zM319.9 116.8h2.2v2.1h-2.2zM346.7 116.8h2.2v2.1h-2.2zM457.8 116.8h2.2v2.1h-2.2zM179.5 118.8h4.0v2.1h-4.0zM193.1 118.8h2.0v2.1h-2.0zM200.8 118.8h2.0v2.1h-2.0zM206.6 118.8h4.0v2.1h-4.0zM268.6 118.8h2.0v2.1h-2.0zM346.7 118.8h2.2v2.1h-2.2zM177.6 120.8h2.0v2.1h-2.0zM189.2 120.8h4.0v2.1h-4.0zM214.4 120.8h2.0v2.1h-2.0zM218.2 120.8h2.0v2.1h-2.0zM233.7 120.8h4.0v2.1h-4.0zM245.3 120.8h4.0v2.1h-4.0zM276.7 120.8h2.2v2.1h-2.2zM287.0 120.8h2.2v2.1h-2.2zM293.1 120.8h2.2v2.1h-2.2zM303.4 120.8h2.2v2.1h-2.2zM311.7 120.8h2.2v2.1h-2.2zM336.4 120.8h2.2v2.1h-2.2zM379.6 120.8h2.2v2.1h-2.2zM392.0 120.8h2.2v2.1h-2.2zM449.6 120.8h2.2v2.1h-2.2zM185.3 122.8h2.0v2.1h-2.0zM212.4 122.8h2.0v2.1h-2.0zM226.0 122.8h4.0v2.1h-4.0zM272.6 122.8h2.2v2.1h-2.2zM344.6 122.8h2.2v2.1h-2.2zM359.0 122.8h2.2v2.1h-2.2zM365.2 122.8h2.2v2.1h-2.2zM187.3 124.8h2.0v2.1h-2.0zM200.8 124.8h2.0v2.1h-2.0zM222.1 124.8h2.0v2.1h-2.0zM227.9 124.8h2.0v2.1h-2.0zM237.6 124.8h2.0v2.1h-2.0zM276.7 124.8h2.2v2.1h-2.2zM396.1 124.8h2.2v2.1h-2.2zM412.5 124.8h2.2v2.1h-2.2zM429.0 124.8h2.2v2.1h-2.2zM447.5 124.8h2.2v2.1h-2.2zM472.2 124.8h2.2v2.1h-2.2zM177.6 126.8h2.0v2.1h-2.0zM185.3 126.8h2.0v2.1h-2.0zM210.5 126.8h2.0v2.1h-2.0zM222.1 126.8h2.0v2.1h-2.0zM245.3 126.8h2.0v2.1h-2.0zM260.8 126.8h2.0v2.1h-2.0zM268.6 126.8h2.0v2.1h-2.0zM284.9 126.8h2.2v2.1h-2.2zM293.1 126.8h2.2v2.1h-2.2zM319.9 126.8h2.2v2.1h-2.2zM340.5 126.8h2.2v2.1h-2.2zM375.5 126.8h2.2v2.1h-2.2zM381.7 126.8h2.2v2.1h-2.2zM412.5 126.8h2.2v2.1h-2.2zM427.0 126.8h4.2v2.1h-4.2zM437.3 126.8h2.2v2.1h-2.2zM457.8 126.8h2.2v2.1h-2.2zM470.2 126.8h2.2v2.1h-2.2zM195.0 128.8h2.0v2.1h-2.0zM202.8 128.8h2.0v2.1h-2.0zM218.2 128.8h2.0v2.1h-2.0zM257.0 128.8h2.0v2.1h-2.0zM260.8 128.8h2.0v2.1h-2.0zM293.1 128.8h2.2v2.1h-2.2zM315.8 128.8h2.2v2.1h-2.2zM422.8 128.8h2.2v2.1h-2.2zM179.5 130.9h2.0v2.1h-2.0zM183.4 130.9h2.0v2.1h-2.0zM212.4 130.9h4.0v2.1h-4.0zM262.8 130.9h2.0v2.1h-2.0zM303.4 130.9h2.2v2.1h-2.2zM307.6 130.9h2.2v2.1h-2.2zM389.9 130.9h2.2v2.1h-2.2zM480.5 130.9h4.2v2.1h-4.2zM181.5 132.9h2.0v2.1h-2.0zM258.9 132.9h4.0v2.1h-4.0zM264.7 132.9h2.0v2.1h-2.0zM268.6 132.9h2.0v2.1h-2.0zM299.3 132.9h2.2v2.1h-2.2zM379.6 132.9h2.2v2.1h-2.2zM383.7 132.9h2.2v2.1h-2.2zM179.5 134.9h2.0v2.1h-2.0zM204.7 134.9h2.0v2.1h-2.0zM212.4 134.9h2.0v2.1h-2.0zM218.2 134.9h2.0v2.1h-2.0zM247.3 134.9h2.0v2.1h-2.0zM268.6 134.9h2.0v2.1h-2.0zM317.8 134.9h2.2v2.1h-2.2zM363.1 134.9h2.2v2.1h-2.2zM185.3 136.9h2.0v2.1h-2.0zM191.1 136.9h2.0v2.1h-2.0zM222.1 136.9h2.0v2.1h-2.0zM251.1 136.9h2.0v2.1h-2.0zM255.0 136.9h2.0v2.1h-2.0zM282.9 136.9h2.2v2.1h-2.2zM289.0 136.9h2.2v2.1h-2.2zM319.9 136.9h4.2v2.1h-4.2zM342.6 136.9h2.2v2.1h-2.2zM373.4 136.9h4.2v2.1h-4.2zM187.3 138.9h2.0v2.1h-2.0zM243.4 138.9h2.0v2.1h-2.0zM274.6 138.9h2.2v2.1h-2.2zM322.0 138.9h2.2v2.1h-2.2zM383.7 138.9h2.2v2.1h-2.2zM183.4 140.9h2.0v2.1h-2.0zM191.1 140.9h2.0v2.1h-2.0zM197.0 140.9h2.0v2.1h-2.0zM202.8 140.9h2.0v2.1h-2.0zM210.5 140.9h2.0v2.1h-2.0zM214.4 140.9h2.0v2.1h-2.0zM241.5 140.9h2.0v2.1h-2.0zM257.0 140.9h2.0v2.1h-2.0zM287.0 140.9h2.2v2.1h-2.2zM313.7 140.9h2.2v2.1h-2.2zM322.0 140.9h2.2v2.1h-2.2zM365.2 140.9h2.2v2.1h-2.2zM402.3 140.9h2.2v2.1h-2.2zM412.5 140.9h2.2v2.1h-2.2zM420.8 140.9h2.2v2.1h-2.2zM443.4 140.9h4.2v2.1h-4.2zM185.3 142.9h2.0v2.1h-2.0zM278.7 142.9h2.2v2.1h-2.2zM289.0 142.9h2.2v2.1h-2.2zM317.8 142.9h2.2v2.1h-2.2zM334.3 142.9h2.2v2.1h-2.2zM470.2 142.9h2.2v2.1h-2.2zM191.1 144.9h2.0v2.1h-2.0zM200.8 144.9h2.0v2.1h-2.0zM216.3 144.9h2.0v2.1h-2.0zM235.7 144.9h2.0v2.1h-2.0zM241.5 144.9h2.0v2.1h-2.0zM258.9 144.9h4.0v2.1h-4.0zM295.2 144.9h2.2v2.1h-2.2zM305.5 144.9h2.2v2.1h-2.2zM313.7 144.9h2.2v2.1h-2.2zM328.1 144.9h2.2v2.1h-2.2zM332.3 144.9h2.2v2.1h-2.2zM336.4 144.9h2.2v2.1h-2.2zM354.9 144.9h2.2v2.1h-2.2zM361.1 144.9h2.2v2.1h-2.2zM371.4 144.9h2.2v2.1h-2.2zM383.7 144.9h2.2v2.1h-2.2zM412.5 144.9h2.2v2.1h-2.2zM420.8 144.9h2.2v2.1h-2.2zM459.9 144.9h2.2v2.1h-2.2zM200.8 146.9h2.0v2.1h-2.0zM206.6 146.9h2.0v2.1h-2.0zM212.4 146.9h2.0v2.1h-2.0zM218.2 146.9h2.0v2.1h-2.0zM241.5 146.9h2.0v2.1h-2.0zM291.1 146.9h2.2v2.1h-2.2zM326.1 146.9h2.2v2.1h-2.2zM361.1 146.9h2.2v2.1h-2.2zM383.7 146.9h2.2v2.1h-2.2zM396.1 146.9h2.2v2.1h-2.2zM462.0 146.9h2.2v2.1h-2.2zM177.6 148.9h2.0v2.1h-2.0zM210.5 148.9h2.0v2.1h-2.0zM216.3 148.9h2.0v2.1h-2.0zM229.9 148.9h4.0v2.1h-4.0zM262.8 148.9h2.0v2.1h-2.0zM278.7 148.9h2.2v2.1h-2.2zM289.0 148.9h2.2v2.1h-2.2zM317.8 148.9h2.2v2.1h-2.2zM359.0 148.9h2.2v2.1h-2.2zM387.8 148.9h2.2v2.1h-2.2zM416.7 148.9h2.2v2.1h-2.2zM420.8 148.9h2.2v2.1h-2.2zM476.4 148.9h2.2v2.1h-2.2zM480.5 148.9h2.2v2.1h-2.2zM268.6 150.9h2.0v2.1h-2.0zM291.1 150.9h2.2v2.1h-2.2zM299.3 150.9h2.2v2.1h-2.2zM322.0 150.9h2.2v2.1h-2.2zM330.2 150.9h2.2v2.1h-2.2zM352.8 150.9h2.2v2.1h-2.2zM398.1 150.9h2.2v2.1h-2.2zM410.5 150.9h2.2v2.1h-2.2zM420.8 150.9h2.2v2.1h-2.2zM439.3 150.9h2.2v2.1h-2.2zM476.4 150.9h4.2v2.1h-4.2zM185.3 152.9h2.0v2.1h-2.0zM235.7 152.9h2.0v2.1h-2.0zM239.5 152.9h2.0v2.1h-2.0zM257.0 152.9h4.0v2.1h-4.0zM289.0 152.9h2.2v2.1h-2.2zM305.5 152.9h4.2v2.1h-4.2zM324.0 152.9h2.2v2.1h-2.2zM348.7 152.9h2.2v2.1h-2.2zM363.1 152.9h2.2v2.1h-2.2zM394.0 152.9h2.2v2.1h-2.2zM406.4 152.9h2.2v2.1h-2.2zM412.5 152.9h2.2v2.1h-2.2zM422.8 152.9h2.2v2.1h-2.2zM447.5 152.9h2.2v2.1h-2.2zM455.8 152.9h2.2v2.1h-2.2zM482.5 152.9h2.2v2.1h-2.2zM210.5 154.9h2.0v2.1h-2.0zM237.6 154.9h2.0v2.1h-2.0zM305.5 154.9h2.2v2.1h-2.2zM338.4 154.9h2.2v2.1h-2.2zM342.6 154.9h4.2v2.1h-4.2zM377.6 154.9h2.2v2.1h-2.2zM383.7 154.9h2.2v2.1h-2.2zM420.8 154.9h2.2v2.1h-2.2zM441.4 154.9h2.2v2.1h-2.2zM474.3 154.9h2.2v2.1h-2.2zM179.5 156.9h2.0v2.1h-2.0zM218.2 156.9h2.0v2.1h-2.0zM233.7 156.9h2.0v2.1h-2.0zM247.3 156.9h2.0v2.1h-2.0zM251.1 156.9h4.0v2.1h-4.0zM266.6 156.9h2.0v2.1h-2.0zM429.0 156.9h2.2v2.1h-2.2zM457.8 156.9h2.2v2.1h-2.2zM214.4 158.9h2.0v2.1h-2.0zM258.9 158.9h2.0v2.1h-2.0zM268.6 158.9h2.0v2.1h-2.0zM383.7 158.9h2.2v2.1h-2.2zM389.9 158.9h2.2v2.1h-2.2zM424.9 158.9h2.2v2.1h-2.2zM439.3 158.9h2.2v2.1h-2.2zM197.0 160.9h2.0v2.1h-2.0zM361.1 160.9h2.2v2.1h-2.2zM179.5 162.9h2.0v2.1h-2.0zM212.4 162.9h2.0v2.1h-2.0zM266.6 162.9h2.0v2.1h-2.0zM177.6 164.9h2.0v2.1h-2.0zM189.2 164.9h2.0v2.1h-2.0zM193.1 164.9h2.0v2.1h-2.0zM247.3 164.9h2.0v2.1h-2.0zM459.9 164.9h2.2v2.1h-2.2zM365.2 166.9h2.2v2.1h-2.2zM212.4 168.9h2.0v2.1h-2.0zM260.8 168.9h2.0v2.1h-2.0zM264.7 168.9h2.0v2.1h-2.0zM466.1 168.9h2.2v2.1h-2.2zM187.3 170.9h2.0v2.1h-2.0zM191.1 170.9h2.0v2.1h-2.0zM198.9 170.9h2.0v2.1h-2.0zM258.9 170.9h2.0v2.1h-2.0zM212.4 172.9h2.0v2.1h-2.0zM258.9 172.9h2.0v2.1h-2.0zM262.8 172.9h2.0v2.1h-2.0zM268.6 172.9h2.0v2.1h-2.0zM389.9 172.9h2.2v2.1h-2.2zM198.9 174.9h2.0v2.1h-2.0zM241.5 174.9h2.0v2.1h-2.0zM262.8 174.9h2.0v2.1h-2.0zM266.6 176.9h2.0v2.1h-2.0zM266.6 178.9h4.0v2.1h-4.0zM482.5 178.9h2.2v2.1h-2.2zM272.6 180.9h2.2v2.1h-2.2zM317.8 180.9h2.2v2.1h-2.2zM387.8 180.9h2.2v2.1h-2.2zM270.5 184.9h2.2v2.1h-2.2zM311.7 184.9h2.2v2.1h-2.2zM410.5 184.9h2.2v2.1h-2.2zM418.7 184.9h2.2v2.1h-2.2zM344.6 186.9h2.2v2.1h-2.2zM400.2 186.9h2.2v2.1h-2.2zM410.5 186.9h2.2v2.1h-2.2zM289.0 188.9h2.2v2.1h-2.2zM307.6 188.9h2.2v2.1h-2.2zM315.8 188.9h2.2v2.1h-2.2zM334.3 188.9h2.2v2.1h-2.2zM348.7 188.9h2.2v2.1h-2.2zM354.9 188.9h2.2v2.1h-2.2zM422.8 188.9h2.2v2.1h-2.2zM449.6 188.9h2.2v2.1h-2.2zM241.5 190.9h2.0v2.1h-2.0zM272.6 190.9h2.2v2.1h-2.2zM348.7 190.9h2.2v2.1h-2.2zM354.9 190.9h2.2v2.1h-2.2zM412.5 190.9h2.2v2.1h-2.2zM435.2 190.9h2.2v2.1h-2.2zM227.9 192.9h2.0v2.1h-2.0zM270.5 192.9h2.2v2.1h-2.2zM383.7 192.9h2.2v2.1h-2.2zM181.5 196.9h2.0v2.1h-2.0zM195.0 196.9h2.0v2.1h-2.0zM204.7 196.9h2.0v2.1h-2.0zM224.1 196.9h2.0v2.1h-2.0zM253.1 196.9h4.0v2.1h-4.0zM272.6 196.9h2.2v2.1h-2.2zM284.9 196.9h2.2v2.1h-2.2zM398.1 196.9h4.2v2.1h-4.2zM445.5 196.9h2.2v2.1h-2.2zM177.6 198.9h2.0v2.1h-2.0zM237.6 198.9h2.0v2.1h-2.0zM251.1 198.9h2.0v2.1h-2.0zM313.7 198.9h2.2v2.1h-2.2zM392.0 198.9h2.2v2.1h-2.2zM404.3 198.9h2.2v2.1h-2.2zM427.0 198.9h2.2v2.1h-2.2zM449.6 198.9h2.2v2.1h-2.2zM459.9 198.9h2.2v2.1h-2.2zM464.0 198.9h2.2v2.1h-2.2zM191.1 200.9h2.0v2.1h-2.0zM204.7 200.9h2.0v2.1h-2.0zM208.6 200.9h2.0v2.1h-2.0zM249.2 200.9h2.0v2.1h-2.0zM268.6 200.9h2.0v2.1h-2.0zM198.9 203.0h2.0v2.1h-2.0zM202.8 203.0h2.0v2.1h-2.0zM179.5 205.0h2.0v2.1h-2.0zM185.3 205.0h4.0v2.1h-4.0zM208.6 205.0h2.0v2.1h-2.0zM214.4 205.0h2.0v2.1h-2.0zM208.6 207.0h2.0v2.1h-2.0zM177.6 211.0h2.0v2.1h-2.0zM268.6 211.0h2.0v2.1h-2.0zM181.5 219.0h2.0v2.1h-2.0zM193.1 219.0h2.0v2.1h-2.0zM237.6 219.0h2.0v2.1h-2.0zM291.1 219.0h2.2v2.1h-2.2zM346.7 219.0h2.2v2.1h-2.2zM357.0 219.0h2.2v2.1h-2.2zM369.3 219.0h2.2v2.1h-2.2zM381.7 219.0h2.2v2.1h-2.2zM385.8 219.0h2.2v2.1h-2.2zM431.1 219.0h2.2v2.1h-2.2zM459.9 219.0h2.2v2.1h-2.2zM179.5 221.0h2.0v2.1h-2.0zM222.1 221.0h2.0v2.1h-2.0zM237.6 221.0h2.0v2.1h-2.0zM247.3 221.0h4.0v2.1h-4.0zM257.0 221.0h2.0v2.1h-2.0zM276.7 221.0h4.2v2.1h-4.2zM284.9 221.0h2.2v2.1h-2.2zM322.0 221.0h2.2v2.1h-2.2zM334.3 221.0h2.2v2.1h-2.2zM346.7 221.0h2.2v2.1h-2.2zM396.1 221.0h2.2v2.1h-2.2zM198.9 223.0h2.0v2.1h-2.0zM216.3 223.0h2.0v2.1h-2.0zM220.2 223.0h2.0v2.1h-2.0zM235.7 223.0h2.0v2.1h-2.0zM239.5 223.0h2.0v2.1h-2.0zM257.0 223.0h5.9v2.1h-5.9zM280.8 223.0h2.2v2.1h-2.2zM287.0 223.0h2.2v2.1h-2.2zM354.9 223.0h4.2v2.1h-4.2zM383.7 223.0h2.2v2.1h-2.2zM404.3 223.0h2.2v2.1h-2.2zM451.7 223.0h2.2v2.1h-2.2zM478.4 223.0h2.2v2.1h-2.2zM204.7 225.0h2.0v2.1h-2.0zM212.4 225.0h2.0v2.1h-2.0zM226.0 225.0h2.0v2.1h-2.0zM235.7 225.0h2.0v2.1h-2.0zM260.8 225.0h2.0v2.1h-2.0zM264.7 225.0h2.0v2.1h-2.0zM276.7 225.0h2.2v2.1h-2.2zM282.9 225.0h2.2v2.1h-2.2zM303.4 225.0h2.2v2.1h-2.2zM313.7 225.0h2.2v2.1h-2.2zM344.6 225.0h2.2v2.1h-2.2zM365.2 225.0h2.2v2.1h-2.2zM375.5 225.0h2.2v2.1h-2.2zM410.5 225.0h2.2v2.1h-2.2zM424.9 225.0h2.2v2.1h-2.2zM451.7 225.0h2.2v2.1h-2.2zM198.9 227.0h2.0v2.1h-2.0zM218.2 227.0h2.0v2.1h-2.0zM233.7 227.0h2.0v2.1h-2.0zM237.6 227.0h2.0v2.1h-2.0zM243.4 227.0h2.0v2.1h-2.0zM257.0 227.0h2.0v2.1h-2.0zM272.6 227.0h2.2v2.1h-2.2zM284.9 227.0h2.2v2.1h-2.2zM297.3 227.0h2.2v2.1h-2.2zM326.1 227.0h2.2v2.1h-2.2zM342.6 227.0h2.2v2.1h-2.2zM361.1 227.0h4.2v2.1h-4.2zM389.9 227.0h2.2v2.1h-2.2zM406.4 227.0h2.2v2.1h-2.2zM466.1 227.0h4.2v2.1h-4.2zM482.5 227.0h2.2v2.1h-2.2zM204.7 229.0h2.0v2.1h-2.0zM218.2 229.0h4.0v2.1h-4.0zM235.7 229.0h2.0v2.1h-2.0zM253.1 229.0h2.0v2.1h-2.0zM257.0 229.0h2.0v2.1h-2.0zM289.0 229.0h4.2v2.1h-4.2zM305.5 229.0h2.2v2.1h-2.2zM361.1 229.0h2.2v2.1h-2.2zM422.8 229.0h4.2v2.1h-4.2zM441.4 229.0h2.2v2.1h-2.2zM459.9 229.0h2.2v2.1h-2.2zM466.1 229.0h2.2v2.1h-2.2zM478.4 229.0h2.2v2.1h-2.2zM212.4 231.0h2.0v2.1h-2.0zM224.1 231.0h2.0v2.1h-2.0zM233.7 231.0h2.0v2.1h-2.0zM239.5 231.0h2.0v2.1h-2.0zM257.0 231.0h2.0v2.1h-2.0zM260.8 231.0h2.0v2.1h-2.0zM297.3 231.0h2.2v2.1h-2.2zM305.5 231.0h2.2v2.1h-2.2zM354.9 231.0h2.2v2.1h-2.2zM375.5 231.0h2.2v2.1h-2.2zM394.0 231.0h2.2v2.1h-2.2zM408.4 231.0h2.2v2.1h-2.2zM433.1 231.0h2.2v2.1h-2.2zM466.1 231.0h2.2v2.1h-2.2zM204.7 233.0h2.0v2.1h-2.0zM276.7 233.0h2.2v2.1h-2.2zM342.6 233.0h2.2v2.1h-2.2zM375.5 233.0h2.2v2.1h-2.2zM383.7 233.0h2.2v2.1h-2.2zM214.4 235.0h2.0v2.1h-2.0zM233.7 235.0h2.0v2.1h-2.0zM338.4 235.0h2.2v2.1h-2.2zM348.7 235.0h2.2v2.1h-2.2zM354.9 235.0h2.2v2.1h-2.2zM375.5 235.0h2.2v2.1h-2.2zM383.7 235.0h2.2v2.1h-2.2zM387.8 235.0h2.2v2.1h-2.2zM441.4 235.0h2.2v2.1h-2.2z"/>
<path fill="#5e0202" d="M189.2 92.8h2.0v2.1h-2.0zM181.5 94.8h2.0v2.1h-2.0zM189.2 94.8h2.0v2.1h-2.0zM226.0 94.8h2.0v2.1h-2.0zM264.7 94.8h5.9v2.1h-5.9zM371.4 96.8h4.2v2.1h-4.2zM441.4 96.8h2.2v2.1h-2.2zM212.4 98.8h2.0v2.1h-2.0zM375.5 98.8h2.2v2.1h-2.2zM177.6 100.8h2.0v2.1h-2.0zM189.2 100.8h2.0v2.1h-2.0zM348.7 100.8h2.2v2.1h-2.2zM373.4 100.8h2.2v2.1h-2.2zM187.3 102.8h5.9v2.1h-5.9zM229.9 102.8h2.0v2.1h-2.0zM268.6 102.8h2.0v2.1h-2.0zM371.4 102.8h2.2v2.1h-2.2zM424.9 102.8h2.2v2.1h-2.2zM197.0 104.8h4.0v2.1h-4.0zM191.1 106.8h2.0v2.1h-2.0zM198.9 106.8h2.0v2.1h-2.0zM206.6 106.8h2.0v2.1h-2.0zM227.9 106.8h2.0v2.1h-2.0zM243.4 106.8h2.0v2.1h-2.0zM472.2 106.8h2.2v2.1h-2.2zM459.9 108.8h2.2v2.1h-2.2zM193.1 110.8h4.0v2.1h-4.0zM251.1 110.8h2.0v2.1h-2.0zM231.8 114.8h2.0v2.1h-2.0zM245.3 114.8h2.0v2.1h-2.0zM348.7 114.8h2.2v2.1h-2.2zM354.9 114.8h2.2v2.1h-2.2zM191.1 116.8h2.0v2.1h-2.0zM204.7 116.8h2.0v2.1h-2.0zM208.6 116.8h2.0v2.1h-2.0zM260.8 116.8h2.0v2.1h-2.0zM270.5 116.8h2.2v2.1h-2.2zM282.9 116.8h2.2v2.1h-2.2zM317.8 116.8h2.2v2.1h-2.2zM348.7 116.8h4.2v2.1h-4.2zM389.9 116.8h2.2v2.1h-2.2zM474.3 116.8h2.2v2.1h-2.2zM195.0 118.8h2.0v2.1h-2.0zM210.5 118.8h2.0v2.1h-2.0zM243.4 118.8h2.0v2.1h-2.0zM249.2 118.8h4.0v2.1h-4.0zM264.7 118.8h2.0v2.1h-2.0zM272.6 118.8h2.2v2.1h-2.2zM291.1 118.8h2.2v2.1h-2.2zM309.6 118.8h2.2v2.1h-2.2zM179.5 120.8h2.0v2.1h-2.0zM243.4 120.8h2.0v2.1h-2.0zM255.0 120.8h5.9v2.1h-5.9zM315.8 120.8h2.2v2.1h-2.2zM330.2 120.8h2.2v2.1h-2.2zM478.4 120.8h2.2v2.1h-2.2zM195.0 122.8h2.0v2.1h-2.0zM200.8 122.8h4.0v2.1h-4.0zM222.1 122.8h2.0v2.1h-2.0zM257.0 122.8h2.0v2.1h-2.0zM375.5 122.8h2.2v2.1h-2.2zM193.1 124.8h2.0v2.1h-2.0zM198.9 124.8h2.0v2.1h-2.0zM392.0 124.8h2.2v2.1h-2.2zM400.2 124.8h2.2v2.1h-2.2zM474.3 124.8h2.2v2.1h-2.2zM303.4 126.8h2.2v2.1h-2.2zM433.1 126.8h2.2v2.1h-2.2zM472.2 126.8h2.2v2.1h-2.2zM191.1 128.8h4.0v2.1h-4.0zM198.9 128.8h2.0v2.1h-2.0zM204.7 128.8h2.0v2.1h-2.0zM212.4 128.8h2.0v2.1h-2.0zM222.1 128.8h2.0v2.1h-2.0zM262.8 128.8h2.0v2.1h-2.0zM181.5 130.9h2.0v2.1h-2.0zM189.2 130.9h2.0v2.1h-2.0zM204.7 130.9h2.0v2.1h-2.0zM220.2 130.9h2.0v2.1h-2.0zM317.8 130.9h4.2v2.1h-4.2zM177.6 132.9h2.0v2.1h-2.0zM183.4 132.9h2.0v2.1h-2.0zM193.1 132.9h2.0v2.1h-2.0zM216.3 132.9h2.0v2.1h-2.0zM177.6 134.9h2.0v2.1h-2.0zM195.0 134.9h2.0v2.1h-2.0zM214.4 134.9h2.0v2.1h-2.0zM260.8 134.9h2.0v2.1h-2.0zM453.7 134.9h2.2v2.1h-2.2zM258.9 136.9h2.0v2.1h-2.0zM293.1 136.9h2.2v2.1h-2.2zM317.8 136.9h2.2v2.1h-2.2zM328.1 136.9h2.2v2.1h-2.2zM332.3 136.9h2.2v2.1h-2.2zM348.7 136.9h2.2v2.1h-2.2zM402.3 136.9h2.2v2.1h-2.2zM185.3 138.9h2.0v2.1h-2.0zM287.0 138.9h2.2v2.1h-2.2zM293.1 138.9h2.2v2.1h-2.2zM305.5 138.9h2.2v2.1h-2.2zM311.7 138.9h2.2v2.1h-2.2zM326.1 138.9h2.2v2.1h-2.2zM346.7 138.9h2.2v2.1h-2.2zM371.4 138.9h2.2v2.1h-2.2zM379.6 138.9h2.2v2.1h-2.2zM177.6 140.9h4.0v2.1h-4.0zM185.3 140.9h2.0v2.1h-2.0zM198.9 140.9h2.0v2.1h-2.0zM204.7 140.9h4.0v2.1h-4.0zM212.4 140.9h2.0v2.1h-2.0zM224.1 140.9h2.0v2.1h-2.0zM255.0 140.9h2.0v2.1h-2.0zM260.8 140.9h2.0v2.1h-2.0zM305.5 140.9h2.2v2.1h-2.2zM319.9 140.9h2.2v2.1h-2.2zM414.6 140.9h2.2v2.1h-2.2zM418.7 140.9h2.2v2.1h-2.2zM457.8 140.9h2.2v2.1h-2.2zM255.0 142.9h4.0v2.1h-4.0zM291.1 142.9h2.2v2.1h-2.2zM311.7 142.9h2.2v2.1h-2.2zM332.3 142.9h2.2v2.1h-2.2zM365.2 142.9h4.2v2.1h-4.2zM379.6 142.9h2.2v2.1h-2.2zM422.8 142.9h2.2v2.1h-2.2zM443.4 142.9h2.2v2.1h-2.2zM457.8 142.9h2.2v2.1h-2.2zM177.6 144.9h2.0v2.1h-2.0zM181.5 144.9h2.0v2.1h-2.0zM206.6 144.9h4.0v2.1h-4.0zM218.2 144.9h2.0v2.1h-2.0zM231.8 144.9h4.0v2.1h-4.0zM239.5 144.9h2.0v2.1h-2.0zM334.3 144.9h2.2v2.1h-2.2zM373.4 144.9h2.2v2.1h-2.2zM377.6 144.9h2.2v2.1h-2.2zM381.7 144.9h2.2v2.1h-2.2zM414.6 144.9h2.2v2.1h-2.2zM210.5 146.9h2.0v2.1h-2.0zM253.1 146.9h2.0v2.1h-2.0zM295.2 146.9h2.2v2.1h-2.2zM322.0 146.9h2.2v2.1h-2.2zM336.4 146.9h2.2v2.1h-2.2zM375.5 146.9h2.2v2.1h-2.2zM422.8 146.9h2.2v2.1h-2.2zM480.5 146.9h2.2v2.1h-2.2zM208.6 148.9h2.0v2.1h-2.0zM224.1 148.9h5.9v2.1h-5.9zM233.7 148.9h2.0v2.1h-2.0zM237.6 148.9h2.0v2.1h-2.0zM258.9 148.9h4.0v2.1h-4.0zM367.3 148.9h2.2v2.1h-2.2zM381.7 148.9h2.2v2.1h-2.2zM400.2 148.9h2.2v2.1h-2.2zM449.6 148.9h2.2v2.1h-2.2zM210.5 150.9h2.0v2.1h-2.0zM264.7 150.9h2.0v2.1h-2.0zM305.5 150.9h2.2v2.1h-2.2zM311.7 150.9h2.2v2.1h-2.2zM373.4 150.9h2.2v2.1h-2.2zM387.8 150.9h2.2v2.1h-2.2zM394.0 150.9h2.2v2.1h-2.2zM187.3 152.9h2.0v2.1h-2.0zM251.1 152.9h2.0v2.1h-2.0zM303.4 152.9h2.2v2.1h-2.2zM357.0 152.9h2.2v2.1h-2.2zM361.1 152.9h2.2v2.1h-2.2zM365.2 152.9h4.2v2.1h-4.2zM431.1 152.9h2.2v2.1h-2.2zM449.6 152.9h2.2v2.1h-2.2zM193.1 154.9h2.0v2.1h-2.0zM222.1 154.9h2.0v2.1h-2.0zM291.1 154.9h2.2v2.1h-2.2zM361.1 154.9h2.2v2.1h-2.2zM367.3 154.9h4.2v2.1h-4.2zM389.9 154.9h2.2v2.1h-2.2zM424.9 154.9h2.2v2.1h-2.2zM443.4 154.9h4.2v2.1h-4.2zM478.4 154.9h2.2v2.1h-2.2zM195.0 156.9h4.0v2.1h-4.0zM202.8 156.9h2.0v2.1h-2.0zM231.8 156.9h2.0v2.1h-2.0zM235.7 156.9h2.0v2.1h-2.0zM239.5 156.9h2.0v2.1h-2.0zM262.8 156.9h2.0v2.1h-2.0zM439.3 156.9h2.2v2.1h-2.2zM474.3 156.9h2.2v2.1h-2.2zM187.3 158.9h4.0v2.1h-4.0zM198.9 158.9h2.0v2.1h-2.0zM202.8 158.9h2.0v2.1h-2.0zM206.6 158.9h4.0v2.1h-4.0zM218.2 158.9h4.0v2.1h-4.0zM239.5 158.9h5.9v2.1h-5.9zM253.1 158.9h2.0v2.1h-2.0zM264.7 158.9h2.0v2.1h-2.0zM379.6 158.9h2.2v2.1h-2.2zM470.2 158.9h2.2v2.1h-2.2zM365.2 160.9h2.2v2.1h-2.2zM375.5 162.9h2.2v2.1h-2.2zM195.0 166.9h2.0v2.1h-2.0zM255.0 166.9h2.0v2.1h-2.0zM258.9 166.9h2.0v2.1h-2.0zM264.7 166.9h2.0v2.1h-2.0zM268.6 166.9h2.0v2.1h-2.0zM443.4 166.9h2.2v2.1h-2.2zM177.6 168.9h2.0v2.1h-2.0zM266.6 168.9h2.0v2.1h-2.0zM480.5 168.9h2.2v2.1h-2.2zM480.5 170.9h2.2v2.1h-2.2zM255.0 172.9h2.0v2.1h-2.0zM365.2 172.9h2.2v2.1h-2.2zM385.8 172.9h2.2v2.1h-2.2zM179.5 176.9h2.0v2.1h-2.0zM218.2 176.9h2.0v2.1h-2.0zM251.1 176.9h2.0v2.1h-2.0zM177.6 178.9h2.0v2.1h-2.0zM229.9 178.9h2.0v2.1h-2.0zM235.7 178.9h2.0v2.1h-2.0zM264.7 178.9h2.0v2.1h-2.0zM375.5 180.9h2.2v2.1h-2.2zM392.0 182.9h2.2v2.1h-2.2zM295.2 184.9h2.2v2.1h-2.2zM313.7 184.9h4.2v2.1h-4.2zM326.1 184.9h2.2v2.1h-2.2zM334.3 184.9h4.2v2.1h-4.2zM289.0 186.9h2.2v2.1h-2.2zM287.0 188.9h2.2v2.1h-2.2zM311.7 188.9h2.2v2.1h-2.2zM276.7 190.9h2.2v2.1h-2.2zM307.6 190.9h4.2v2.1h-4.2zM268.6 192.9h2.0v2.1h-2.0zM301.4 192.9h4.2v2.1h-4.2zM311.7 192.9h2.2v2.1h-2.2zM315.8 192.9h2.2v2.1h-2.2zM435.2 192.9h2.2v2.1h-2.2zM193.1 194.9h2.0v2.1h-2.0zM287.0 194.9h2.2v2.1h-2.2zM305.5 194.9h2.2v2.1h-2.2zM439.3 194.9h2.2v2.1h-2.2zM212.4 196.9h2.0v2.1h-2.0zM247.3 196.9h2.0v2.1h-2.0zM264.7 196.9h2.0v2.1h-2.0zM270.5 196.9h2.2v2.1h-2.2zM280.8 196.9h2.2v2.1h-2.2zM315.8 196.9h2.2v2.1h-2.2zM354.9 196.9h2.2v2.1h-2.2zM402.3 196.9h4.2v2.1h-4.2zM459.9 196.9h2.2v2.1h-2.2zM468.1 196.9h2.2v2.1h-2.2zM216.3 198.9h2.0v2.1h-2.0zM408.4 198.9h2.2v2.1h-2.2zM429.0 198.9h2.2v2.1h-2.2zM206.6 200.9h2.0v2.1h-2.0zM266.6 200.9h2.0v2.1h-2.0zM266.6 203.0h2.0v2.1h-2.0zM204.7 219.0h2.0v2.1h-2.0zM227.9 219.0h2.0v2.1h-2.0zM239.5 219.0h2.0v2.1h-2.0zM243.4 219.0h2.0v2.1h-2.0zM255.0 219.0h2.0v2.1h-2.0zM258.9 219.0h2.0v2.1h-2.0zM264.7 219.0h2.0v2.1h-2.0zM278.7 219.0h2.2v2.1h-2.2zM293.1 219.0h4.2v2.1h-4.2zM307.6 219.0h2.2v2.1h-2.2zM354.9 219.0h2.2v2.1h-2.2zM361.1 219.0h2.2v2.1h-2.2zM367.3 219.0h2.2v2.1h-2.2zM396.1 219.0h2.2v2.1h-2.2zM408.4 219.0h2.2v2.1h-2.2zM416.7 219.0h2.2v2.1h-2.2zM447.5 219.0h2.2v2.1h-2.2zM455.8 219.0h2.2v2.1h-2.2zM474.3 219.0h2.2v2.1h-2.2zM480.5 219.0h2.2v2.1h-2.2zM183.4 221.0h2.0v2.1h-2.0zM195.0 221.0h2.0v2.1h-2.0zM216.3 221.0h2.0v2.1h-2.0zM260.8 221.0h2.0v2.1h-2.0zM305.5 221.0h2.2v2.1h-2.2zM324.0 221.0h2.2v2.1h-2.2zM365.2 221.0h2.2v2.1h-2.2zM383.7 221.0h2.2v2.1h-2.2zM406.4 221.0h2.2v2.1h-2.2zM462.0 221.0h2.2v2.1h-2.2zM195.0 223.0h2.0v2.1h-2.0zM200.8 223.0h2.0v2.1h-2.0zM241.5 223.0h2.0v2.1h-2.0zM262.8 223.0h2.0v2.1h-2.0zM291.1 223.0h4.2v2.1h-4.2zM313.7 223.0h2.2v2.1h-2.2zM375.5 223.0h2.2v2.1h-2.2zM402.3 223.0h2.2v2.1h-2.2zM410.5 223.0h2.2v2.1h-2.2zM441.4 223.0h4.2v2.1h-4.2zM447.5 223.0h2.2v2.1h-2.2zM480.5 223.0h2.2v2.1h-2.2zM255.0 225.0h2.0v2.1h-2.0zM280.8 225.0h2.2v2.1h-2.2zM315.8 225.0h2.2v2.1h-2.2zM322.0 225.0h2.2v2.1h-2.2zM352.8 225.0h2.2v2.1h-2.2zM385.8 225.0h2.2v2.1h-2.2zM408.4 225.0h2.2v2.1h-2.2zM418.7 225.0h2.2v2.1h-2.2zM457.8 225.0h2.2v2.1h-2.2zM191.1 227.0h2.0v2.1h-2.0zM195.0 227.0h4.0v2.1h-4.0zM208.6 227.0h2.0v2.1h-2.0zM222.1 227.0h2.0v2.1h-2.0zM226.0 227.0h2.0v2.1h-2.0zM255.0 227.0h2.0v2.1h-2.0zM305.5 227.0h2.2v2.1h-2.2zM319.9 227.0h2.2v2.1h-2.2zM394.0 227.0h2.2v2.1h-2.2zM453.7 227.0h2.2v2.1h-2.2zM476.4 227.0h4.2v2.1h-4.2zM181.5 229.0h4.0v2.1h-4.0zM191.1 229.0h2.0v2.1h-2.0zM195.0 229.0h2.0v2.1h-2.0zM200.8 229.0h2.0v2.1h-2.0zM216.3 229.0h2.0v2.1h-2.0zM231.8 229.0h2.0v2.1h-2.0zM241.5 229.0h2.0v2.1h-2.0zM251.1 229.0h2.0v2.1h-2.0zM268.6 229.0h2.0v2.1h-2.0zM307.6 229.0h2.2v2.1h-2.2zM359.0 229.0h2.2v2.1h-2.2zM385.8 229.0h2.2v2.1h-2.2zM400.2 229.0h2.2v2.1h-2.2zM412.5 229.0h2.2v2.1h-2.2zM420.8 229.0h2.2v2.1h-2.2zM464.0 229.0h2.2v2.1h-2.2zM476.4 229.0h2.2v2.1h-2.2zM243.4 231.0h2.0v2.1h-2.0zM249.2 231.0h5.9v2.1h-5.9zM289.0 231.0h2.2v2.1h-2.2zM315.8 231.0h2.2v2.1h-2.2zM359.0 231.0h4.2v2.1h-4.2zM367.3 231.0h2.2v2.1h-2.2zM389.9 231.0h2.2v2.1h-2.2zM216.3 233.0h2.0v2.1h-2.0zM274.6 233.0h2.2v2.1h-2.2zM373.4 233.0h2.2v2.1h-2.2zM385.8 233.0h2.2v2.1h-2.2zM437.3 233.0h2.2v2.1h-2.2zM185.3 235.0h2.0v2.1h-2.0zM255.0 235.0h2.0v2.1h-2.0zM291.1 235.0h2.2v2.1h-2.2zM328.1 235.0h2.2v2.1h-2.2zM385.8 235.0h2.2v2.1h-2.2zM422.8 235.0h2.2v2.1h-2.2zM429.0 235.0h2.2v2.1h-2.2zM433.1 235.0h2.2v2.1h-2.2zM437.3 235.0h2.2v2.1h-2.2zM445.5 235.0h2.2v2.1h-2.2zM459.9 235.0h2.2v2.1h-2.2z"/>
<path fill="#750303" d="M239.5 92.8h2.0v2.1h-2.0zM227.9 94.8h2.0v2.1h-2.0zM237.6 94.8h2.0v2.1h-2.0zM229.9 96.8h2.0v2.1h-2.0zM247.3 96.8h2.0v2.1h-2.0zM369.3 96.8h2.2v2.1h-2.2zM433.1 96.8h2.2v2.1h-2.2zM177.6 98.8h2.0v2.1h-2.0zM183.4 98.8h2.0v2.1h-2.0zM371.4 98.8h2.2v2.1h-2.2zM212.4 100.8h2.0v2.1h-2.0zM367.3 100.8h2.2v2.1h-2.2zM258.9 102.8h2.0v2.1h-2.0zM383.7 102.8h2.2v2.1h-2.2zM226.0 106.8h2.0v2.1h-2.0zM229.9 106.8h2.0v2.1h-2.0zM179.5 108.8h2.0v2.1h-2.0zM185.3 108.8h2.0v2.1h-2.0zM191.1 108.8h2.0v2.1h-2.0zM249.2 108.8h2.0v2.1h-2.0zM282.9 108.8h2.2v2.1h-2.2zM191.1 110.8h2.0v2.1h-2.0zM197.0 110.8h2.0v2.1h-2.0zM208.6 110.8h2.0v2.1h-2.0zM249.2 112.8h2.0v2.1h-2.0zM243.4 114.8h2.0v2.1h-2.0zM266.6 114.8h2.0v2.1h-2.0zM344.6 114.8h2.2v2.1h-2.2zM357.0 114.8h2.2v2.1h-2.2zM218.2 116.8h2.0v2.1h-2.0zM365.2 116.8h2.2v2.1h-2.2zM482.5 116.8h2.2v2.1h-2.2zM185.3 118.8h4.0v2.1h-4.0zM183.4 120.8h2.0v2.1h-2.0zM187.3 120.8h2.0v2.1h-2.0zM222.1 120.8h2.0v2.1h-2.0zM237.6 120.8h2.0v2.1h-2.0zM289.0 120.8h2.2v2.1h-2.2zM387.8 120.8h2.2v2.1h-2.2zM459.9 120.8h2.2v2.1h-2.2zM187.3 122.8h2.0v2.1h-2.0zM245.3 122.8h2.0v2.1h-2.0zM387.8 122.8h2.2v2.1h-2.2zM406.4 122.8h2.2v2.1h-2.2zM181.5 124.8h4.0v2.1h-4.0zM206.6 124.8h2.0v2.1h-2.0zM210.5 124.8h4.0v2.1h-4.0zM231.8 124.8h2.0v2.1h-2.0zM251.1 124.8h2.0v2.1h-2.0zM350.8 124.8h2.2v2.1h-2.2zM385.8 124.8h2.2v2.1h-2.2zM435.2 124.8h2.2v2.1h-2.2zM449.6 124.8h2.2v2.1h-2.2zM466.1 124.8h2.2v2.1h-2.2zM187.3 126.8h4.0v2.1h-4.0zM206.6 126.8h2.0v2.1h-2.0zM226.0 126.8h2.0v2.1h-2.0zM249.2 126.8h2.0v2.1h-2.0zM385.8 126.8h2.2v2.1h-2.2zM443.4 126.8h2.2v2.1h-2.2zM459.9 126.8h2.2v2.1h-2.2zM258.9 128.8h2.0v2.1h-2.0zM317.8 128.8h2.2v2.1h-2.2zM216.3 130.9h2.0v2.1h-2.0zM251.1 130.9h2.0v2.1h-2.0zM375.5 130.9h2.2v2.1h-2.2zM185.3 132.9h2.0v2.1h-2.0zM191.1 132.9h2.0v2.1h-2.0zM222.1 132.9h2.0v2.1h-2.0zM249.2 132.9h2.0v2.1h-2.0zM257.0 132.9h2.0v2.1h-2.0zM453.7 132.9h2.2v2.1h-2.2zM181.5 134.9h2.0v2.1h-2.0zM257.0 134.9h2.0v2.1h-2.0zM264.7 134.9h2.0v2.1h-2.0zM177.6 136.9h2.0v2.1h-2.0zM231.8 136.9h2.0v2.1h-2.0zM257.0 136.9h2.0v2.1h-2.0zM260.8 136.9h2.0v2.1h-2.0zM287.0 136.9h2.2v2.1h-2.2zM299.3 136.9h2.2v2.1h-2.2zM303.4 136.9h2.2v2.1h-2.2zM307.6 136.9h2.2v2.1h-2.2zM330.2 136.9h2.2v2.1h-2.2zM336.4 136.9h2.2v2.1h-2.2zM177.6 138.9h2.0v2.1h-2.0zM233.7 138.9h2.0v2.1h-2.0zM291.1 138.9h2.2v2.1h-2.2zM307.6 138.9h2.2v2.1h-2.2zM361.1 138.9h2.2v2.1h-2.2zM367.3 138.9h2.2v2.1h-2.2zM375.5 138.9h2.2v2.1h-2.2zM181.5 140.9h2.0v2.1h-2.0zM193.1 140.9h4.0v2.1h-4.0zM235.7 140.9h2.0v2.1h-2.0zM243.4 140.9h5.9v2.1h-5.9zM253.1 140.9h2.0v2.1h-2.0zM301.4 140.9h4.2v2.1h-4.2zM309.6 140.9h2.2v2.1h-2.2zM317.8 140.9h2.2v2.1h-2.2zM326.1 140.9h8.3v2.1h-8.3zM361.1 140.9h2.2v2.1h-2.2zM404.3 140.9h2.2v2.1h-2.2zM451.7 140.9h2.2v2.1h-2.2zM181.5 142.9h2.0v2.1h-2.0zM193.1 142.9h2.0v2.1h-2.0zM206.6 142.9h2.0v2.1h-2.0zM260.8 142.9h2.0v2.1h-2.0zM313.7 142.9h2.2v2.1h-2.2zM330.2 142.9h2.2v2.1h-2.2zM383.7 142.9h2.2v2.1h-2.2zM420.8 142.9h2.2v2.1h-2.2zM451.7 142.9h2.2v2.1h-2.2zM183.4 144.9h2.0v2.1h-2.0zM193.1 144.9h2.0v2.1h-2.0zM245.3 144.9h2.0v2.1h-2.0zM266.6 144.9h2.0v2.1h-2.0zM299.3 144.9h2.2v2.1h-2.2zM322.0 144.9h2.2v2.1h-2.2zM326.1 144.9h2.2v2.1h-2.2zM402.3 144.9h2.2v2.1h-2.2zM231.8 146.9h2.0v2.1h-2.0zM237.6 146.9h4.0v2.1h-4.0zM258.9 146.9h2.0v2.1h-2.0zM262.8 146.9h4.0v2.1h-4.0zM268.6 146.9h2.0v2.1h-2.0zM328.1 146.9h2.2v2.1h-2.2zM338.4 146.9h2.2v2.1h-2.2zM363.1 146.9h2.2v2.1h-2.2zM400.2 146.9h2.2v2.1h-2.2zM404.3 146.9h2.2v2.1h-2.2zM410.5 146.9h2.2v2.1h-2.2zM447.5 146.9h2.2v2.1h-2.2zM453.7 146.9h2.2v2.1h-2.2zM191.1 148.9h2.0v2.1h-2.0zM218.2 148.9h2.0v2.1h-2.0zM235.7 148.9h2.0v2.1h-2.0zM239.5 148.9h4.0v2.1h-4.0zM245.3 148.9h2.0v2.1h-2.0zM266.6 148.9h4.0v2.1h-4.0zM299.3 148.9h2.2v2.1h-2.2zM396.1 148.9h2.2v2.1h-2.2zM424.9 148.9h2.2v2.1h-2.2zM177.6 150.9h2.0v2.1h-2.0zM200.8 150.9h2.0v2.1h-2.0zM260.8 150.9h2.0v2.1h-2.0zM266.6 150.9h2.0v2.1h-2.0zM309.6 150.9h2.2v2.1h-2.2zM336.4 150.9h2.2v2.1h-2.2zM204.7 152.9h2.0v2.1h-2.0zM233.7 152.9h2.0v2.1h-2.0zM262.8 152.9h2.0v2.1h-2.0zM287.0 152.9h2.2v2.1h-2.2zM291.1 152.9h2.2v2.1h-2.2zM427.0 152.9h2.2v2.1h-2.2zM466.1 152.9h2.2v2.1h-2.2zM474.3 152.9h2.2v2.1h-2.2zM177.6 154.9h2.0v2.1h-2.0zM181.5 154.9h2.0v2.1h-2.0zM189.2 154.9h4.0v2.1h-4.0zM198.9 154.9h2.0v2.1h-2.0zM202.8 154.9h2.0v2.1h-2.0zM208.6 154.9h2.0v2.1h-2.0zM216.3 154.9h2.0v2.1h-2.0zM220.2 154.9h2.0v2.1h-2.0zM231.8 154.9h2.0v2.1h-2.0zM235.7 154.9h2.0v2.1h-2.0zM255.0 154.9h2.0v2.1h-2.0zM266.6 154.9h2.0v2.1h-2.0zM307.6 154.9h2.2v2.1h-2.2zM346.7 154.9h4.2v2.1h-4.2zM359.0 154.9h2.2v2.1h-2.2zM466.1 154.9h4.2v2.1h-4.2zM222.1 156.9h2.0v2.1h-2.0zM237.6 156.9h2.0v2.1h-2.0zM241.5 156.9h2.0v2.1h-2.0zM245.3 156.9h2.0v2.1h-2.0zM258.9 156.9h2.0v2.1h-2.0zM443.4 156.9h2.2v2.1h-2.2zM455.8 156.9h2.2v2.1h-2.2zM177.6 158.9h4.0v2.1h-4.0zM185.3 158.9h2.0v2.1h-2.0zM191.1 158.9h2.0v2.1h-2.0zM195.0 158.9h2.0v2.1h-2.0zM200.8 158.9h2.0v2.1h-2.0zM237.6 158.9h2.0v2.1h-2.0zM245.3 158.9h2.0v2.1h-2.0zM367.3 158.9h2.2v2.1h-2.2zM441.4 158.9h2.2v2.1h-2.2zM462.0 158.9h2.2v2.1h-2.2zM179.5 160.9h2.0v2.1h-2.0zM245.3 162.9h2.0v2.1h-2.0zM361.1 162.9h2.2v2.1h-2.2zM212.4 166.9h2.0v2.1h-2.0zM179.5 172.9h2.0v2.1h-2.0zM348.7 172.9h2.2v2.1h-2.2zM224.1 176.9h2.0v2.1h-2.0zM258.9 176.9h2.0v2.1h-2.0zM257.0 178.9h2.0v2.1h-2.0zM301.4 184.9h2.2v2.1h-2.2zM457.8 184.9h2.2v2.1h-2.2zM303.4 186.9h2.2v2.1h-2.2zM340.5 186.9h2.2v2.1h-2.2zM346.7 186.9h2.2v2.1h-2.2zM291.1 188.9h4.2v2.1h-4.2zM313.7 188.9h2.2v2.1h-2.2zM291.1 190.9h2.2v2.1h-2.2zM305.5 190.9h2.2v2.1h-2.2zM422.8 190.9h2.2v2.1h-2.2zM445.5 190.9h2.2v2.1h-2.2zM313.7 192.9h2.2v2.1h-2.2zM276.7 194.9h2.2v2.1h-2.2zM291.1 194.9h2.2v2.1h-2.2zM387.8 194.9h2.2v2.1h-2.2zM406.4 194.9h2.2v2.1h-2.2zM179.5 196.9h2.0v2.1h-2.0zM268.6 196.9h2.0v2.1h-2.0zM276.7 196.9h2.2v2.1h-2.2zM287.0 196.9h4.2v2.1h-4.2zM293.1 196.9h2.2v2.1h-2.2zM297.3 196.9h2.2v2.1h-2.2zM301.4 196.9h2.2v2.1h-2.2zM307.6 196.9h2.2v2.1h-2.2zM317.8 196.9h2.2v2.1h-2.2zM338.4 196.9h2.2v2.1h-2.2zM350.8 196.9h2.2v2.1h-2.2zM262.8 198.9h2.0v2.1h-2.0zM418.7 198.9h2.2v2.1h-2.2zM431.1 198.9h2.2v2.1h-2.2zM462.0 198.9h2.2v2.1h-2.2zM183.4 211.0h2.0v2.1h-2.0zM183.4 219.0h4.0v2.1h-4.0zM198.9 219.0h2.0v2.1h-2.0zM202.8 219.0h2.0v2.1h-2.0zM212.4 219.0h2.0v2.1h-2.0zM218.2 219.0h2.0v2.1h-2.0zM233.7 219.0h2.0v2.1h-2.0zM247.3 219.0h2.0v2.1h-2.0zM268.6 219.0h2.0v2.1h-2.0zM272.6 219.0h4.2v2.1h-4.2zM299.3 219.0h2.2v2.1h-2.2zM303.4 219.0h2.2v2.1h-2.2zM371.4 219.0h4.2v2.1h-4.2zM387.8 219.0h2.2v2.1h-2.2zM394.0 219.0h2.2v2.1h-2.2zM398.1 219.0h4.2v2.1h-4.2zM410.5 219.0h2.2v2.1h-2.2zM414.6 219.0h2.2v2.1h-2.2zM449.6 219.0h2.2v2.1h-2.2zM453.7 219.0h2.2v2.1h-2.2zM462.0 219.0h2.2v2.1h-2.2zM468.1 219.0h2.2v2.1h-2.2zM472.2 219.0h2.2v2.1h-2.2zM482.5 219.0h2.2v2.1h-2.2zM191.1 221.0h2.0v2.1h-2.0zM200.8 221.0h2.0v2.1h-2.0zM204.7 221.0h2.0v2.1h-2.0zM233.7 221.0h2.0v2.1h-2.0zM245.3 221.0h2.0v2.1h-2.0zM270.5 221.0h2.2v2.1h-2.2zM274.6 221.0h2.2v2.1h-2.2zM303.4 221.0h2.2v2.1h-2.2zM371.4 221.0h2.2v2.1h-2.2zM392.0 221.0h2.2v2.1h-2.2zM398.1 221.0h4.2v2.1h-4.2zM418.7 221.0h2.2v2.1h-2.2zM443.4 221.0h4.2v2.1h-4.2zM482.5 221.0h2.2v2.1h-2.2zM179.5 223.0h2.0v2.1h-2.0zM218.2 223.0h2.0v2.1h-2.0zM231.8 223.0h2.0v2.1h-2.0zM237.6 223.0h2.0v2.1h-2.0zM274.6 223.0h2.2v2.1h-2.2zM367.3 223.0h2.2v2.1h-2.2zM418.7 223.0h2.2v2.1h-2.2zM476.4 223.0h2.2v2.1h-2.2zM482.5 223.0h2.2v2.1h-2.2zM214.4 225.0h2.0v2.1h-2.0zM239.5 225.0h2.0v2.1h-2.0zM243.4 225.0h4.0v2.1h-4.0zM257.0 225.0h2.0v2.1h-2.0zM307.6 225.0h2.2v2.1h-2.2zM311.7 225.0h2.2v2.1h-2.2zM346.7 225.0h2.2v2.1h-2.2zM412.5 225.0h2.2v2.1h-2.2zM464.0 225.0h2.2v2.1h-2.2zM189.2 227.0h2.0v2.1h-2.0zM245.3 227.0h2.0v2.1h-2.0zM262.8 227.0h2.0v2.1h-2.0zM289.0 227.0h2.2v2.1h-2.2zM301.4 227.0h2.2v2.1h-2.2zM371.4 227.0h2.2v2.1h-2.2zM445.5 227.0h2.2v2.1h-2.2zM457.8 227.0h2.2v2.1h-2.2zM474.3 227.0h2.2v2.1h-2.2zM177.6 229.0h2.0v2.1h-2.0zM187.3 229.0h2.0v2.1h-2.0zM198.9 229.0h2.0v2.1h-2.0zM206.6 229.0h2.0v2.1h-2.0zM237.6 229.0h2.0v2.1h-2.0zM243.4 229.0h2.0v2.1h-2.0zM270.5 229.0h2.2v2.1h-2.2zM287.0 229.0h2.2v2.1h-2.2zM309.6 229.0h2.2v2.1h-2.2zM352.8 229.0h2.2v2.1h-2.2zM414.6 229.0h6.3v2.1h-6.3zM462.0 229.0h2.2v2.1h-2.2zM472.2 229.0h2.2v2.1h-2.2zM480.5 229.0h2.2v2.1h-2.2zM183.4 231.0h2.0v2.1h-2.0zM204.7 231.0h2.0v2.1h-2.0zM258.9 231.0h2.0v2.1h-2.0zM291.1 231.0h2.2v2.1h-2.2zM299.3 231.0h2.2v2.1h-2.2zM462.0 231.0h2.2v2.1h-2.2zM474.3 231.0h2.2v2.1h-2.2zM328.1 233.0h2.2v2.1h-2.2zM350.8 233.0h2.2v2.1h-2.2zM365.2 233.0h2.2v2.1h-2.2zM381.7 233.0h2.2v2.1h-2.2zM424.9 233.0h2.2v2.1h-2.2zM441.4 233.0h2.2v2.1h-2.2zM183.4 235.0h2.0v2.1h-2.0zM224.1 235.0h2.0v2.1h-2.0zM239.5 235.0h2.0v2.1h-2.0zM268.6 235.0h2.0v2.1h-2.0zM278.7 235.0h2.2v2.1h-2.2zM287.0 235.0h2.2v2.1h-2.2zM311.7 235.0h4.2v2.1h-4.2zM340.5 235.0h2.2v2.1h-2.2zM365.2 235.0h2.2v2.1h-2.2zM379.6 235.0h2.2v2.1h-2.2zM416.7 235.0h2.2v2.1h-2.2zM424.9 235.0h2.2v2.1h-2.2zM431.1 235.0h2.2v2.1h-2.2zM439.3 235.0h2.2v2.1h-2.2z"/>
<path fill="#8d0303" d="M191.1 92.8h2.0v2.1h-2.0zM218.2 92.8h2.0v2.1h-2.0zM224.1 92.8h2.0v2.1h-2.0zM227.9 92.8h2.0v2.1h-2.0zM179.5 100.8h2.0v2.1h-2.0zM255.0 100.8h2.0v2.1h-2.0zM226.0 102.8h2.0v2.1h-2.0zM243.4 104.8h2.0v2.1h-2.0zM187.3 108.8h2.0v2.1h-2.0zM193.1 108.8h2.0v2.1h-2.0zM183.4 118.8h2.0v2.1h-2.0zM191.1 118.8h2.0v2.1h-2.0zM198.9 118.8h2.0v2.1h-2.0zM181.5 120.8h2.0v2.1h-2.0zM193.1 120.8h2.0v2.1h-2.0zM202.8 120.8h2.0v2.1h-2.0zM227.9 120.8h4.0v2.1h-4.0zM249.2 120.8h2.0v2.1h-2.0zM262.8 120.8h2.0v2.1h-2.0zM291.1 120.8h2.2v2.1h-2.2zM385.8 120.8h2.2v2.1h-2.2zM389.9 120.8h2.2v2.1h-2.2zM179.5 122.8h2.0v2.1h-2.0zM193.1 122.8h2.0v2.1h-2.0zM198.9 122.8h2.0v2.1h-2.0zM206.6 122.8h2.0v2.1h-2.0zM216.3 122.8h2.0v2.1h-2.0zM241.5 122.8h2.0v2.1h-2.0zM249.2 122.8h2.0v2.1h-2.0zM255.0 122.8h2.0v2.1h-2.0zM313.7 122.8h2.2v2.1h-2.2zM392.0 122.8h2.2v2.1h-2.2zM195.0 124.8h4.0v2.1h-4.0zM208.6 124.8h2.0v2.1h-2.0zM216.3 124.8h2.0v2.1h-2.0zM348.7 124.8h2.2v2.1h-2.2zM470.2 124.8h2.2v2.1h-2.2zM179.5 126.8h2.0v2.1h-2.0zM183.4 126.8h2.0v2.1h-2.0zM262.8 126.8h2.0v2.1h-2.0zM266.6 126.8h2.0v2.1h-2.0zM431.1 126.8h2.2v2.1h-2.2zM181.5 128.8h2.0v2.1h-2.0zM197.0 128.8h2.0v2.1h-2.0zM208.6 128.8h2.0v2.1h-2.0zM187.3 130.9h2.0v2.1h-2.0zM193.1 130.9h4.0v2.1h-4.0zM198.9 130.9h4.0v2.1h-4.0zM206.6 130.9h2.0v2.1h-2.0zM210.5 130.9h2.0v2.1h-2.0zM222.1 130.9h2.0v2.1h-2.0zM195.0 132.9h2.0v2.1h-2.0zM210.5 132.9h2.0v2.1h-2.0zM193.1 134.9h2.0v2.1h-2.0zM210.5 134.9h2.0v2.1h-2.0zM216.3 134.9h2.0v2.1h-2.0zM251.1 134.9h2.0v2.1h-2.0zM262.8 134.9h2.0v2.1h-2.0zM233.7 136.9h2.0v2.1h-2.0zM237.6 136.9h2.0v2.1h-2.0zM305.5 136.9h2.2v2.1h-2.2zM309.6 136.9h2.2v2.1h-2.2zM189.2 138.9h2.0v2.1h-2.0zM237.6 138.9h2.0v2.1h-2.0zM258.9 138.9h2.0v2.1h-2.0zM268.6 138.9h2.0v2.1h-2.0zM301.4 138.9h2.2v2.1h-2.2zM208.6 140.9h2.0v2.1h-2.0zM231.8 140.9h2.0v2.1h-2.0zM291.1 140.9h2.2v2.1h-2.2zM315.8 140.9h2.2v2.1h-2.2zM324.0 140.9h2.2v2.1h-2.2zM377.6 140.9h2.2v2.1h-2.2zM381.7 140.9h2.2v2.1h-2.2zM416.7 140.9h2.2v2.1h-2.2zM191.1 142.9h2.0v2.1h-2.0zM198.9 142.9h2.0v2.1h-2.0zM202.8 142.9h2.0v2.1h-2.0zM208.6 142.9h2.0v2.1h-2.0zM262.8 142.9h4.0v2.1h-4.0zM297.3 142.9h4.2v2.1h-4.2zM319.9 142.9h2.2v2.1h-2.2zM324.0 142.9h4.2v2.1h-4.2zM375.5 142.9h2.2v2.1h-2.2zM402.3 142.9h2.2v2.1h-2.2zM414.6 142.9h4.2v2.1h-4.2zM447.5 142.9h4.2v2.1h-4.2zM198.9 144.9h2.0v2.1h-2.0zM404.3 144.9h2.2v2.1h-2.2zM416.7 144.9h2.2v2.1h-2.2zM443.4 144.9h4.2v2.1h-4.2zM202.8 146.9h2.0v2.1h-2.0zM224.1 146.9h2.0v2.1h-2.0zM247.3 146.9h4.0v2.1h-4.0zM257.0 146.9h2.0v2.1h-2.0zM260.8 146.9h2.0v2.1h-2.0zM307.6 146.9h2.2v2.1h-2.2zM319.9 146.9h2.2v2.1h-2.2zM332.3 146.9h2.2v2.1h-2.2zM394.0 146.9h2.2v2.1h-2.2zM402.3 146.9h2.2v2.1h-2.2zM220.2 148.9h2.0v2.1h-2.0zM243.4 148.9h2.0v2.1h-2.0zM253.1 148.9h2.0v2.1h-2.0zM369.3 148.9h4.2v2.1h-4.2zM377.6 148.9h2.2v2.1h-2.2zM453.7 148.9h4.2v2.1h-4.2zM179.5 150.9h2.0v2.1h-2.0zM202.8 150.9h2.0v2.1h-2.0zM206.6 150.9h4.0v2.1h-4.0zM218.2 150.9h2.0v2.1h-2.0zM227.9 150.9h2.0v2.1h-2.0zM231.8 150.9h2.0v2.1h-2.0zM237.6 150.9h4.0v2.1h-4.0zM247.3 150.9h2.0v2.1h-2.0zM257.0 150.9h2.0v2.1h-2.0zM315.8 150.9h2.2v2.1h-2.2zM396.1 150.9h2.2v2.1h-2.2zM400.2 150.9h2.2v2.1h-2.2zM181.5 152.9h2.0v2.1h-2.0zM189.2 152.9h4.0v2.1h-4.0zM220.2 152.9h2.0v2.1h-2.0zM249.2 152.9h2.0v2.1h-2.0zM266.6 152.9h2.0v2.1h-2.0zM293.1 152.9h2.2v2.1h-2.2zM359.0 152.9h2.2v2.1h-2.2zM369.3 152.9h2.2v2.1h-2.2zM373.4 152.9h2.2v2.1h-2.2zM464.0 152.9h2.2v2.1h-2.2zM468.1 152.9h2.2v2.1h-2.2zM476.4 152.9h2.2v2.1h-2.2zM183.4 154.9h2.0v2.1h-2.0zM187.3 154.9h2.0v2.1h-2.0zM195.0 154.9h2.0v2.1h-2.0zM245.3 154.9h2.0v2.1h-2.0zM249.2 154.9h4.0v2.1h-4.0zM352.8 154.9h2.2v2.1h-2.2zM381.7 154.9h2.2v2.1h-2.2zM451.7 154.9h2.2v2.1h-2.2zM480.5 154.9h2.2v2.1h-2.2zM200.8 156.9h2.0v2.1h-2.0zM243.4 156.9h2.0v2.1h-2.0zM249.2 156.9h2.0v2.1h-2.0zM317.8 156.9h2.2v2.1h-2.2zM466.1 156.9h2.2v2.1h-2.2zM472.2 156.9h2.2v2.1h-2.2zM231.8 158.9h4.0v2.1h-4.0zM249.2 158.9h4.0v2.1h-4.0zM257.0 158.9h2.0v2.1h-2.0zM260.8 158.9h2.0v2.1h-2.0zM365.2 158.9h2.2v2.1h-2.2zM445.5 158.9h2.2v2.1h-2.2zM367.3 160.9h2.2v2.1h-2.2zM179.5 178.9h2.0v2.1h-2.0zM297.3 184.9h2.2v2.1h-2.2zM305.5 184.9h2.2v2.1h-2.2zM309.6 184.9h2.2v2.1h-2.2zM319.9 184.9h2.2v2.1h-2.2zM287.0 186.9h2.2v2.1h-2.2zM317.8 186.9h2.2v2.1h-2.2zM293.1 190.9h2.2v2.1h-2.2zM297.3 190.9h2.2v2.1h-2.2zM274.6 192.9h4.2v2.1h-4.2zM297.3 192.9h2.2v2.1h-2.2zM305.5 192.9h4.2v2.1h-4.2zM274.6 194.9h2.2v2.1h-2.2zM311.7 194.9h4.2v2.1h-4.2zM299.3 196.9h2.2v2.1h-2.2zM309.6 196.9h2.2v2.1h-2.2zM420.8 196.9h4.2v2.1h-4.2zM233.7 198.9h2.0v2.1h-2.0zM342.6 198.9h2.2v2.1h-2.2zM439.3 198.9h2.2v2.1h-2.2zM179.5 211.0h2.0v2.1h-2.0zM179.5 219.0h2.0v2.1h-2.0zM200.8 219.0h2.0v2.1h-2.0zM224.1 219.0h2.0v2.1h-2.0zM245.3 219.0h2.0v2.1h-2.0zM257.0 219.0h2.0v2.1h-2.0zM260.8 219.0h2.0v2.1h-2.0zM280.8 219.0h2.2v2.1h-2.2zM305.5 219.0h2.2v2.1h-2.2zM315.8 219.0h2.2v2.1h-2.2zM334.3 219.0h2.2v2.1h-2.2zM359.0 219.0h2.2v2.1h-2.2zM363.1 219.0h2.2v2.1h-2.2zM392.0 219.0h2.2v2.1h-2.2zM478.4 219.0h2.2v2.1h-2.2zM181.5 221.0h2.0v2.1h-2.0zM189.2 221.0h2.0v2.1h-2.0zM206.6 221.0h2.0v2.1h-2.0zM220.2 221.0h2.0v2.1h-2.0zM255.0 221.0h2.0v2.1h-2.0zM289.0 221.0h2.2v2.1h-2.2zM293.1 221.0h2.2v2.1h-2.2zM301.4 221.0h2.2v2.1h-2.2zM311.7 221.0h2.2v2.1h-2.2zM315.8 221.0h2.2v2.1h-2.2zM367.3 221.0h2.2v2.1h-2.2zM377.6 221.0h4.2v2.1h-4.2zM387.8 221.0h4.2v2.1h-4.2zM416.7 221.0h2.2v2.1h-2.2zM441.4 221.0h2.2v2.1h-2.2zM476.4 221.0h2.2v2.1h-2.2zM480.5 221.0h2.2v2.1h-2.2zM177.6 223.0h2.0v2.1h-2.0zM204.7 223.0h2.0v2.1h-2.0zM284.9 223.0h2.2v2.1h-2.2zM289.0 223.0h2.2v2.1h-2.2zM303.4 223.0h4.2v2.1h-4.2zM363.1 223.0h2.2v2.1h-2.2zM379.6 223.0h4.2v2.1h-4.2zM396.1 223.0h2.2v2.1h-2.2zM412.5 223.0h2.2v2.1h-2.2zM420.8 223.0h2.2v2.1h-2.2zM435.2 223.0h4.2v2.1h-4.2zM200.8 225.0h4.0v2.1h-4.0zM247.3 225.0h2.0v2.1h-2.0zM266.6 225.0h4.0v2.1h-4.0zM289.0 225.0h2.2v2.1h-2.2zM389.9 225.0h4.2v2.1h-4.2zM416.7 225.0h2.2v2.1h-2.2zM420.8 225.0h2.2v2.1h-2.2zM437.3 225.0h2.2v2.1h-2.2zM466.1 225.0h2.2v2.1h-2.2zM193.1 227.0h2.0v2.1h-2.0zM247.3 227.0h2.0v2.1h-2.0zM287.0 227.0h2.2v2.1h-2.2zM291.1 227.0h2.2v2.1h-2.2zM315.8 227.0h2.2v2.1h-2.2zM373.4 227.0h2.2v2.1h-2.2zM398.1 227.0h2.2v2.1h-2.2zM189.2 229.0h2.0v2.1h-2.0zM197.0 229.0h2.0v2.1h-2.0zM222.1 229.0h2.0v2.1h-2.0zM260.8 229.0h2.0v2.1h-2.0zM295.2 229.0h2.2v2.1h-2.2zM348.7 229.0h2.2v2.1h-2.2zM369.3 229.0h2.2v2.1h-2.2zM373.4 229.0h2.2v2.1h-2.2zM433.1 229.0h2.2v2.1h-2.2zM177.6 231.0h2.0v2.1h-2.0zM214.4 231.0h2.0v2.1h-2.0zM264.7 231.0h2.0v2.1h-2.0zM268.6 231.0h2.0v2.1h-2.0zM307.6 231.0h2.2v2.1h-2.2zM357.0 231.0h2.2v2.1h-2.2zM363.1 231.0h2.2v2.1h-2.2zM369.3 231.0h6.3v2.1h-6.3zM400.2 231.0h2.2v2.1h-2.2zM464.0 231.0h2.2v2.1h-2.2zM470.2 231.0h2.2v2.1h-2.2zM476.4 231.0h2.2v2.1h-2.2zM183.4 233.0h2.0v2.1h-2.0zM212.4 233.0h2.0v2.1h-2.0zM280.8 233.0h2.2v2.1h-2.2zM293.1 233.0h2.2v2.1h-2.2zM305.5 233.0h2.2v2.1h-2.2zM313.7 233.0h4.2v2.1h-4.2zM348.7 233.0h2.2v2.1h-2.2zM354.9 233.0h2.2v2.1h-2.2zM420.8 233.0h2.2v2.1h-2.2zM429.0 233.0h2.2v2.1h-2.2zM439.3 233.0h2.2v2.1h-2.2zM195.0 235.0h2.0v2.1h-2.0zM212.4 235.0h2.0v2.1h-2.0zM229.9 235.0h2.0v2.1h-2.0zM237.6 235.0h2.0v2.1h-2.0zM245.3 235.0h2.0v2.1h-2.0zM257.0 235.0h4.0v2.1h-4.0zM289.0 235.0h2.2v2.1h-2.2zM293.1 235.0h2.2v2.1h-2.2zM299.3 235.0h2.2v2.1h-2.2zM315.8 235.0h2.2v2.1h-2.2zM336.4 235.0h2.2v2.1h-2.2zM389.9 235.0h2.2v2.1h-2.2zM408.4 235.0h2.2v2.1h-2.2zM447.5 235.0h2.2v2.1h-2.2zM451.7 235.0h2.2v2.1h-2.2zM464.0 235.0h2.2v2.1h-2.2zM476.4 235.0h2.2v2.1h-2.2z"/>
<path fill="#a40404" d="M226.0 92.8h2.0v2.1h-2.0zM348.7 96.8h2.2v2.1h-2.2zM187.3 100.8h2.0v2.1h-2.0zM191.1 100.8h2.0v2.1h-2.0zM373.4 102.8h2.2v2.1h-2.2zM189.2 108.8h2.0v2.1h-2.0zM195.0 108.8h2.0v2.1h-2.0zM185.3 110.8h5.9v2.1h-5.9zM198.9 110.8h2.0v2.1h-2.0zM243.4 112.8h2.0v2.1h-2.0zM251.1 112.8h2.0v2.1h-2.0zM200.8 120.8h2.0v2.1h-2.0zM204.7 120.8h2.0v2.1h-2.0zM216.3 120.8h2.0v2.1h-2.0zM231.8 120.8h2.0v2.1h-2.0zM260.8 120.8h2.0v2.1h-2.0zM266.6 120.8h4.0v2.1h-4.0zM183.4 122.8h2.0v2.1h-2.0zM189.2 122.8h4.0v2.1h-4.0zM233.7 122.8h2.0v2.1h-2.0zM237.6 122.8h2.0v2.1h-2.0zM243.4 122.8h2.0v2.1h-2.0zM247.3 122.8h2.0v2.1h-2.0zM202.8 124.8h2.0v2.1h-2.0zM332.3 126.8h2.2v2.1h-2.2zM379.6 126.8h2.2v2.1h-2.2zM468.1 126.8h2.2v2.1h-2.2zM474.3 126.8h2.2v2.1h-2.2zM210.5 128.8h2.0v2.1h-2.0zM214.4 128.8h4.0v2.1h-4.0zM208.6 130.9h2.0v2.1h-2.0zM189.2 132.9h2.0v2.1h-2.0zM208.6 132.9h2.0v2.1h-2.0zM262.8 132.9h2.0v2.1h-2.0zM266.6 132.9h2.0v2.1h-2.0zM189.2 134.9h2.0v2.1h-2.0zM198.9 134.9h2.0v2.1h-2.0zM208.6 134.9h2.0v2.1h-2.0zM249.2 134.9h2.0v2.1h-2.0zM187.3 136.9h2.0v2.1h-2.0zM262.8 136.9h4.0v2.1h-4.0zM367.3 136.9h2.2v2.1h-2.2zM191.1 138.9h2.0v2.1h-2.0zM231.8 138.9h2.0v2.1h-2.0zM309.6 138.9h2.2v2.1h-2.2zM187.3 140.9h2.0v2.1h-2.0zM226.0 140.9h2.0v2.1h-2.0zM229.9 140.9h2.0v2.1h-2.0zM258.9 140.9h2.0v2.1h-2.0zM264.7 140.9h2.0v2.1h-2.0zM289.0 140.9h2.2v2.1h-2.2zM295.2 140.9h2.2v2.1h-2.2zM371.4 140.9h2.2v2.1h-2.2zM379.6 140.9h2.2v2.1h-2.2zM406.4 140.9h2.2v2.1h-2.2zM410.5 140.9h2.2v2.1h-2.2zM447.5 140.9h2.2v2.1h-2.2zM231.8 142.9h2.0v2.1h-2.0zM237.6 142.9h2.0v2.1h-2.0zM249.2 142.9h2.0v2.1h-2.0zM258.9 142.9h2.0v2.1h-2.0zM266.6 142.9h4.0v2.1h-4.0zM301.4 142.9h2.2v2.1h-2.2zM328.1 142.9h2.2v2.1h-2.2zM404.3 142.9h2.2v2.1h-2.2zM408.4 142.9h2.2v2.1h-2.2zM453.7 142.9h2.2v2.1h-2.2zM197.0 144.9h2.0v2.1h-2.0zM243.4 144.9h2.0v2.1h-2.0zM262.8 144.9h2.0v2.1h-2.0zM324.0 144.9h2.2v2.1h-2.2zM406.4 144.9h2.2v2.1h-2.2zM193.1 146.9h2.0v2.1h-2.0zM204.7 146.9h2.0v2.1h-2.0zM208.6 146.9h2.0v2.1h-2.0zM220.2 146.9h4.0v2.1h-4.0zM233.7 146.9h2.0v2.1h-2.0zM251.1 146.9h2.0v2.1h-2.0zM255.0 146.9h2.0v2.1h-2.0zM266.6 146.9h2.0v2.1h-2.0zM297.3 146.9h2.2v2.1h-2.2zM369.3 146.9h2.2v2.1h-2.2zM373.4 146.9h2.2v2.1h-2.2zM381.7 146.9h2.2v2.1h-2.2zM416.7 146.9h2.2v2.1h-2.2zM424.9 146.9h2.2v2.1h-2.2zM443.4 146.9h4.2v2.1h-4.2zM183.4 148.9h2.0v2.1h-2.0zM200.8 148.9h4.0v2.1h-4.0zM222.1 148.9h2.0v2.1h-2.0zM451.7 148.9h2.2v2.1h-2.2zM191.1 150.9h2.0v2.1h-2.0zM220.2 150.9h4.0v2.1h-4.0zM233.7 150.9h2.0v2.1h-2.0zM241.5 150.9h2.0v2.1h-2.0zM258.9 150.9h2.0v2.1h-2.0zM262.8 150.9h2.0v2.1h-2.0zM369.3 150.9h2.2v2.1h-2.2zM243.4 152.9h2.0v2.1h-2.0zM309.6 152.9h2.2v2.1h-2.2zM352.8 152.9h2.2v2.1h-2.2zM470.2 152.9h4.2v2.1h-4.2zM478.4 152.9h4.2v2.1h-4.2zM197.0 154.9h2.0v2.1h-2.0zM204.7 154.9h2.0v2.1h-2.0zM357.0 154.9h2.2v2.1h-2.2zM371.4 154.9h2.2v2.1h-2.2zM449.6 154.9h2.2v2.1h-2.2zM457.8 154.9h2.2v2.1h-2.2zM464.0 154.9h2.2v2.1h-2.2zM470.2 154.9h4.2v2.1h-4.2zM177.6 156.9h2.0v2.1h-2.0zM185.3 156.9h2.0v2.1h-2.0zM191.1 156.9h4.0v2.1h-4.0zM198.9 156.9h2.0v2.1h-2.0zM210.5 156.9h2.0v2.1h-2.0zM216.3 156.9h2.0v2.1h-2.0zM363.1 156.9h4.2v2.1h-4.2zM447.5 156.9h4.2v2.1h-4.2zM459.9 156.9h2.2v2.1h-2.2zM468.1 156.9h4.2v2.1h-4.2zM197.0 158.9h2.0v2.1h-2.0zM210.5 158.9h2.0v2.1h-2.0zM216.3 158.9h2.0v2.1h-2.0zM222.1 158.9h2.0v2.1h-2.0zM247.3 158.9h2.0v2.1h-2.0zM361.1 158.9h2.2v2.1h-2.2zM464.0 158.9h2.2v2.1h-2.2zM472.2 158.9h4.2v2.1h-4.2zM229.9 176.9h2.0v2.1h-2.0zM291.1 186.9h2.2v2.1h-2.2zM307.6 186.9h2.2v2.1h-2.2zM311.7 186.9h2.2v2.1h-2.2zM301.4 188.9h2.2v2.1h-2.2zM287.0 192.9h2.2v2.1h-2.2zM270.5 194.9h2.2v2.1h-2.2zM295.2 194.9h2.2v2.1h-2.2zM303.4 194.9h2.2v2.1h-2.2zM274.6 196.9h2.2v2.1h-2.2zM282.9 196.9h2.2v2.1h-2.2zM291.1 196.9h2.2v2.1h-2.2zM406.4 196.9h2.2v2.1h-2.2zM305.5 198.9h6.3v2.1h-6.3zM317.8 198.9h2.2v2.1h-2.2zM420.8 198.9h2.2v2.1h-2.2zM189.2 219.0h2.0v2.1h-2.0zM214.4 219.0h4.0v2.1h-4.0zM220.2 219.0h2.0v2.1h-2.0zM266.6 219.0h2.0v2.1h-2.0zM270.5 219.0h2.2v2.1h-2.2zM282.9 219.0h2.2v2.1h-2.2zM309.6 219.0h2.2v2.1h-2.2zM313.7 219.0h2.2v2.1h-2.2zM324.0 219.0h2.2v2.1h-2.2zM336.4 219.0h2.2v2.1h-2.2zM342.6 219.0h2.2v2.1h-2.2zM352.8 219.0h2.2v2.1h-2.2zM389.9 219.0h2.2v2.1h-2.2zM412.5 219.0h2.2v2.1h-2.2zM464.0 219.0h4.2v2.1h-4.2zM193.1 221.0h2.0v2.1h-2.0zM198.9 221.0h2.0v2.1h-2.0zM287.0 221.0h2.2v2.1h-2.2zM291.1 221.0h2.2v2.1h-2.2zM297.3 221.0h4.2v2.1h-4.2zM326.1 221.0h2.2v2.1h-2.2zM363.1 221.0h2.2v2.1h-2.2zM369.3 221.0h2.2v2.1h-2.2zM278.7 223.0h2.2v2.1h-2.2zM282.9 223.0h2.2v2.1h-2.2zM307.6 223.0h4.2v2.1h-4.2zM315.8 223.0h2.2v2.1h-2.2zM369.3 223.0h2.2v2.1h-2.2zM416.7 223.0h2.2v2.1h-2.2zM179.5 225.0h2.0v2.1h-2.0zM191.1 225.0h2.0v2.1h-2.0zM208.6 225.0h4.0v2.1h-4.0zM233.7 225.0h2.0v2.1h-2.0zM359.0 225.0h2.2v2.1h-2.2zM371.4 225.0h2.2v2.1h-2.2zM396.1 225.0h2.2v2.1h-2.2zM404.3 225.0h2.2v2.1h-2.2zM476.4 225.0h2.2v2.1h-2.2zM480.5 225.0h4.2v2.1h-4.2zM206.6 227.0h2.0v2.1h-2.0zM251.1 227.0h2.0v2.1h-2.0zM293.1 227.0h2.2v2.1h-2.2zM447.5 227.0h2.2v2.1h-2.2zM455.8 227.0h2.2v2.1h-2.2zM480.5 227.0h2.2v2.1h-2.2zM233.7 229.0h2.0v2.1h-2.0zM266.6 229.0h2.0v2.1h-2.0zM297.3 229.0h2.2v2.1h-2.2zM350.8 229.0h2.2v2.1h-2.2zM363.1 229.0h2.2v2.1h-2.2zM371.4 229.0h2.2v2.1h-2.2zM410.5 229.0h2.2v2.1h-2.2zM179.5 231.0h2.0v2.1h-2.0zM218.2 231.0h2.0v2.1h-2.0zM227.9 231.0h4.0v2.1h-4.0zM266.6 231.0h2.0v2.1h-2.0zM293.1 231.0h2.2v2.1h-2.2zM303.4 231.0h2.2v2.1h-2.2zM313.7 231.0h2.2v2.1h-2.2zM392.0 231.0h2.2v2.1h-2.2zM396.1 231.0h2.2v2.1h-2.2zM412.5 231.0h4.2v2.1h-4.2zM468.1 231.0h2.2v2.1h-2.2zM177.6 233.0h2.0v2.1h-2.0zM247.3 233.0h2.0v2.1h-2.0zM307.6 233.0h2.2v2.1h-2.2zM336.4 233.0h2.2v2.1h-2.2zM369.3 233.0h2.2v2.1h-2.2zM410.5 233.0h2.2v2.1h-2.2zM416.7 233.0h2.2v2.1h-2.2zM422.8 233.0h2.2v2.1h-2.2zM455.8 233.0h2.2v2.1h-2.2zM466.1 233.0h2.2v2.1h-2.2zM474.3 233.0h2.2v2.1h-2.2zM198.9 235.0h2.0v2.1h-2.0zM220.2 235.0h2.0v2.1h-2.0zM227.9 235.0h2.0v2.1h-2.0zM249.2 235.0h2.0v2.1h-2.0zM266.6 235.0h2.0v2.1h-2.0zM282.9 235.0h2.2v2.1h-2.2zM305.5 235.0h2.2v2.1h-2.2zM352.8 235.0h2.2v2.1h-2.2zM369.3 235.0h2.2v2.1h-2.2zM412.5 235.0h2.2v2.1h-2.2z"/>
<path fill="#bc0404" d="M243.4 92.8h2.0v2.1h-2.0zM243.4 94.8h2.0v2.1h-2.0zM257.0 94.8h2.0v2.1h-2.0zM262.8 94.8h2.0v2.1h-2.0zM181.5 98.8h2.0v2.1h-2.0zM373.4 98.8h2.2v2.1h-2.2zM369.3 102.8h2.2v2.1h-2.2zM239.5 112.8h2.0v2.1h-2.0zM212.4 116.8h2.0v2.1h-2.0zM197.0 120.8h2.0v2.1h-2.0zM241.5 120.8h2.0v2.1h-2.0zM251.1 120.8h2.0v2.1h-2.0zM264.7 120.8h2.0v2.1h-2.0zM197.0 122.8h2.0v2.1h-2.0zM253.1 122.8h2.0v2.1h-2.0zM266.6 122.8h2.0v2.1h-2.0zM287.0 122.8h2.2v2.1h-2.2zM191.1 130.9h2.0v2.1h-2.0zM220.2 132.9h2.0v2.1h-2.0zM191.1 134.9h2.0v2.1h-2.0zM197.0 134.9h2.0v2.1h-2.0zM258.9 134.9h2.0v2.1h-2.0zM181.5 136.9h2.0v2.1h-2.0zM189.2 136.9h2.0v2.1h-2.0zM266.6 136.9h2.0v2.1h-2.0zM311.7 136.9h6.3v2.1h-6.3zM363.1 136.9h2.2v2.1h-2.2zM181.5 138.9h2.0v2.1h-2.0zM189.2 140.9h2.0v2.1h-2.0zM227.9 140.9h2.0v2.1h-2.0zM233.7 140.9h2.0v2.1h-2.0zM268.6 140.9h2.0v2.1h-2.0zM293.1 140.9h2.2v2.1h-2.2zM307.6 140.9h2.2v2.1h-2.2zM449.6 140.9h2.2v2.1h-2.2zM453.7 140.9h2.2v2.1h-2.2zM197.0 142.9h2.0v2.1h-2.0zM200.8 142.9h2.0v2.1h-2.0zM233.7 142.9h4.0v2.1h-4.0zM251.1 142.9h2.0v2.1h-2.0zM361.1 142.9h2.2v2.1h-2.2zM381.7 142.9h2.2v2.1h-2.2zM455.8 142.9h2.2v2.1h-2.2zM210.5 144.9h2.0v2.1h-2.0zM222.1 144.9h2.0v2.1h-2.0zM226.0 144.9h2.0v2.1h-2.0zM229.9 144.9h2.0v2.1h-2.0zM447.5 144.9h2.2v2.1h-2.2zM195.0 146.9h2.0v2.1h-2.0zM198.9 146.9h2.0v2.1h-2.0zM301.4 146.9h4.2v2.1h-4.2zM334.3 146.9h2.2v2.1h-2.2zM377.6 146.9h2.2v2.1h-2.2zM406.4 146.9h2.2v2.1h-2.2zM412.5 146.9h2.2v2.1h-2.2zM418.7 146.9h4.2v2.1h-4.2zM195.0 148.9h2.0v2.1h-2.0zM361.1 148.9h2.2v2.1h-2.2zM373.4 148.9h2.2v2.1h-2.2zM394.0 148.9h2.2v2.1h-2.2zM185.3 150.9h2.0v2.1h-2.0zM195.0 150.9h2.0v2.1h-2.0zM214.4 150.9h2.0v2.1h-2.0zM224.1 150.9h4.0v2.1h-4.0zM229.9 150.9h2.0v2.1h-2.0zM249.2 150.9h2.0v2.1h-2.0zM365.2 150.9h2.2v2.1h-2.2zM455.8 150.9h4.2v2.1h-4.2zM185.3 154.9h2.0v2.1h-2.0zM200.8 154.9h2.0v2.1h-2.0zM253.1 154.9h2.0v2.1h-2.0zM363.1 154.9h2.2v2.1h-2.2zM373.4 154.9h2.2v2.1h-2.2zM447.5 154.9h2.2v2.1h-2.2zM455.8 154.9h2.2v2.1h-2.2zM462.0 154.9h2.2v2.1h-2.2zM189.2 156.9h2.0v2.1h-2.0zM181.5 158.9h4.0v2.1h-4.0zM262.8 158.9h2.0v2.1h-2.0zM266.6 158.9h2.0v2.1h-2.0zM443.4 158.9h2.2v2.1h-2.2zM299.3 184.9h2.2v2.1h-2.2zM303.4 184.9h2.2v2.1h-2.2zM307.6 184.9h2.2v2.1h-2.2zM336.4 186.9h2.2v2.1h-2.2zM297.3 188.9h2.2v2.1h-2.2zM315.8 190.9h2.2v2.1h-2.2zM272.6 192.9h2.2v2.1h-2.2zM272.6 194.9h2.2v2.1h-2.2zM293.1 194.9h2.2v2.1h-2.2zM299.3 194.9h4.2v2.1h-4.2zM309.6 194.9h2.2v2.1h-2.2zM270.5 198.9h2.2v2.1h-2.2zM274.6 198.9h2.2v2.1h-2.2zM301.4 198.9h4.2v2.1h-4.2zM315.8 198.9h2.2v2.1h-2.2zM338.4 198.9h2.2v2.1h-2.2zM402.3 198.9h2.2v2.1h-2.2zM187.3 219.0h2.0v2.1h-2.0zM210.5 219.0h2.0v2.1h-2.0zM222.1 219.0h2.0v2.1h-2.0zM253.1 219.0h2.0v2.1h-2.0zM262.8 219.0h2.0v2.1h-2.0zM330.2 219.0h4.2v2.1h-4.2zM338.4 219.0h4.2v2.1h-4.2zM187.3 221.0h2.0v2.1h-2.0zM258.9 221.0h2.0v2.1h-2.0zM262.8 221.0h2.0v2.1h-2.0zM309.6 221.0h2.2v2.1h-2.2zM361.1 221.0h2.2v2.1h-2.2zM420.8 221.0h2.2v2.1h-2.2zM435.2 221.0h2.2v2.1h-2.2zM439.3 221.0h2.2v2.1h-2.2zM447.5 221.0h2.2v2.1h-2.2zM478.4 221.0h2.2v2.1h-2.2zM181.5 223.0h2.0v2.1h-2.0zM185.3 223.0h2.0v2.1h-2.0zM197.0 223.0h2.0v2.1h-2.0zM202.8 223.0h2.0v2.1h-2.0zM206.6 223.0h2.0v2.1h-2.0zM245.3 223.0h2.0v2.1h-2.0zM301.4 223.0h2.2v2.1h-2.2zM377.6 223.0h2.2v2.1h-2.2zM385.8 223.0h2.2v2.1h-2.2zM408.4 223.0h2.2v2.1h-2.2zM439.3 223.0h2.2v2.1h-2.2zM177.6 225.0h2.0v2.1h-2.0zM185.3 225.0h2.0v2.1h-2.0zM237.6 225.0h2.0v2.1h-2.0zM249.2 225.0h2.0v2.1h-2.0zM253.1 225.0h2.0v2.1h-2.0zM262.8 225.0h2.0v2.1h-2.0zM291.1 225.0h2.2v2.1h-2.2zM301.4 225.0h2.2v2.1h-2.2zM309.6 225.0h2.2v2.1h-2.2zM363.1 225.0h2.2v2.1h-2.2zM414.6 225.0h2.2v2.1h-2.2zM441.4 225.0h4.2v2.1h-4.2zM455.8 225.0h2.2v2.1h-2.2zM462.0 225.0h2.2v2.1h-2.2zM478.4 225.0h2.2v2.1h-2.2zM249.2 227.0h2.0v2.1h-2.0zM253.1 227.0h2.0v2.1h-2.0zM299.3 227.0h2.2v2.1h-2.2zM396.1 227.0h2.2v2.1h-2.2zM402.3 227.0h2.2v2.1h-2.2zM449.6 227.0h2.2v2.1h-2.2zM264.7 229.0h2.0v2.1h-2.0zM468.1 229.0h2.2v2.1h-2.2zM185.3 231.0h2.0v2.1h-2.0zM189.2 231.0h2.0v2.1h-2.0zM206.6 231.0h4.0v2.1h-4.0zM220.2 231.0h2.0v2.1h-2.0zM262.8 231.0h2.0v2.1h-2.0zM287.0 231.0h2.2v2.1h-2.2zM398.1 231.0h2.2v2.1h-2.2zM410.5 231.0h2.2v2.1h-2.2zM418.7 231.0h2.2v2.1h-2.2zM482.5 231.0h2.2v2.1h-2.2zM185.3 233.0h2.0v2.1h-2.0zM191.1 233.0h2.0v2.1h-2.0zM210.5 233.0h2.0v2.1h-2.0zM214.4 233.0h2.0v2.1h-2.0zM282.9 233.0h2.2v2.1h-2.2zM287.0 233.0h2.2v2.1h-2.2zM297.3 233.0h2.2v2.1h-2.2zM303.4 233.0h2.2v2.1h-2.2zM344.6 233.0h2.2v2.1h-2.2zM367.3 233.0h2.2v2.1h-2.2zM377.6 233.0h2.2v2.1h-2.2zM431.1 233.0h2.2v2.1h-2.2zM480.5 233.0h2.2v2.1h-2.2zM181.5 235.0h2.0v2.1h-2.0zM189.2 235.0h2.0v2.1h-2.0zM200.8 235.0h2.0v2.1h-2.0zM235.7 235.0h2.0v2.1h-2.0zM253.1 235.0h2.0v2.1h-2.0zM260.8 235.0h2.0v2.1h-2.0zM264.7 235.0h2.0v2.1h-2.0zM295.2 235.0h4.2v2.1h-4.2zM346.7 235.0h2.2v2.1h-2.2zM359.0 235.0h4.2v2.1h-4.2zM367.3 235.0h2.2v2.1h-2.2zM392.0 235.0h2.2v2.1h-2.2zM398.1 235.0h2.2v2.1h-2.2zM420.8 235.0h2.2v2.1h-2.2zM427.0 235.0h2.2v2.1h-2.2zM435.2 235.0h2.2v2.1h-2.2zM443.4 235.0h2.2v2.1h-2.2zM468.1 235.0h2.2v2.1h-2.2zM478.4 235.0h2.2v2.1h-2.2z"/>
<path fill="#d30505" d="M241.5 92.8h2.0v2.1h-2.0zM197.0 118.8h2.0v2.1h-2.0zM195.0 120.8h2.0v2.1h-2.0zM198.9 120.8h2.0v2.1h-2.0zM177.6 122.8h2.0v2.1h-2.0zM181.5 122.8h2.0v2.1h-2.0zM231.8 122.8h2.0v2.1h-2.0zM197.0 130.9h2.0v2.1h-2.0zM202.8 130.9h2.0v2.1h-2.0zM187.3 132.9h2.0v2.1h-2.0zM183.4 136.9h2.0v2.1h-2.0zM295.2 136.9h2.2v2.1h-2.2zM260.8 138.9h2.0v2.1h-2.0zM266.6 138.9h2.0v2.1h-2.0zM289.0 138.9h2.2v2.1h-2.2zM295.2 138.9h2.2v2.1h-2.2zM299.3 138.9h2.2v2.1h-2.2zM363.1 140.9h2.2v2.1h-2.2zM369.3 140.9h2.2v2.1h-2.2zM383.7 140.9h2.2v2.1h-2.2zM195.0 142.9h2.0v2.1h-2.0zM247.3 142.9h2.0v2.1h-2.0zM295.2 142.9h2.2v2.1h-2.2zM303.4 142.9h2.2v2.1h-2.2zM322.0 142.9h2.2v2.1h-2.2zM369.3 142.9h4.2v2.1h-4.2zM410.5 142.9h4.2v2.1h-4.2zM187.3 144.9h2.0v2.1h-2.0zM220.2 144.9h2.0v2.1h-2.0zM224.1 144.9h2.0v2.1h-2.0zM179.5 146.9h2.0v2.1h-2.0zM245.3 146.9h2.0v2.1h-2.0zM305.5 146.9h2.2v2.1h-2.2zM330.2 146.9h2.2v2.1h-2.2zM371.4 146.9h2.2v2.1h-2.2zM379.6 146.9h2.2v2.1h-2.2zM449.6 146.9h2.2v2.1h-2.2zM185.3 148.9h2.0v2.1h-2.0zM198.9 148.9h2.0v2.1h-2.0zM247.3 148.9h2.0v2.1h-2.0zM363.1 148.9h2.2v2.1h-2.2zM187.3 150.9h2.0v2.1h-2.0zM197.0 150.9h4.0v2.1h-4.0zM216.3 150.9h2.0v2.1h-2.0zM243.4 150.9h2.0v2.1h-2.0zM253.1 150.9h2.0v2.1h-2.0zM371.4 150.9h2.2v2.1h-2.2zM451.7 150.9h2.2v2.1h-2.2zM193.1 152.9h2.0v2.1h-2.0zM200.8 152.9h2.0v2.1h-2.0zM206.6 152.9h2.0v2.1h-2.0zM237.6 152.9h2.0v2.1h-2.0zM443.4 152.9h2.2v2.1h-2.2zM462.0 152.9h2.2v2.1h-2.2zM206.6 154.9h2.0v2.1h-2.0zM183.4 156.9h2.0v2.1h-2.0zM453.7 156.9h2.2v2.1h-2.2zM464.0 156.9h2.2v2.1h-2.2zM363.1 158.9h2.2v2.1h-2.2zM437.3 158.9h2.2v2.1h-2.2zM447.5 158.9h2.2v2.1h-2.2zM299.3 186.9h2.2v2.1h-2.2zM315.8 186.9h2.2v2.1h-2.2zM338.4 186.9h2.2v2.1h-2.2zM342.6 186.9h2.2v2.1h-2.2zM299.3 188.9h2.2v2.1h-2.2zM305.5 188.9h2.2v2.1h-2.2zM309.6 188.9h2.2v2.1h-2.2zM293.1 192.9h4.2v2.1h-4.2zM289.0 194.9h2.2v2.1h-2.2zM297.3 194.9h2.2v2.1h-2.2zM295.2 196.9h2.2v2.1h-2.2zM336.4 196.9h2.2v2.1h-2.2zM278.7 198.9h2.2v2.1h-2.2zM289.0 198.9h2.2v2.1h-2.2zM340.5 198.9h2.2v2.1h-2.2zM406.4 198.9h2.2v2.1h-2.2zM197.0 219.0h2.0v2.1h-2.0zM208.6 219.0h2.0v2.1h-2.0zM229.9 219.0h2.0v2.1h-2.0zM326.1 219.0h2.2v2.1h-2.2zM402.3 219.0h2.2v2.1h-2.2zM470.2 219.0h2.2v2.1h-2.2zM197.0 221.0h2.0v2.1h-2.0zM295.2 221.0h2.2v2.1h-2.2zM307.6 221.0h2.2v2.1h-2.2zM381.7 221.0h2.2v2.1h-2.2zM385.8 221.0h2.2v2.1h-2.2zM437.3 221.0h2.2v2.1h-2.2zM183.4 223.0h2.0v2.1h-2.0zM189.2 223.0h2.0v2.1h-2.0zM266.6 223.0h2.0v2.1h-2.0zM276.7 223.0h2.2v2.1h-2.2zM295.2 223.0h6.3v2.1h-6.3zM371.4 223.0h2.2v2.1h-2.2zM394.0 223.0h2.2v2.1h-2.2zM183.4 225.0h2.0v2.1h-2.0zM193.1 225.0h2.0v2.1h-2.0zM198.9 225.0h2.0v2.1h-2.0zM251.1 225.0h2.0v2.1h-2.0zM367.3 225.0h2.2v2.1h-2.2zM377.6 225.0h2.2v2.1h-2.2zM402.3 225.0h2.2v2.1h-2.2zM435.2 225.0h2.2v2.1h-2.2zM439.3 225.0h2.2v2.1h-2.2zM445.5 225.0h2.2v2.1h-2.2zM295.2 227.0h2.2v2.1h-2.2zM193.1 229.0h2.0v2.1h-2.0zM262.8 229.0h2.0v2.1h-2.0zM299.3 229.0h4.2v2.1h-4.2zM193.1 231.0h2.0v2.1h-2.0zM210.5 231.0h2.0v2.1h-2.0zM222.1 231.0h2.0v2.1h-2.0zM226.0 231.0h2.0v2.1h-2.0zM295.2 231.0h2.2v2.1h-2.2zM309.6 231.0h2.2v2.1h-2.2zM352.8 231.0h2.2v2.1h-2.2zM387.8 231.0h2.2v2.1h-2.2zM420.8 231.0h2.2v2.1h-2.2zM472.2 231.0h2.2v2.1h-2.2zM179.5 233.0h2.0v2.1h-2.0zM208.6 233.0h2.0v2.1h-2.0zM278.7 233.0h2.2v2.1h-2.2zM289.0 233.0h2.2v2.1h-2.2zM301.4 233.0h2.2v2.1h-2.2zM309.6 233.0h2.2v2.1h-2.2zM338.4 233.0h2.2v2.1h-2.2zM346.7 233.0h2.2v2.1h-2.2zM357.0 233.0h2.2v2.1h-2.2zM363.1 233.0h2.2v2.1h-2.2zM414.6 233.0h2.2v2.1h-2.2zM418.7 233.0h2.2v2.1h-2.2zM427.0 233.0h2.2v2.1h-2.2zM443.4 233.0h2.2v2.1h-2.2zM451.7 233.0h2.2v2.1h-2.2zM462.0 233.0h2.2v2.1h-2.2zM468.1 233.0h4.2v2.1h-4.2zM476.4 233.0h2.2v2.1h-2.2zM187.3 235.0h2.0v2.1h-2.0zM193.1 235.0h2.0v2.1h-2.0zM197.0 235.0h2.0v2.1h-2.0zM210.5 235.0h2.0v2.1h-2.0zM222.1 235.0h2.0v2.1h-2.0zM231.8 235.0h2.0v2.1h-2.0zM243.4 235.0h2.0v2.1h-2.0zM280.8 235.0h2.2v2.1h-2.2zM301.4 235.0h4.2v2.1h-4.2zM309.6 235.0h2.2v2.1h-2.2zM344.6 235.0h2.2v2.1h-2.2zM350.8 235.0h2.2v2.1h-2.2zM357.0 235.0h2.2v2.1h-2.2zM394.0 235.0h2.2v2.1h-2.2zM410.5 235.0h2.2v2.1h-2.2zM414.6 235.0h2.2v2.1h-2.2zM418.7 235.0h2.2v2.1h-2.2zM453.7 235.0h2.2v2.1h-2.2zM457.8 235.0h2.2v2.1h-2.2zM470.2 235.0h2.2v2.1h-2.2zM474.3 235.0h2.2v2.1h-2.2z"/>
<path fill="#eb0606" d="M197.0 108.8h4.0v2.1h-4.0zM189.2 118.8h2.0v2.1h-2.0zM262.8 118.8h2.0v2.1h-2.0zM266.6 118.8h2.0v2.1h-2.0zM206.6 120.8h2.0v2.1h-2.0zM235.7 122.8h2.0v2.1h-2.0zM239.5 122.8h2.0v2.1h-2.0zM251.1 122.8h2.0v2.1h-2.0zM206.6 128.8h2.0v2.1h-2.0zM251.1 132.9h2.0v2.1h-2.0zM266.6 134.9h2.0v2.1h-2.0zM235.7 136.9h2.0v2.1h-2.0zM297.3 136.9h2.2v2.1h-2.2zM301.4 136.9h2.2v2.1h-2.2zM361.1 136.9h2.2v2.1h-2.2zM262.8 138.9h2.0v2.1h-2.0zM297.3 138.9h2.2v2.1h-2.2zM313.7 138.9h4.2v2.1h-4.2zM237.6 140.9h2.0v2.1h-2.0zM249.2 140.9h4.0v2.1h-4.0zM262.8 140.9h2.0v2.1h-2.0zM266.6 140.9h2.0v2.1h-2.0zM297.3 140.9h4.2v2.1h-4.2zM367.3 140.9h2.2v2.1h-2.2zM373.4 140.9h4.2v2.1h-4.2zM455.8 140.9h2.2v2.1h-2.2zM226.0 142.9h2.0v2.1h-2.0zM253.1 142.9h2.0v2.1h-2.0zM305.5 142.9h6.3v2.1h-6.3zM315.8 142.9h2.2v2.1h-2.2zM363.1 142.9h2.2v2.1h-2.2zM373.4 142.9h2.2v2.1h-2.2zM406.4 142.9h2.2v2.1h-2.2zM189.2 144.9h2.0v2.1h-2.0zM227.9 144.9h2.0v2.1h-2.0zM449.6 144.9h2.2v2.1h-2.2zM177.6 146.9h2.0v2.1h-2.0zM181.5 146.9h11.7v2.1h-11.7zM197.0 146.9h2.0v2.1h-2.0zM216.3 146.9h2.0v2.1h-2.0zM226.0 146.9h5.9v2.1h-5.9zM243.4 146.9h2.0v2.1h-2.0zM299.3 146.9h2.2v2.1h-2.2zM309.6 146.9h2.2v2.1h-2.2zM414.6 146.9h2.2v2.1h-2.2zM181.5 148.9h2.0v2.1h-2.0zM187.3 148.9h4.0v2.1h-4.0zM193.1 148.9h2.0v2.1h-2.0zM197.0 148.9h2.0v2.1h-2.0zM249.2 148.9h4.0v2.1h-4.0zM257.0 148.9h2.0v2.1h-2.0zM181.5 150.9h4.0v2.1h-4.0zM189.2 150.9h2.0v2.1h-2.0zM193.1 150.9h2.0v2.1h-2.0zM235.7 150.9h2.0v2.1h-2.0zM251.1 150.9h2.0v2.1h-2.0zM361.1 150.9h4.2v2.1h-4.2zM367.3 150.9h2.2v2.1h-2.2zM453.7 150.9h2.2v2.1h-2.2zM195.0 152.9h5.9v2.1h-5.9zM202.8 152.9h2.0v2.1h-2.0zM231.8 152.9h2.0v2.1h-2.0zM371.4 152.9h2.2v2.1h-2.2zM453.7 154.9h2.2v2.1h-2.2zM181.5 156.9h2.0v2.1h-2.0zM187.3 156.9h2.0v2.1h-2.0zM361.1 156.9h2.2v2.1h-2.2zM367.3 156.9h2.2v2.1h-2.2zM462.0 156.9h2.2v2.1h-2.2zM449.6 158.9h10.4v2.1h-10.4zM295.2 186.9h4.2v2.1h-4.2zM301.4 186.9h2.2v2.1h-2.2zM305.5 186.9h2.2v2.1h-2.2zM309.6 186.9h2.2v2.1h-2.2zM313.7 186.9h2.2v2.1h-2.2zM295.2 188.9h2.2v2.1h-2.2zM295.2 190.9h2.2v2.1h-2.2zM299.3 190.9h2.2v2.1h-2.2zM289.0 192.9h4.2v2.1h-4.2zM299.3 192.9h2.2v2.1h-2.2zM309.6 192.9h2.2v2.1h-2.2zM307.6 194.9h2.2v2.1h-2.2zM315.8 194.9h4.2v2.1h-4.2zM272.6 198.9h2.2v2.1h-2.2zM276.7 198.9h2.2v2.1h-2.2zM280.8 198.9h8.3v2.1h-8.3zM291.1 198.9h10.4v2.1h-10.4zM336.4 198.9h2.2v2.1h-2.2zM206.6 219.0h2.0v2.1h-2.0zM226.0 219.0h2.0v2.1h-2.0zM249.2 219.0h4.0v2.1h-4.0zM276.7 219.0h2.2v2.1h-2.2zM284.9 219.0h2.2v2.1h-2.2zM406.4 219.0h2.2v2.1h-2.2zM313.7 221.0h2.2v2.1h-2.2zM373.4 221.0h4.2v2.1h-4.2zM449.6 221.0h2.2v2.1h-2.2zM187.3 223.0h2.0v2.1h-2.0zM361.1 223.0h2.2v2.1h-2.2zM373.4 223.0h2.2v2.1h-2.2zM387.8 223.0h6.3v2.1h-6.3zM398.1 223.0h4.2v2.1h-4.2zM406.4 223.0h2.2v2.1h-2.2zM449.6 223.0h2.2v2.1h-2.2zM181.5 225.0h2.0v2.1h-2.0zM187.3 225.0h4.0v2.1h-4.0zM195.0 225.0h4.0v2.1h-4.0zM206.6 225.0h2.0v2.1h-2.0zM216.3 225.0h2.0v2.1h-2.0zM287.0 225.0h2.2v2.1h-2.2zM293.1 225.0h8.3v2.1h-8.3zM361.1 225.0h2.2v2.1h-2.2zM369.3 225.0h2.2v2.1h-2.2zM373.4 225.0h2.2v2.1h-2.2zM381.7 225.0h2.2v2.1h-2.2zM387.8 225.0h2.2v2.1h-2.2zM394.0 225.0h2.2v2.1h-2.2zM398.1 225.0h4.2v2.1h-4.2zM406.4 225.0h2.2v2.1h-2.2zM447.5 225.0h4.2v2.1h-4.2zM453.7 225.0h2.2v2.1h-2.2zM181.5 231.0h2.0v2.1h-2.0zM187.3 231.0h2.0v2.1h-2.0zM191.1 231.0h2.0v2.1h-2.0zM195.0 231.0h9.8v2.1h-9.8zM216.3 231.0h2.0v2.1h-2.0zM301.4 231.0h2.2v2.1h-2.2zM478.4 231.0h4.2v2.1h-4.2zM181.5 233.0h2.0v2.1h-2.0zM187.3 233.0h4.0v2.1h-4.0zM193.1 233.0h11.7v2.1h-11.7zM206.6 233.0h2.0v2.1h-2.0zM218.2 233.0h29.1v2.1h-29.1zM249.2 233.0h21.4v2.1h-21.4zM284.9 233.0h2.2v2.1h-2.2zM291.1 233.0h2.2v2.1h-2.2zM295.2 233.0h2.2v2.1h-2.2zM299.3 233.0h2.2v2.1h-2.2zM352.8 233.0h2.2v2.1h-2.2zM359.0 233.0h4.2v2.1h-4.2zM371.4 233.0h2.2v2.1h-2.2zM387.8 233.0h22.7v2.1h-22.7zM412.5 233.0h2.2v2.1h-2.2zM433.1 233.0h4.2v2.1h-4.2zM445.5 233.0h6.3v2.1h-6.3zM453.7 233.0h2.2v2.1h-2.2zM457.8 233.0h4.2v2.1h-4.2zM464.0 233.0h2.2v2.1h-2.2zM472.2 233.0h2.2v2.1h-2.2zM478.4 233.0h2.2v2.1h-2.2zM482.5 233.0h2.2v2.1h-2.2zM191.1 235.0h2.0v2.1h-2.0zM202.8 235.0h7.8v2.1h-7.8zM216.3 235.0h4.0v2.1h-4.0zM226.0 235.0h2.0v2.1h-2.0zM247.3 235.0h2.0v2.1h-2.0zM251.1 235.0h2.0v2.1h-2.0zM262.8 235.0h2.0v2.1h-2.0zM284.9 235.0h2.2v2.1h-2.2zM307.6 235.0h2.2v2.1h-2.2zM363.1 235.0h2.2v2.1h-2.2zM371.4 235.0h4.2v2.1h-4.2zM377.6 235.0h2.2v2.1h-2.2zM381.7 235.0h2.2v2.1h-2.2zM396.1 235.0h2.2v2.1h-2.2zM400.2 235.0h8.3v2.1h-8.3zM449.6 235.0h2.2v2.1h-2.2zM455.8 235.0h2.2v2.1h-2.2zM462.0 235.0h2.2v2.1h-2.2zM466.1 235.0h2.2v2.1h-2.2zM472.2 235.0h2.2v2.1h-2.2zM480.5 235.0h2.2v2.1h-2.2z"/>
</g>
<g stroke="#d4d4d4" stroke-width="0.8">
<line x1="487.5" y1="94.50" x2="495.24" y2="94.50"/>
<line x1="487.5" y1="97.84" x2="496.27" y2="97.84"/>
<line x1="487.5" y1="101.38" x2="495.94" y2="101.38"/>
<line x1="487.5" y1="104.91" x2="491.67" y2="104.91"/>
<line x1="487.5" y1="107.97" x2="497.16" y2="107.97"/>
<line x1="487.5" y1="111.22" x2="496.91" y2="111.22"/>
<line x1="487.5" y1="113.93" x2="494.31" y2="113.93"/>
<line x1="487.5" y1="116.78" x2="494.76" y2="116.78"/>
<line x1="487.5" y1="119.95" x2="491.58" y2="119.95"/>
<line x1="487.5" y1="122.77" x2="493.18" y2="122.77"/>
<line x1="487.5" y1="126.29" x2="496.09" y2="126.29"/>
<line x1="487.5" y1="129.05" x2="496.28" y2="129.05"/>
<line x1="487.5" y1="131.79" x2="495.20" y2="131.79"/>
<line x1="487.5" y1="134.51" x2="491.51" y2="134.51"/>
<line x1="487.5" y1="137.98" x2="492.76" y2="137.98"/>
<line x1="487.5" y1="140.80" x2="497.39" y2="140.80"/>
<line x1="487.5" y1="144.27" x2="493.24" y2="144.27"/>
<line x1="487.5" y1="147.83" x2="494.74" y2="147.83"/>
<line x1="487.5" y1="151.11" x2="492.73" y2="151.11"/>
<line x1="487.5" y1="154.65" x2="495.64" y2="154.65"/>
<line x1="487.5" y1="158.22" x2="496.86" y2="158.22"/>
<line x1="487.5" y1="161.12" x2="493.67" y2="161.12"/>
<line x1="487.5" y1="163.88" x2="492.37" y2="163.88"/>
<line x1="487.5" y1="166.55" x2="493.31" y2="166.55"/>
<line x1="487.5" y1="169.75" x2="491.52" y2="169.75"/>
<line x1="487.5" y1="173.03" x2="493.53" y2="173.03"/>
<line x1="487.5" y1="175.94" x2="496.41" y2="175.94"/>
<line x1="487.5" y1="179.02" x2="493.39" y2="179.02"/>
<line x1="487.5" y1="182.10" x2="495.73" y2="182.10"/>
<line x1="487.5" y1="184.76" x2="497.35" y2="184.76"/>
<line x1="487.5" y1="187.38" x2="496.00" y2="187.38"/>
<line x1="487.5" y1="190.83" x2="491.61" y2="190.83"/>
<line x1="487.5" y1="194.21" x2="493.70" y2="194.21"/>
<line x1="487.5" y1="197.39" x2="491.55" y2="197.39"/>
<line x1="487.5" y1="200.04" x2="492.59" y2="200.04"/>
<line x1="487.5" y1="203.59" x2="492.68" y2="203.59"/>
<line x1="487.5" y1="206.95" x2="497.08" y2="206.95"/>
<line x1="487.5" y1="210.49" x2="493.57" y2="210.49"/>
<line x1="487.5" y1="213.45" x2="494.65" y2="213.45"/>
<line x1="487.5" y1="216.82" x2="492.15" y2="216.82"/>
<line x1="487.5" y1="220.17" x2="496.28" y2="220.17"/>
<line x1="487.5" y1="223.63" x2="491.72" y2="223.63"/>
<line x1="487.5" y1="227.18" x2="492.05" y2="227.18"/>
<line x1="487.5" y1="230.12" x2="495.16" y2="230.12"/>
<line x1="487.5" y1="233.64" x2="493.54" y2="233.64"/>
</g>
<rect x="409.6" y="5" width="15" height="8.8" fill="#1a1ad0"/>
<rect x="409.6" y="18.3" width="15" height="7.8" fill="#ee1010"/>
<text x="427" y="12.8" font-family='"Liberation Sans", sans-serif' font-size="10" fill="#111">CD25<tspan font-size="6" font-weight="bold" dx="-0.8" dy="-3.4">POS</tspan><tspan dy="3.4"> AML</tspan></text>
<text x="427" y="25.6" font-family='"Liberation Sans", sans-serif' font-size="10" fill="#111">CD25<tspan font-size="5.5" font-weight="bold" dy="-3.6">NEG</tspan><tspan dy="3.6">AML</tspan></text>
<text x="5.2" y="278.2" font-family='"Liberation Sans", sans-serif' font-weight="bold" font-size="17" fill="#111">B</text>
<text x="55.40" y="284.70" font-family='"Liberation Sans", sans-serif' font-size="9.55" text-anchor="start" fill="#111" font-weight="normal" textLength="233.5" lengthAdjust="spacing">Gene set: LSC-R signature (Eppert et al, Nat Genetics)</text>
<text x="75.80" y="294.50" font-family='"Liberation Sans", sans-serif' font-size="9.55" text-anchor="start" fill="#111" font-weight="normal" textLength="193" lengthAdjust="spacing">Ranked gene list: CD25<tspan font-size="5.8" font-weight="bold" dx="-2.6" dy="-2.6">POS</tspan><tspan dy="2.6"> expression profile</tspan></text>
<text x="319.00" y="284.70" font-family='"Liberation Sans", sans-serif' font-size="9.55" text-anchor="start" fill="#111" font-weight="normal" textLength="196" lengthAdjust="spacing">Gene set: LSC signature (Gentles et al, JAMA)</text>
<text x="322.20" y="294.50" font-family='"Liberation Sans", sans-serif' font-size="9.55" text-anchor="start" fill="#111" font-weight="normal" textLength="191.5" lengthAdjust="spacing">Ranked gene list: CD25<tspan font-size="5.8" font-weight="bold" dx="-2.6" dy="-2.6">POS</tspan><tspan dy="2.6"> expression profile</tspan></text>
<rect x="81.50" y="312.20" width="182.10" height="173.00" fill="#e6e6e6"/>
<rect x="104.30" y="313.00" width="154.90" height="148.60" fill="#fff"/>
<g stroke="#ececec" stroke-width="0.5">
<line x1="121.16" y1="313.20" x2="121.16" y2="461.6"/>
<line x1="138.22" y1="313.20" x2="138.22" y2="461.6"/>
<line x1="155.28" y1="313.20" x2="155.28" y2="461.6"/>
<line x1="172.34" y1="313.20" x2="172.34" y2="461.6"/>
<line x1="189.40" y1="313.20" x2="189.40" y2="461.6"/>
<line x1="206.46" y1="313.20" x2="206.46" y2="461.6"/>
<line x1="223.52" y1="313.20" x2="223.52" y2="461.6"/>
<line x1="240.58" y1="313.20" x2="240.58" y2="461.6"/>
<line x1="257.64" y1="313.20" x2="257.64" y2="461.6"/>
<line x1="104.30" y1="381.50" x2="259.20" y2="381.50"/>
<line x1="104.30" y1="372.53" x2="259.20" y2="372.53"/>
<line x1="104.30" y1="363.56" x2="259.20" y2="363.56"/>
<line x1="104.30" y1="354.59" x2="259.20" y2="354.59"/>
<line x1="104.30" y1="345.62" x2="259.20" y2="345.62"/>
<line x1="104.30" y1="336.65" x2="259.20" y2="336.65"/>
<line x1="104.30" y1="327.68" x2="259.20" y2="327.68"/>
<line x1="104.30" y1="318.71" x2="259.20" y2="318.71"/>
<line x1="104.30" y1="420.80" x2="259.20" y2="420.80"/>
<line x1="104.30" y1="431.30" x2="259.20" y2="431.30"/>
<line x1="104.30" y1="441.80" x2="259.20" y2="441.80"/>
<line x1="104.30" y1="452.50" x2="259.20" y2="452.50"/>
</g>
<line x1="104.30" y1="382.6" x2="259.20" y2="382.6" stroke="#c8c8c8" stroke-width="0.6"/>
<line x1="104.30" y1="408.9" x2="259.20" y2="408.9" stroke="#dcdcdc" stroke-width="0.5"/>
<line x1="104.30" y1="313.20" x2="104.30" y2="461.6" stroke="#c8c8c8" stroke-width="0.5"/>
<line x1="104.90" y1="385.6" x2="104.90" y2="408.3" stroke="#333" stroke-width="1.2"/>
<line x1="107.40" y1="385.6" x2="107.40" y2="408.3" stroke="#777" stroke-width="0.8"/>
<line x1="109.00" y1="385.6" x2="109.00" y2="408.3" stroke="#666" stroke-width="0.8"/>
<line x1="111.80" y1="385.6" x2="111.80" y2="408.3" stroke="#222" stroke-width="1.1"/>
<line x1="118.00" y1="385.6" x2="118.00" y2="408.3" stroke="#777" stroke-width="0.8"/>
<line x1="121.20" y1="385.6" x2="121.20" y2="408.3" stroke="#222" stroke-width="1.1"/>
<line x1="122.20" y1="385.6" x2="122.20" y2="408.3" stroke="#777" stroke-width="0.7"/>
<line x1="126.10" y1="385.6" x2="126.10" y2="408.3" stroke="#222" stroke-width="1.1"/>
<line x1="140.80" y1="385.6" x2="140.80" y2="408.3" stroke="#888" stroke-width="0.8"/>
<line x1="144.90" y1="385.6" x2="144.90" y2="408.3" stroke="#999" stroke-width="0.8"/>
<line x1="149.00" y1="385.6" x2="149.00" y2="408.3" stroke="#555" stroke-width="1.0"/>
<line x1="164.50" y1="385.6" x2="164.50" y2="408.3" stroke="#777" stroke-width="0.8"/>
<line x1="167.80" y1="385.6" x2="167.80" y2="408.3" stroke="#999" stroke-width="0.8"/>
<line x1="171.90" y1="385.6" x2="171.90" y2="408.3" stroke="#999" stroke-width="0.8"/>
<line x1="184.90" y1="385.6" x2="184.90" y2="408.3" stroke="#888" stroke-width="0.9"/>
<line x1="207.80" y1="385.6" x2="207.80" y2="408.3" stroke="#777" stroke-width="0.9"/>
<rect x="104.60" y="409.4" width="32.50" height="5.0" fill="#e8343c"/>
<rect x="137.00" y="409.4" width="26.10" height="5.0" fill="#f0606e"/>
<rect x="163.00" y="409.4" width="9.10" height="5.0" fill="#f2a6c4"/>
<rect x="172.00" y="409.4" width="17.10" height="5.0" fill="#dcd4f2"/>
<rect x="189.00" y="409.4" width="12.60" height="5.0" fill="#bcbcf2"/>
<rect x="201.50" y="409.4" width="12.60" height="5.0" fill="#7676e6"/>
<rect x="214.00" y="409.4" width="24.60" height="5.0" fill="#5252de"/>
<rect x="238.50" y="409.4" width="13.60" height="5.0" fill="#1a10c8"/>
<polyline points="104.30,381.50 104.60,357.70 105.80,356.20 106.90,351.50 108.50,343.80 110.80,340.80 112.30,329.20 116.90,331.50 118.80,329.20 120.00,330.00 121.50,322.30 126.20,324.60 127.40,316.90 140.00,324.60 143.10,324.60 146.20,325.40 150.00,324.60 163.00,332.30 167.70,333.40 180.00,340.00 206.10,356.00 208.20,354.70 252.90,381.40" fill="none" stroke="#33dd33" stroke-width="1.5" stroke-linejoin="round"/>
<polygon points="104.50,441.80 104.50,429.00 105.50,432.50 108.00,435.20 112.00,436.80 125.00,438.30 145.00,439.50 176.00,441.80 200.00,443.30 230.00,445.40 249.00,447.00 250.60,448.40 251.20,452.00 251.70,459.40 252.20,441.80" fill="#c2c2c2" stroke="#b0b0b0" stroke-width="0.3"/>
<text x="105.80" y="418.80" font-family='"Liberation Sans", sans-serif' font-size="3.95" text-anchor="start" fill="#e03030" font-weight="normal" >'1' (positively correlated)</text>
<text x="161.50" y="439.40" font-family='"Liberation Sans", sans-serif' font-size="3.8" text-anchor="start" fill="#444" font-weight="normal" >Zero cross at 10816</text>
<text x="182.70" y="459.20" font-family='"Liberation Sans", sans-serif' font-size="3.9" text-anchor="start" fill="#3030e0" font-weight="normal" >'0' (negatively correlated)</text>
<text x="101.90" y="382.85" font-family='"Liberation Sans", sans-serif' font-size="3.8" text-anchor="end" fill="#333" font-weight="normal" >0.0</text>
<text x="101.90" y="373.88" font-family='"Liberation Sans", sans-serif' font-size="3.8" text-anchor="end" fill="#333" font-weight="normal" >0.1</text>
<text x="101.90" y="364.91" font-family='"Liberation Sans", sans-serif' font-size="3.8" text-anchor="end" fill="#333" font-weight="normal" >0.2</text>
<text x="101.90" y="355.94" font-family='"Liberation Sans", sans-serif' font-size="3.8" text-anchor="end" fill="#333" font-weight="normal" >0.3</text>
<text x="101.90" y="346.97" font-family='"Liberation Sans", sans-serif' font-size="3.8" text-anchor="end" fill="#333" font-weight="normal" >0.4</text>
<text x="101.90" y="338.00" font-family='"Liberation Sans", sans-serif' font-size="3.8" text-anchor="end" fill="#333" font-weight="normal" >0.5</text>
<text x="101.90" y="329.03" font-family='"Liberation Sans", sans-serif' font-size="3.8" text-anchor="end" fill="#333" font-weight="normal" >0.6</text>
<text x="101.90" y="320.06" font-family='"Liberation Sans", sans-serif' font-size="3.8" text-anchor="end" fill="#333" font-weight="normal" >0.7</text>
<text x="101.90" y="422.15" font-family='"Liberation Sans", sans-serif' font-size="3.8" text-anchor="end" fill="#333" font-weight="normal" >0.50</text>
<text x="101.90" y="432.65" font-family='"Liberation Sans", sans-serif' font-size="3.8" text-anchor="end" fill="#333" font-weight="normal" >0.25</text>
<text x="101.90" y="443.15" font-family='"Liberation Sans", sans-serif' font-size="3.8" text-anchor="end" fill="#333" font-weight="normal" >0.00</text>
<text x="101.90" y="453.85" font-family='"Liberation Sans", sans-serif' font-size="3.8" text-anchor="end" fill="#333" font-weight="normal" >-0.25</text>
<text x="0.00" y="0.00" font-family='"Liberation Sans", sans-serif' font-size="4.3" text-anchor="middle" fill="#222" font-weight="bold" transform="translate(94.00,349) rotate(-90)">Enrichment score (ES)</text>
<text x="0.00" y="0.00" font-family='"Liberation Sans", sans-serif' font-size="4.6" text-anchor="middle" fill="#222" font-weight="bold" transform="translate(90.20,438.2) rotate(-90)">Ranked list metric (Signal2Noise)</text>
<text x="104.10" y="467.10" font-family='"Liberation Sans", sans-serif' font-size="3.7" text-anchor="middle" fill="#333" font-weight="normal" >0</text>
<text x="121.16" y="467.10" font-family='"Liberation Sans", sans-serif' font-size="3.7" text-anchor="middle" fill="#333" font-weight="normal" >2,500</text>
<text x="138.22" y="467.10" font-family='"Liberation Sans", sans-serif' font-size="3.7" text-anchor="middle" fill="#333" font-weight="normal" >5,000</text>
<text x="155.28" y="467.10" font-family='"Liberation Sans", sans-serif' font-size="3.7" text-anchor="middle" fill="#333" font-weight="normal" >7,500</text>
<text x="172.34" y="467.10" font-family='"Liberation Sans", sans-serif' font-size="3.7" text-anchor="middle" fill="#333" font-weight="normal" >10,000</text>
<text x="189.40" y="467.10" font-family='"Liberation Sans", sans-serif' font-size="3.7" text-anchor="middle" fill="#333" font-weight="normal" >12,500</text>
<text x="206.46" y="467.10" font-family='"Liberation Sans", sans-serif' font-size="3.7" text-anchor="middle" fill="#333" font-weight="normal" >15,000</text>
<text x="223.52" y="467.10" font-family='"Liberation Sans", sans-serif' font-size="3.7" text-anchor="middle" fill="#333" font-weight="normal" >17,500</text>
<text x="240.58" y="467.10" font-family='"Liberation Sans", sans-serif' font-size="3.7" text-anchor="middle" fill="#333" font-weight="normal" >20,000</text>
<text x="257.64" y="467.10" font-family='"Liberation Sans", sans-serif' font-size="3.7" text-anchor="middle" fill="#333" font-weight="normal" >22,500</text>
<text x="182.10" y="472.00" font-family='"Liberation Sans", sans-serif' font-size="4.2" text-anchor="middle" fill="#222" font-weight="bold" textLength="51" lengthAdjust="spacingAndGlyphs">Rank in Ordered Dataset</text>
<rect x="108.60" y="477.3" width="126.60" height="7.6" fill="#fff" stroke="#444" stroke-width="0.5"/>
<rect x="109.20" y="477.8" width="5.8" height="6.6" fill="#d4f4d4"/>
<line x1="109.60" y1="481.2" x2="114.60" y2="481.2" stroke="#55dd55" stroke-width="0.8"/>
<text x="115.60" y="482.70" font-family='"Liberation Sans", sans-serif' font-size="4.35" text-anchor="start" fill="#333" font-weight="normal" textLength="37.5" lengthAdjust="spacingAndGlyphs">Enrichment profile</text>
<line x1="155.00" y1="481.2" x2="159.60" y2="481.2" stroke="#666" stroke-width="0.6" stroke-dasharray="1,0.6"/>
<text x="160.40" y="482.70" font-family='"Liberation Sans", sans-serif' font-size="4.35" text-anchor="start" fill="#333" font-weight="normal" >Hits</text>
<line x1="182.00" y1="481.2" x2="188.00" y2="481.2" stroke="#bbb" stroke-width="0.6"/>
<text x="189.40" y="482.70" font-family='"Liberation Sans", sans-serif' font-size="4.35" text-anchor="start" fill="#333" font-weight="normal" textLength="44.2" lengthAdjust="spacingAndGlyphs">Ranking metric scores</text>
<rect x="81.50" y="312.20" width="182.10" height="173.00" fill="none" stroke="#2a2a2a" stroke-width="1.3"/>
<rect x="327.10" y="312.20" width="182.10" height="173.00" fill="#e6e6e6"/>
<rect x="349.90" y="313.00" width="154.90" height="148.60" fill="#fff"/>
<g stroke="#ececec" stroke-width="0.5">
<line x1="366.76" y1="313.20" x2="366.76" y2="461.6"/>
<line x1="383.82" y1="313.20" x2="383.82" y2="461.6"/>
<line x1="400.88" y1="313.20" x2="400.88" y2="461.6"/>
<line x1="417.94" y1="313.20" x2="417.94" y2="461.6"/>
<line x1="435.00" y1="313.20" x2="435.00" y2="461.6"/>
<line x1="452.06" y1="313.20" x2="452.06" y2="461.6"/>
<line x1="469.12" y1="313.20" x2="469.12" y2="461.6"/>
<line x1="486.18" y1="313.20" x2="486.18" y2="461.6"/>
<line x1="503.24" y1="313.20" x2="503.24" y2="461.6"/>
<line x1="349.90" y1="381.50" x2="504.80" y2="381.50"/>
<line x1="349.90" y1="370.80" x2="504.80" y2="370.80"/>
<line x1="349.90" y1="360.10" x2="504.80" y2="360.10"/>
<line x1="349.90" y1="349.40" x2="504.80" y2="349.40"/>
<line x1="349.90" y1="338.70" x2="504.80" y2="338.70"/>
<line x1="349.90" y1="328.00" x2="504.80" y2="328.00"/>
<line x1="349.90" y1="317.30" x2="504.80" y2="317.30"/>
<line x1="349.90" y1="420.80" x2="504.80" y2="420.80"/>
<line x1="349.90" y1="431.30" x2="504.80" y2="431.30"/>
<line x1="349.90" y1="441.80" x2="504.80" y2="441.80"/>
<line x1="349.90" y1="452.50" x2="504.80" y2="452.50"/>
</g>
<line x1="349.90" y1="382.6" x2="504.80" y2="382.6" stroke="#c8c8c8" stroke-width="0.6"/>
<line x1="349.90" y1="408.9" x2="504.80" y2="408.9" stroke="#dcdcdc" stroke-width="0.5"/>
<line x1="349.90" y1="313.20" x2="349.90" y2="461.6" stroke="#c8c8c8" stroke-width="0.5"/>
<line x1="350.70" y1="385.6" x2="350.70" y2="408.3" stroke="#333" stroke-width="1.0"/>
<line x1="351.80" y1="385.6" x2="351.80" y2="408.3" stroke="#444" stroke-width="1.0"/>
<line x1="353.00" y1="385.6" x2="353.00" y2="408.3" stroke="#555" stroke-width="0.9"/>
<line x1="358.10" y1="385.6" x2="358.10" y2="408.3" stroke="#777" stroke-width="0.9"/>
<line x1="359.40" y1="385.6" x2="359.40" y2="408.3" stroke="#888" stroke-width="0.8"/>
<line x1="364.60" y1="385.6" x2="364.60" y2="408.3" stroke="#888" stroke-width="0.8"/>
<line x1="367.10" y1="385.6" x2="367.10" y2="408.3" stroke="#666" stroke-width="0.9"/>
<line x1="368.20" y1="385.6" x2="368.20" y2="408.3" stroke="#777" stroke-width="0.8"/>
<line x1="371.10" y1="385.6" x2="371.10" y2="408.3" stroke="#888" stroke-width="0.8"/>
<line x1="375.20" y1="385.6" x2="375.20" y2="408.3" stroke="#999" stroke-width="0.8"/>
<line x1="381.80" y1="385.6" x2="381.80" y2="408.3" stroke="#888" stroke-width="0.8"/>
<line x1="382.90" y1="385.6" x2="382.90" y2="408.3" stroke="#777" stroke-width="0.8"/>
<line x1="384.20" y1="385.6" x2="384.20" y2="408.3" stroke="#888" stroke-width="0.8"/>
<line x1="385.00" y1="385.6" x2="385.00" y2="408.3" stroke="#999" stroke-width="0.7"/>
<line x1="392.90" y1="385.6" x2="392.90" y2="408.3" stroke="#999" stroke-width="0.8"/>
<line x1="405.50" y1="385.6" x2="405.50" y2="408.3" stroke="#888" stroke-width="0.8"/>
<line x1="406.80" y1="385.6" x2="406.80" y2="408.3" stroke="#999" stroke-width="0.8"/>
<line x1="422.10" y1="385.6" x2="422.10" y2="408.3" stroke="#111" stroke-width="1.1"/>
<line x1="439.60" y1="385.6" x2="439.60" y2="408.3" stroke="#444" stroke-width="1.0"/>
<line x1="441.40" y1="385.6" x2="441.40" y2="408.3" stroke="#333" stroke-width="1.0"/>
<line x1="451.10" y1="385.6" x2="451.10" y2="408.3" stroke="#999" stroke-width="0.8"/>
<line x1="468.80" y1="385.6" x2="468.80" y2="408.3" stroke="#999" stroke-width="0.8"/>
<line x1="489.10" y1="385.6" x2="489.10" y2="408.3" stroke="#999" stroke-width="0.8"/>
<rect x="350.50" y="409.4" width="32.60" height="5.0" fill="#e8343c"/>
<rect x="383.00" y="409.4" width="25.80" height="5.0" fill="#f0606e"/>
<rect x="408.70" y="409.4" width="13.20" height="5.0" fill="#f2a6c4"/>
<rect x="421.80" y="409.4" width="13.90" height="5.0" fill="#dcd4f2"/>
<rect x="435.60" y="409.4" width="11.50" height="5.0" fill="#bcbcf2"/>
<rect x="447.00" y="409.4" width="13.10" height="5.0" fill="#7676e6"/>
<rect x="460.00" y="409.4" width="24.70" height="5.0" fill="#5252de"/>
<rect x="484.60" y="409.4" width="13.70" height="5.0" fill="#1a10c8"/>
<polyline points="350.40,381.50 351.20,359.20 352.40,346.90 353.50,333.00 355.00,332.30 357.30,334.60 359.60,326.90 361.20,324.60 363.50,326.20 365.00,324.60 366.50,325.40 369.60,320.80 372.70,318.50 375.00,316.90 377.30,317.70 381.20,320.80 385.80,317.40 392.70,322.30 394.20,322.30 405.00,329.70 408.00,330.00 420.00,338.70 438.20,352.10 441.10,350.40 450.30,356.00 452.00,355.40 467.60,366.70 469.30,365.10 488.30,378.80 490.00,375.30 497.90,381.40" fill="none" stroke="#33dd33" stroke-width="1.5" stroke-linejoin="round"/>
<polygon points="350.10,441.80 350.10,429.00 351.10,432.50 353.60,435.20 357.60,436.80 370.60,438.30 390.60,439.50 421.60,441.80 445.60,443.30 475.60,445.40 494.60,447.00 496.20,448.40 496.80,452.00 497.30,459.40 497.80,441.80" fill="#c2c2c2" stroke="#b0b0b0" stroke-width="0.3"/>
<text x="351.40" y="418.80" font-family='"Liberation Sans", sans-serif' font-size="3.95" text-anchor="start" fill="#e03030" font-weight="normal" >'1' (positively correlated)</text>
<text x="407.10" y="439.40" font-family='"Liberation Sans", sans-serif' font-size="3.8" text-anchor="start" fill="#444" font-weight="normal" >Zero cross at 10816</text>
<text x="428.30" y="459.20" font-family='"Liberation Sans", sans-serif' font-size="3.9" text-anchor="start" fill="#3030e0" font-weight="normal" >'0' (negatively correlated)</text>
<text x="347.50" y="382.85" font-family='"Liberation Sans", sans-serif' font-size="3.8" text-anchor="end" fill="#333" font-weight="normal" >0.0</text>
<text x="347.50" y="372.15" font-family='"Liberation Sans", sans-serif' font-size="3.8" text-anchor="end" fill="#333" font-weight="normal" >0.1</text>
<text x="347.50" y="361.45" font-family='"Liberation Sans", sans-serif' font-size="3.8" text-anchor="end" fill="#333" font-weight="normal" >0.2</text>
<text x="347.50" y="350.75" font-family='"Liberation Sans", sans-serif' font-size="3.8" text-anchor="end" fill="#333" font-weight="normal" >0.3</text>
<text x="347.50" y="340.05" font-family='"Liberation Sans", sans-serif' font-size="3.8" text-anchor="end" fill="#333" font-weight="normal" >0.4</text>
<text x="347.50" y="329.35" font-family='"Liberation Sans", sans-serif' font-size="3.8" text-anchor="end" fill="#333" font-weight="normal" >0.5</text>
<text x="347.50" y="318.65" font-family='"Liberation Sans", sans-serif' font-size="3.8" text-anchor="end" fill="#333" font-weight="normal" >0.6</text>
<text x="347.50" y="422.15" font-family='"Liberation Sans", sans-serif' font-size="3.8" text-anchor="end" fill="#333" font-weight="normal" >0.50</text>
<text x="347.50" y="432.65" font-family='"Liberation Sans", sans-serif' font-size="3.8" text-anchor="end" fill="#333" font-weight="normal" >0.25</text>
<text x="347.50" y="443.15" font-family='"Liberation Sans", sans-serif' font-size="3.8" text-anchor="end" fill="#333" font-weight="normal" >0.00</text>
<text x="347.50" y="453.85" font-family='"Liberation Sans", sans-serif' font-size="3.8" text-anchor="end" fill="#333" font-weight="normal" >-0.25</text>
<text x="0.00" y="0.00" font-family='"Liberation Sans", sans-serif' font-size="4.3" text-anchor="middle" fill="#222" font-weight="bold" transform="translate(339.60,349) rotate(-90)">Enrichment score (ES)</text>
<text x="0.00" y="0.00" font-family='"Liberation Sans", sans-serif' font-size="4.6" text-anchor="middle" fill="#222" font-weight="bold" transform="translate(335.80,438.2) rotate(-90)">Ranked list metric (Signal2Noise)</text>
<text x="349.70" y="467.10" font-family='"Liberation Sans", sans-serif' font-size="3.7" text-anchor="middle" fill="#333" font-weight="normal" >0</text>
<text x="366.76" y="467.10" font-family='"Liberation Sans", sans-serif' font-size="3.7" text-anchor="middle" fill="#333" font-weight="normal" >2,500</text>
<text x="383.82" y="467.10" font-family='"Liberation Sans", sans-serif' font-size="3.7" text-anchor="middle" fill="#333" font-weight="normal" >5,000</text>
<text x="400.88" y="467.10" font-family='"Liberation Sans", sans-serif' font-size="3.7" text-anchor="middle" fill="#333" font-weight="normal" >7,500</text>
<text x="417.94" y="467.10" font-family='"Liberation Sans", sans-serif' font-size="3.7" text-anchor="middle" fill="#333" font-weight="normal" >10,000</text>
<text x="435.00" y="467.10" font-family='"Liberation Sans", sans-serif' font-size="3.7" text-anchor="middle" fill="#333" font-weight="normal" >12,500</text>
<text x="452.06" y="467.10" font-family='"Liberation Sans", sans-serif' font-size="3.7" text-anchor="middle" fill="#333" font-weight="normal" >15,000</text>
<text x="469.12" y="467.10" font-family='"Liberation Sans", sans-serif' font-size="3.7" text-anchor="middle" fill="#333" font-weight="normal" >17,500</text>
<text x="486.18" y="467.10" font-family='"Liberation Sans", sans-serif' font-size="3.7" text-anchor="middle" fill="#333" font-weight="normal" >20,000</text>
<text x="503.24" y="467.10" font-family='"Liberation Sans", sans-serif' font-size="3.7" text-anchor="middle" fill="#333" font-weight="normal" >22,500</text>
<text x="427.70" y="472.00" font-family='"Liberation Sans", sans-serif' font-size="4.2" text-anchor="middle" fill="#222" font-weight="bold" textLength="51" lengthAdjust="spacingAndGlyphs">Rank in Ordered Dataset</text>
<rect x="354.20" y="477.3" width="126.60" height="7.6" fill="#fff" stroke="#444" stroke-width="0.5"/>
<rect x="354.80" y="477.8" width="5.8" height="6.6" fill="#d4f4d4"/>
<line x1="355.20" y1="481.2" x2="360.20" y2="481.2" stroke="#55dd55" stroke-width="0.8"/>
<text x="361.20" y="482.70" font-family='"Liberation Sans", sans-serif' font-size="4.35" text-anchor="start" fill="#333" font-weight="normal" textLength="37.5" lengthAdjust="spacingAndGlyphs">Enrichment profile</text>
<line x1="400.60" y1="481.2" x2="405.20" y2="481.2" stroke="#666" stroke-width="0.6" stroke-dasharray="1,0.6"/>
<text x="406.00" y="482.70" font-family='"Liberation Sans", sans-serif' font-size="4.35" text-anchor="start" fill="#333" font-weight="normal" >Hits</text>
<line x1="427.60" y1="481.2" x2="433.60" y2="481.2" stroke="#bbb" stroke-width="0.6"/>
<text x="435.00" y="482.70" font-family='"Liberation Sans", sans-serif' font-size="4.35" text-anchor="start" fill="#333" font-weight="normal" textLength="44.2" lengthAdjust="spacingAndGlyphs">Ranking metric scores</text>
<rect x="327.10" y="312.20" width="182.10" height="173.00" fill="none" stroke="#2a2a2a" stroke-width="1.3"/>
<rect x="81.30" y="491.5" width="181.90" height="24.90" fill="#d9d9d9"/>
<rect x="81.30" y="491.5" width="181.90" height="37.50" fill="none" stroke="#111" stroke-width="1.1"/>
<line x1="81.30" y1="516.4" x2="263.20" y2="516.4" stroke="#111" stroke-width="1.1"/>
<line x1="106.80" y1="491.5" x2="106.80" y2="529.0" stroke="#111" stroke-width="1.1"/>
<line x1="154.20" y1="491.5" x2="154.20" y2="529.0" stroke="#111" stroke-width="1.1"/>
<line x1="191.60" y1="491.5" x2="191.60" y2="529.0" stroke="#111" stroke-width="1.1"/>
<line x1="226.90" y1="491.5" x2="226.90" y2="529.0" stroke="#111" stroke-width="1.1"/>
<text x="93.75" y="507.40" font-family='"Liberation Sans", sans-serif' font-size="8.2" text-anchor="middle" fill="#111" font-weight="bold" style="letter-spacing:0.25px">ES</text>
<text x="130.20" y="507.40" font-family='"Liberation Sans", sans-serif' font-size="8.2" text-anchor="middle" fill="#111" font-weight="bold" style="letter-spacing:0.25px">NES</text>
<text x="172.60" y="507.40" font-family='"Liberation Sans", sans-serif' font-size="8.2" text-anchor="middle" fill="#111" font-weight="bold" style="letter-spacing:0.25px">p-value</text>
<text x="208.95" y="501.30" font-family='"Liberation Sans", sans-serif' font-size="8.2" text-anchor="middle" fill="#111" font-weight="bold" style="letter-spacing:0.25px">FDR</text>
<text x="208.95" y="513.10" font-family='"Liberation Sans", sans-serif' font-size="8.2" text-anchor="middle" fill="#111" font-weight="bold" style="letter-spacing:0.25px">q-value</text>
<text x="244.75" y="501.30" font-family='"Liberation Sans", sans-serif' font-size="8.2" text-anchor="middle" fill="#111" font-weight="bold" style="letter-spacing:0.25px">FWER</text>
<text x="244.75" y="513.10" font-family='"Liberation Sans", sans-serif' font-size="8.2" text-anchor="middle" fill="#111" font-weight="bold" style="letter-spacing:0.25px">p-value</text>
<text x="94.45" y="525.90" font-family='"Liberation Sans", sans-serif' font-size="8.2" text-anchor="middle" fill="#111" font-weight="bold" style="letter-spacing:0.75px">0.7</text>
<text x="130.90" y="525.90" font-family='"Liberation Sans", sans-serif' font-size="8.2" text-anchor="middle" fill="#111" font-weight="bold" style="letter-spacing:0.75px">1.67</text>
<text x="173.30" y="525.90" font-family='"Liberation Sans", sans-serif' font-size="8.2" text-anchor="middle" fill="#111" font-weight="bold" style="letter-spacing:0.75px">&lt;0.0001</text>
<text x="209.65" y="525.90" font-family='"Liberation Sans", sans-serif' font-size="8.2" text-anchor="middle" fill="#111" font-weight="bold" style="letter-spacing:0.75px">&lt;0.0001</text>
<text x="245.45" y="525.90" font-family='"Liberation Sans", sans-serif' font-size="8.2" text-anchor="middle" fill="#111" font-weight="bold" style="letter-spacing:0.75px">&lt;0.0001</text>
<rect x="327.70" y="491.5" width="181.20" height="24.90" fill="#d9d9d9"/>
<rect x="327.70" y="491.5" width="181.20" height="37.50" fill="none" stroke="#111" stroke-width="1.1"/>
<line x1="327.70" y1="516.4" x2="508.90" y2="516.4" stroke="#111" stroke-width="1.1"/>
<line x1="351.30" y1="491.5" x2="351.30" y2="529.0" stroke="#111" stroke-width="1.1"/>
<line x1="399.20" y1="491.5" x2="399.20" y2="529.0" stroke="#111" stroke-width="1.1"/>
<line x1="436.60" y1="491.5" x2="436.60" y2="529.0" stroke="#111" stroke-width="1.1"/>
<line x1="472.40" y1="491.5" x2="472.40" y2="529.0" stroke="#111" stroke-width="1.1"/>
<text x="339.20" y="507.40" font-family='"Liberation Sans", sans-serif' font-size="8.2" text-anchor="middle" fill="#111" font-weight="bold" style="letter-spacing:0.25px">ES</text>
<text x="374.95" y="507.40" font-family='"Liberation Sans", sans-serif' font-size="8.2" text-anchor="middle" fill="#111" font-weight="bold" style="letter-spacing:0.25px">NES</text>
<text x="417.60" y="507.40" font-family='"Liberation Sans", sans-serif' font-size="8.2" text-anchor="middle" fill="#111" font-weight="bold" style="letter-spacing:0.25px">p-value</text>
<text x="454.20" y="501.30" font-family='"Liberation Sans", sans-serif' font-size="8.2" text-anchor="middle" fill="#111" font-weight="bold" style="letter-spacing:0.25px">FDR</text>
<text x="454.20" y="513.10" font-family='"Liberation Sans", sans-serif' font-size="8.2" text-anchor="middle" fill="#111" font-weight="bold" style="letter-spacing:0.25px">q-value</text>
<text x="490.35" y="501.30" font-family='"Liberation Sans", sans-serif' font-size="8.2" text-anchor="middle" fill="#111" font-weight="bold" style="letter-spacing:0.25px">FWER</text>
<text x="490.35" y="513.10" font-family='"Liberation Sans", sans-serif' font-size="8.2" text-anchor="middle" fill="#111" font-weight="bold" style="letter-spacing:0.25px">p-value</text>
<text x="339.90" y="525.90" font-family='"Liberation Sans", sans-serif' font-size="8.2" text-anchor="middle" fill="#111" font-weight="bold" style="letter-spacing:0.75px">0.6</text>
<text x="375.65" y="525.90" font-family='"Liberation Sans", sans-serif' font-size="8.2" text-anchor="middle" fill="#111" font-weight="bold" style="letter-spacing:0.75px">1.5</text>
<text x="418.30" y="525.90" font-family='"Liberation Sans", sans-serif' font-size="8.2" text-anchor="middle" fill="#111" font-weight="bold" style="letter-spacing:0.75px">0.006</text>
<text x="454.90" y="525.90" font-family='"Liberation Sans", sans-serif' font-size="8.2" text-anchor="middle" fill="#111" font-weight="bold" style="letter-spacing:0.75px">0.006</text>
<text x="491.05" y="525.90" font-family='"Liberation Sans", sans-serif' font-size="8.2" text-anchor="middle" fill="#111" font-weight="bold" style="letter-spacing:0.75px">0.003</text>
</svg>
</body></html>
